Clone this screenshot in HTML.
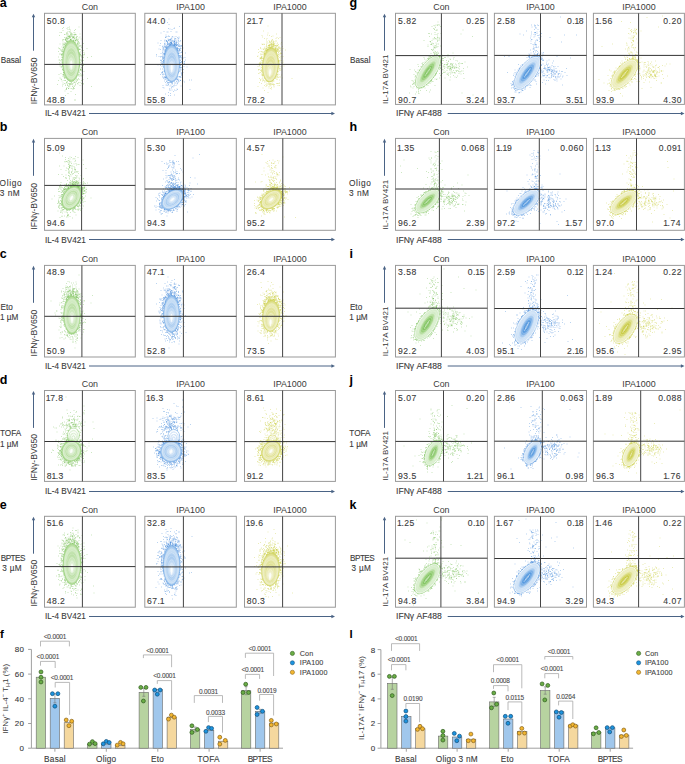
<!DOCTYPE html>
<html><head><meta charset="utf-8"><title>Figure</title>
<style>html,body{margin:0;padding:0;background:#fff;width:685px;height:764px;overflow:hidden;font-family:"Liberation Sans",sans-serif}svg{display:block}</style>
</head><body><svg width="685" height="764" viewBox="0 0 685 764" font-family='"Liberation Sans", sans-serif'><defs><radialGradient id="L0"><stop offset="0" stop-color="#ffffff"/><stop offset=".25" stop-color="#c9e7b8"/><stop offset=".55" stop-color="#a6d68a"/><stop offset="1" stop-color="#c9e7b8"/></radialGradient><radialGradient id="R0"><stop offset="0" stop-color="#7cc25a"/><stop offset=".35" stop-color="#7cc25a"/><stop offset=".7" stop-color="#a6d68a"/><stop offset="1" stop-color="#c9e7b8" stop-opacity="0"/></radialGradient><radialGradient id="L1"><stop offset="0" stop-color="#ffffff"/><stop offset=".25" stop-color="#bcd7f3"/><stop offset=".55" stop-color="#8ebbeb"/><stop offset="1" stop-color="#bcd7f3"/></radialGradient><radialGradient id="R1"><stop offset="0" stop-color="#4a92dc"/><stop offset=".35" stop-color="#4a92dc"/><stop offset=".7" stop-color="#8ebbeb"/><stop offset="1" stop-color="#bcd7f3" stop-opacity="0"/></radialGradient><radialGradient id="L2"><stop offset="0" stop-color="#ffffff"/><stop offset=".25" stop-color="#e6e7a6"/><stop offset=".55" stop-color="#d8da78"/><stop offset="1" stop-color="#e6e7a6"/></radialGradient><radialGradient id="R2"><stop offset="0" stop-color="#c6c83a"/><stop offset=".35" stop-color="#c6c83a"/><stop offset=".7" stop-color="#d8da78"/><stop offset="1" stop-color="#e6e7a6" stop-opacity="0"/></radialGradient><radialGradient id="g1" fx="0.500" fy="0.598"><stop offset="0" stop-color="#fafdf8"/><stop offset=".25" stop-color="#d9eecd"/><stop offset=".55" stop-color="#b8dea1"/><stop offset=".8" stop-color="#d4ecc6"/><stop offset="1" stop-color="#a6d68a"/></radialGradient><radialGradient id="g2" fx="0.500" fy="0.635"><stop offset="0" stop-color="#fafdf8"/><stop offset=".25" stop-color="#d0e3f7"/><stop offset=".55" stop-color="#a5c9ef"/><stop offset=".8" stop-color="#c9dff5"/><stop offset="1" stop-color="#8ebbeb"/></radialGradient><radialGradient id="g3" fx="0.500" fy="0.735"><stop offset="0" stop-color="#fafdf8"/><stop offset=".25" stop-color="#eeeec1"/><stop offset=".55" stop-color="#dfe08f"/><stop offset=".8" stop-color="#ebecb8"/><stop offset="1" stop-color="#d8da78"/></radialGradient><radialGradient id="g4" fx="0.500" fy="0.500"><stop offset="0" stop-color="#fafdf8"/><stop offset=".25" stop-color="#d9eecd"/><stop offset=".55" stop-color="#b8dea1"/><stop offset=".8" stop-color="#d4ecc6"/><stop offset="1" stop-color="#a6d68a"/></radialGradient><radialGradient id="g5" fx="0.500" fy="0.500"><stop offset="0" stop-color="#fafdf8"/><stop offset=".25" stop-color="#d0e3f7"/><stop offset=".55" stop-color="#a5c9ef"/><stop offset=".8" stop-color="#c9dff5"/><stop offset="1" stop-color="#8ebbeb"/></radialGradient><radialGradient id="g6" fx="0.500" fy="0.500"><stop offset="0" stop-color="#fafdf8"/><stop offset=".25" stop-color="#eeeec1"/><stop offset=".55" stop-color="#dfe08f"/><stop offset=".8" stop-color="#ebecb8"/><stop offset="1" stop-color="#d8da78"/></radialGradient><radialGradient id="g7" fx="0.500" fy="0.605"><stop offset="0" stop-color="#fafdf8"/><stop offset=".25" stop-color="#d9eecd"/><stop offset=".55" stop-color="#b8dea1"/><stop offset=".8" stop-color="#d4ecc6"/><stop offset="1" stop-color="#a6d68a"/></radialGradient><radialGradient id="g8" fx="0.500" fy="0.608"><stop offset="0" stop-color="#fafdf8"/><stop offset=".25" stop-color="#d0e3f7"/><stop offset=".55" stop-color="#a5c9ef"/><stop offset=".8" stop-color="#c9dff5"/><stop offset="1" stop-color="#8ebbeb"/></radialGradient><radialGradient id="g9" fx="0.500" fy="0.726"><stop offset="0" stop-color="#fafdf8"/><stop offset=".25" stop-color="#eeeec1"/><stop offset=".55" stop-color="#dfe08f"/><stop offset=".8" stop-color="#ebecb8"/><stop offset="1" stop-color="#d8da78"/></radialGradient><radialGradient id="g10" fx="0.500" fy="0.500"><stop offset="0" stop-color="#fafdf8"/><stop offset=".25" stop-color="#d9eecd"/><stop offset=".55" stop-color="#b8dea1"/><stop offset=".8" stop-color="#d4ecc6"/><stop offset="1" stop-color="#a6d68a"/></radialGradient><radialGradient id="g11" fx="0.500" fy="0.500"><stop offset="0" stop-color="#fafdf8"/><stop offset=".25" stop-color="#d0e3f7"/><stop offset=".55" stop-color="#a5c9ef"/><stop offset=".8" stop-color="#c9dff5"/><stop offset="1" stop-color="#8ebbeb"/></radialGradient><radialGradient id="g12" fx="0.500" fy="0.500"><stop offset="0" stop-color="#fafdf8"/><stop offset=".25" stop-color="#eeeec1"/><stop offset=".55" stop-color="#dfe08f"/><stop offset=".8" stop-color="#ebecb8"/><stop offset="1" stop-color="#d8da78"/></radialGradient><radialGradient id="g13" fx="0.500" fy="0.598"><stop offset="0" stop-color="#fafdf8"/><stop offset=".25" stop-color="#d9eecd"/><stop offset=".55" stop-color="#b8dea1"/><stop offset=".8" stop-color="#d4ecc6"/><stop offset="1" stop-color="#a6d68a"/></radialGradient><radialGradient id="g14" fx="0.500" fy="0.625"><stop offset="0" stop-color="#fafdf8"/><stop offset=".25" stop-color="#d0e3f7"/><stop offset=".55" stop-color="#a5c9ef"/><stop offset=".8" stop-color="#c9dff5"/><stop offset="1" stop-color="#8ebbeb"/></radialGradient><radialGradient id="g15" fx="0.500" fy="0.712"><stop offset="0" stop-color="#fafdf8"/><stop offset=".25" stop-color="#eeeec1"/><stop offset=".55" stop-color="#dfe08f"/><stop offset=".8" stop-color="#ebecb8"/><stop offset="1" stop-color="#d8da78"/></radialGradient></defs><text x="-0.3" y="6.6" font-size="12.50" text-anchor="start" fill="#000" font-weight="bold" >a</text><text x="349.6" y="6.6" font-size="12.50" text-anchor="start" fill="#000" font-weight="bold" >g</text><text x="0.7" y="62.8" font-size="8.20" text-anchor="start" fill="#3a3a3a" font-weight="normal" stroke="#3a3a3a" stroke-width=".1" letter-spacing="0.00">Basal</text><text x="350.0" y="62.8" font-size="8.20" text-anchor="start" fill="#3a3a3a" font-weight="normal" stroke="#3a3a3a" stroke-width=".1" letter-spacing="0.00">Basal</text><text x="89.9" y="9.6" font-size="8.90" text-anchor="middle" fill="#3a3a3a">Con</text><path transform="scale(.5)" d="M130 125h0M152 104h0M129 114h0M147 142h0M130 85h0M149 127h0M157 140h0M141 109h0M168 109h0M134 89h0M143 119h0M139 115h0M145 133h0M153 121h0M124 133h0M128 112h0M127 116h0M134 121h0M175 115h0M150 84h0M139 132h0M141 125h0M143 92h0M148 97h0M161 104h0M149 116h0M152 102h0M152 113h0M155 131h0M143 97h0M150 127h0M158 107h0M148 128h0M145 121h0M144 102h0M132 106h0M148 152h0M152 141h0M150 133h0M144 135h0M160 108h0M135 163h0M144 139h0M151 89h0M166 159h0M144 134h0M143 95h0M141 125h0M153 133h0M143 149h0M134 135h0M153 109h0M124 94h0M144 129h0M157 92h0M142 132h0M140 59h0M150 171h0M152 94h0M138 121h0M167 131h0M143 153h0M141 161h0M135 105h0M149 150h0M149 123h0M124 99h0M136 103h0M148 108h0M150 118h0M139 119h0M146 137h0M137 110h0M128 154h0M157 112h0M137 86h0M144 121h0M164 122h0M134 57h0M156 121h0M126 120h0M126 200h0M153 130h0M140 65h0M141 79h0M148 65h0M133 145h0M158 88h0M127 137h0M151 92h0M135 99h0M130 100h0M155 133h0M163 114h0M141 92h0M141 84h0M124 133h0M156 136h0M155 122h0M135 118h0M138 89h0M125 80h0M142 120h0M137 150h0M144 130h0M154 96h0M122 134h0M135 147h0M145 140h0M150 66h0M149 100h0M134 106h0M150 137h0M152 76h0M136 59h0M141 130h0M134 122h0M144 140h0M134 96h0M134 158h0M153 113h0M144 119h0M144 111h0M139 86h0M136 156h0M147 118h0M140 118h0M146 100h0M144 122h0M135 97h0M132 90h0M151 59h0M139 101h0M136 118h0M153 118h0M141 101h0M141 138h0M138 88h0M129 89h0M128 142h0M146 110h0M157 100h0M150 135h0M127 79h0M133 138h0M155 87h0M152 107h0M138 103h0M139 72h0M132 86h0M147 166h0M169 108h0M125 106h0M133 164h0M148 99h0M151 129h0M126 103h0M140 116h0M143 108h0M144 102h0M133 152h0M146 127h0M126 112h0M150 85h0M153 107h0M146 113h0M144 145h0M138 154h0M134 94h0M149 90h0M138 138h0M154 73h0M147 161h0M154 110h0M136 109h0M130 110h0M140 113h0M154 110h0M127 141h0M131 105h0M141 108h0M132 110h0M164 101h0M141 143h0M149 134h0M151 69h0M133 119h0M147 147h0M147 110h0M142 111h0M144 132h0M139 96h0M133 142h0M155 140h0M151 136h0M142 132h0M131 111h0M135 133h0M136 113h0M146 149h0M134 93h0M150 89h0M147 102h0M141 72h0M149 104h0M133 166h0M149 200h0M146 108h0M143 155h0M142 127h0M147 94h0M143 104h0M130 137h0M149 118h0M133 68h0M147 114h0M125 115h0M127 115h0M143 125h0M144 120h0M131 107h0M137 110h0M145 131h0M158 54h0M146 111h0M165 138h0M125 126h0M137 140h0M131 114h0M141 114h0M136 72h0M147 140h0M141 92h0M144 130h0M140 116h0M156 89h0M136 70h0M135 98h0M132 99h0M160 111h0M141 169h0M141 74h0M146 94h0M158 86h0M136 77h0M143 92h0M141 107h0M136 139h0M151 117h0M133 90h0M145 173h0M137 97h0M135 90h0M132 111h0M156 116h0M137 77h0M144 115h0M130 90h0M142 140h0M148 121h0M139 124h0M142 168h0M131 107h0M155 110h0M156 115h0M143 107h0M128 93h0M164 131h0M148 139h0M148 141h0M139 111h0M152 108h0M129 111h0M137 131h0M135 91h0M139 153h0M142 120h0M142 123h0M151 149h0M126 149h0M142 108h0M166 112h0M161 139h0M132 128h0M149 113h0M119 108h0M140 89h0M160 110h0M138 109h0M134 97h0M143 124h0M137 114h0M128 129h0M135 121h0M133 104h0M144 87h0M167 115h0M141 98h0M158 149h0M145 83h0M137 131h0M137 88h0M130 97h0M142 100h0M142 183h0M160 91h0M145 118h0M141 141h0M139 108h0M138 114h0M155 135h0M129 105h0M134 136h0M144 137h0M141 70h0M147 121h0M147 85h0M143 99h0M135 124h0M146 95h0M125 57h0M136 143h0M141 62h0M133 126h0M159 144h0M146 121h0M131 105h0M139 97h0M143 107h0M145 150h0M117 96h0M168 143h0M133 77h0M139 147h0M139 74h0M167 128h0M183 173h0M183 113h0M174 97h0M135 108h0M157 106h0M128 161h0M127 149h0M149 69h0M153 80h0M163 95h0M126 111h0M159 113h0M125 109h0M139 54h0M162 149h0M157 95h0M117 114h0M123 159h0M124 124h0M138 72h0M151 81h0M156 79h0M168 105h0M124 115h0M131 90h0M127 145h0M137 173h0M164 142h0M156 80h0M126 99h0M146 75h0M144 169h0M137 74h0M133 177h0M149 85h0M167 87h0M123 108h0M158 134h0M150 69h0M140 163h0M154 94h0M130 153h0M128 96h0M156 86h0M131 91h0M156 168h0M165 122h0M128 103h0M124 128h0M161 109h0M147 75h0M147 76h0M121 108h0M133 178h0M165 150h0M131 156h0M167 168h0M152 80h0M160 125h0M124 103h0M160 125h0M133 76h0M136 171h0M130 147h0M140 74h0M159 108h0M132 87h0M134 83h0M151 166h0M129 92h0M149 72h0M123 119h0M145 74h0M152 70h0M164 116h0M131 79h0M133 156h0M163 161h0M150 86h0M155 167h0M130 161h0M157 165h0M139 83h0M149 165h0M134 67h0M133 165h0M125 172h0M160 171h0M123 109h0M158 99h0M152 69h0M137 177h0M143 165h0M135 78h0M159 119h0M131 80h0M124 162h0M148 70h0M155 159h0M139 72h0M138 81h0M161 110h0M120 132h0M144 68h0M120 127h0M120 156h0M121 100h0M126 139h0M136 55h0M141 83h0M131 81h0M122 121h0M162 138h0M136 160h0M167 121h0M129 69h0M146 172h0M120 98h0M158 159h0M143 71h0M162 93h0M128 148h0M159 130h0M131 191h0M128 88h0M162 120h0M126 61h0M151 189h0M149 164h0M140 81h0M156 98h0M136 78h0M145 72h0M147 75h0M131 76h0M159 86h0M146 179h0M139 169h0M162 151h0M149 76h0M142 168h0M143 73h0M139 172h0M168 110h0M128 151h0M127 95h0M131 155h0M119 120h0M134 79h0M140 75h0M125 139h0M146 83h0M147 176h0M125 90h0M126 103h0M162 127h0M127 138h0M166 150h0M127 105h0M155 161h0M163 135h0M140 172h0M158 145h0M153 163h0M153 76h0M147 81h0M126 125h0M125 102h0M148 80h0M138 82h0M159 131h0M124 101h0M125 132h0M126 166h0M159 132h0M129 75h0M156 84h0M126 153h0M130 150h0M151 169h0M146 69h0M133 178h0M142 79h0M136 82h0M147 74h0M129 148h0M131 78h0M144 78h0M136 73h0M161 147h0M160 99h0M148 82h0M136 160h0M139 73h0M140 78h0M139 168h0M127 148h0M137 167h0M157 98h0M123 102h0M134 86h0M147 177h0M124 119h0M126 141h0M161 139h0M157 83h0M152 164h0M134 75h0M153 158h0M127 89h0M161 140h0M163 140h0M134 74h0M156 96h0M141 167h0M126 87h0M126 169h0M129 88h0M127 145h0M162 78h0M154 78h0M135 166h0M141 79h0M163 122h0M128 101h0M117 103h0M162 113h0M131 161h0M134 66h0M163 111h0M119 125h0M142 66h0M139 76h0M147 82h0M159 152h0M145 74h0M152 158h0M142 164h0M147 83h0M138 74h0M131 168h0M119 97h0M137 73h0M160 165h0M143 81h0M126 98h0M136 85h0M120 65h0M165 139h0M136 63h0M141 80h0M123 109h0M149 77h0M137 177h0M165 115h0M136 83h0M135 77h0M139 83h0M145 76h0M145 168h0M146 83h0M158 93h0M124 126h0M149 173h0M148 84h0M162 140h0M138 176h0M160 74h0M151 80h0M144 68h0M134 175h0M144 83h0M124 114h0M122 158h0M151 82h0M158 110h0M145 82h0M133 81h0M130 79h0M156 86h0M158 148h0M142 66h0M148 80h0M129 167h0M129 145h0M123 111h0M130 182h0M166 167h0M147 175h0M139 63h0M160 108h0M154 82h0M130 69h0M158 76h0M118 120h0M134 70h0M133 82h0M127 95h0M132 79h0M126 96h0M125 130h0M141 80h0M115 169h0M157 157h0M151 89h0M159 105h0M126 84h0M142 177h0M124 135h0M139 167h0M158 141h0M144 177h0M160 68h0M134 83h0M160 132h0M155 88h0M128 151h0M119 71h0M149 177h0M156 90h0M158 97h0M154 73h0M131 87h0M126 80h0M134 65h0M141 83h0M135 169h0M122 147h0M117 161h0M133 155h0M144 167h0M136 187h0M133 76h0M142 78h0M134 83h0M125 138h0M159 99h0M147 73h0M151 81h0M120 88h0M162 152h0M129 154h0M159 92h0M164 130h0M125 131h0M127 55h0M162 120h0M153 75h0M175 157h0M126 150h0M151 200h0M153 153h0M152 161h0M131 94h0M139 58h0M163 167h0M159 108h0M166 130h0M156 150h0M135 171h0M155 81h0M142 79h0M146 162h0M126 107h0M136 68h0M128 145h0M154 91h0M152 155h0M140 74h0M156 84h0M123 65h0M162 136h0M157 150h0M131 171h0M167 101h0M122 122h0M150 76h0M122 129h0M118 149h0M161 140h0M126 110h0M129 155h0M142 67h0M159 124h0M129 100h0M129 157h0M127 92h0M132 179h0M140 83h0M148 74h0M154 88h0M164 152h0M153 79h0M149 61h0M165 142h0M125 108h0M160 99h0M141 69h0M135 82h0M146 81h0M143 69h0M156 152h0M162 91h0M133 84h0" stroke="#72bf52" stroke-opacity=".42" stroke-width="1.7" stroke-linecap="square"/><g transform="translate(71.2 61.0) rotate(0.0)"><ellipse rx="8.6" ry="20.5" fill="url(#g1)" stroke="#8fcd72" stroke-width=".6" stroke-opacity=".8"/><ellipse cx="0.00" cy="0.57" rx="7.37" ry="17.57" fill="none" stroke="#fff" stroke-width=".4" stroke-opacity=".6"/><ellipse cx="0.00" cy="1.14" rx="6.14" ry="14.64" fill="none" stroke="#fff" stroke-width=".4" stroke-opacity=".6"/><ellipse cx="0.00" cy="1.71" rx="4.91" ry="11.71" fill="none" stroke="#fff" stroke-width=".4" stroke-opacity=".6"/><ellipse cx="0.00" cy="2.29" rx="3.69" ry="8.79" fill="none" stroke="#fff" stroke-width=".4" stroke-opacity=".6"/><ellipse cx="0.00" cy="2.86" rx="2.46" ry="5.86" fill="none" stroke="#fff" stroke-width=".4" stroke-opacity=".6"/><ellipse cx="0.00" cy="3.43" rx="1.23" ry="2.93" fill="none" stroke="#fff" stroke-width=".4" stroke-opacity=".6"/><ellipse cx="0.00" cy="4.00" rx="0.86" ry="4.51" fill="#fff" fill-opacity=".75"/></g><rect x="44.5" y="13.3" width="90.8" height="91.6" fill="none" stroke="#999999" stroke-width="1"/><line x1="82.4" y1="13.3" x2="82.4" y2="104.9" stroke="#444" stroke-width="1"/><line x1="44.5" y1="64.4" x2="135.3" y2="64.4" stroke="#333333" stroke-width="1"/><text x="46.8" y="24.0" font-size="8.60" text-anchor="start" fill="#3a3a3a" font-weight="normal" stroke="#3a3a3a" stroke-width=".1" letter-spacing=".45">50.8</text><text x="46.8" y="102.6" font-size="8.60" text-anchor="start" fill="#3a3a3a" font-weight="normal" stroke="#3a3a3a" stroke-width=".1" letter-spacing=".45">48.8</text><text x="190.6" y="9.6" font-size="8.90" text-anchor="middle" fill="#3a3a3a">IPA100</text><path transform="scale(.5)" d="M345 96h0M365 68h0M334 124h0M352 73h0M338 153h0M356 112h0M342 97h0M346 93h0M322 81h0M343 86h0M353 149h0M352 134h0M353 125h0M351 129h0M350 94h0M335 94h0M350 130h0M334 94h0M336 139h0M341 112h0M335 115h0M358 102h0M339 159h0M349 91h0M353 88h0M348 57h0M332 140h0M336 101h0M343 118h0M337 102h0M360 154h0M345 90h0M337 111h0M347 157h0M337 122h0M338 122h0M335 127h0M354 109h0M339 121h0M329 162h0M329 109h0M333 154h0M337 106h0M361 115h0M334 118h0M344 100h0M340 113h0M349 137h0M350 115h0M350 113h0M354 128h0M338 148h0M327 95h0M334 115h0M330 89h0M323 121h0M334 171h0M350 91h0M355 121h0M353 91h0M354 145h0M338 98h0M338 125h0M366 162h0M357 113h0M339 127h0M339 107h0M340 139h0M341 124h0M339 113h0M339 149h0M344 154h0M340 144h0M328 108h0M341 103h0M341 96h0M340 102h0M342 111h0M332 108h0M342 87h0M343 148h0M340 131h0M348 99h0M355 179h0M332 170h0M335 153h0M324 146h0M343 87h0M334 93h0M333 127h0M340 58h0M339 129h0M343 159h0M324 124h0M342 136h0M329 87h0M340 120h0M324 127h0M342 136h0M316 130h0M333 107h0M350 159h0M344 116h0M355 97h0M341 106h0M332 123h0M363 124h0M347 117h0M353 123h0M333 121h0M357 116h0M354 116h0M362 125h0M349 111h0M350 113h0M327 125h0M330 154h0M350 119h0M349 56h0M358 102h0M349 180h0M326 108h0M346 128h0M325 96h0M357 104h0M348 85h0M333 74h0M345 146h0M343 112h0M345 129h0M339 132h0M362 172h0M336 88h0M361 142h0M354 133h0M340 142h0M353 147h0M331 143h0M339 110h0M346 110h0M365 132h0M345 114h0M345 113h0M348 139h0M351 88h0M339 120h0M330 127h0M341 120h0M346 103h0M358 143h0M337 129h0M350 100h0M339 135h0M316 86h0M345 133h0M333 139h0M364 123h0M342 120h0M332 132h0M344 136h0M356 119h0M344 126h0M360 83h0M342 103h0M343 138h0M343 136h0M344 101h0M335 85h0M344 109h0M351 142h0M333 92h0M348 97h0M344 133h0M338 161h0M334 129h0M338 49h0M340 114h0M348 115h0M335 106h0M339 137h0M339 148h0M351 100h0M352 64h0M342 95h0M341 146h0M342 114h0M355 100h0M334 142h0M348 84h0M344 137h0M340 109h0M343 123h0M335 138h0M326 116h0M364 93h0M342 63h0M334 91h0M343 106h0M361 96h0M342 124h0M349 140h0M326 171h0M339 101h0M326 108h0M324 123h0M336 126h0M334 120h0M364 146h0M344 95h0M357 77h0M328 149h0M336 151h0M348 171h0M360 132h0M336 132h0M356 122h0M313 109h0M338 117h0M339 146h0M329 129h0M322 66h0M332 100h0M333 101h0M348 132h0M343 123h0M335 94h0M328 108h0M331 110h0M349 131h0M355 96h0M320 91h0M362 135h0M338 150h0M338 158h0M338 108h0M349 91h0M340 165h0M346 92h0M339 117h0M334 128h0M355 119h0M351 125h0M343 100h0M352 151h0M337 97h0M347 120h0M353 130h0M341 85h0M348 120h0M329 82h0M324 133h0M338 38h0M333 103h0M341 119h0M339 136h0M352 113h0M358 115h0M333 122h0M328 111h0M331 108h0M344 59h0M346 124h0M340 135h0M345 109h0M332 136h0M350 82h0M335 89h0M350 104h0M329 154h0M347 124h0M344 114h0M342 139h0M346 107h0M343 163h0M336 86h0M343 90h0M368 133h0M348 127h0M362 93h0M341 78h0M354 116h0M360 111h0M331 101h0M350 98h0M345 100h0M335 104h0M358 92h0M345 137h0M334 82h0M357 160h0M339 89h0M351 117h0M334 108h0M318 98h0M330 86h0M348 124h0M359 53h0M335 97h0M355 143h0M343 120h0M334 105h0M337 57h0M361 135h0M363 148h0M347 138h0M325 93h0M350 108h0M326 117h0M329 118h0M358 90h0M337 131h0M342 122h0M333 109h0M318 113h0M355 90h0M340 135h0M354 146h0M333 107h0M360 106h0M345 97h0M335 45h0M336 64h0M332 94h0M355 136h0M346 105h0M328 129h0M333 115h0M351 113h0M341 93h0M352 130h0M349 157h0M325 118h0M348 126h0M345 129h0M326 115h0M354 116h0M340 138h0M324 127h0M357 111h0M333 130h0M337 97h0M343 77h0M349 88h0M336 135h0M341 124h0M356 154h0M363 104h0M351 77h0M350 149h0M334 129h0M350 113h0M335 154h0M328 121h0M351 123h0M358 153h0M346 161h0M349 87h0M338 124h0M344 76h0M365 79h0M330 128h0M344 155h0M344 127h0M349 100h0M329 106h0M352 111h0M354 104h0M349 118h0M350 118h0M344 106h0M354 117h0M347 133h0M333 97h0M341 148h0M331 93h0M332 108h0M331 98h0M347 91h0M342 89h0M340 130h0M328 63h0M334 64h0M374 134h0M333 83h0M379 160h0M365 143h0M370 115h0M342 126h0M380 179h0M383 160h0M322 120h0M327 123h0M355 96h0M343 84h0M358 74h0M325 145h0M328 104h0M360 99h0M348 172h0M329 109h0M339 86h0M363 150h0M361 125h0M351 88h0M360 113h0M350 93h0M327 134h0M353 86h0M330 92h0M339 91h0M325 128h0M359 100h0M344 82h0M356 82h0M332 100h0M339 79h0M330 154h0M353 98h0M322 113h0M354 178h0M343 84h0M364 152h0M327 117h0M332 102h0M366 145h0M346 92h0M355 100h0M353 96h0M351 89h0M350 77h0M333 97h0M356 165h0M343 86h0M337 81h0M328 156h0M328 94h0M332 154h0M342 92h0M336 73h0M352 171h0M361 161h0M342 81h0M364 115h0M321 99h0M335 98h0M354 159h0M341 85h0M335 165h0M352 181h0M341 191h0M348 87h0M329 115h0M359 127h0M341 165h0M339 73h0M353 98h0M327 148h0M342 85h0M354 64h0M348 162h0M346 90h0M333 81h0M355 99h0M355 75h0M337 93h0M341 90h0M348 74h0M330 95h0M361 92h0M325 102h0M337 191h0M329 90h0M342 163h0M326 125h0M331 104h0M360 125h0M322 125h0M327 156h0M328 132h0M340 90h0M352 85h0M328 100h0M332 156h0M354 90h0M360 97h0M359 142h0M357 93h0M354 158h0M335 85h0M356 106h0M330 104h0M338 165h0M364 150h0M361 113h0M362 97h0M362 138h0M363 112h0M344 165h0M343 85h0M334 163h0M328 107h0M351 92h0M333 95h0M361 121h0M358 163h0M346 82h0M359 92h0M330 159h0M331 158h0M354 90h0M334 83h0M343 174h0M359 153h0M338 82h0M354 102h0M347 183h0M333 158h0M351 97h0M333 98h0M347 89h0M349 80h0M331 106h0M367 139h0M326 175h0M358 89h0M362 155h0M338 90h0M369 124h0M345 73h0M327 134h0M326 119h0M326 123h0M349 78h0M350 93h0M364 115h0M348 91h0M355 89h0M368 127h0M355 101h0M332 82h0M335 95h0M349 87h0M313 112h0M351 96h0M353 163h0M344 91h0M349 89h0M346 174h0M356 158h0M344 166h0M321 149h0M321 138h0M339 88h0M354 97h0M354 94h0M362 111h0M332 154h0M355 159h0M330 80h0M345 164h0M348 83h0M345 88h0M331 165h0M358 76h0M329 102h0M341 90h0M338 166h0M353 91h0M361 81h0M339 80h0M358 114h0M344 167h0M347 91h0M326 152h0M352 92h0M324 129h0M340 82h0M341 92h0M359 93h0M348 90h0M321 129h0M344 86h0M363 91h0M333 81h0M327 121h0M344 74h0M326 99h0M331 155h0M354 168h0M321 131h0M337 168h0M342 92h0M359 101h0M356 98h0M360 135h0M356 100h0M355 154h0M361 161h0M325 154h0M360 112h0M357 107h0M325 138h0M328 98h0M343 87h0M357 111h0M348 84h0M361 138h0M340 92h0M322 107h0M336 161h0M353 157h0M362 116h0M362 105h0M329 108h0M321 114h0M325 130h0M362 124h0M336 78h0M359 98h0M349 90h0M335 83h0M336 90h0M328 100h0M366 96h0M331 103h0M331 102h0M348 81h0M331 75h0M351 80h0M324 146h0M357 91h0M353 82h0M364 123h0M366 124h0M359 99h0M334 156h0M341 87h0M336 171h0M325 149h0M334 161h0M357 97h0M337 185h0M340 92h0M354 78h0M337 80h0M332 104h0M369 123h0M355 167h0M357 162h0M353 99h0M357 142h0M337 169h0M331 188h0M362 91h0M343 176h0M352 91h0M340 91h0M369 127h0M352 86h0M342 89h0M327 121h0M340 87h0M334 168h0M337 88h0M328 176h0M358 135h0M344 88h0M341 79h0M334 98h0M353 84h0M333 153h0M337 165h0M359 134h0M341 84h0M337 93h0M354 164h0M358 107h0M333 154h0M361 120h0M338 87h0M328 143h0M337 72h0M342 170h0M344 162h0M329 115h0M340 90h0M349 168h0M339 178h0M357 80h0M357 82h0M328 156h0M358 104h0M357 145h0M327 97h0M357 87h0M350 84h0M356 161h0M363 135h0M332 70h0M352 95h0M341 89h0M345 82h0M329 142h0M367 116h0M340 181h0M363 146h0M354 158h0M362 146h0M351 89h0M354 96h0M347 91h0M340 92h0M338 91h0M353 86h0M332 92h0M330 88h0M325 112h0M358 115h0M328 113h0M344 90h0M360 134h0M361 131h0M344 180h0M340 172h0M340 162h0M332 73h0M333 163h0M333 95h0M336 89h0M360 155h0M340 178h0M364 105h0M321 87h0M331 99h0M356 85h0M325 105h0M329 142h0M324 113h0M335 87h0M353 89h0M356 101h0M321 121h0M351 166h0M347 91h0M349 83h0M329 93h0M329 107h0M349 190h0M326 92h0M334 88h0M341 80h0M371 120h0M360 126h0M360 131h0M340 90h0M342 79h0M331 95h0M361 153h0M337 80h0M352 160h0M349 89h0M331 155h0M369 164h0M357 107h0M332 96h0M325 143h0M360 160h0M348 90h0M335 166h0M326 115h0M362 140h0M344 80h0M349 83h0M349 84h0M345 173h0M343 165h0M329 141h0M341 187h0M324 145h0M326 114h0M371 106h0M359 111h0M331 75h0M344 88h0M337 160h0M363 118h0M361 101h0M345 168h0M357 111h0M349 164h0" stroke="#3b86d6" stroke-opacity=".42" stroke-width="1.7" stroke-linecap="square"/><g transform="translate(171.7 63.5) rotate(0.0)"><ellipse rx="8.0" ry="18.5" fill="url(#g2)" stroke="#6ea7e4" stroke-width=".6" stroke-opacity=".8"/><ellipse cx="0.00" cy="0.71" rx="6.86" ry="15.86" fill="none" stroke="#fff" stroke-width=".4" stroke-opacity=".6"/><ellipse cx="0.00" cy="1.43" rx="5.71" ry="13.21" fill="none" stroke="#fff" stroke-width=".4" stroke-opacity=".6"/><ellipse cx="0.00" cy="2.14" rx="4.57" ry="10.57" fill="none" stroke="#fff" stroke-width=".4" stroke-opacity=".6"/><ellipse cx="0.00" cy="2.86" rx="3.43" ry="7.93" fill="none" stroke="#fff" stroke-width=".4" stroke-opacity=".6"/><ellipse cx="0.00" cy="3.57" rx="2.29" ry="5.29" fill="none" stroke="#fff" stroke-width=".4" stroke-opacity=".6"/><ellipse cx="0.00" cy="4.29" rx="1.14" ry="2.64" fill="none" stroke="#fff" stroke-width=".4" stroke-opacity=".6"/><ellipse cx="0.00" cy="5.00" rx="0.80" ry="4.07" fill="#fff" fill-opacity=".75"/></g><rect x="144.8" y="13.3" width="91.5" height="91.6" fill="none" stroke="#999999" stroke-width="1"/><line x1="182.5" y1="13.3" x2="182.5" y2="104.9" stroke="#444" stroke-width="1"/><line x1="144.8" y1="64.4" x2="236.3" y2="64.4" stroke="#333333" stroke-width="1"/><text x="147.1" y="24.0" font-size="8.60" text-anchor="start" fill="#3a3a3a" font-weight="normal" stroke="#3a3a3a" stroke-width=".1" letter-spacing=".45">44.0</text><text x="147.1" y="102.6" font-size="8.60" text-anchor="start" fill="#3a3a3a" font-weight="normal" stroke="#3a3a3a" stroke-width=".1" letter-spacing=".45">55.8</text><text x="289.9" y="9.6" font-size="8.90" text-anchor="middle" fill="#3a3a3a">IPA1000</text><path transform="scale(.5)" d="M534 114h0M539 123h0M547 88h0M541 127h0M555 91h0M533 142h0M541 146h0M541 108h0M541 149h0M548 127h0M542 146h0M547 128h0M548 125h0M531 142h0M552 153h0M541 96h0M545 110h0M524 126h0M534 124h0M537 140h0M549 133h0M552 111h0M563 85h0M548 145h0M538 125h0M530 113h0M544 95h0M524 115h0M534 102h0M540 93h0M551 147h0M541 110h0M541 120h0M534 108h0M545 103h0M535 113h0M532 128h0M530 142h0M548 122h0M549 146h0M538 121h0M536 114h0M538 124h0M546 169h0M544 143h0M539 158h0M542 119h0M539 123h0M538 126h0M557 124h0M534 83h0M540 101h0M534 125h0M544 132h0M551 102h0M535 103h0M532 108h0M533 137h0M532 169h0M523 140h0M527 112h0M530 122h0M545 113h0M535 101h0M533 104h0M535 123h0M549 107h0M523 114h0M548 100h0M544 97h0M530 126h0M524 113h0M517 99h0M544 111h0M534 133h0M533 97h0M537 120h0M542 118h0M551 133h0M539 170h0M527 127h0M534 167h0M543 139h0M544 153h0M536 141h0M525 133h0M551 140h0M546 81h0M541 114h0M554 133h0M546 149h0M545 92h0M534 77h0M551 117h0M529 132h0M537 115h0M552 77h0M528 119h0M538 145h0M537 132h0M556 92h0M528 106h0M539 98h0M543 105h0M551 132h0M547 126h0M542 86h0M539 83h0M552 97h0M533 111h0M560 97h0M556 124h0M564 116h0M536 121h0M536 106h0M547 111h0M549 134h0M549 155h0M550 101h0M553 68h0M552 147h0M531 148h0M524 143h0M537 115h0M539 109h0M547 120h0M540 122h0M537 100h0M546 139h0M530 142h0M552 125h0M554 75h0M553 105h0M543 102h0M562 112h0M547 90h0M538 130h0M540 105h0M554 88h0M541 118h0M537 135h0M543 117h0M547 120h0M545 148h0M543 123h0M536 151h0M549 133h0M543 104h0M541 128h0M530 101h0M540 162h0M544 90h0M552 140h0M547 110h0M540 168h0M524 88h0M537 102h0M535 137h0M553 91h0M546 140h0M543 150h0M551 104h0M542 127h0M530 116h0M550 130h0M541 177h0M546 142h0M533 148h0M537 118h0M537 94h0M546 95h0M548 104h0M552 129h0M551 98h0M546 137h0M543 119h0M536 52h0M545 94h0M531 130h0M517 105h0M547 122h0M539 105h0M542 89h0M536 139h0M533 119h0M538 95h0M523 103h0M534 99h0M540 128h0M547 129h0M530 152h0M544 137h0M529 145h0M562 133h0M551 109h0M542 121h0M547 125h0M543 102h0M530 121h0M564 100h0M546 151h0M535 86h0M544 121h0M533 154h0M547 122h0M529 149h0M551 140h0M556 99h0M532 141h0M545 121h0M537 144h0M543 141h0M531 123h0M545 144h0M526 117h0M535 122h0M540 131h0M548 128h0M540 141h0M554 123h0M534 160h0M549 169h0M537 114h0M539 120h0M528 140h0M527 62h0M541 99h0M543 97h0M529 77h0M530 116h0M560 137h0M535 151h0M543 81h0M525 89h0M536 123h0M535 110h0M532 126h0M548 99h0M552 104h0M538 158h0M547 123h0M524 124h0M538 117h0M551 110h0M557 123h0M543 115h0M542 152h0M543 100h0M534 148h0M546 103h0M540 124h0M546 101h0M542 94h0M534 117h0M553 120h0M556 130h0M553 119h0M525 74h0M537 161h0M539 92h0M560 75h0M524 71h0M562 106h0M584 157h0M553 101h0M536 66h0M519 165h0M542 87h0M546 97h0M529 110h0M560 138h0M561 100h0M561 116h0M547 85h0M547 92h0M540 89h0M547 99h0M554 154h0M542 172h0M537 96h0M527 104h0M560 154h0M557 122h0M544 89h0M555 98h0M538 92h0M533 101h0M540 95h0M525 138h0M528 108h0M536 95h0M562 140h0M528 106h0M527 98h0M544 93h0M563 150h0M559 96h0M558 132h0M527 160h0M557 135h0M561 120h0M520 129h0M548 83h0M543 92h0M554 159h0M538 168h0M561 106h0M537 91h0M521 97h0M523 116h0M545 164h0M533 160h0M543 162h0M525 152h0M537 99h0M557 155h0M521 127h0M565 128h0M534 94h0M546 90h0M550 99h0M559 102h0M528 110h0M541 84h0M532 173h0M557 110h0M532 106h0M557 122h0M550 91h0M539 91h0M556 167h0M566 125h0M558 137h0M547 91h0M557 95h0M552 98h0M549 88h0M550 86h0M552 98h0M526 147h0M533 101h0M530 97h0M525 162h0M521 95h0M553 167h0M554 149h0M557 113h0M537 166h0M555 143h0M538 95h0M536 162h0M523 117h0M539 98h0M529 89h0M521 145h0M525 135h0M556 100h0M535 163h0M544 169h0M546 89h0M529 107h0M522 126h0M551 100h0M531 157h0M564 134h0M543 178h0M547 168h0M555 86h0M542 97h0M559 126h0M557 143h0M516 133h0M539 162h0M557 77h0M548 98h0M541 96h0M519 132h0M563 107h0M548 172h0M543 97h0M558 124h0M537 163h0M529 103h0M555 167h0M524 150h0M536 185h0M556 100h0M556 171h0M558 122h0M521 108h0M532 164h0M565 156h0M558 128h0M547 93h0M553 103h0M517 140h0M531 103h0M533 171h0M545 79h0M562 125h0M531 98h0M554 154h0M555 150h0M529 164h0M534 97h0M519 130h0M524 150h0M548 97h0M530 162h0M559 160h0M540 97h0M532 99h0M527 99h0M558 140h0M543 168h0M557 106h0M562 96h0M526 89h0M566 113h0M530 99h0M541 168h0M534 102h0M544 80h0M517 139h0M546 163h0M541 89h0M516 112h0M555 112h0M537 91h0M535 99h0M571 100h0M546 97h0M541 98h0M548 95h0M530 157h0M552 156h0M559 128h0M551 91h0M563 121h0M552 102h0M566 97h0M545 94h0M524 109h0M523 120h0M538 81h0M541 170h0M554 102h0M539 90h0M542 166h0M529 109h0M549 88h0M565 129h0M550 98h0M536 97h0M558 138h0M558 94h0M533 90h0M548 162h0M558 121h0M561 108h0M550 92h0M545 97h0M541 91h0M557 105h0M532 101h0M552 91h0M527 151h0M543 87h0M546 86h0M524 146h0M523 114h0M552 95h0M539 71h0M521 161h0M528 156h0M518 128h0M537 100h0M548 174h0M551 96h0M559 122h0M524 140h0M525 121h0M526 150h0M522 134h0M546 161h0M521 124h0M536 100h0M555 141h0M519 139h0M561 122h0M554 158h0M545 168h0M554 103h0M534 101h0M520 103h0M519 146h0M543 95h0M568 132h0M554 101h0M530 107h0M523 142h0M526 117h0M525 104h0M560 107h0M533 80h0M543 93h0M529 96h0M560 102h0M556 100h0M543 95h0M535 170h0M557 98h0M521 159h0M546 72h0M550 97h0M551 157h0M529 105h0M520 118h0M540 85h0M551 99h0M555 149h0M552 101h0M523 131h0M539 163h0M523 167h0M517 147h0M538 176h0M558 149h0M526 176h0M553 93h0M543 89h0M524 158h0M523 135h0M524 108h0M543 91h0M559 171h0M524 148h0M529 181h0M538 97h0M520 116h0M558 167h0M533 90h0M538 86h0M554 94h0M558 94h0M557 89h0M532 106h0M524 129h0M520 127h0M544 94h0M545 88h0M525 145h0M526 142h0M544 85h0M525 156h0M550 96h0M543 83h0M562 113h0M548 93h0M557 109h0M543 175h0M538 90h0M538 166h0M539 94h0M522 110h0M522 115h0M559 110h0M544 83h0M520 126h0M534 163h0M525 124h0M555 100h0M555 98h0M521 116h0M524 121h0M535 99h0M560 154h0M553 151h0M534 99h0M541 95h0M555 143h0M536 92h0M528 109h0M530 103h0M560 96h0M519 157h0M566 122h0M529 107h0M542 97h0M540 95h0M521 141h0M559 166h0M551 82h0M536 99h0M556 97h0M556 133h0M565 93h0M537 162h0M545 92h0M553 82h0M559 115h0M549 91h0M552 97h0M557 102h0M535 70h0M533 97h0M530 94h0M524 98h0M543 88h0M534 100h0M540 95h0M553 106h0M516 173h0M555 154h0M534 95h0M533 86h0M546 88h0M521 117h0M538 173h0M551 94h0M528 161h0M533 93h0M539 84h0M528 88h0M525 149h0M547 86h0M551 153h0M522 138h0M559 134h0M538 91h0M522 117h0M559 130h0M524 104h0M564 138h0M525 151h0M556 146h0M526 117h0M529 156h0M562 88h0M555 103h0M558 103h0M557 121h0M538 98h0M560 141h0M538 169h0M555 111h0M547 89h0M547 88h0M543 97h0M539 90h0M525 137h0M531 101h0M547 83h0M519 126h0M543 73h0M515 113h0M523 142h0M529 171h0M553 99h0M547 170h0M551 154h0M558 129h0M532 160h0M556 152h0M555 91h0M540 167h0M526 160h0" stroke="#c9cb3a" stroke-opacity=".42" stroke-width="1.7" stroke-linecap="square"/><g transform="translate(270.5 65.0) rotate(4.0)"><ellipse rx="8.0" ry="17.0" fill="url(#g3)" stroke="#cfd15a" stroke-width=".6" stroke-opacity=".8"/><ellipse cx="0.00" cy="1.14" rx="6.86" ry="14.57" fill="none" stroke="#fff" stroke-width=".4" stroke-opacity=".6"/><ellipse cx="0.00" cy="2.29" rx="5.71" ry="12.14" fill="none" stroke="#fff" stroke-width=".4" stroke-opacity=".6"/><ellipse cx="0.00" cy="3.43" rx="4.57" ry="9.71" fill="none" stroke="#fff" stroke-width=".4" stroke-opacity=".6"/><ellipse cx="0.00" cy="4.57" rx="3.43" ry="7.29" fill="none" stroke="#fff" stroke-width=".4" stroke-opacity=".6"/><ellipse cx="0.00" cy="5.71" rx="2.29" ry="4.86" fill="none" stroke="#fff" stroke-width=".4" stroke-opacity=".6"/><ellipse cx="0.00" cy="6.86" rx="1.14" ry="2.43" fill="none" stroke="#fff" stroke-width=".4" stroke-opacity=".6"/><ellipse cx="0.00" cy="8.00" rx="0.80" ry="3.74" fill="#fff" fill-opacity=".75"/></g><rect x="244.5" y="13.3" width="90.9" height="91.6" fill="none" stroke="#999999" stroke-width="1"/><line x1="282.0" y1="13.3" x2="282.0" y2="104.9" stroke="#444" stroke-width="1"/><line x1="244.5" y1="64.4" x2="335.4" y2="64.4" stroke="#333333" stroke-width="1"/><text x="246.8" y="24.0" font-size="8.60" text-anchor="start" fill="#3a3a3a" font-weight="normal" stroke="#3a3a3a" stroke-width=".1" letter-spacing=".45">2<tspan dx="-0.60">1</tspan><tspan dx="-0.90">.</tspan>7</text><text x="246.8" y="102.6" font-size="8.60" text-anchor="start" fill="#3a3a3a" font-weight="normal" stroke="#3a3a3a" stroke-width=".1" letter-spacing=".45">78.2</text><text x="441.4" y="9.6" font-size="8.90" text-anchor="middle" fill="#3a3a3a">Con</text><path transform="scale(.5)" d="M853 170h0M833 167h0M865 124h0M857 137h0M839 154h0M853 155h0M827 164h0M847 163h0M854 151h0M859 150h0M871 143h0M845 128h0M851 150h0M852 151h0M861 143h0M854 155h0M868 114h0M852 152h0M852 166h0M846 163h0M856 134h0M878 133h0M866 128h0M825 169h0M824 161h0M860 130h0M841 139h0M854 156h0M832 164h0M852 153h0M854 155h0M850 147h0M848 144h0M863 118h0M853 139h0M854 136h0M851 142h0M862 161h0M851 163h0M857 154h0M850 164h0M857 139h0M856 143h0M863 140h0M850 145h0M860 145h0M847 133h0M864 145h0M870 143h0M846 154h0M867 145h0M864 154h0M840 172h0M864 145h0M864 130h0M860 155h0M856 171h0M862 135h0M840 161h0M843 160h0M849 172h0M850 156h0M843 143h0M846 158h0M846 131h0M870 158h0M851 143h0M858 138h0M857 151h0M838 187h0M857 153h0M880 131h0M880 136h0M852 143h0M852 128h0M852 151h0M876 93h0M877 123h0M853 153h0M867 140h0M819 186h0M865 129h0M849 134h0M861 163h0M863 119h0M851 141h0M853 153h0M877 130h0M845 135h0M865 139h0M858 144h0M866 147h0M847 149h0M869 139h0M862 133h0M822 174h0M855 136h0M862 130h0M856 142h0M864 138h0M847 135h0M848 166h0M858 140h0M835 162h0M857 133h0M858 140h0M852 151h0M863 160h0M874 124h0M866 163h0M865 144h0M859 138h0M858 137h0M850 164h0M858 139h0M864 145h0M866 137h0M870 144h0M842 172h0M861 142h0M845 170h0M844 127h0M846 156h0M836 148h0M850 153h0M835 158h0M873 159h0M871 132h0M836 129h0M847 153h0M870 125h0M828 149h0M864 147h0M847 153h0M865 122h0M879 130h0M839 161h0M848 163h0M864 155h0M863 111h0M832 144h0M846 135h0M853 150h0M842 163h0M847 162h0M855 144h0M852 152h0M866 141h0M831 188h0M829 140h0M857 140h0M863 124h0M865 135h0M864 157h0M867 155h0M841 143h0M848 158h0M837 133h0M865 153h0M836 140h0M844 167h0M870 132h0M857 161h0M866 148h0M885 118h0M839 146h0M861 161h0M858 143h0M841 159h0M840 139h0M884 127h0M849 118h0M850 152h0M843 153h0M869 117h0M863 149h0M868 116h0M848 115h0M870 134h0M854 125h0M854 156h0M874 137h0M850 176h0M848 162h0M864 159h0M844 148h0M851 157h0M874 158h0M841 162h0M869 126h0M847 161h0M826 162h0M881 137h0M853 152h0M857 151h0M869 136h0M855 142h0M838 176h0M873 133h0M838 175h0M853 181h0M848 156h0M869 128h0M860 139h0M848 136h0M855 139h0M872 132h0M852 150h0M855 150h0M873 121h0M846 125h0M862 128h0M854 134h0M869 152h0M854 159h0M847 160h0M853 139h0M848 136h0M871 136h0M858 140h0M859 138h0M871 127h0M839 170h0M839 151h0M856 132h0M862 164h0M843 172h0M861 146h0M831 143h0M873 146h0M865 112h0M885 111h0M850 159h0M863 126h0M837 166h0M855 126h0M866 137h0M873 140h0M862 115h0M842 160h0M862 135h0M842 140h0M826 176h0M861 117h0M844 140h0M857 150h0M857 161h0M833 166h0M848 143h0M844 162h0M852 149h0M842 133h0M841 168h0M855 117h0M837 183h0M879 113h0M846 129h0M844 147h0M855 161h0M856 129h0M850 149h0M864 141h0M856 160h0M851 146h0M860 162h0M857 138h0M859 155h0M864 134h0M852 145h0M882 134h0M866 131h0M821 172h0M833 156h0M858 157h0M856 144h0M855 153h0M853 157h0M857 116h0M856 143h0M836 151h0M856 151h0M857 159h0M861 134h0M869 143h0M860 126h0M858 152h0M844 158h0M841 152h0M853 139h0M852 146h0M872 142h0M850 168h0M861 133h0M848 137h0M879 156h0M866 131h0M856 150h0M841 181h0M872 137h0M868 124h0M868 102h0M857 67h0M875 72h0M876 78h0M879 50h0M876 67h0M872 118h0M878 81h0M864 81h0M870 91h0M863 68h0M862 114h0M872 117h0M873 90h0M869 75h0M883 76h0M860 83h0M864 87h0M872 86h0M873 105h0M863 99h0M868 93h0M859 67h0M871 77h0M871 115h0M868 116h0M870 96h0M859 73h0M875 104h0M870 96h0M874 88h0M874 115h0M875 75h0M872 50h0M875 51h0M877 88h0M848 81h0M884 110h0M869 118h0M868 51h0M867 96h0M872 107h0M864 116h0M869 59h0M874 78h0M865 115h0M866 115h0M870 52h0M869 58h0M875 83h0M861 113h0M876 107h0M881 53h0M862 89h0M856 93h0M867 99h0M889 115h0M871 113h0M869 112h0M871 92h0M877 117h0M875 81h0M873 116h0M872 78h0M878 117h0M863 89h0M882 113h0M872 108h0M869 95h0M870 95h0M874 94h0M876 117h0M871 103h0M869 110h0M864 86h0M867 87h0M856 90h0M868 78h0M870 65h0M881 92h0M873 94h0M864 53h0M874 59h0M871 55h0M864 99h0M876 75h0M866 78h0M866 90h0M869 108h0M872 110h0M870 111h0M874 112h0M862 107h0M866 116h0M861 83h0M869 76h0M870 69h0M874 61h0M876 49h0M876 50h0M860 114h0M872 61h0M867 57h0M882 67h0M864 116h0M872 114h0M867 105h0M874 69h0M865 101h0M879 78h0M870 105h0M874 110h0M879 76h0M870 111h0M862 89h0M888 134h0M917 136h0M887 117h0M919 133h0M915 152h0M872 148h0M906 134h0M905 136h0M894 125h0M893 129h0M896 133h0M907 151h0M902 140h0M879 112h0M925 127h0M900 134h0M910 146h0M877 131h0M919 138h0M920 143h0M914 141h0M906 106h0M907 118h0M895 149h0M886 132h0M889 129h0M885 147h0M879 114h0M922 127h0M913 143h0M878 136h0M908 132h0M927 137h0M912 134h0M890 129h0M887 145h0M891 115h0M891 144h0M865 144h0M872 133h0M904 135h0M902 130h0M882 135h0M916 141h0M896 127h0M888 133h0M907 141h0M918 130h0M878 131h0M912 121h0M888 142h0M899 138h0M906 133h0M883 149h0M890 156h0M908 136h0M883 140h0M908 115h0M904 129h0M905 135h0M889 137h0M909 136h0M935 134h0M870 171h0M901 133h0M894 131h0M897 151h0M904 144h0M912 136h0M899 140h0M912 141h0M927 147h0M900 145h0M923 142h0M903 139h0M881 151h0M913 130h0M896 133h0M919 126h0M901 154h0M909 145h0M897 148h0M901 148h0M901 137h0M918 147h0M886 139h0M895 129h0M906 145h0M901 119h0M884 139h0M900 160h0M886 121h0M889 145h0M897 123h0M901 127h0M903 127h0M894 135h0M879 147h0M909 136h0M882 131h0M893 121h0M897 122h0M910 146h0M901 136h0M866 134h0M879 139h0M898 133h0M864 126h0M895 128h0M917 127h0M924 127h0M888 130h0M890 134h0M905 131h0M913 135h0M884 140h0M894 148h0M926 142h0M922 148h0M915 122h0M901 129h0M897 134h0M900 118h0M904 146h0M917 143h0M899 132h0M881 122h0M913 155h0M900 137h0M920 144h0M910 154h0M896 137h0M906 127h0M902 136h0M896 146h0M884 136h0M902 136h0M911 128h0M896 114h0M883 126h0M902 142h0M863 133h0M910 134h0M894 129h0M894 141h0M914 135h0M895 136h0M904 132h0M905 129h0M901 138h0M859 184h0M861 84h0M922 68h0M924 186h0M940 38h0M928 157h0M930 124h0M820 139h0M896 109h0M926 60h0M863 132h0M946 190h0M945 73h0M870 115h0M876 44h0M861 180h0M830 160h0M878 135h0M867 154h0M832 161h0M881 128h0M879 131h0M850 124h0M868 106h0M854 169h0M838 175h0M837 175h0M835 173h0M852 169h0M878 115h0M886 121h0M843 136h0M845 172h0M863 115h0M837 146h0M881 123h0M834 172h0M852 120h0M834 174h0M868 115h0M839 141h0M846 133h0M884 127h0M826 168h0M832 158h0M885 117h0M845 133h0M858 117h0M884 113h0M849 172h0M881 130h0M879 129h0M878 117h0M832 163h0M873 145h0M884 116h0M860 167h0M857 119h0M847 173h0M843 175h0M839 174h0M843 134h0M831 153h0M878 136h0M839 141h0M873 109h0M830 154h0M834 174h0M831 170h0M877 112h0M859 164h0M840 143h0M846 174h0M870 113h0M833 173h0M842 174h0M867 153h0M862 161h0M875 115h0M864 163h0M883 120h0M871 151h0M840 176h0M833 165h0M879 111h0M880 122h0M863 160h0M873 147h0M880 121h0M876 137h0M875 143h0M868 150h0M833 156h0M837 178h0M880 113h0M872 113h0M829 166h0M834 146h0M846 174h0M849 172h0M833 184h0M879 113h0M873 112h0M874 141h0M828 168h0M852 167h0M871 149h0M833 160h0M840 141h0M869 150h0M831 162h0M841 175h0M828 173h0M838 147h0M839 176h0M831 168h0M832 163h0M833 160h0M860 119h0M844 176h0M838 176h0M877 114h0M830 165h0M871 148h0M880 127h0M875 109h0M874 112h0M883 112h0M837 186h0M865 115h0M859 114h0M881 125h0M867 113h0M862 157h0M871 147h0M837 180h0M884 111h0M873 113h0M846 171h0M842 176h0M843 174h0M852 169h0M831 165h0M857 166h0M862 161h0M847 174h0M871 147h0M843 174h0M855 166h0M831 151h0M827 167h0M837 147h0M858 118h0M881 114h0M860 117h0M868 114h0M857 166h0M859 164h0M858 113h0M837 146h0M856 120h0M871 148h0M852 125h0M881 125h0M879 130h0M856 165h0M879 125h0M841 173h0M836 145h0M857 118h0M847 130h0M877 106h0M869 108h0M834 176h0M840 175h0M866 154h0" stroke="#72bf52" stroke-opacity=".42" stroke-width="1.7" stroke-linecap="square"/><g transform="translate(427.8 71.8) rotate(35.0)"><ellipse rx="7.2" ry="18.3" fill="#d6edca" stroke="#fff" stroke-width=".9" stroke-opacity=".85"/><ellipse rx="7.8" ry="18.9" fill="none" stroke="#8fcd72" stroke-width=".5" stroke-opacity=".8"/><ellipse rx="4.46" ry="14.64" fill="url(#R0)"/><ellipse rx="6.17" ry="15.69" fill="none" stroke="#fff" stroke-width=".3" stroke-opacity=".55"/><ellipse rx="5.14" ry="13.07" fill="none" stroke="#fff" stroke-width=".3" stroke-opacity=".55"/><ellipse rx="4.11" ry="10.46" fill="none" stroke="#fff" stroke-width=".3" stroke-opacity=".55"/><ellipse rx="3.09" ry="7.84" fill="none" stroke="#fff" stroke-width=".3" stroke-opacity=".55"/><ellipse rx="2.06" ry="5.23" fill="none" stroke="#fff" stroke-width=".3" stroke-opacity=".55"/><ellipse rx="1.03" ry="2.61" fill="none" stroke="#fff" stroke-width=".3" stroke-opacity=".55"/><ellipse rx="0.50" ry="5.49" fill="#fff" fill-opacity=".55"/></g><rect x="395.5" y="13.3" width="91.9" height="91.1" fill="none" stroke="#999999" stroke-width="1"/><line x1="441.4" y1="13.3" x2="441.4" y2="104.4" stroke="#444" stroke-width="1"/><line x1="395.5" y1="55.6" x2="487.4" y2="55.6" stroke="#333333" stroke-width="1"/><text x="398.1" y="24.0" font-size="8.60" text-anchor="start" fill="#3a3a3a" font-weight="normal" stroke="#3a3a3a" stroke-width=".1" letter-spacing=".45">5.82</text><text x="484.9" y="24.0" font-size="8.60" text-anchor="end" fill="#3a3a3a" font-weight="normal" stroke="#3a3a3a" stroke-width=".1" letter-spacing=".45">0.25</text><text x="398.1" y="102.6" font-size="8.60" text-anchor="start" fill="#3a3a3a" font-weight="normal" stroke="#3a3a3a" stroke-width=".1" letter-spacing=".45">90.7</text><text x="484.9" y="102.6" font-size="8.60" text-anchor="end" fill="#3a3a3a" font-weight="normal" stroke="#3a3a3a" stroke-width=".1" letter-spacing=".45">3.24</text><text x="540.5" y="9.6" font-size="8.90" text-anchor="middle" fill="#3a3a3a">IPA100</text><path transform="scale(.5)" d="M1058 114h0M1060 153h0M1051 178h0M1062 139h0M1040 141h0M1057 129h0M1051 139h0M1057 152h0M1050 142h0M1066 141h0M1065 156h0M1063 119h0M1030 145h0M1069 108h0M1065 135h0M1046 147h0M1057 131h0M1045 144h0M1046 167h0M1064 131h0M1051 167h0M1057 127h0M1087 121h0M1070 126h0M1070 145h0M1050 141h0M1042 156h0M1045 157h0M1051 153h0M1051 134h0M1076 126h0M1081 143h0M1053 167h0M1060 145h0M1054 149h0M1039 185h0M1062 142h0M1058 149h0M1067 139h0M1052 135h0M1037 149h0M1059 146h0M1035 149h0M1072 127h0M1052 149h0M1042 166h0M1072 139h0M1054 133h0M1084 106h0M1041 141h0M1050 139h0M1060 144h0M1027 151h0M1052 134h0M1046 161h0M1071 123h0M1059 110h0M1044 152h0M1059 112h0M1071 114h0M1057 144h0M1057 134h0M1066 117h0M1063 138h0M1047 150h0M1076 129h0M1050 132h0M1066 129h0M1038 186h0M1069 129h0M1052 138h0M1051 151h0M1064 116h0M1047 155h0M1045 147h0M1063 135h0M1043 161h0M1076 133h0M1054 154h0M1061 161h0M1057 136h0M1030 173h0M1062 162h0M1074 130h0M1033 165h0M1070 143h0M1057 126h0M1087 142h0M1061 127h0M1052 163h0M1036 149h0M1048 142h0M1041 173h0M1050 126h0M1046 163h0M1054 155h0M1044 153h0M1060 146h0M1051 143h0M1061 143h0M1066 139h0M1048 150h0M1055 140h0M1062 126h0M1037 166h0M1058 140h0M1080 140h0M1084 117h0M1047 151h0M1028 148h0M1058 138h0M1075 118h0M1039 143h0M1069 138h0M1071 128h0M1079 120h0M1052 156h0M1054 134h0M1054 146h0M1015 145h0M1046 148h0M1036 155h0M1058 151h0M1049 138h0M1059 137h0M1062 171h0M1071 124h0M1055 137h0M1050 163h0M1062 128h0M1051 143h0M1063 146h0M1031 155h0M1065 146h0M1034 144h0M1050 143h0M1046 160h0M1057 148h0M1079 137h0M1066 137h0M1022 167h0M1059 157h0M1032 158h0M1077 94h0M1068 149h0M1071 142h0M1045 165h0M1029 177h0M1061 140h0M1061 123h0M1061 138h0M1054 140h0M1043 147h0M1041 154h0M1051 142h0M1052 143h0M1057 141h0M1054 145h0M1084 113h0M1067 129h0M1037 142h0M1056 157h0M1049 143h0M1045 144h0M1050 166h0M1049 146h0M1051 139h0M1052 136h0M1067 124h0M1062 151h0M1065 132h0M1078 117h0M1075 143h0M1041 148h0M1056 157h0M1034 172h0M1072 127h0M1067 130h0M1058 131h0M1063 154h0M1070 138h0M1067 142h0M1048 155h0M1044 147h0M1054 158h0M1074 148h0M1046 147h0M1047 141h0M1056 134h0M1058 121h0M1046 156h0M1051 131h0M1079 135h0M1042 143h0M1071 128h0M1053 160h0M1053 167h0M1072 126h0M1059 157h0M1065 157h0M1062 136h0M1057 141h0M1046 181h0M1041 169h0M1075 145h0M1043 144h0M1047 148h0M1070 129h0M1068 129h0M1047 158h0M1052 169h0M1047 140h0M1064 149h0M1045 152h0M1045 156h0M1047 139h0M1036 140h0M1036 158h0M1037 129h0M1054 115h0M1046 151h0M1039 176h0M1054 158h0M1060 143h0M1063 130h0M1032 184h0M1064 140h0M1051 165h0M1060 175h0M1043 155h0M1059 158h0M1053 140h0M1064 126h0M1085 121h0M1069 138h0M1035 159h0M1041 150h0M1048 154h0M1054 165h0M1090 137h0M1047 156h0M1055 152h0M1067 135h0M1046 151h0M1060 135h0M1057 146h0M1067 144h0M1041 146h0M1031 181h0M1046 136h0M1074 136h0M1061 141h0M1046 155h0M1049 140h0M1064 143h0M1041 151h0M1034 164h0M1039 137h0M1029 162h0M1068 135h0M1081 145h0M1042 166h0M1064 141h0M1066 140h0M1068 135h0M1078 146h0M1052 147h0M1057 127h0M1026 175h0M1039 149h0M1039 172h0M1052 141h0M1064 146h0M1050 170h0M1032 150h0M1039 148h0M1074 113h0M1052 154h0M1049 144h0M1066 134h0M1049 149h0M1043 159h0M1046 156h0M1035 168h0M1052 163h0M1055 142h0M1077 127h0M1051 151h0M1059 170h0M1061 159h0M1053 127h0M1042 145h0M1037 142h0M1055 157h0M1046 140h0M1056 132h0M1062 148h0M1057 145h0M1061 140h0M1041 160h0M1076 59h0M1076 71h0M1067 97h0M1047 70h0M1067 112h0M1078 75h0M1077 51h0M1062 87h0M1079 78h0M1063 115h0M1057 113h0M1080 108h0M1068 69h0M1080 63h0M1063 50h0M1067 115h0M1071 65h0M1074 64h0M1067 94h0M1072 57h0M1075 81h0M1066 98h0M1072 95h0M1071 89h0M1077 106h0M1062 82h0M1071 90h0M1079 83h0M1068 111h0M1071 82h0M1073 101h0M1080 70h0M1079 113h0M1071 54h0M1073 118h0M1063 79h0M1069 119h0M1072 55h0M1069 50h0M1062 72h0M1077 117h0M1070 101h0M1083 119h0M1078 114h0M1069 96h0M1061 100h0M1073 80h0M1067 104h0M1068 90h0M1063 119h0M1063 112h0M1081 87h0M1066 111h0M1069 52h0M1075 80h0M1066 117h0M1076 71h0M1082 73h0M1063 64h0M1067 119h0M1072 110h0M1072 94h0M1067 119h0M1071 115h0M1080 70h0M1070 87h0M1059 115h0M1077 118h0M1071 104h0M1075 116h0M1061 76h0M1086 108h0M1064 79h0M1079 119h0M1071 51h0M1081 108h0M1068 119h0M1070 72h0M1078 113h0M1073 89h0M1070 85h0M1069 59h0M1071 69h0M1070 110h0M1074 114h0M1067 103h0M1070 114h0M1068 99h0M1068 74h0M1074 95h0M1069 114h0M1059 112h0M1070 119h0M1071 65h0M1064 54h0M1066 89h0M1062 106h0M1069 65h0M1075 109h0M1076 119h0M1058 108h0M1070 89h0M1075 50h0M1053 62h0M1075 107h0M1080 76h0M1075 103h0M1063 68h0M1078 119h0M1060 112h0M1070 66h0M1083 67h0M1074 67h0M1073 92h0M1059 112h0M1122 148h0M1095 151h0M1119 142h0M1098 149h0M1097 161h0M1113 145h0M1094 122h0M1085 165h0M1098 155h0M1073 130h0M1111 154h0M1080 127h0M1085 144h0M1070 160h0M1084 146h0M1110 142h0M1099 139h0M1125 154h0M1097 138h0M1098 120h0M1092 138h0M1117 147h0M1086 128h0M1108 147h0M1110 143h0M1104 144h0M1124 143h0M1086 152h0M1109 140h0M1117 149h0M1089 134h0M1121 152h0M1083 131h0M1125 170h0M1114 142h0M1094 151h0M1119 147h0M1097 128h0M1082 131h0M1073 147h0M1093 161h0M1113 143h0M1126 152h0M1096 144h0M1090 138h0M1099 139h0M1094 141h0M1100 156h0M1097 139h0M1107 145h0M1084 140h0M1097 135h0M1110 146h0M1092 155h0M1104 143h0M1103 152h0M1108 136h0M1104 142h0M1095 140h0M1114 144h0M1133 137h0M1111 154h0M1094 144h0M1114 162h0M1098 141h0M1104 150h0M1094 152h0M1106 144h0M1087 151h0M1070 133h0M1075 139h0M1096 139h0M1090 150h0M1073 128h0M1103 155h0M1104 131h0M1074 149h0M1103 144h0M1081 117h0M1110 161h0M1110 148h0M1105 141h0M1095 144h0M1088 147h0M1082 142h0M1122 158h0M1088 152h0M1107 153h0M1105 140h0M1115 154h0M1083 144h0M1095 132h0M1100 140h0M1072 163h0M1100 142h0M1102 134h0M1088 160h0M1093 126h0M1103 152h0M1089 137h0M1116 152h0M1082 138h0M1094 141h0M1082 141h0M1085 150h0M1101 138h0M1095 138h0M1111 148h0M1107 122h0M1108 142h0M1093 129h0M1114 158h0M1099 141h0M1089 151h0M1100 136h0M1116 148h0M1103 142h0M1095 135h0M1092 138h0M1110 133h0M1118 154h0M1090 135h0M1076 152h0M1108 159h0M1103 147h0M1095 130h0M1107 140h0M1098 135h0M1105 126h0M1082 154h0M1107 133h0M1102 147h0M1112 154h0M1112 137h0M1124 143h0M1108 149h0M1118 154h0M1077 129h0M1097 135h0M1112 158h0M1116 133h0M1106 152h0M1108 152h0M1134 151h0M1104 149h0M1103 139h0M1099 134h0M1086 144h0M1087 137h0M1090 131h0M1030 140h0M1129 70h0M1009 113h0M1083 129h0M1123 84h0M1130 145h0M1040 68h0M1073 168h0M1141 116h0M1086 110h0M1121 34h0M1114 113h0M1091 168h0M1018 113h0M1153 70h0M1100 75h0M1087 105h0M1046 177h0M1082 117h0M1040 138h0M1056 168h0M1078 137h0M1030 153h0M1036 177h0M1041 138h0M1031 158h0M1071 152h0M1029 173h0M1028 168h0M1080 123h0M1072 153h0M1039 138h0M1074 144h0M1034 181h0M1068 116h0M1060 119h0M1064 117h0M1070 113h0M1081 134h0M1066 111h0M1033 151h0M1030 172h0M1065 112h0M1038 142h0M1032 154h0M1027 166h0M1056 167h0M1036 145h0M1062 163h0M1030 168h0M1031 172h0M1039 141h0M1075 115h0M1060 110h0M1084 119h0M1025 163h0M1072 151h0M1042 184h0M1029 170h0M1074 109h0M1080 112h0M1075 114h0M1028 168h0M1080 127h0M1061 170h0M1075 109h0M1032 180h0M1030 184h0M1038 177h0M1077 150h0M1084 118h0M1044 130h0M1045 180h0M1040 135h0M1071 153h0M1023 176h0M1078 111h0M1026 164h0M1042 178h0M1048 173h0M1030 158h0M1039 177h0M1062 118h0M1066 112h0M1084 116h0M1077 147h0M1060 116h0M1079 131h0M1076 138h0M1075 108h0M1073 114h0M1079 127h0M1079 136h0M1078 112h0M1074 143h0M1081 112h0M1028 161h0M1038 178h0M1064 116h0M1079 110h0M1080 134h0M1033 148h0M1031 177h0M1033 175h0M1081 110h0M1076 141h0M1066 160h0M1024 169h0M1036 179h0M1066 157h0M1071 150h0M1028 172h0M1059 164h0M1080 122h0M1059 166h0M1054 172h0M1038 185h0M1035 147h0M1041 132h0M1045 129h0M1036 177h0M1030 167h0M1027 176h0M1053 125h0M1029 179h0M1073 113h0M1032 177h0M1060 164h0M1043 180h0M1032 173h0M1046 131h0M1067 115h0M1036 177h0M1082 115h0M1068 108h0M1025 170h0M1026 168h0M1081 113h0M1059 119h0M1041 177h0M1051 174h0M1032 146h0M1064 114h0M1045 132h0M1045 181h0M1031 172h0M1075 113h0M1030 165h0M1047 175h0M1070 160h0M1023 171h0M1038 138h0M1056 171h0M1080 136h0M1087 120h0M1029 171h0M1058 114h0M1068 112h0M1051 172h0M1026 164h0M1072 110h0M1043 135h0M1033 149h0M1049 178h0M1070 113h0M1079 133h0M1079 120h0M1081 120h0M1053 171h0M1051 174h0M1070 113h0M1066 114h0M1054 170h0M1074 115h0M1052 171h0M1026 169h0" stroke="#3b86d6" stroke-opacity=".42" stroke-width="1.7" stroke-linecap="square"/><g transform="translate(527.3 72.9) rotate(36.0)"><ellipse rx="8.0" ry="18.8" fill="#cde1f6" stroke="#fff" stroke-width=".9" stroke-opacity=".85"/><ellipse rx="8.6" ry="19.4" fill="none" stroke="#6ea7e4" stroke-width=".5" stroke-opacity=".8"/><ellipse rx="4.96" ry="15.04" fill="url(#R1)"/><ellipse rx="6.86" ry="16.11" fill="none" stroke="#fff" stroke-width=".3" stroke-opacity=".55"/><ellipse rx="5.71" ry="13.43" fill="none" stroke="#fff" stroke-width=".3" stroke-opacity=".55"/><ellipse rx="4.57" ry="10.74" fill="none" stroke="#fff" stroke-width=".3" stroke-opacity=".55"/><ellipse rx="3.43" ry="8.06" fill="none" stroke="#fff" stroke-width=".3" stroke-opacity=".55"/><ellipse rx="2.29" ry="5.37" fill="none" stroke="#fff" stroke-width=".3" stroke-opacity=".55"/><ellipse rx="1.14" ry="2.69" fill="none" stroke="#fff" stroke-width=".3" stroke-opacity=".55"/><ellipse rx="0.56" ry="5.64" fill="#fff" fill-opacity=".55"/></g><rect x="494.4" y="13.3" width="92.1" height="91.1" fill="none" stroke="#999999" stroke-width="1"/><line x1="540.5" y1="13.3" x2="540.5" y2="104.4" stroke="#444" stroke-width="1"/><line x1="494.4" y1="55.4" x2="586.5" y2="55.4" stroke="#333333" stroke-width="1"/><text x="497.0" y="24.0" font-size="8.60" text-anchor="start" fill="#3a3a3a" font-weight="normal" stroke="#3a3a3a" stroke-width=".1" letter-spacing=".45">2.58</text><text x="584.0" y="24.0" font-size="8.60" text-anchor="end" fill="#3a3a3a" font-weight="normal" stroke="#3a3a3a" stroke-width=".1" letter-spacing=".45">0.<tspan dx="-0.60">1</tspan><tspan dx="-0.90">8</tspan></text><text x="497.0" y="102.6" font-size="8.60" text-anchor="start" fill="#3a3a3a" font-weight="normal" stroke="#3a3a3a" stroke-width=".1" letter-spacing=".45">93.7</text><text x="584.0" y="102.6" font-size="8.60" text-anchor="end" fill="#3a3a3a" font-weight="normal" stroke="#3a3a3a" stroke-width=".1" letter-spacing=".45">3.5<tspan dx="-0.60">1</tspan></text><text x="638.9" y="9.6" font-size="8.90" text-anchor="middle" fill="#3a3a3a">IPA1000</text><path transform="scale(.5)" d="M1261 136h0M1269 144h0M1263 144h0M1231 159h0M1252 151h0M1262 121h0M1247 143h0M1256 154h0M1262 147h0M1246 165h0M1238 158h0M1277 141h0M1246 131h0M1255 132h0M1265 131h0M1263 159h0M1252 147h0M1243 146h0M1244 152h0M1263 142h0M1243 128h0M1273 123h0M1251 152h0M1236 143h0M1257 153h0M1246 159h0M1245 171h0M1246 141h0M1260 135h0M1246 154h0M1272 126h0M1271 112h0M1250 149h0M1245 165h0M1243 141h0M1242 159h0M1260 153h0M1229 149h0M1267 123h0M1260 138h0M1236 164h0M1257 137h0M1255 147h0M1239 162h0M1245 156h0M1247 149h0M1249 132h0M1242 172h0M1233 150h0M1264 143h0M1248 160h0M1239 179h0M1245 153h0M1239 146h0M1251 146h0M1240 160h0M1248 164h0M1278 141h0M1249 146h0M1251 140h0M1242 135h0M1263 150h0M1244 154h0M1259 136h0M1232 160h0M1257 128h0M1262 162h0M1260 119h0M1258 127h0M1238 160h0M1259 149h0M1258 147h0M1222 142h0M1253 131h0M1256 155h0M1245 166h0M1256 152h0M1275 148h0M1236 179h0M1254 139h0M1243 168h0M1260 144h0M1266 131h0M1245 170h0M1241 155h0M1246 147h0M1252 147h0M1274 163h0M1266 143h0M1251 150h0M1234 154h0M1240 170h0M1263 138h0M1252 158h0M1288 130h0M1247 149h0M1270 140h0M1254 159h0M1208 166h0M1244 122h0M1238 149h0M1246 144h0M1238 150h0M1236 176h0M1246 130h0M1249 139h0M1241 156h0M1251 136h0M1243 174h0M1241 187h0M1229 161h0M1255 152h0M1261 144h0M1243 138h0M1242 134h0M1260 136h0M1265 118h0M1241 140h0M1242 146h0M1250 138h0M1218 160h0M1237 158h0M1256 128h0M1256 145h0M1242 156h0M1245 163h0M1271 125h0M1236 171h0M1241 164h0M1247 158h0M1270 133h0M1232 136h0M1248 159h0M1252 140h0M1237 146h0M1244 160h0M1234 164h0M1231 158h0M1227 162h0M1267 142h0M1264 139h0M1251 174h0M1246 154h0M1254 142h0M1242 141h0M1253 159h0M1246 169h0M1263 140h0M1246 137h0M1249 114h0M1235 167h0M1264 165h0M1252 159h0M1232 155h0M1242 157h0M1239 133h0M1259 152h0M1239 160h0M1245 176h0M1256 143h0M1263 146h0M1249 130h0M1256 139h0M1232 156h0M1254 126h0M1242 158h0M1256 133h0M1272 159h0M1277 156h0M1272 141h0M1255 167h0M1257 143h0M1246 177h0M1247 153h0M1236 154h0M1240 155h0M1229 143h0M1255 159h0M1269 150h0M1256 159h0M1244 157h0M1278 136h0M1250 149h0M1255 155h0M1242 151h0M1263 147h0M1251 150h0M1244 147h0M1269 157h0M1247 161h0M1261 154h0M1231 152h0M1230 141h0M1249 165h0M1252 148h0M1235 159h0M1249 124h0M1247 144h0M1256 150h0M1255 143h0M1248 168h0M1224 153h0M1250 153h0M1250 161h0M1245 157h0M1231 144h0M1262 137h0M1238 154h0M1256 134h0M1253 141h0M1237 166h0M1264 163h0M1263 140h0M1248 161h0M1236 155h0M1243 148h0M1250 153h0M1246 158h0M1242 149h0M1243 167h0M1247 139h0M1259 130h0M1231 177h0M1248 142h0M1246 146h0M1221 169h0M1234 152h0M1254 158h0M1278 137h0M1219 140h0M1253 150h0M1259 141h0M1250 133h0M1242 158h0M1266 159h0M1226 151h0M1257 134h0M1274 130h0M1219 166h0M1239 153h0M1272 142h0M1237 166h0M1240 173h0M1245 192h0M1261 146h0M1262 146h0M1251 119h0M1250 149h0M1232 160h0M1256 139h0M1249 149h0M1254 153h0M1260 150h0M1241 156h0M1240 147h0M1239 164h0M1216 151h0M1245 148h0M1254 165h0M1241 137h0M1257 150h0M1242 163h0M1271 153h0M1245 130h0M1234 160h0M1237 168h0M1265 133h0M1259 144h0M1269 131h0M1266 141h0M1236 158h0M1257 136h0M1263 155h0M1257 155h0M1237 136h0M1253 150h0M1280 138h0M1236 153h0M1248 168h0M1238 148h0M1233 176h0M1260 170h0M1245 163h0M1245 153h0M1250 154h0M1254 154h0M1232 161h0M1264 146h0M1263 142h0M1259 142h0M1239 151h0M1233 154h0M1263 157h0M1239 150h0M1263 128h0M1270 157h0M1253 173h0M1249 159h0M1239 156h0M1240 151h0M1264 105h0M1273 59h0M1268 125h0M1267 120h0M1268 61h0M1258 57h0M1269 125h0M1266 77h0M1258 76h0M1276 110h0M1267 96h0M1255 98h0M1268 114h0M1271 61h0M1272 58h0M1258 126h0M1273 104h0M1264 91h0M1257 95h0M1262 103h0M1271 109h0M1263 94h0M1264 62h0M1268 126h0M1266 124h0M1272 126h0M1257 67h0M1261 61h0M1251 116h0M1273 67h0M1262 78h0M1278 126h0M1263 124h0M1265 124h0M1263 59h0M1268 71h0M1269 121h0M1260 118h0M1267 75h0M1281 125h0M1275 125h0M1277 117h0M1264 119h0M1266 95h0M1272 109h0M1255 102h0M1271 95h0M1263 63h0M1269 100h0M1267 81h0M1269 58h0M1266 80h0M1269 73h0M1270 96h0M1258 97h0M1270 63h0M1260 68h0M1282 116h0M1254 114h0M1270 125h0M1267 66h0M1258 107h0M1267 82h0M1257 125h0M1262 106h0M1272 68h0M1271 121h0M1263 85h0M1266 89h0M1255 119h0M1254 91h0M1277 123h0M1266 124h0M1266 124h0M1259 109h0M1261 125h0M1274 123h0M1267 116h0M1258 100h0M1276 105h0M1267 119h0M1258 94h0M1270 65h0M1268 113h0M1271 116h0M1267 83h0M1273 59h0M1255 121h0M1251 125h0M1256 125h0M1258 106h0M1273 78h0M1265 81h0M1264 86h0M1264 72h0M1267 74h0M1273 68h0M1266 116h0M1253 86h0M1266 75h0M1262 121h0M1263 124h0M1254 88h0M1272 65h0M1262 76h0M1266 114h0M1254 126h0M1264 125h0M1282 62h0M1265 115h0M1271 118h0M1262 105h0M1267 65h0M1265 90h0M1259 124h0M1294 145h0M1279 133h0M1280 136h0M1304 154h0M1305 144h0M1297 138h0M1340 128h0M1326 142h0M1292 143h0M1323 141h0M1290 129h0M1298 135h0M1279 125h0M1316 135h0M1287 157h0M1296 141h0M1299 164h0M1310 134h0M1299 147h0M1307 135h0M1309 141h0M1294 146h0M1312 156h0M1307 156h0M1276 139h0M1293 155h0M1291 147h0M1293 149h0M1302 156h0M1303 124h0M1298 136h0M1288 165h0M1303 141h0M1301 127h0M1283 158h0M1307 144h0M1300 144h0M1306 133h0M1303 139h0M1319 145h0M1298 138h0M1306 134h0M1298 142h0M1287 153h0M1319 142h0M1313 146h0M1288 150h0M1311 153h0M1311 150h0M1301 149h0M1284 124h0M1309 150h0M1307 142h0M1322 142h0M1302 142h0M1304 152h0M1309 152h0M1293 135h0M1291 125h0M1300 146h0M1306 145h0M1312 142h0M1309 148h0M1317 135h0M1314 148h0M1311 150h0M1323 143h0M1311 153h0M1312 142h0M1319 133h0M1311 122h0M1295 144h0M1325 149h0M1315 143h0M1298 140h0M1312 153h0M1318 152h0M1309 150h0M1319 138h0M1278 131h0M1297 153h0M1292 152h0M1297 126h0M1314 153h0M1308 142h0M1283 154h0M1302 149h0M1288 140h0M1309 144h0M1296 144h0M1289 125h0M1303 149h0M1279 147h0M1306 153h0M1288 142h0M1313 130h0M1316 145h0M1286 144h0M1277 143h0M1308 141h0M1300 143h0M1288 126h0M1314 145h0M1307 145h0M1299 155h0M1291 160h0M1307 143h0M1312 148h0M1297 131h0M1325 131h0M1302 175h0M1311 131h0M1280 148h0M1305 142h0M1322 166h0M1310 151h0M1292 133h0M1311 138h0M1296 140h0M1303 151h0M1299 152h0M1288 134h0M1301 151h0M1290 150h0M1311 151h0M1306 143h0M1333 128h0M1305 153h0M1302 148h0M1283 154h0M1297 148h0M1294 132h0M1296 123h0M1309 157h0M1294 152h0M1296 129h0M1330 132h0M1335 152h0M1304 130h0M1281 151h0M1301 150h0M1301 137h0M1299 155h0M1313 161h0M1327 157h0M1279 163h0M1286 150h0M1293 148h0M1300 153h0M1300 130h0M1261 45h0M1262 139h0M1294 35h0M1265 146h0M1225 88h0M1323 166h0M1243 43h0M1234 154h0M1317 54h0M1251 98h0M1276 86h0M1204 93h0M1284 177h0M1198 159h0M1263 64h0M1325 32h0M1229 178h0M1220 172h0M1272 125h0M1242 175h0M1261 157h0M1224 157h0M1272 119h0M1228 178h0M1237 176h0M1228 152h0M1265 120h0M1248 128h0M1227 153h0M1223 162h0M1251 169h0M1276 125h0M1226 153h0M1245 126h0M1273 135h0M1268 150h0M1218 181h0M1266 118h0M1226 146h0M1273 134h0M1261 121h0M1274 120h0M1234 176h0M1274 124h0M1258 167h0M1230 181h0M1250 171h0M1267 121h0M1237 176h0M1226 150h0M1245 129h0M1237 138h0M1236 138h0M1250 125h0M1229 148h0M1227 174h0M1259 117h0M1215 168h0M1238 134h0M1265 117h0M1263 117h0M1258 122h0M1240 178h0M1241 126h0M1274 126h0M1224 175h0M1262 157h0M1268 149h0M1255 123h0M1227 154h0M1270 150h0M1271 115h0M1228 143h0M1239 134h0M1218 167h0M1268 147h0M1223 178h0M1239 176h0M1244 131h0M1267 150h0M1224 151h0M1256 121h0M1255 115h0M1277 134h0M1278 138h0M1265 118h0M1271 149h0M1239 134h0M1245 130h0M1272 141h0M1274 122h0M1263 159h0M1269 119h0M1274 127h0M1274 120h0M1225 172h0M1224 168h0M1224 165h0M1225 169h0M1267 117h0M1226 150h0M1236 137h0M1223 183h0M1274 137h0M1243 131h0M1221 170h0M1275 138h0M1275 120h0M1248 128h0M1222 173h0M1236 178h0M1276 124h0M1275 135h0M1272 119h0M1271 145h0M1277 116h0M1265 113h0M1262 119h0M1256 165h0M1240 175h0M1277 136h0M1250 125h0M1241 133h0M1274 129h0M1272 125h0M1274 124h0M1226 155h0M1279 132h0M1259 117h0M1276 129h0M1241 131h0M1240 135h0M1224 160h0M1264 121h0M1269 116h0M1265 118h0M1227 173h0M1252 169h0M1248 174h0M1275 132h0M1271 122h0M1242 134h0M1236 177h0M1243 173h0M1226 159h0M1233 179h0M1270 143h0M1265 154h0M1221 157h0M1241 133h0M1273 132h0M1244 173h0M1259 121h0M1268 147h0M1229 145h0M1265 108h0M1267 149h0M1249 172h0M1239 132h0M1223 177h0M1255 119h0M1274 130h0M1229 180h0M1272 137h0M1275 122h0M1274 128h0M1274 121h0M1228 145h0M1230 180h0M1229 147h0M1230 147h0M1262 158h0M1233 176h0M1271 146h0M1226 181h0M1232 145h0" stroke="#c9cb3a" stroke-opacity=".42" stroke-width="1.7" stroke-linecap="square"/><g transform="translate(624.4 74.1) rotate(40.0)"><ellipse rx="8.0" ry="17.3" fill="#ecedbc" stroke="#fff" stroke-width=".9" stroke-opacity=".85"/><ellipse rx="8.6" ry="17.9" fill="none" stroke="#cfd15a" stroke-width=".5" stroke-opacity=".8"/><ellipse rx="4.96" ry="13.84" fill="url(#R2)"/><ellipse rx="6.86" ry="14.83" fill="none" stroke="#fff" stroke-width=".3" stroke-opacity=".55"/><ellipse rx="5.71" ry="12.36" fill="none" stroke="#fff" stroke-width=".3" stroke-opacity=".55"/><ellipse rx="4.57" ry="9.89" fill="none" stroke="#fff" stroke-width=".3" stroke-opacity=".55"/><ellipse rx="3.43" ry="7.41" fill="none" stroke="#fff" stroke-width=".3" stroke-opacity=".55"/><ellipse rx="2.29" ry="4.94" fill="none" stroke="#fff" stroke-width=".3" stroke-opacity=".55"/><ellipse rx="1.14" ry="2.47" fill="none" stroke="#fff" stroke-width=".3" stroke-opacity=".55"/><ellipse rx="0.56" ry="5.19" fill="#fff" fill-opacity=".55"/></g><rect x="593.4" y="13.3" width="91.0" height="91.1" fill="none" stroke="#999999" stroke-width="1"/><line x1="638.6" y1="13.3" x2="638.6" y2="104.4" stroke="#444" stroke-width="1"/><line x1="593.4" y1="55.4" x2="684.4" y2="55.4" stroke="#333333" stroke-width="1"/><text x="596.0" y="24.0" font-size="8.60" text-anchor="start" fill="#3a3a3a" font-weight="normal" stroke="#3a3a3a" stroke-width=".1" letter-spacing=".45"><tspan dx="-1.00">1</tspan><tspan dx="-0.90">.</tspan>56</text><text x="681.9" y="24.0" font-size="8.60" text-anchor="end" fill="#3a3a3a" font-weight="normal" stroke="#3a3a3a" stroke-width=".1" letter-spacing=".45">0.20</text><text x="596.0" y="102.6" font-size="8.60" text-anchor="start" fill="#3a3a3a" font-weight="normal" stroke="#3a3a3a" stroke-width=".1" letter-spacing=".45">93.9</text><text x="681.9" y="102.6" font-size="8.60" text-anchor="end" fill="#3a3a3a" font-weight="normal" stroke="#3a3a3a" stroke-width=".1" letter-spacing=".45">4.30</text><text transform="translate(36.8 104.3) rotate(-90)" font-size="8.6" fill="#3a3a3a">IFNγ-BV650</text><line x1="33.5" y1="50.7" x2="33.5" y2="15.8" stroke="#4a6385" stroke-width="1"/><path d="M33.5 13.7l-1.7 3.6h3.4z" fill="#4a6385"/><text x="44.9" y="115.9" font-size="8.20" text-anchor="start" fill="#3a3a3a" font-weight="normal" stroke="#3a3a3a" stroke-width=".1" >IL-4 BV421</text><line x1="89.0" y1="113.5" x2="332" y2="113.5" stroke="#4a6385" stroke-width="1"/><path d="M335 113.5l-3.6 -1.7v3.4z" fill="#4a6385"/><text transform="translate(387.5 104.1) rotate(-90)" font-size="8.05" fill="#3a3a3a">IL-17A BV421</text><line x1="384.5" y1="50.7" x2="384.5" y2="15.8" stroke="#4a6385" stroke-width="1"/><path d="M384.5 13.7l-1.7 3.6h3.4z" fill="#4a6385"/><text x="396.0" y="115.9" font-size="8.60" text-anchor="start" fill="#3a3a3a" font-weight="normal" stroke="#3a3a3a" stroke-width=".1" >IFNγ AF488</text><line x1="447.7" y1="113.5" x2="681" y2="113.5" stroke="#4a6385" stroke-width="1"/><path d="M684.5 113.5l-3.6 -1.7v3.4z" fill="#4a6385"/><text x="-0.3" y="130.6" font-size="12.50" text-anchor="start" fill="#000" font-weight="bold" >b</text><text x="349.6" y="130.6" font-size="12.50" text-anchor="start" fill="#000" font-weight="bold" >h</text><text x="-0.4" y="185.7" font-size="8.30" text-anchor="start" fill="#3a3a3a" font-weight="normal" stroke="#3a3a3a" stroke-width=".1" letter-spacing="0.65">Oligo</text><text x="348.9" y="185.7" font-size="8.30" text-anchor="start" fill="#3a3a3a" font-weight="normal" stroke="#3a3a3a" stroke-width=".1" letter-spacing="0.65">Oligo</text><text x="-0.2" y="195.8" font-size="8.30" text-anchor="start" fill="#3a3a3a" font-weight="normal" stroke="#3a3a3a" stroke-width=".1" letter-spacing="0.45">3 nM</text><text x="349.1" y="195.8" font-size="8.30" text-anchor="start" fill="#3a3a3a" font-weight="normal" stroke="#3a3a3a" stroke-width=".1" letter-spacing="0.45">3 nM</text><text x="89.9" y="134.8" font-size="8.90" text-anchor="middle" fill="#3a3a3a">Con</text><path transform="scale(.5)" d="M120 375h0M133 369h0M133 371h0M132 341h0M124 349h0M143 327h0M147 377h0M148 317h0M148 371h0M137 374h0M160 369h0M147 347h0M131 373h0M151 321h0M138 347h0M141 349h0M148 328h0M136 379h0M156 375h0M137 317h0M143 345h0M156 343h0M150 355h0M140 365h0M136 325h0M151 339h0M144 372h0M130 324h0M143 344h0M167 357h0M130 380h0M158 378h0M129 379h0M139 342h0M136 378h0M121 369h0M146 318h0M151 366h0M138 333h0M140 324h0M149 380h0M133 336h0M166 358h0M128 378h0M141 331h0M141 370h0M148 378h0M147 379h0M134 371h0M149 344h0M146 356h0M141 361h0M143 315h0M147 356h0M137 351h0M142 324h0M139 346h0M139 334h0M149 339h0M137 378h0M140 331h0M137 345h0M152 370h0M162 351h0M144 343h0M145 332h0M151 351h0M140 318h0M129 375h0M152 343h0M129 376h0M139 378h0M150 336h0M137 376h0M137 380h0M139 334h0M140 366h0M132 350h0M147 370h0M148 359h0M157 373h0M122 339h0M155 344h0M148 378h0M127 377h0M154 351h0M128 379h0M144 348h0M166 320h0M141 379h0M156 315h0M123 380h0M137 338h0M163 378h0M132 357h0M140 314h0M124 375h0M145 340h0M146 379h0M138 327h0M136 322h0M148 376h0M153 330h0M131 319h0M157 366h0M153 354h0M145 367h0M131 355h0M150 340h0M157 379h0M139 378h0M156 362h0M153 344h0M157 347h0M139 353h0M151 313h0M152 378h0M143 372h0M139 335h0M146 364h0M137 369h0M150 356h0M166 380h0M150 318h0M140 364h0M151 379h0M154 367h0M122 373h0M149 359h0M154 363h0M135 361h0M128 379h0M158 329h0M137 339h0M155 374h0M138 351h0M138 374h0M137 321h0M134 323h0M130 323h0M150 345h0M157 374h0M137 329h0M167 329h0M149 336h0M139 324h0M152 327h0M128 332h0M119 332h0M147 366h0M144 336h0M137 376h0M139 322h0M136 337h0M139 358h0M133 323h0M156 329h0M154 354h0M133 379h0M158 362h0M138 376h0M143 378h0M154 372h0M143 332h0M139 336h0M125 312h0M130 369h0M137 374h0M138 344h0M147 369h0M131 315h0M151 340h0M155 371h0M163 380h0M153 365h0M137 342h0M139 356h0M140 334h0M138 372h0M117 379h0M148 333h0M145 348h0M139 331h0M138 329h0M119 373h0M150 364h0M141 373h0M150 323h0M145 370h0M144 337h0M130 387h0M147 418h0M175 366h0M141 418h0M132 408h0M141 403h0M145 386h0M150 396h0M141 403h0M134 390h0M129 407h0M148 392h0M136 407h0M126 392h0M160 402h0M164 417h0M131 399h0M130 404h0M127 397h0M138 413h0M141 380h0M145 372h0M129 406h0M143 383h0M145 368h0M138 398h0M140 416h0M155 382h0M136 378h0M125 410h0M157 365h0M153 381h0M133 388h0M134 376h0M154 393h0M132 408h0M137 396h0M138 382h0M129 379h0M167 412h0M162 377h0M139 417h0M142 391h0M162 418h0M156 368h0M132 386h0M118 377h0M138 403h0M144 394h0M139 384h0M153 372h0M151 407h0M139 394h0M149 382h0M134 406h0M156 420h0M164 388h0M160 413h0M151 404h0M143 376h0M145 401h0M119 383h0M132 393h0M142 417h0M127 390h0M127 394h0M141 383h0M130 407h0M125 401h0M130 405h0M104 398h0M148 408h0M148 372h0M157 397h0M141 393h0M146 386h0M162 370h0M125 393h0M128 382h0M146 423h0M122 410h0M140 382h0M151 384h0M139 398h0M145 401h0M125 383h0M182 396h0M137 392h0M130 397h0M136 429h0M164 394h0M157 386h0M144 399h0M154 410h0M149 375h0M144 411h0M151 399h0M137 391h0M151 403h0M141 393h0M132 398h0M147 400h0M136 385h0M124 406h0M144 408h0M135 432h0M148 382h0M155 412h0M124 376h0M139 380h0M151 400h0M142 416h0M146 364h0M154 400h0M126 381h0M142 387h0M158 418h0M129 406h0M165 401h0M131 414h0M159 406h0M140 405h0M116 422h0M141 395h0M162 405h0M130 397h0M168 378h0M146 395h0M127 419h0M143 386h0M161 373h0M162 389h0M146 398h0M152 387h0M131 415h0M133 389h0M132 405h0M148 394h0M129 400h0M154 381h0M145 381h0M139 406h0M149 394h0M144 392h0M143 406h0M160 391h0M109 392h0M158 411h0M129 388h0M140 410h0M119 306h0M163 424h0M122 365h0M161 405h0M127 353h0M145 436h0M123 416h0M172 337h0M158 356h0M117 349h0M149 414h0M122 402h0M137 369h0M158 377h0M161 371h0M121 378h0M156 366h0M119 407h0M165 375h0M136 421h0M125 396h0M145 373h0M153 374h0M151 369h0M167 387h0M155 375h0M169 371h0M162 365h0M150 371h0M136 434h0M164 410h0M156 366h0M162 406h0M135 431h0M152 411h0M149 414h0M161 378h0M149 369h0M166 396h0M147 416h0M117 404h0M161 421h0M163 394h0M141 376h0M123 402h0M150 366h0M141 373h0M160 398h0M133 356h0M125 426h0M124 416h0M134 425h0M171 367h0M157 378h0M162 389h0M160 402h0M145 421h0M121 401h0M162 375h0M147 370h0M127 385h0M156 413h0M137 377h0M125 390h0M139 421h0M137 378h0M151 366h0M123 385h0M157 414h0M154 363h0M142 374h0M169 387h0M165 381h0M124 391h0M164 382h0M141 419h0M172 379h0M165 384h0M140 375h0M124 420h0M168 374h0M148 371h0M166 381h0M161 404h0M157 374h0M159 358h0M161 376h0M120 395h0M168 383h0M126 414h0M142 368h0M162 390h0M117 413h0M152 411h0M146 373h0M123 389h0M136 430h0M162 404h0M142 373h0M124 408h0M140 372h0M164 383h0M149 371h0M169 372h0M131 417h0M120 394h0M150 425h0M136 374h0M117 415h0M162 383h0M163 383h0M173 384h0M145 369h0M131 382h0M145 362h0M139 370h0M147 420h0M160 381h0M149 368h0M125 382h0M147 365h0M162 411h0M148 374h0M164 376h0M152 371h0M149 417h0M133 419h0M150 356h0M129 418h0M118 396h0M167 363h0M126 419h0M163 391h0M161 396h0M135 426h0M165 398h0M133 367h0M132 380h0M164 379h0M159 375h0M122 416h0M145 419h0M165 377h0M133 369h0M160 418h0M156 375h0M162 391h0M129 432h0M134 373h0M173 379h0M145 368h0M163 382h0M141 425h0M161 397h0M159 374h0M119 417h0M163 394h0M125 389h0M123 403h0M166 369h0M158 373h0M165 384h0M136 377h0M168 375h0M123 398h0M141 375h0M127 387h0M155 373h0M124 389h0M168 383h0M121 407h0M148 415h0M133 422h0M119 410h0M160 380h0M139 373h0M123 408h0M117 383h0M167 376h0M163 380h0M166 389h0M150 413h0M149 363h0M151 416h0M132 418h0M125 395h0M166 405h0M170 382h0M159 376h0M123 396h0M132 374h0M127 415h0M156 375h0M169 381h0M154 374h0M155 369h0M127 414h0M157 377h0M127 380h0M124 421h0M159 411h0M150 368h0M165 377h0M147 372h0M161 386h0M118 391h0M123 392h0M157 372h0M129 374h0M118 403h0M149 371h0M161 378h0M166 403h0M129 383h0M148 418h0M162 400h0M130 424h0M144 368h0M151 371h0M121 425h0M157 404h0M166 366h0M165 378h0M124 432h0M167 378h0M152 430h0M142 352h0M165 379h0M165 375h0M149 372h0M143 373h0M148 416h0M119 414h0M165 394h0M133 420h0M167 366h0M145 369h0M149 374h0M126 382h0M156 407h0M141 373h0M149 372h0M117 400h0M157 373h0M121 407h0M143 372h0M131 377h0M123 410h0M150 371h0M130 386h0M156 375h0M149 416h0M165 398h0M125 415h0M123 410h0M154 374h0M152 371h0M154 412h0M172 376h0M159 379h0M144 364h0M171 392h0M163 397h0M137 375h0M156 407h0M167 368h0M167 387h0M169 376h0M154 368h0M147 370h0M156 412h0M155 373h0M132 380h0M147 368h0M162 374h0M164 379h0M156 409h0M145 360h0M135 377h0M126 419h0M164 400h0M152 364h0M166 386h0M162 384h0M159 373h0M168 395h0M160 380h0M161 371h0M143 373h0M161 397h0M151 371h0M168 398h0M115 407h0M148 366h0M160 381h0M163 396h0M164 374h0M154 364h0M138 377h0M130 377h0M131 378h0M160 380h0M163 395h0M118 411h0M170 372h0M126 385h0M156 413h0M151 416h0M126 444h0M156 407h0M133 434h0M162 366h0M156 418h0M146 371h0M133 377h0M136 431h0M169 375h0M128 383h0M161 388h0M159 373h0M136 378h0M158 404h0M152 374h0M169 376h0M160 374h0M159 378h0M132 379h0M157 420h0M162 375h0M135 374h0M154 419h0M156 372h0M170 382h0M161 395h0M162 380h0M124 433h0M162 377h0M122 384h0M148 373h0M152 357h0M164 387h0M165 388h0M163 358h0M162 394h0M129 386h0M120 374h0M159 409h0M155 374h0M129 388h0M161 407h0M157 376h0M159 366h0M169 381h0M128 386h0M121 392h0M131 384h0M137 376h0M167 397h0M156 376h0M140 419h0M163 366h0M161 407h0M157 376h0M151 419h0M151 369h0M134 373h0M148 424h0M151 365h0M126 389h0M140 433h0M154 373h0M158 377h0M121 422h0M164 400h0M155 372h0M152 373h0M124 402h0M120 410h0M163 379h0M171 386h0M152 361h0M168 376h0M142 368h0M132 373h0M132 379h0M169 366h0M147 370h0M123 393h0M170 403h0M135 421h0M165 393h0M129 380h0M123 424h0M129 417h0M118 405h0M117 402h0M167 387h0M153 362h0M152 365h0M157 374h0M137 430h0M142 371h0M120 435h0M123 405h0M164 386h0M126 422h0M157 368h0M117 406h0M155 366h0M149 372h0" stroke="#72bf52" stroke-opacity=".42" stroke-width="1.7" stroke-linecap="square"/><g transform="translate(73.4 184.0) rotate(0.0)"><ellipse rx="3.50" ry="2.50" fill="none" stroke="#8fcd72" stroke-width=".45" stroke-opacity=".8"/><ellipse rx="1.75" ry="1.25" fill="none" stroke="#8fcd72" stroke-width=".45" stroke-opacity=".8"/></g><g transform="translate(71.5 198.0) rotate(30.0)"><ellipse rx="8.5" ry="12.5" fill="url(#g4)" stroke="#8fcd72" stroke-width=".6" stroke-opacity=".8"/><ellipse cx="0.00" cy="0.00" rx="7.08" ry="10.42" fill="none" stroke="#fff" stroke-width=".4" stroke-opacity=".6"/><ellipse cx="0.00" cy="0.00" rx="5.67" ry="8.33" fill="none" stroke="#fff" stroke-width=".4" stroke-opacity=".6"/><ellipse cx="0.00" cy="0.00" rx="4.25" ry="6.25" fill="none" stroke="#fff" stroke-width=".4" stroke-opacity=".6"/><ellipse cx="0.00" cy="0.00" rx="2.83" ry="4.17" fill="none" stroke="#fff" stroke-width=".4" stroke-opacity=".6"/><ellipse cx="0.00" cy="0.00" rx="1.42" ry="2.08" fill="none" stroke="#fff" stroke-width=".4" stroke-opacity=".6"/><ellipse cx="0.00" cy="0.00" rx="0.85" ry="2.75" fill="#fff" fill-opacity=".75"/></g><rect x="44.5" y="138.4" width="90.8" height="91.9" fill="none" stroke="#999999" stroke-width="1"/><line x1="81.6" y1="138.4" x2="81.6" y2="230.3" stroke="#444" stroke-width="1"/><line x1="44.5" y1="185.4" x2="135.3" y2="185.4" stroke="#333333" stroke-width="1"/><text x="46.8" y="150.7" font-size="8.60" text-anchor="start" fill="#3a3a3a" font-weight="normal" stroke="#3a3a3a" stroke-width=".1" letter-spacing=".45">5.09</text><text x="46.8" y="225.9" font-size="8.60" text-anchor="start" fill="#3a3a3a" font-weight="normal" stroke="#3a3a3a" stroke-width=".1" letter-spacing=".45">94.6</text><text x="190.6" y="134.8" font-size="8.90" text-anchor="middle" fill="#3a3a3a">IPA100</text><path transform="scale(.5)" d="M347 372h0M336 351h0M344 375h0M344 380h0M346 370h0M342 352h0M345 351h0M348 333h0M346 378h0M354 360h0M355 371h0M326 341h0M354 372h0M339 332h0M340 330h0M344 380h0M342 344h0M347 378h0M348 336h0M334 362h0M345 340h0M344 371h0M367 368h0M330 374h0M344 378h0M342 372h0M340 380h0M350 374h0M350 359h0M340 380h0M337 334h0M355 379h0M347 327h0M351 340h0M345 323h0M344 380h0M331 376h0M349 379h0M332 351h0M345 328h0M349 328h0M350 375h0M361 366h0M333 376h0M341 376h0M348 326h0M347 346h0M338 380h0M346 352h0M346 378h0M366 344h0M343 358h0M339 363h0M354 347h0M351 377h0M325 371h0M324 323h0M361 337h0M349 373h0M351 344h0M358 376h0M343 334h0M344 349h0M349 351h0M332 341h0M351 373h0M340 375h0M348 330h0M346 335h0M334 361h0M342 358h0M331 374h0M337 374h0M354 376h0M352 375h0M363 376h0M343 371h0M334 329h0M347 375h0M347 370h0M345 379h0M337 335h0M339 322h0M346 321h0M355 372h0M339 370h0M341 374h0M350 356h0M337 371h0M334 354h0M347 355h0M349 354h0M341 371h0M347 379h0M343 348h0M340 351h0M346 356h0M340 368h0M341 378h0M355 347h0M340 354h0M342 325h0M363 340h0M346 380h0M333 375h0M337 332h0M338 359h0M347 324h0M352 361h0M350 373h0M345 325h0M337 351h0M340 356h0M349 326h0M359 374h0M336 375h0M352 348h0M342 379h0M357 380h0M357 356h0M344 379h0M341 357h0M359 360h0M352 369h0M345 380h0M352 376h0M340 321h0M346 375h0M354 379h0M347 359h0M346 330h0M341 368h0M331 364h0M343 365h0M338 375h0M350 353h0M340 376h0M333 371h0M337 366h0M343 377h0M349 378h0M339 363h0M332 346h0M354 343h0M345 369h0M342 350h0M345 353h0M343 378h0M339 351h0M357 359h0M329 327h0M351 357h0M334 371h0M353 347h0M363 380h0M347 325h0M354 378h0M327 358h0M349 376h0M340 325h0M351 380h0M356 380h0M346 336h0M358 329h0M344 373h0M335 337h0M353 378h0M344 360h0M344 357h0M359 347h0M347 343h0M348 373h0M357 323h0M345 374h0M342 350h0M357 370h0M336 372h0M345 368h0M338 369h0M337 364h0M346 357h0M351 366h0M335 369h0M350 368h0M336 380h0M340 355h0M358 380h0M349 368h0M347 359h0M354 379h0M346 359h0M332 356h0M333 326h0M351 362h0M347 366h0M358 374h0M344 367h0M343 365h0M347 352h0M346 372h0M350 345h0M345 361h0M343 360h0M338 365h0M339 377h0M353 323h0M342 374h0M340 365h0M353 365h0M347 367h0M344 395h0M345 407h0M326 396h0M366 409h0M359 405h0M343 410h0M363 383h0M331 401h0M318 387h0M357 387h0M341 382h0M350 388h0M323 406h0M333 408h0M347 393h0M356 405h0M351 399h0M336 380h0M329 392h0M353 416h0M349 397h0M323 417h0M360 415h0M358 383h0M346 374h0M349 387h0M358 385h0M343 416h0M340 399h0M340 401h0M346 401h0M341 396h0M345 399h0M340 396h0M362 396h0M339 378h0M325 404h0M332 412h0M341 413h0M339 385h0M336 409h0M335 393h0M332 395h0M355 401h0M344 397h0M336 394h0M331 378h0M356 403h0M344 399h0M355 401h0M368 410h0M369 401h0M348 388h0M347 407h0M337 405h0M351 381h0M342 378h0M353 397h0M334 402h0M369 412h0M337 398h0M337 390h0M350 388h0M337 396h0M353 400h0M338 405h0M327 398h0M327 403h0M360 389h0M351 400h0M349 396h0M321 406h0M342 404h0M343 373h0M320 386h0M357 408h0M356 405h0M352 399h0M337 395h0M344 405h0M319 391h0M343 393h0M355 384h0M328 400h0M345 393h0M337 387h0M359 395h0M338 391h0M334 402h0M351 401h0M345 392h0M345 387h0M343 409h0M354 423h0M354 387h0M312 395h0M356 412h0M356 398h0M338 385h0M331 388h0M340 410h0M333 374h0M350 414h0M342 387h0M329 415h0M332 386h0M338 389h0M335 389h0M349 404h0M332 387h0M343 404h0M331 408h0M324 415h0M353 408h0M352 400h0M347 415h0M327 398h0M358 394h0M354 402h0M336 398h0M334 387h0M341 410h0M339 383h0M340 422h0M345 376h0M341 396h0M332 399h0M318 401h0M316 399h0M347 405h0M312 415h0M319 401h0M341 406h0M335 402h0M337 385h0M353 392h0M354 414h0M332 401h0M343 381h0M375 424h0M341 402h0M356 409h0M344 384h0M359 406h0M340 393h0M348 390h0M327 378h0M335 364h0M351 395h0M340 395h0M350 311h0M324 395h0M381 355h0M390 356h0M336 374h0M386 316h0M399 309h0M336 327h0M395 368h0M355 402h0M375 380h0M335 387h0M364 377h0M382 382h0M362 408h0M347 420h0M328 395h0M376 392h0M326 385h0M339 382h0M365 392h0M374 375h0M387 389h0M341 377h0M344 381h0M368 383h0M364 379h0M369 386h0M325 390h0M378 390h0M328 423h0M358 378h0M344 381h0M352 413h0M353 376h0M363 371h0M324 399h0M365 396h0M366 374h0M364 384h0M312 420h0M366 396h0M356 375h0M382 383h0M348 379h0M343 377h0M339 382h0M360 379h0M371 388h0M384 394h0M344 366h0M363 382h0M367 397h0M356 374h0M329 419h0M354 371h0M359 378h0M360 374h0M350 376h0M335 420h0M320 410h0M369 388h0M350 380h0M370 370h0M360 373h0M355 370h0M379 371h0M376 396h0M335 377h0M372 393h0M367 388h0M377 378h0M367 387h0M352 418h0M309 412h0M376 389h0M371 402h0M358 380h0M352 379h0M367 396h0M378 386h0M378 381h0M347 379h0M324 404h0M319 407h0M330 390h0M353 380h0M342 380h0M358 379h0M357 379h0M377 384h0M327 392h0M338 421h0M342 374h0M322 428h0M351 379h0M370 381h0M349 377h0M356 369h0M329 419h0M375 385h0M325 415h0M368 386h0M347 378h0M370 394h0M371 372h0M330 418h0M375 393h0M363 401h0M370 386h0M358 409h0M364 371h0M320 413h0M351 375h0M369 394h0M359 376h0M349 415h0M330 387h0M368 396h0M339 421h0M335 379h0M351 377h0M359 413h0M334 383h0M331 388h0M321 415h0M367 380h0M354 412h0M359 378h0M340 382h0M362 376h0M353 377h0M322 415h0M333 383h0M369 380h0M371 409h0M353 379h0M368 383h0M330 392h0M323 397h0M366 378h0M373 396h0M376 389h0M319 406h0M367 386h0M349 376h0M372 386h0M339 384h0M359 374h0M360 376h0M382 377h0M358 375h0M364 372h0M365 399h0M357 377h0M366 374h0M367 367h0M315 397h0M332 425h0M324 401h0M366 386h0M377 381h0M325 417h0M363 405h0M367 407h0M321 412h0M366 395h0M337 384h0M371 390h0M337 420h0M334 419h0M329 389h0M323 414h0M369 394h0M368 381h0M359 376h0M336 421h0M368 376h0M347 379h0M358 379h0M381 389h0M338 379h0M366 386h0M365 394h0M328 420h0M328 417h0M322 416h0M323 389h0M331 387h0M326 384h0M320 410h0M353 413h0M357 408h0M328 393h0M362 382h0M357 380h0M351 417h0M355 376h0M366 383h0M343 421h0M324 399h0M336 378h0M366 393h0M342 367h0M361 381h0M333 422h0M358 373h0M367 388h0M340 382h0M339 384h0M363 380h0M329 422h0M372 391h0M328 386h0M326 396h0M336 422h0M367 392h0M357 412h0M370 382h0M338 380h0M371 403h0M370 380h0M347 378h0M334 432h0M362 406h0M362 381h0M317 390h0M368 405h0M329 418h0M365 379h0M353 377h0M349 377h0M363 371h0M356 374h0M368 393h0M366 398h0M348 421h0M367 375h0M361 377h0M345 425h0M364 385h0M365 405h0M356 374h0M348 369h0M325 382h0M366 397h0M347 377h0M347 375h0M364 405h0M319 408h0M371 387h0M351 380h0M368 393h0M366 394h0M355 378h0M354 420h0M351 371h0M380 396h0M331 420h0M336 384h0M377 378h0M336 426h0M319 414h0M378 381h0M364 379h0M319 394h0M360 374h0M338 375h0M364 381h0M361 379h0M336 419h0M343 380h0M348 375h0M366 381h0M322 412h0M353 378h0M327 393h0M348 420h0M364 400h0M324 398h0M341 382h0M369 402h0M371 384h0M324 404h0M366 392h0M365 378h0M372 405h0M366 383h0M361 380h0M339 383h0M380 366h0M356 365h0M320 424h0M350 376h0M353 371h0M332 386h0M323 410h0M364 399h0M366 405h0M325 427h0M370 394h0M342 418h0M331 384h0M367 390h0M316 413h0M349 377h0M326 389h0M337 382h0M359 377h0M370 386h0M360 408h0M366 397h0M363 412h0M312 412h0M325 391h0M366 394h0M364 383h0M361 370h0M378 391h0M365 378h0M353 377h0M372 389h0M356 379h0M356 416h0M319 409h0M360 412h0M371 379h0M367 381h0M329 382h0M366 394h0M329 390h0M358 377h0M344 425h0M369 386h0M347 371h0M367 396h0M370 379h0M345 422h0M340 418h0M368 397h0M355 374h0M323 421h0M332 424h0M341 421h0M323 412h0M361 377h0M359 373h0M329 391h0M328 392h0M372 393h0M346 379h0M364 400h0M362 364h0M355 413h0M327 397h0M369 399h0M358 373h0M326 395h0M368 382h0M373 391h0M350 374h0M360 378h0M370 374h0M320 424h0M373 391h0M320 412h0M356 414h0M373 402h0M355 379h0M370 376h0M337 422h0M339 419h0M321 421h0M365 409h0M353 378h0M366 409h0M341 422h0M370 376h0M341 382h0M330 385h0M351 367h0M336 422h0M323 428h0M321 406h0M377 394h0M328 388h0M369 383h0M332 418h0M338 381h0M369 388h0M358 376h0M313 402h0M319 414h0M327 393h0M357 410h0M367 386h0M366 382h0M366 403h0M368 398h0M363 384h0M367 376h0M355 419h0M368 392h0M366 398h0M347 420h0M364 409h0M333 419h0M346 380h0M331 387h0M318 419h0" stroke="#3b86d6" stroke-opacity=".42" stroke-width="1.7" stroke-linecap="square"/><g transform="translate(172.4 199.5) rotate(50.0)"><ellipse rx="8.0" ry="12.5" fill="url(#g5)" stroke="#6ea7e4" stroke-width=".6" stroke-opacity=".8"/><ellipse cx="0.00" cy="0.00" rx="6.67" ry="10.42" fill="none" stroke="#fff" stroke-width=".4" stroke-opacity=".6"/><ellipse cx="0.00" cy="0.00" rx="5.33" ry="8.33" fill="none" stroke="#fff" stroke-width=".4" stroke-opacity=".6"/><ellipse cx="0.00" cy="0.00" rx="4.00" ry="6.25" fill="none" stroke="#fff" stroke-width=".4" stroke-opacity=".6"/><ellipse cx="0.00" cy="0.00" rx="2.67" ry="4.17" fill="none" stroke="#fff" stroke-width=".4" stroke-opacity=".6"/><ellipse cx="0.00" cy="0.00" rx="1.33" ry="2.08" fill="none" stroke="#fff" stroke-width=".4" stroke-opacity=".6"/><ellipse cx="0.00" cy="0.00" rx="0.80" ry="2.75" fill="#fff" fill-opacity=".75"/></g><rect x="144.8" y="138.4" width="91.5" height="91.9" fill="none" stroke="#999999" stroke-width="1"/><line x1="183.4" y1="138.4" x2="183.4" y2="230.3" stroke="#444" stroke-width="1"/><line x1="144.8" y1="189.0" x2="236.3" y2="189.0" stroke="#333333" stroke-width="1"/><text x="147.1" y="150.7" font-size="8.60" text-anchor="start" fill="#3a3a3a" font-weight="normal" stroke="#3a3a3a" stroke-width=".1" letter-spacing=".45">5.30</text><text x="147.1" y="225.9" font-size="8.60" text-anchor="start" fill="#3a3a3a" font-weight="normal" stroke="#3a3a3a" stroke-width=".1" letter-spacing=".45">94.3</text><text x="289.9" y="134.8" font-size="8.90" text-anchor="middle" fill="#3a3a3a">IPA1000</text><path transform="scale(.5)" d="M543 336h0M546 341h0M537 378h0M539 334h0M554 374h0M555 321h0M546 320h0M542 355h0M559 364h0M546 360h0M540 372h0M539 379h0M540 362h0M545 337h0M543 327h0M553 345h0M553 359h0M543 331h0M559 345h0M541 378h0M543 359h0M543 380h0M549 361h0M540 340h0M542 379h0M553 380h0M538 355h0M560 373h0M532 370h0M539 369h0M542 378h0M547 362h0M547 327h0M550 335h0M556 350h0M528 336h0M539 379h0M540 377h0M542 374h0M543 342h0M538 359h0M527 380h0M551 332h0M539 380h0M542 377h0M546 327h0M542 354h0M554 352h0M544 368h0M538 378h0M547 355h0M561 362h0M553 348h0M542 375h0M547 344h0M550 368h0M539 361h0M550 369h0M549 326h0M546 373h0M540 365h0M544 356h0M542 367h0M548 374h0M528 378h0M542 345h0M549 377h0M551 354h0M545 380h0M539 321h0M555 369h0M555 349h0M555 374h0M542 372h0M531 350h0M547 357h0M550 376h0M545 378h0M552 336h0M546 355h0M550 378h0M528 342h0M536 348h0M540 360h0M547 380h0M537 353h0M553 372h0M542 377h0M548 353h0M552 357h0M540 364h0M524 363h0M545 348h0M535 373h0M550 369h0M532 325h0M555 348h0M548 378h0M554 348h0M543 367h0M554 377h0M546 369h0M542 365h0M553 365h0M549 347h0M550 357h0M542 338h0M543 378h0M543 335h0M543 325h0M546 376h0M561 360h0M536 333h0M543 376h0M537 379h0M524 349h0M559 366h0M540 370h0M547 363h0M558 322h0M537 377h0M542 371h0M546 375h0M536 328h0M545 377h0M549 343h0M543 367h0M545 346h0M542 352h0M557 378h0M550 374h0M550 369h0M554 375h0M550 323h0M556 377h0M534 327h0M538 331h0M549 334h0M545 379h0M547 376h0M531 378h0M541 369h0M535 323h0M552 331h0M540 374h0M536 377h0M542 377h0M557 326h0M553 378h0M563 372h0M545 392h0M548 410h0M544 405h0M550 402h0M551 411h0M550 411h0M553 403h0M538 407h0M537 395h0M555 416h0M535 391h0M543 387h0M536 416h0M552 381h0M536 411h0M533 387h0M555 391h0M542 417h0M544 416h0M544 387h0M576 399h0M534 386h0M550 375h0M526 396h0M548 390h0M545 361h0M534 392h0M541 391h0M524 390h0M541 396h0M559 398h0M535 395h0M546 414h0M543 408h0M564 409h0M538 397h0M542 401h0M553 422h0M560 413h0M546 378h0M569 434h0M540 405h0M541 404h0M554 394h0M565 381h0M537 373h0M554 394h0M546 382h0M543 398h0M554 415h0M529 398h0M549 407h0M562 395h0M542 398h0M546 386h0M533 399h0M529 390h0M535 420h0M553 405h0M538 389h0M525 419h0M548 392h0M546 376h0M533 370h0M546 405h0M562 412h0M566 406h0M537 397h0M534 401h0M543 397h0M539 385h0M538 408h0M554 393h0M565 402h0M556 415h0M528 401h0M560 409h0M568 401h0M546 384h0M544 387h0M547 418h0M544 391h0M535 404h0M533 402h0M547 416h0M546 404h0M543 399h0M523 407h0M548 422h0M538 381h0M546 410h0M535 379h0M539 379h0M568 384h0M538 390h0M536 405h0M542 402h0M536 373h0M542 394h0M527 398h0M554 401h0M555 396h0M539 405h0M570 406h0M537 391h0M521 403h0M529 413h0M549 386h0M545 396h0M532 374h0M554 395h0M521 399h0M555 374h0M551 390h0M545 405h0M537 403h0M549 390h0M552 396h0M562 396h0M535 410h0M515 414h0M558 350h0M591 435h0M519 421h0M511 364h0M524 309h0M566 314h0M522 364h0M515 394h0M547 422h0M546 372h0M526 389h0M531 418h0M549 413h0M517 410h0M572 383h0M575 388h0M569 377h0M560 402h0M522 403h0M534 387h0M567 400h0M568 396h0M560 377h0M522 397h0M564 371h0M562 383h0M547 378h0M539 417h0M553 377h0M539 425h0M564 392h0M562 397h0M544 418h0M552 376h0M532 386h0M558 372h0M520 395h0M560 383h0M564 383h0M521 395h0M573 384h0M557 404h0M575 383h0M547 374h0M571 398h0M520 410h0M543 375h0M539 421h0M562 386h0M523 413h0M567 369h0M549 375h0M549 417h0M565 394h0M554 409h0M550 413h0M546 377h0M559 410h0M523 418h0M534 385h0M565 399h0M566 398h0M566 389h0M563 383h0M552 410h0M533 421h0M523 412h0M561 370h0M529 423h0M532 420h0M527 421h0M570 382h0M541 417h0M522 400h0M552 376h0M566 375h0M547 378h0M558 380h0M563 395h0M512 413h0M519 405h0M563 401h0M556 415h0M538 420h0M521 413h0M565 397h0M563 404h0M559 380h0M523 412h0M534 385h0M572 383h0M530 388h0M521 421h0M533 382h0M566 406h0M556 413h0M521 405h0M561 408h0M557 380h0M526 422h0M547 380h0M533 423h0M525 393h0M516 395h0M509 411h0M536 382h0M545 417h0M524 396h0M567 389h0M552 379h0M556 376h0M554 375h0M562 385h0M520 397h0M566 386h0M519 409h0M533 421h0M545 419h0M548 379h0M568 407h0M552 380h0M536 384h0M561 382h0M523 403h0M549 379h0M509 407h0M567 387h0M514 400h0M567 398h0M556 377h0M516 418h0M528 390h0M567 391h0M550 375h0M544 420h0M565 389h0M520 419h0M562 386h0M523 421h0M545 374h0M522 396h0M556 408h0M541 422h0M545 377h0M564 384h0M547 380h0M562 382h0M563 391h0M566 398h0M564 388h0M519 415h0M525 419h0M561 405h0M559 406h0M563 387h0M525 424h0M519 408h0M571 377h0M528 388h0M558 374h0M522 404h0M563 395h0M527 422h0M549 372h0M563 392h0M528 428h0M562 394h0M560 382h0M567 411h0M540 426h0M569 372h0M526 416h0M549 420h0M545 419h0M541 421h0M561 402h0M534 420h0M546 379h0M523 419h0M562 394h0M547 418h0M568 405h0M569 390h0M528 378h0M568 388h0M522 392h0M555 381h0M565 399h0M541 382h0M560 380h0M559 383h0M565 385h0M558 413h0M555 380h0M553 381h0M523 395h0M534 387h0M564 388h0M520 406h0M518 415h0M534 425h0M554 414h0M555 381h0M549 366h0M550 380h0M566 392h0M516 412h0M554 369h0M512 426h0M567 391h0M524 414h0M527 421h0M547 377h0M528 382h0M540 380h0M560 376h0M547 376h0M553 381h0M525 391h0M519 394h0M558 381h0M565 389h0M546 381h0M513 417h0M552 375h0M549 372h0M572 385h0M528 426h0M533 388h0M554 408h0M545 374h0M564 375h0M556 407h0M533 419h0M551 379h0M542 380h0M527 420h0M535 419h0M558 412h0M528 426h0M524 388h0M552 380h0M558 406h0M562 376h0M535 383h0M548 378h0M522 404h0M556 409h0M549 417h0M553 380h0M521 396h0M556 379h0M579 375h0M560 405h0M559 378h0M521 406h0M557 381h0M522 412h0M573 396h0M510 416h0M535 379h0M536 422h0M569 395h0M541 380h0M558 380h0M516 411h0M563 383h0M509 401h0M558 409h0M562 385h0M561 380h0M562 396h0M522 404h0M534 383h0M522 415h0M526 418h0M562 393h0M518 397h0M554 377h0M553 376h0M559 381h0M564 382h0M524 398h0M559 381h0M563 367h0M552 371h0M517 403h0M557 379h0M517 401h0M548 377h0M571 385h0M538 422h0M560 380h0M512 427h0M545 377h0M530 429h0M558 408h0M558 409h0M519 410h0M544 377h0M551 379h0M569 404h0M563 406h0M560 377h0M566 376h0M548 417h0M555 381h0M555 379h0M513 416h0M571 373h0M566 396h0M532 421h0M566 387h0M546 416h0M555 372h0M564 383h0M518 415h0M557 409h0M518 400h0M532 417h0M536 383h0M526 393h0M546 373h0M564 383h0M552 378h0M527 417h0M533 388h0M533 378h0M564 399h0M552 378h0M544 420h0M560 400h0M571 380h0M575 385h0M564 377h0M551 378h0M563 396h0M570 395h0M544 417h0M560 402h0M565 384h0M533 383h0M564 384h0M569 397h0M522 404h0M538 383h0M533 419h0M561 398h0M540 382h0M562 394h0M539 379h0M563 407h0M563 386h0M567 372h0M564 401h0M545 378h0M537 383h0M537 422h0M561 373h0M527 392h0M555 376h0M549 371h0M531 386h0M557 406h0M528 420h0M568 379h0M554 411h0M560 384h0M567 405h0M562 396h0M563 387h0M558 376h0M523 432h0M561 400h0M579 382h0M543 415h0M571 386h0M570 381h0M557 381h0M562 402h0M560 405h0M563 390h0M511 425h0M568 392h0M570 383h0M557 405h0M521 399h0M566 405h0M535 425h0M519 400h0M563 377h0M524 391h0M522 411h0M562 379h0M516 402h0M530 385h0M546 418h0M573 384h0M522 406h0M563 388h0M557 407h0M525 395h0M527 388h0M563 389h0M527 382h0M517 417h0M557 406h0" stroke="#c9cb3a" stroke-opacity=".42" stroke-width="1.7" stroke-linecap="square"/><g transform="translate(271.2 199.5) rotate(50.0)"><ellipse rx="7.5" ry="12.0" fill="url(#g6)" stroke="#cfd15a" stroke-width=".6" stroke-opacity=".8"/><ellipse cx="0.00" cy="0.00" rx="6.25" ry="10.00" fill="none" stroke="#fff" stroke-width=".4" stroke-opacity=".6"/><ellipse cx="0.00" cy="0.00" rx="5.00" ry="8.00" fill="none" stroke="#fff" stroke-width=".4" stroke-opacity=".6"/><ellipse cx="0.00" cy="0.00" rx="3.75" ry="6.00" fill="none" stroke="#fff" stroke-width=".4" stroke-opacity=".6"/><ellipse cx="0.00" cy="0.00" rx="2.50" ry="4.00" fill="none" stroke="#fff" stroke-width=".4" stroke-opacity=".6"/><ellipse cx="0.00" cy="0.00" rx="1.25" ry="2.00" fill="none" stroke="#fff" stroke-width=".4" stroke-opacity=".6"/><ellipse cx="0.00" cy="0.00" rx="0.75" ry="2.64" fill="#fff" fill-opacity=".75"/></g><rect x="244.5" y="138.4" width="90.9" height="91.9" fill="none" stroke="#999999" stroke-width="1"/><line x1="282.8" y1="138.4" x2="282.8" y2="230.3" stroke="#444" stroke-width="1"/><line x1="244.5" y1="189.0" x2="335.4" y2="189.0" stroke="#333333" stroke-width="1"/><text x="246.8" y="150.7" font-size="8.60" text-anchor="start" fill="#3a3a3a" font-weight="normal" stroke="#3a3a3a" stroke-width=".1" letter-spacing=".45">4.57</text><text x="246.8" y="225.9" font-size="8.60" text-anchor="start" fill="#3a3a3a" font-weight="normal" stroke="#3a3a3a" stroke-width=".1" letter-spacing=".45">95.2</text><text x="441.4" y="134.8" font-size="8.90" text-anchor="middle" fill="#3a3a3a">Con</text><path transform="scale(.5)" d="M835 416h0M851 399h0M858 386h0M867 421h0M881 398h0M853 388h0M864 395h0M837 421h0M856 397h0M859 410h0M871 391h0M849 409h0M867 397h0M849 424h0M857 416h0M857 389h0M855 406h0M849 418h0M842 400h0M851 386h0M839 408h0M862 409h0M867 384h0M833 416h0M859 398h0M826 433h0M875 405h0M822 409h0M840 408h0M844 421h0M851 395h0M834 414h0M844 418h0M869 390h0M869 385h0M868 369h0M854 402h0M853 388h0M855 403h0M833 419h0M850 411h0M846 416h0M860 382h0M880 386h0M857 401h0M863 391h0M841 401h0M859 408h0M862 406h0M864 402h0M844 393h0M855 410h0M841 423h0M855 377h0M846 400h0M841 398h0M845 409h0M856 410h0M856 386h0M869 387h0M884 384h0M860 390h0M838 424h0M843 411h0M850 402h0M840 403h0M848 417h0M850 417h0M861 383h0M866 398h0M851 399h0M856 396h0M850 421h0M870 383h0M851 402h0M865 405h0M849 412h0M860 386h0M864 398h0M851 393h0M859 385h0M877 379h0M839 426h0M867 384h0M855 391h0M845 391h0M839 410h0M866 391h0M860 386h0M859 388h0M849 408h0M842 409h0M871 406h0M861 382h0M864 416h0M851 387h0M851 402h0M866 407h0M866 384h0M858 397h0M872 380h0M867 396h0M874 386h0M890 389h0M865 385h0M838 407h0M844 424h0M841 408h0M855 413h0M859 402h0M864 377h0M856 410h0M851 397h0M835 404h0M861 397h0M849 385h0M852 383h0M841 422h0M862 382h0M853 406h0M847 395h0M857 381h0M864 420h0M864 388h0M854 385h0M868 413h0M868 402h0M847 407h0M865 391h0M863 397h0M875 386h0M850 415h0M853 395h0M873 372h0M853 404h0M856 412h0M864 414h0M842 414h0M853 392h0M828 431h0M862 403h0M850 408h0M852 409h0M860 402h0M843 410h0M845 403h0M859 396h0M858 384h0M853 397h0M857 400h0M861 388h0M858 407h0M864 410h0M877 412h0M853 425h0M841 421h0M860 404h0M847 389h0M874 384h0M835 413h0M858 395h0M861 398h0M860 404h0M867 395h0M852 410h0M859 419h0M847 376h0M834 407h0M855 411h0M847 386h0M834 418h0M853 406h0M854 402h0M874 406h0M865 404h0M860 409h0M852 403h0M863 408h0M839 403h0M853 410h0M862 411h0M852 413h0M847 407h0M844 410h0M830 430h0M856 408h0M884 387h0M850 415h0M843 408h0M844 392h0M846 399h0M862 390h0M870 389h0M856 414h0M848 404h0M848 405h0M838 427h0M849 399h0M851 403h0M849 413h0M848 407h0M849 421h0M843 419h0M853 393h0M876 396h0M853 392h0M852 430h0M855 402h0M867 397h0M843 419h0M859 405h0M842 390h0M847 401h0M871 382h0M855 412h0M858 405h0M874 395h0M849 403h0M857 396h0M857 427h0M866 396h0M868 396h0M858 403h0M837 422h0M845 410h0M861 381h0M852 405h0M844 402h0M858 389h0M859 404h0M866 398h0M864 402h0M822 428h0M838 403h0M857 392h0M877 393h0M878 391h0M852 391h0M874 384h0M848 409h0M838 398h0M879 394h0M845 404h0M865 395h0M841 416h0M847 399h0M860 386h0M852 392h0M869 399h0M874 403h0M850 394h0M862 406h0M840 408h0M836 431h0M847 397h0M849 416h0M886 375h0M850 419h0M854 422h0M835 402h0M856 399h0M852 369h0M873 417h0M858 388h0M872 394h0M865 403h0M860 400h0M866 396h0M843 425h0M849 409h0M856 399h0M848 408h0M858 407h0M861 397h0M866 402h0M856 384h0M864 402h0M861 400h0M836 431h0M843 395h0M847 398h0M848 408h0M866 398h0M854 423h0M849 407h0M846 402h0M862 383h0M847 413h0M852 417h0M851 393h0M858 411h0M860 400h0M838 399h0M854 409h0M855 384h0M853 390h0M879 386h0M860 411h0M863 407h0M876 397h0M857 345h0M878 360h0M874 318h0M872 322h0M870 381h0M876 331h0M863 377h0M866 330h0M884 339h0M871 366h0M867 380h0M872 386h0M872 311h0M869 362h0M871 382h0M859 374h0M870 364h0M876 303h0M871 381h0M867 342h0M868 327h0M876 354h0M872 382h0M862 322h0M865 382h0M878 381h0M873 341h0M864 342h0M869 384h0M863 316h0M863 376h0M878 347h0M869 332h0M872 357h0M870 366h0M870 331h0M867 329h0M873 383h0M862 368h0M870 381h0M882 384h0M862 326h0M864 364h0M877 342h0M875 382h0M879 385h0M869 367h0M867 385h0M869 368h0M870 314h0M861 338h0M879 338h0M870 337h0M885 361h0M874 369h0M874 376h0M875 377h0M867 362h0M873 336h0M884 322h0M877 366h0M861 380h0M866 380h0M867 376h0M868 373h0M881 327h0M875 303h0M866 377h0M865 353h0M882 364h0M870 375h0M863 316h0M865 375h0M870 326h0M872 361h0M871 329h0M866 357h0M874 349h0M871 378h0M870 304h0M863 383h0M875 360h0M862 303h0M864 364h0M868 348h0M867 362h0M853 343h0M877 385h0M872 305h0M868 351h0M855 355h0M869 348h0M869 368h0M871 359h0M869 371h0M863 353h0M872 367h0M864 379h0M865 385h0M864 359h0M858 316h0M871 337h0M863 345h0M873 338h0M857 385h0M876 313h0M877 381h0M876 362h0M887 384h0M878 324h0M868 359h0M872 380h0M860 319h0M875 378h0M867 356h0M912 386h0M932 387h0M904 392h0M896 401h0M902 397h0M896 393h0M894 395h0M882 403h0M903 401h0M930 386h0M905 392h0M903 378h0M926 401h0M900 408h0M903 406h0M927 382h0M897 387h0M907 400h0M911 410h0M894 392h0M918 408h0M890 399h0M888 401h0M905 406h0M898 393h0M879 419h0M918 388h0M898 392h0M887 403h0M909 385h0M926 409h0M897 399h0M887 389h0M913 395h0M889 409h0M893 395h0M918 391h0M908 397h0M899 403h0M938 391h0M875 414h0M903 376h0M904 396h0M906 410h0M874 405h0M916 395h0M893 394h0M910 392h0M876 414h0M902 404h0M883 393h0M909 391h0M898 406h0M926 393h0M872 400h0M900 410h0M904 388h0M907 397h0M905 403h0M899 395h0M907 400h0M917 377h0M918 392h0M898 417h0M904 390h0M899 402h0M882 391h0M900 406h0M895 407h0M925 398h0M907 401h0M892 398h0M909 403h0M888 406h0M886 393h0M883 396h0M906 400h0M906 398h0M912 403h0M915 397h0M906 390h0M929 422h0M916 389h0M878 400h0M874 408h0M908 413h0M932 404h0M877 405h0M911 408h0M888 404h0M884 393h0M907 383h0M900 404h0M899 399h0M903 397h0M897 393h0M895 389h0M916 408h0M897 406h0M915 393h0M886 413h0M888 403h0M901 397h0M888 404h0M912 415h0M890 402h0M914 386h0M868 392h0M909 411h0M888 398h0M890 370h0M898 400h0M915 409h0M898 385h0M889 417h0M912 398h0M906 394h0M877 413h0M919 392h0M910 399h0M900 397h0M897 384h0M884 383h0M905 403h0M900 394h0M904 406h0M884 418h0M883 399h0M906 393h0M904 393h0M930 391h0M902 405h0M908 393h0M911 399h0M913 405h0M904 392h0M884 380h0M898 403h0M901 417h0M893 409h0M890 393h0M911 395h0M907 391h0M898 406h0M897 396h0M900 409h0M894 397h0M911 393h0M895 396h0M917 409h0M834 395h0M835 337h0M915 366h0M931 410h0M924 370h0M849 399h0M863 338h0M801 332h0M868 350h0M917 391h0M808 320h0M803 345h0M925 409h0M907 373h0M825 442h0M936 350h0M873 381h0M848 426h0M836 403h0M852 423h0M874 402h0M855 421h0M880 390h0M871 405h0M829 422h0M883 382h0M861 382h0M879 391h0M860 382h0M849 385h0M832 409h0M864 415h0M853 387h0M831 419h0M885 384h0M877 373h0M883 382h0M880 387h0M844 392h0M852 425h0M841 425h0M832 425h0M857 422h0M832 403h0M836 435h0M844 424h0M877 394h0M882 388h0M866 380h0M838 397h0M857 383h0M867 413h0M830 409h0M873 401h0M858 418h0M836 424h0M874 379h0M830 411h0M830 417h0M866 413h0M883 390h0M870 405h0M878 383h0M879 385h0M838 426h0M881 390h0M876 380h0M840 429h0M838 426h0M842 431h0M824 423h0M837 426h0M828 421h0M835 423h0M830 416h0M826 421h0M881 378h0M842 390h0M881 392h0M868 379h0M870 380h0M843 394h0M860 381h0M835 406h0M839 425h0M864 376h0M857 382h0M824 417h0M878 391h0M836 424h0M833 428h0M851 386h0M837 402h0M874 375h0M834 404h0M847 425h0M830 415h0M867 380h0M871 409h0M877 398h0M877 384h0M850 430h0M873 401h0M870 405h0M875 382h0M876 403h0M862 382h0M873 401h0M831 410h0M838 398h0M880 375h0M834 429h0M843 425h0M866 415h0M852 387h0M871 409h0M832 414h0M883 380h0M847 389h0M878 388h0M843 396h0M877 398h0M856 419h0M846 391h0M852 383h0M846 426h0M873 372h0M861 379h0M877 383h0M884 392h0M835 424h0M826 418h0M879 388h0M886 375h0M847 423h0M852 426h0M878 386h0M872 377h0M878 390h0M830 416h0M832 420h0M879 393h0M859 418h0M877 400h0M846 390h0M854 385h0M840 398h0M885 379h0M882 386h0M826 416h0M833 408h0M830 418h0M871 380h0M877 391h0M858 382h0M832 424h0M866 411h0M837 393h0M841 424h0M880 386h0M878 391h0M880 380h0M846 424h0M831 430h0M840 430h0M869 407h0M859 383h0M872 378h0M869 379h0M831 429h0M865 381h0M877 397h0M867 414h0M877 393h0M870 406h0M837 425h0" stroke="#72bf52" stroke-opacity=".42" stroke-width="1.7" stroke-linecap="square"/><g transform="translate(427.5 201.1) rotate(46.0)"><ellipse rx="7.0" ry="14.8" fill="#d6edca" stroke="#fff" stroke-width=".9" stroke-opacity=".85"/><ellipse rx="7.6" ry="15.4" fill="none" stroke="#8fcd72" stroke-width=".5" stroke-opacity=".8"/><ellipse rx="4.34" ry="11.84" fill="url(#R0)"/><ellipse rx="6.00" ry="12.69" fill="none" stroke="#fff" stroke-width=".3" stroke-opacity=".55"/><ellipse rx="5.00" ry="10.57" fill="none" stroke="#fff" stroke-width=".3" stroke-opacity=".55"/><ellipse rx="4.00" ry="8.46" fill="none" stroke="#fff" stroke-width=".3" stroke-opacity=".55"/><ellipse rx="3.00" ry="6.34" fill="none" stroke="#fff" stroke-width=".3" stroke-opacity=".55"/><ellipse rx="2.00" ry="4.23" fill="none" stroke="#fff" stroke-width=".3" stroke-opacity=".55"/><ellipse rx="1.00" ry="2.11" fill="none" stroke="#fff" stroke-width=".3" stroke-opacity=".55"/><ellipse rx="0.49" ry="4.44" fill="#fff" fill-opacity=".55"/></g><rect x="395.5" y="138.4" width="91.9" height="91.9" fill="none" stroke="#999999" stroke-width="1"/><line x1="439.4" y1="138.4" x2="439.4" y2="230.3" stroke="#444" stroke-width="1"/><line x1="395.5" y1="189.0" x2="487.4" y2="189.0" stroke="#333333" stroke-width="1"/><text x="398.1" y="150.7" font-size="8.60" text-anchor="start" fill="#3a3a3a" font-weight="normal" stroke="#3a3a3a" stroke-width=".1" letter-spacing=".45"><tspan dx="-1.00">1</tspan><tspan dx="-0.90">.</tspan>35</text><text x="484.9" y="150.7" font-size="8.60" text-anchor="end" fill="#3a3a3a" font-weight="normal" stroke="#3a3a3a" stroke-width=".1" letter-spacing=".45">0.068</text><text x="398.1" y="225.9" font-size="8.60" text-anchor="start" fill="#3a3a3a" font-weight="normal" stroke="#3a3a3a" stroke-width=".1" letter-spacing=".45">96.2</text><text x="484.9" y="225.9" font-size="8.60" text-anchor="end" fill="#3a3a3a" font-weight="normal" stroke="#3a3a3a" stroke-width=".1" letter-spacing=".45">2.39</text><text x="540.5" y="134.8" font-size="8.90" text-anchor="middle" fill="#3a3a3a">IPA100</text><path transform="scale(.5)" d="M1037 423h0M1058 383h0M1023 424h0M1047 397h0M1043 405h0M1062 398h0M1042 412h0M1059 397h0M1019 424h0M1040 387h0M1058 400h0M1080 386h0M1065 390h0M1057 402h0M1075 387h0M1055 403h0M1057 396h0M1030 420h0M1059 410h0M1044 418h0M1064 388h0M1061 404h0M1054 412h0M1030 407h0M1037 416h0M1038 419h0M1064 391h0M1043 405h0M1069 420h0M1037 399h0M1054 410h0M1063 401h0M1059 398h0M1049 395h0M1063 384h0M1082 388h0M1033 409h0M1057 408h0M1046 426h0M1047 390h0M1062 395h0M1044 395h0M1049 384h0M1052 400h0M1060 407h0M1047 420h0M1072 397h0M1049 394h0M1048 428h0M1069 398h0M1057 400h0M1044 421h0M1056 380h0M1083 374h0M1052 399h0M1045 409h0M1029 417h0M1063 402h0M1051 409h0M1063 396h0M1058 416h0M1048 403h0M1059 408h0M1058 380h0M1054 409h0M1062 403h0M1028 416h0M1057 404h0M1074 403h0M1086 390h0M1062 405h0M1035 417h0M1043 416h0M1045 419h0M1068 418h0M1053 418h0M1054 398h0M1054 404h0M1072 414h0M1052 415h0M1060 389h0M1058 401h0M1058 407h0M1076 396h0M1060 407h0M1061 407h0M1056 411h0M1047 409h0M1045 403h0M1057 399h0M1074 369h0M1025 426h0M1046 402h0M1048 420h0M1054 396h0M1061 383h0M1042 405h0M1038 405h0M1040 419h0M1049 378h0M1056 395h0M1073 401h0M1045 413h0M1061 403h0M1049 398h0M1038 408h0M1030 411h0M1085 398h0M1090 390h0M1055 429h0M1039 407h0M1048 390h0M1028 417h0M1056 393h0M1043 394h0M1046 417h0M1047 408h0M1069 416h0M1054 399h0M1049 411h0M1055 400h0M1069 408h0M1060 394h0M1058 408h0M1068 389h0M1059 401h0M1051 389h0M1059 390h0M1069 409h0M1084 392h0M1032 407h0M1052 416h0M1054 420h0M1064 409h0M1060 405h0M1061 385h0M1031 416h0M1073 403h0M1046 406h0M1065 393h0M1063 405h0M1064 383h0M1057 409h0M1034 396h0M1058 390h0M1075 373h0M1043 421h0M1049 402h0M1047 408h0M1046 436h0M1025 423h0M1045 404h0M1038 419h0M1044 382h0M1065 403h0M1051 396h0M1043 406h0M1023 408h0M1044 430h0M1042 406h0M1034 413h0M1045 406h0M1073 421h0M1048 417h0M1058 397h0M1061 403h0M1062 391h0M1047 413h0M1071 391h0M1042 396h0M1047 408h0M1051 418h0M1058 390h0M1051 411h0M1052 416h0M1086 381h0M1085 376h0M1062 383h0M1041 398h0M1021 415h0M1051 402h0M1046 411h0M1026 423h0M1031 414h0M1059 388h0M1030 435h0M1037 402h0M1069 366h0M1053 410h0M1046 405h0M1056 401h0M1060 399h0M1043 413h0M1037 391h0M1049 431h0M1043 430h0M1068 400h0M1046 379h0M1047 408h0M1069 399h0M1086 373h0M1055 416h0M1054 403h0M1068 402h0M1061 399h0M1044 421h0M1059 380h0M1058 395h0M1053 408h0M1035 414h0M1064 402h0M1045 409h0M1055 420h0M1052 395h0M1055 417h0M1066 405h0M1047 400h0M1048 413h0M1033 417h0M1067 391h0M1056 399h0M1074 409h0M1042 401h0M1059 404h0M1054 398h0M1054 413h0M1079 377h0M1070 378h0M1063 392h0M1055 393h0M1043 422h0M1062 390h0M1053 411h0M1059 379h0M1057 415h0M1034 407h0M1039 417h0M1074 393h0M1042 387h0M1039 400h0M1055 416h0M1057 411h0M1036 443h0M1050 394h0M1072 407h0M1040 399h0M1059 419h0M1080 396h0M1068 393h0M1064 414h0M1065 412h0M1053 418h0M1044 404h0M1047 403h0M1053 410h0M1050 422h0M1064 394h0M1079 397h0M1057 407h0M1058 384h0M1036 412h0M1041 421h0M1056 397h0M1044 413h0M1064 409h0M1049 424h0M1062 420h0M1048 403h0M1051 418h0M1068 387h0M1036 400h0M1036 416h0M1046 399h0M1057 420h0M1038 416h0M1061 427h0M1047 407h0M1030 409h0M1046 375h0M1052 414h0M1070 387h0M1049 398h0M1059 408h0M1026 407h0M1052 419h0M1043 393h0M1058 399h0M1046 398h0M1050 411h0M1052 417h0M1063 385h0M1049 394h0M1055 402h0M1060 413h0M1045 404h0M1051 382h0M1049 400h0M1034 410h0M1057 405h0M1035 434h0M1071 353h0M1059 386h0M1065 379h0M1075 385h0M1072 321h0M1068 380h0M1069 314h0M1065 348h0M1071 352h0M1069 379h0M1074 345h0M1071 353h0M1065 327h0M1081 351h0M1073 353h0M1068 301h0M1076 305h0M1054 350h0M1065 386h0M1067 385h0M1073 368h0M1073 313h0M1068 318h0M1076 305h0M1076 302h0M1074 343h0M1067 306h0M1072 385h0M1072 381h0M1066 349h0M1062 333h0M1076 362h0M1069 373h0M1075 351h0M1079 328h0M1068 386h0M1079 386h0M1074 376h0M1077 306h0M1074 326h0M1070 339h0M1077 373h0M1064 375h0M1070 383h0M1067 310h0M1083 378h0M1076 381h0M1079 383h0M1056 363h0M1071 370h0M1076 386h0M1076 377h0M1065 383h0M1075 381h0M1069 377h0M1079 326h0M1071 368h0M1069 373h0M1080 318h0M1079 363h0M1073 384h0M1075 352h0M1069 340h0M1080 312h0M1066 381h0M1074 357h0M1075 382h0M1072 357h0M1064 350h0M1076 313h0M1065 340h0M1061 372h0M1076 316h0M1066 370h0M1076 386h0M1070 386h0M1075 340h0M1066 363h0M1070 342h0M1064 362h0M1068 383h0M1073 372h0M1079 356h0M1059 359h0M1071 332h0M1073 313h0M1063 336h0M1073 385h0M1082 375h0M1064 319h0M1064 313h0M1078 334h0M1061 383h0M1058 368h0M1072 355h0M1070 385h0M1076 386h0M1070 356h0M1073 362h0M1064 307h0M1071 379h0M1063 375h0M1076 385h0M1060 310h0M1072 363h0M1072 317h0M1063 373h0M1063 384h0M1070 337h0M1070 348h0M1071 380h0M1077 362h0M1070 353h0M1074 329h0M1084 370h0M1080 404h0M1097 401h0M1102 388h0M1094 408h0M1113 402h0M1113 413h0M1099 396h0M1101 408h0M1101 430h0M1113 403h0M1093 427h0M1100 407h0M1080 408h0M1083 404h0M1075 410h0M1098 403h0M1106 416h0M1105 403h0M1073 399h0M1097 391h0M1120 397h0M1088 394h0M1089 407h0M1092 416h0M1083 396h0M1098 393h0M1107 410h0M1085 399h0M1103 413h0M1065 403h0M1107 410h0M1106 398h0M1084 401h0M1116 384h0M1087 397h0M1107 400h0M1087 411h0M1090 413h0M1124 424h0M1115 415h0M1123 410h0M1112 412h0M1088 410h0M1086 424h0M1099 400h0M1119 403h0M1070 406h0M1088 398h0M1118 411h0M1091 428h0M1115 388h0M1108 414h0M1109 417h0M1087 417h0M1108 404h0M1115 395h0M1099 404h0M1102 411h0M1082 403h0M1115 416h0M1128 403h0M1082 410h0M1095 394h0M1097 382h0M1117 391h0M1090 417h0M1080 406h0M1117 408h0M1097 415h0M1100 396h0M1095 419h0M1087 412h0M1091 416h0M1090 394h0M1094 411h0M1102 385h0M1096 411h0M1090 416h0M1107 402h0M1102 396h0M1104 388h0M1075 407h0M1100 415h0M1107 412h0M1083 408h0M1098 398h0M1111 407h0M1102 411h0M1087 391h0M1090 388h0M1085 403h0M1120 412h0M1095 407h0M1107 405h0M1088 424h0M1132 398h0M1097 409h0M1106 408h0M1087 397h0M1098 421h0M1074 402h0M1112 394h0M1075 418h0M1090 407h0M1100 414h0M1084 395h0M1097 405h0M1105 391h0M1121 404h0M1102 391h0M1098 413h0M1115 398h0M1068 402h0M1097 409h0M1097 391h0M1101 429h0M1100 399h0M1097 400h0M1108 413h0M1104 400h0M1118 412h0M1111 410h0M1104 397h0M1095 402h0M1098 409h0M1097 412h0M1110 419h0M1096 400h0M1097 397h0M1116 418h0M1097 399h0M1109 402h0M1115 408h0M1106 413h0M1089 421h0M1097 414h0M1110 389h0M1099 392h0M1087 413h0M1098 395h0M1098 400h0M1111 408h0M1107 404h0M1083 404h0M1101 405h0M1098 407h0M1111 390h0M1110 411h0M1101 411h0M1097 384h0M1129 421h0M1077 423h0M1117 449h0M1040 435h0M1105 384h0M1097 300h0M1013 428h0M1043 420h0M1009 448h0M1014 382h0M1114 443h0M1148 440h0M1082 420h0M1032 400h0M1120 348h0M1080 447h0M1079 401h0M1079 387h0M1070 408h0M1019 428h0M1034 401h0M1039 428h0M1071 378h0M1037 399h0M1074 380h0M1054 383h0M1033 435h0M1033 431h0M1027 412h0M1073 403h0M1029 427h0M1047 429h0M1062 420h0M1074 379h0M1024 417h0M1074 383h0M1079 384h0M1065 381h0M1077 394h0M1027 417h0M1077 393h0M1076 380h0M1051 385h0M1037 400h0M1067 381h0M1034 400h0M1073 380h0M1046 390h0M1025 421h0M1083 389h0M1078 396h0M1029 417h0M1077 393h0M1064 417h0M1049 389h0M1068 380h0M1072 380h0M1053 426h0M1057 383h0M1046 427h0M1028 428h0M1073 377h0M1078 400h0M1030 429h0M1025 430h0M1032 442h0M1068 409h0M1080 390h0M1065 381h0M1079 379h0M1023 428h0M1041 428h0M1066 380h0M1042 392h0M1077 390h0M1076 383h0M1034 401h0M1031 404h0M1077 395h0M1069 378h0M1033 407h0M1030 402h0M1073 406h0M1043 430h0M1075 400h0M1071 408h0M1027 430h0M1074 378h0M1048 425h0M1079 389h0M1079 382h0M1074 401h0M1071 377h0M1063 416h0M1072 377h0M1058 383h0M1062 379h0M1034 406h0M1032 408h0M1066 378h0M1043 393h0M1069 380h0M1024 428h0M1077 394h0M1070 374h0M1018 426h0M1032 408h0M1029 429h0M1072 376h0M1080 398h0M1069 373h0M1035 429h0M1042 428h0M1080 382h0M1028 429h0M1059 382h0M1039 429h0M1080 391h0M1030 433h0M1026 415h0M1037 432h0M1072 404h0M1079 389h0M1036 430h0M1026 419h0M1063 380h0M1074 408h0M1070 408h0M1032 429h0M1070 413h0M1079 392h0M1051 424h0M1077 383h0M1067 379h0M1079 384h0M1042 429h0M1078 405h0M1024 420h0M1028 430h0M1027 424h0M1068 410h0M1076 398h0M1067 410h0M1064 380h0M1058 421h0M1067 380h0M1071 406h0M1059 419h0M1046 430h0M1076 396h0M1060 377h0M1074 378h0M1050 386h0M1045 430h0M1053 385h0M1046 426h0M1033 430h0M1067 374h0M1048 388h0M1056 423h0M1038 430h0M1063 420h0M1077 387h0M1034 402h0M1059 420h0M1046 437h0M1057 420h0M1074 380h0M1079 392h0M1027 425h0M1033 405h0M1026 419h0M1066 417h0M1052 384h0M1031 405h0M1040 429h0" stroke="#3b86d6" stroke-opacity=".42" stroke-width="1.7" stroke-linecap="square"/><g transform="translate(526.4 202.3) rotate(46.0)"><ellipse rx="7.5" ry="16.1" fill="#cde1f6" stroke="#fff" stroke-width=".9" stroke-opacity=".85"/><ellipse rx="8.1" ry="16.7" fill="none" stroke="#6ea7e4" stroke-width=".5" stroke-opacity=".8"/><ellipse rx="4.65" ry="12.88" fill="url(#R1)"/><ellipse rx="6.43" ry="13.80" fill="none" stroke="#fff" stroke-width=".3" stroke-opacity=".55"/><ellipse rx="5.36" ry="11.50" fill="none" stroke="#fff" stroke-width=".3" stroke-opacity=".55"/><ellipse rx="4.29" ry="9.20" fill="none" stroke="#fff" stroke-width=".3" stroke-opacity=".55"/><ellipse rx="3.21" ry="6.90" fill="none" stroke="#fff" stroke-width=".3" stroke-opacity=".55"/><ellipse rx="2.14" ry="4.60" fill="none" stroke="#fff" stroke-width=".3" stroke-opacity=".55"/><ellipse rx="1.07" ry="2.30" fill="none" stroke="#fff" stroke-width=".3" stroke-opacity=".55"/><ellipse rx="0.53" ry="4.83" fill="#fff" fill-opacity=".55"/></g><rect x="494.4" y="138.4" width="92.1" height="91.9" fill="none" stroke="#999999" stroke-width="1"/><line x1="539.3" y1="138.4" x2="539.3" y2="230.3" stroke="#444" stroke-width="1"/><line x1="494.4" y1="189.4" x2="586.5" y2="189.4" stroke="#333333" stroke-width="1"/><text x="497.0" y="150.7" font-size="8.60" text-anchor="start" fill="#3a3a3a" font-weight="normal" stroke="#3a3a3a" stroke-width=".1" letter-spacing=".45"><tspan dx="-1.00">1</tspan><tspan dx="-0.90">.</tspan><tspan dx="-0.60">1</tspan><tspan dx="-0.90">9</tspan></text><text x="584.0" y="150.7" font-size="8.60" text-anchor="end" fill="#3a3a3a" font-weight="normal" stroke="#3a3a3a" stroke-width=".1" letter-spacing=".45">0.060</text><text x="497.0" y="225.9" font-size="8.60" text-anchor="start" fill="#3a3a3a" font-weight="normal" stroke="#3a3a3a" stroke-width=".1" letter-spacing=".45">97.2</text><text x="584.0" y="225.9" font-size="8.60" text-anchor="end" fill="#3a3a3a" font-weight="normal" stroke="#3a3a3a" stroke-width=".1" letter-spacing=".45"><tspan dx="-1.00">1</tspan><tspan dx="-0.90">.</tspan>57</text><text x="638.9" y="134.8" font-size="8.90" text-anchor="middle" fill="#3a3a3a">IPA1000</text><path transform="scale(.5)" d="M1246 403h0M1246 426h0M1261 393h0M1262 397h0M1255 377h0M1257 394h0M1255 384h0M1251 405h0M1225 403h0M1243 437h0M1272 369h0M1263 401h0M1217 409h0M1238 404h0M1240 421h0M1276 397h0M1257 386h0M1263 382h0M1257 389h0M1238 399h0M1242 414h0M1276 398h0M1253 400h0M1249 402h0M1246 430h0M1253 401h0M1278 394h0M1245 392h0M1230 412h0M1234 389h0M1232 393h0M1260 389h0M1248 403h0M1262 372h0M1248 422h0M1234 424h0M1251 399h0M1260 391h0M1264 389h0M1236 429h0M1241 422h0M1269 394h0M1256 407h0M1255 410h0M1228 406h0M1239 410h0M1226 427h0M1278 387h0M1235 408h0M1241 411h0M1245 404h0M1226 437h0M1235 417h0M1268 404h0M1258 397h0M1247 414h0M1266 412h0M1267 384h0M1247 414h0M1223 433h0M1252 403h0M1251 428h0M1239 405h0M1259 398h0M1239 396h0M1254 399h0M1238 424h0M1229 409h0M1267 396h0M1238 400h0M1251 408h0M1237 410h0M1245 416h0M1241 409h0M1254 410h0M1247 427h0M1235 397h0M1254 394h0M1253 395h0M1263 422h0M1283 390h0M1224 409h0M1235 428h0M1254 393h0M1247 404h0M1266 396h0M1258 409h0M1243 406h0M1251 428h0M1268 395h0M1244 423h0M1240 427h0M1233 417h0M1254 401h0M1247 415h0M1246 422h0M1237 400h0M1261 408h0M1255 405h0M1253 397h0M1252 390h0M1245 394h0M1237 427h0M1258 384h0M1250 411h0M1262 408h0M1243 428h0M1262 409h0M1241 399h0M1247 415h0M1256 414h0M1233 410h0M1246 399h0M1254 410h0M1259 407h0M1232 407h0M1247 401h0M1277 382h0M1247 401h0M1250 423h0M1253 413h0M1261 401h0M1232 415h0M1250 395h0M1252 404h0M1244 420h0M1231 397h0M1233 421h0M1238 405h0M1249 383h0M1251 397h0M1265 403h0M1258 399h0M1247 404h0M1260 389h0M1238 400h0M1253 383h0M1224 435h0M1231 408h0M1231 398h0M1243 398h0M1248 418h0M1275 407h0M1235 422h0M1270 410h0M1245 423h0M1251 404h0M1235 414h0M1252 422h0M1253 388h0M1253 392h0M1245 406h0M1245 401h0M1225 422h0M1240 405h0M1244 394h0M1254 402h0M1242 419h0M1239 406h0M1248 383h0M1252 405h0M1255 402h0M1256 405h0M1231 412h0M1248 403h0M1241 427h0M1241 398h0M1251 383h0M1244 411h0M1256 397h0M1271 399h0M1219 413h0M1256 407h0M1248 414h0M1250 396h0M1233 397h0M1242 415h0M1242 407h0M1244 405h0M1258 400h0M1256 403h0M1258 396h0M1245 407h0M1252 395h0M1245 394h0M1244 421h0M1249 414h0M1261 396h0M1263 390h0M1233 418h0M1269 398h0M1270 395h0M1253 399h0M1242 409h0M1260 399h0M1241 391h0M1263 371h0M1242 402h0M1242 416h0M1246 384h0M1235 399h0M1233 396h0M1244 403h0M1255 408h0M1242 413h0M1244 419h0M1259 387h0M1250 413h0M1236 413h0M1257 406h0M1269 397h0M1257 393h0M1264 382h0M1259 404h0M1239 393h0M1246 405h0M1245 391h0M1271 402h0M1222 403h0M1255 401h0M1227 433h0M1240 419h0M1233 409h0M1251 408h0M1255 380h0M1246 397h0M1274 383h0M1224 422h0M1253 408h0M1243 384h0M1245 429h0M1256 402h0M1229 410h0M1274 380h0M1225 414h0M1238 401h0M1248 405h0M1235 404h0M1251 400h0M1266 395h0M1248 419h0M1247 411h0M1247 415h0M1244 390h0M1263 409h0M1259 381h0M1251 409h0M1247 400h0M1246 402h0M1231 403h0M1251 406h0M1259 385h0M1232 414h0M1264 376h0M1255 423h0M1240 417h0M1259 387h0M1248 396h0M1238 410h0M1258 405h0M1254 405h0M1247 399h0M1244 411h0M1213 406h0M1241 404h0M1248 417h0M1232 423h0M1265 398h0M1240 416h0M1229 400h0M1238 408h0M1264 391h0M1270 386h0M1228 408h0M1246 416h0M1250 411h0M1228 402h0M1219 430h0M1225 406h0M1244 415h0M1219 415h0M1257 393h0M1231 406h0M1277 397h0M1246 416h0M1237 416h0M1257 409h0M1243 411h0M1239 433h0M1215 418h0M1259 414h0M1263 390h0M1246 407h0M1242 410h0M1217 419h0M1250 395h0M1236 410h0M1249 420h0M1236 404h0M1243 413h0M1270 378h0M1261 343h0M1254 366h0M1265 326h0M1269 389h0M1260 366h0M1268 325h0M1255 382h0M1272 349h0M1268 342h0M1261 359h0M1263 353h0M1273 386h0M1272 370h0M1266 380h0M1254 323h0M1262 361h0M1267 352h0M1263 348h0M1271 310h0M1265 384h0M1267 388h0M1265 333h0M1271 311h0M1261 383h0M1271 348h0M1266 347h0M1261 387h0M1263 389h0M1271 384h0M1258 316h0M1269 346h0M1259 383h0M1262 345h0M1261 331h0M1267 381h0M1265 327h0M1262 369h0M1266 306h0M1274 335h0M1272 336h0M1272 387h0M1256 323h0M1260 378h0M1260 334h0M1271 388h0M1268 301h0M1273 375h0M1264 385h0M1262 371h0M1262 326h0M1274 388h0M1259 347h0M1261 336h0M1261 324h0M1261 312h0M1271 325h0M1257 335h0M1271 384h0M1263 389h0M1266 388h0M1266 384h0M1269 375h0M1270 386h0M1259 388h0M1269 354h0M1267 383h0M1261 360h0M1266 355h0M1258 328h0M1254 344h0M1264 314h0M1265 340h0M1266 310h0M1253 311h0M1273 306h0M1263 378h0M1258 389h0M1265 387h0M1257 369h0M1267 387h0M1267 342h0M1265 349h0M1271 333h0M1262 360h0M1272 338h0M1272 344h0M1277 373h0M1263 325h0M1259 381h0M1263 318h0M1261 349h0M1271 386h0M1256 340h0M1270 330h0M1262 368h0M1259 343h0M1271 335h0M1274 308h0M1254 322h0M1270 384h0M1262 332h0M1259 380h0M1266 339h0M1266 370h0M1263 384h0M1258 358h0M1267 379h0M1275 371h0M1262 372h0M1270 305h0M1263 372h0M1272 378h0M1264 389h0M1272 329h0M1292 411h0M1271 413h0M1312 411h0M1280 395h0M1327 400h0M1310 408h0M1298 402h0M1300 407h0M1303 427h0M1263 397h0M1291 403h0M1279 395h0M1274 385h0M1312 394h0M1294 394h0M1325 411h0M1320 403h0M1296 406h0M1291 410h0M1312 408h0M1285 414h0M1278 397h0M1318 404h0M1281 395h0M1284 412h0M1305 403h0M1292 402h0M1311 409h0M1319 398h0M1305 406h0M1277 418h0M1309 407h0M1298 387h0M1290 405h0M1327 414h0M1278 403h0M1308 398h0M1279 395h0M1272 406h0M1291 416h0M1297 403h0M1291 400h0M1321 411h0M1282 410h0M1292 398h0M1300 415h0M1289 404h0M1287 394h0M1261 418h0M1296 380h0M1301 399h0M1303 401h0M1314 416h0M1298 385h0M1262 404h0M1303 400h0M1304 403h0M1298 401h0M1305 388h0M1304 395h0M1283 409h0M1308 398h0M1274 413h0M1309 421h0M1286 396h0M1326 416h0M1283 403h0M1270 403h0M1308 396h0M1306 409h0M1306 411h0M1265 400h0M1282 410h0M1317 409h0M1334 409h0M1269 401h0M1298 407h0M1307 391h0M1296 408h0M1291 397h0M1285 373h0M1294 394h0M1307 387h0M1312 398h0M1308 414h0M1300 398h0M1320 404h0M1277 412h0M1281 395h0M1292 405h0M1297 390h0M1280 408h0M1311 397h0M1323 402h0M1290 395h0M1316 406h0M1288 393h0M1279 404h0M1289 409h0M1317 389h0M1314 412h0M1282 397h0M1290 410h0M1279 417h0M1315 410h0M1289 417h0M1300 418h0M1303 403h0M1297 413h0M1310 400h0M1325 405h0M1305 412h0M1320 393h0M1271 398h0M1284 413h0M1304 404h0M1281 406h0M1297 401h0M1290 407h0M1299 411h0M1301 416h0M1324 418h0M1310 395h0M1296 420h0M1313 405h0M1298 390h0M1293 397h0M1297 400h0M1312 406h0M1291 385h0M1299 404h0M1288 412h0M1309 410h0M1289 393h0M1325 412h0M1284 406h0M1276 376h0M1305 409h0M1287 419h0M1306 398h0M1297 391h0M1289 407h0M1307 406h0M1291 387h0M1283 414h0M1307 394h0M1298 396h0M1288 407h0M1310 397h0M1309 404h0M1345 421h0M1335 323h0M1348 358h0M1245 348h0M1336 335h0M1220 408h0M1305 444h0M1289 380h0M1340 436h0M1268 355h0M1283 394h0M1347 382h0M1248 328h0M1310 402h0M1328 429h0M1300 419h0M1239 391h0M1265 414h0M1229 404h0M1271 398h0M1269 406h0M1245 386h0M1274 386h0M1235 428h0M1233 428h0M1230 431h0M1274 389h0M1270 386h0M1273 386h0M1238 426h0M1243 388h0M1237 429h0M1279 387h0M1225 425h0M1272 384h0M1249 384h0M1275 388h0M1232 431h0M1250 422h0M1227 406h0M1240 392h0M1257 416h0M1224 425h0M1227 427h0M1221 416h0M1279 381h0M1224 407h0M1223 413h0M1266 413h0M1223 405h0M1268 383h0M1244 425h0M1231 429h0M1260 382h0M1264 380h0M1244 425h0M1247 387h0M1223 414h0M1267 410h0M1254 423h0M1264 382h0M1273 384h0M1274 393h0M1237 426h0M1237 392h0M1224 423h0M1277 397h0M1271 398h0M1219 423h0M1239 428h0M1248 384h0M1226 429h0M1257 418h0M1252 421h0M1272 377h0M1258 418h0M1221 413h0M1275 391h0M1225 424h0M1242 428h0M1274 382h0M1273 391h0M1246 387h0M1267 414h0M1248 423h0M1235 396h0M1266 380h0M1271 382h0M1255 384h0M1221 426h0M1266 379h0M1266 382h0M1221 425h0M1258 415h0M1268 374h0M1252 419h0M1244 390h0M1248 381h0M1225 428h0M1273 378h0M1267 405h0M1272 396h0M1273 379h0M1260 378h0M1268 384h0M1259 383h0M1239 393h0M1222 414h0M1242 387h0M1276 394h0M1250 421h0M1250 424h0M1277 387h0M1229 426h0M1265 380h0M1243 390h0M1239 426h0M1249 385h0M1222 413h0M1265 381h0M1268 405h0M1270 384h0M1275 385h0M1225 431h0M1282 384h0M1273 388h0M1249 381h0M1274 400h0M1243 386h0M1236 392h0M1262 382h0M1224 423h0M1270 385h0M1228 403h0M1253 420h0M1235 429h0M1267 408h0M1221 419h0M1267 405h0M1223 424h0M1257 380h0M1266 376h0M1249 422h0M1272 405h0M1244 389h0M1268 376h0M1235 427h0M1267 410h0M1249 423h0M1221 431h0M1228 428h0M1240 426h0M1250 423h0M1264 383h0M1277 392h0M1243 387h0M1253 380h0M1248 386h0M1270 375h0M1224 424h0M1273 394h0M1222 415h0M1225 402h0M1235 393h0M1248 387h0M1268 407h0M1226 427h0M1277 390h0M1262 381h0M1230 427h0M1264 383h0M1223 422h0M1245 383h0M1227 404h0M1228 402h0M1243 424h0" stroke="#c9cb3a" stroke-opacity=".42" stroke-width="1.7" stroke-linecap="square"/><g transform="translate(623.7 202.3) rotate(50.0)"><ellipse rx="7.5" ry="15.3" fill="#ecedbc" stroke="#fff" stroke-width=".9" stroke-opacity=".85"/><ellipse rx="8.1" ry="15.9" fill="none" stroke="#cfd15a" stroke-width=".5" stroke-opacity=".8"/><ellipse rx="4.65" ry="12.24" fill="url(#R2)"/><ellipse rx="6.43" ry="13.11" fill="none" stroke="#fff" stroke-width=".3" stroke-opacity=".55"/><ellipse rx="5.36" ry="10.93" fill="none" stroke="#fff" stroke-width=".3" stroke-opacity=".55"/><ellipse rx="4.29" ry="8.74" fill="none" stroke="#fff" stroke-width=".3" stroke-opacity=".55"/><ellipse rx="3.21" ry="6.56" fill="none" stroke="#fff" stroke-width=".3" stroke-opacity=".55"/><ellipse rx="2.14" ry="4.37" fill="none" stroke="#fff" stroke-width=".3" stroke-opacity=".55"/><ellipse rx="1.07" ry="2.19" fill="none" stroke="#fff" stroke-width=".3" stroke-opacity=".55"/><ellipse rx="0.53" ry="4.59" fill="#fff" fill-opacity=".55"/></g><rect x="593.4" y="138.4" width="91.0" height="91.9" fill="none" stroke="#999999" stroke-width="1"/><line x1="636.5" y1="138.4" x2="636.5" y2="230.3" stroke="#444" stroke-width="1"/><line x1="593.4" y1="189.4" x2="684.4" y2="189.4" stroke="#333333" stroke-width="1"/><text x="596.0" y="150.7" font-size="8.60" text-anchor="start" fill="#3a3a3a" font-weight="normal" stroke="#3a3a3a" stroke-width=".1" letter-spacing=".45"><tspan dx="-1.00">1</tspan><tspan dx="-0.90">.</tspan><tspan dx="-0.60">1</tspan><tspan dx="-0.90">3</tspan></text><text x="681.9" y="150.7" font-size="8.60" text-anchor="end" fill="#3a3a3a" font-weight="normal" stroke="#3a3a3a" stroke-width=".1" letter-spacing=".45">0.09<tspan dx="-0.60">1</tspan></text><text x="596.0" y="225.9" font-size="8.60" text-anchor="start" fill="#3a3a3a" font-weight="normal" stroke="#3a3a3a" stroke-width=".1" letter-spacing=".45">97.0</text><text x="681.9" y="225.9" font-size="8.60" text-anchor="end" fill="#3a3a3a" font-weight="normal" stroke="#3a3a3a" stroke-width=".1" letter-spacing=".45"><tspan dx="-1.00">1</tspan><tspan dx="-0.90">.</tspan>74</text><text transform="translate(36.8 229.7) rotate(-90)" font-size="8.6" fill="#3a3a3a">IFNγ-BV650</text><line x1="33.5" y1="175.8" x2="33.5" y2="140.9" stroke="#4a6385" stroke-width="1"/><path d="M33.5 138.8l-1.7 3.6h3.4z" fill="#4a6385"/><text x="44.9" y="242.7" font-size="8.20" text-anchor="start" fill="#3a3a3a" font-weight="normal" stroke="#3a3a3a" stroke-width=".1" >IL-4 BV421</text><line x1="89.0" y1="239.5" x2="332" y2="239.5" stroke="#4a6385" stroke-width="1"/><path d="M335 239.5l-3.6 -1.7v3.4z" fill="#4a6385"/><text transform="translate(387.5 229.5) rotate(-90)" font-size="8.05" fill="#3a3a3a">IL-17A BV421</text><line x1="384.5" y1="175.8" x2="384.5" y2="140.9" stroke="#4a6385" stroke-width="1"/><path d="M384.5 138.8l-1.7 3.6h3.4z" fill="#4a6385"/><text x="396.0" y="242.7" font-size="8.60" text-anchor="start" fill="#3a3a3a" font-weight="normal" stroke="#3a3a3a" stroke-width=".1" >IFNγ AF488</text><line x1="447.7" y1="239.5" x2="681" y2="239.5" stroke="#4a6385" stroke-width="1"/><path d="M684.5 239.5l-3.6 -1.7v3.4z" fill="#4a6385"/><text x="-0.3" y="258.2" font-size="12.50" text-anchor="start" fill="#000" font-weight="bold" >c</text><text x="349.6" y="258.2" font-size="12.50" text-anchor="start" fill="#000" font-weight="bold" >i</text><text x="0.6" y="309.9" font-size="8.20" text-anchor="start" fill="#3a3a3a" font-weight="normal" stroke="#3a3a3a" stroke-width=".1" letter-spacing="0.00">Eto</text><text x="349.9" y="309.9" font-size="8.20" text-anchor="start" fill="#3a3a3a" font-weight="normal" stroke="#3a3a3a" stroke-width=".1" letter-spacing="0.00">Eto</text><text x="0.0" y="319.9" font-size="8.20" text-anchor="start" fill="#3a3a3a" font-weight="normal" stroke="#3a3a3a" stroke-width=".1" letter-spacing="0.00">1 µM</text><text x="349.3" y="319.9" font-size="8.20" text-anchor="start" fill="#3a3a3a" font-weight="normal" stroke="#3a3a3a" stroke-width=".1" letter-spacing="0.00">1 µM</text><text x="89.9" y="261.7" font-size="8.90" text-anchor="middle" fill="#3a3a3a">Con</text><path transform="scale(.5)" d="M144 612h0M153 624h0M150 617h0M162 635h0M139 629h0M126 577h0M148 632h0M153 607h0M150 601h0M144 594h0M151 659h0M137 630h0M147 584h0M136 593h0M141 616h0M136 635h0M133 645h0M150 598h0M124 606h0M152 623h0M137 620h0M123 582h0M131 630h0M141 618h0M134 639h0M134 614h0M142 618h0M126 603h0M147 628h0M139 626h0M129 628h0M142 601h0M155 641h0M146 630h0M149 615h0M141 645h0M149 602h0M142 610h0M129 588h0M130 589h0M137 648h0M130 599h0M141 634h0M146 582h0M158 618h0M153 606h0M137 648h0M142 633h0M151 590h0M166 632h0M140 613h0M146 641h0M147 629h0M132 611h0M151 635h0M128 645h0M148 592h0M145 570h0M123 605h0M139 617h0M143 619h0M149 620h0M142 631h0M148 643h0M163 633h0M141 611h0M152 625h0M132 572h0M138 625h0M140 628h0M141 600h0M133 597h0M145 654h0M136 590h0M142 653h0M143 618h0M139 623h0M131 619h0M147 606h0M139 654h0M154 593h0M126 630h0M150 642h0M142 631h0M152 636h0M154 581h0M153 632h0M137 583h0M149 619h0M145 605h0M148 644h0M139 638h0M142 634h0M147 667h0M134 669h0M131 611h0M135 632h0M154 648h0M133 624h0M151 641h0M143 647h0M140 608h0M129 650h0M141 610h0M131 640h0M152 635h0M154 615h0M140 607h0M147 594h0M153 632h0M144 657h0M138 658h0M142 620h0M150 605h0M142 663h0M155 599h0M142 649h0M141 595h0M151 599h0M145 644h0M102 602h0M154 641h0M151 631h0M140 646h0M140 623h0M143 610h0M129 625h0M152 610h0M160 616h0M126 596h0M122 668h0M147 637h0M134 638h0M142 620h0M132 620h0M137 650h0M131 615h0M150 631h0M141 662h0M148 601h0M123 596h0M143 629h0M127 635h0M142 599h0M134 628h0M152 674h0M134 611h0M137 643h0M132 612h0M145 626h0M137 644h0M150 638h0M135 610h0M153 627h0M127 583h0M133 638h0M132 616h0M132 618h0M141 586h0M122 642h0M141 609h0M120 676h0M143 619h0M152 602h0M146 618h0M137 632h0M138 667h0M131 580h0M133 621h0M147 617h0M137 619h0M139 564h0M147 613h0M154 611h0M153 568h0M156 637h0M134 622h0M146 593h0M137 637h0M150 629h0M140 599h0M152 623h0M141 646h0M162 618h0M148 624h0M149 627h0M141 593h0M156 648h0M129 591h0M142 622h0M140 612h0M131 605h0M130 618h0M134 595h0M145 638h0M144 615h0M134 616h0M146 606h0M133 619h0M145 593h0M139 599h0M124 617h0M130 609h0M132 638h0M144 632h0M130 648h0M134 643h0M137 575h0M159 628h0M156 642h0M135 573h0M130 649h0M150 652h0M135 613h0M139 613h0M146 621h0M140 624h0M149 628h0M146 653h0M135 608h0M146 683h0M142 662h0M154 656h0M147 639h0M126 638h0M152 651h0M131 634h0M150 623h0M134 635h0M141 596h0M149 578h0M143 608h0M141 602h0M152 615h0M132 634h0M134 651h0M157 584h0M139 582h0M171 639h0M146 577h0M132 609h0M154 681h0M134 595h0M142 597h0M139 591h0M140 643h0M147 627h0M147 580h0M154 583h0M156 623h0M141 645h0M137 616h0M139 633h0M154 614h0M143 622h0M148 626h0M141 641h0M145 641h0M158 550h0M150 645h0M143 617h0M142 621h0M149 619h0M150 611h0M151 625h0M146 600h0M135 600h0M145 651h0M158 587h0M169 644h0M133 612h0M143 594h0M135 619h0M139 659h0M133 644h0M133 567h0M148 603h0M143 669h0M146 629h0M124 635h0M144 624h0M128 638h0M160 662h0M151 601h0M146 599h0M127 614h0M147 608h0M136 638h0M147 626h0M147 664h0M141 650h0M139 606h0M146 623h0M159 617h0M137 627h0M153 622h0M132 614h0M145 622h0M158 636h0M122 625h0M139 627h0M153 611h0M144 624h0M145 628h0M132 625h0M155 676h0M130 648h0M127 602h0M137 620h0M149 643h0M152 632h0M153 625h0M155 649h0M144 617h0M147 588h0M131 623h0M129 633h0M119 610h0M154 590h0M153 579h0M134 600h0M146 577h0M136 582h0M149 653h0M138 603h0M142 659h0M135 657h0M149 643h0M142 633h0M138 661h0M185 591h0M152 564h0M158 608h0M182 606h0M111 630h0M135 671h0M168 659h0M110 626h0M146 669h0M143 592h0M158 594h0M131 593h0M135 584h0M154 586h0M167 664h0M151 588h0M125 634h0M126 611h0M156 657h0M154 589h0M127 636h0M138 667h0M153 595h0M153 592h0M161 648h0M150 696h0M137 662h0M163 629h0M132 605h0M166 604h0M154 663h0M135 583h0M155 603h0M161 645h0M161 605h0M154 595h0M131 664h0M155 592h0M159 658h0M142 666h0M145 674h0M160 631h0M157 601h0M134 575h0M133 590h0M164 623h0M152 686h0M127 642h0M127 588h0M120 653h0M155 595h0M152 672h0M151 588h0M163 651h0M155 581h0M136 592h0M163 635h0M155 670h0M129 589h0M152 577h0M145 582h0M144 594h0M128 607h0M129 619h0M127 599h0M129 594h0M153 665h0M160 645h0M132 600h0M141 586h0M120 606h0M162 629h0M134 600h0M163 633h0M151 593h0M159 603h0M135 672h0M153 590h0M161 590h0M140 588h0M124 664h0M142 592h0M126 641h0M134 600h0M147 591h0M163 633h0M147 578h0M120 637h0M142 591h0M152 588h0M154 586h0M132 658h0M140 678h0M124 640h0M138 675h0M159 654h0M124 635h0M171 645h0M126 633h0M136 595h0M156 657h0M160 641h0M158 607h0M167 645h0M133 597h0M167 609h0M169 602h0M123 615h0M147 566h0M121 645h0M118 660h0M164 624h0M137 594h0M149 577h0M165 626h0M124 632h0M161 609h0M147 592h0M151 683h0M159 616h0M129 669h0M141 674h0M146 586h0M153 582h0M144 585h0M139 595h0M128 603h0M160 610h0M140 583h0M153 598h0M145 667h0M160 631h0M160 593h0M139 574h0M164 637h0M134 600h0M152 574h0M156 591h0M161 600h0M155 670h0M138 595h0M143 566h0M133 600h0M164 631h0M130 595h0M147 586h0M123 614h0M153 666h0M163 652h0M154 585h0M128 596h0M136 585h0M139 671h0M118 636h0M124 627h0M159 655h0M152 589h0M158 592h0M151 585h0M136 563h0M150 584h0M133 579h0M165 614h0M151 663h0M146 584h0M146 680h0M161 630h0M163 631h0M125 592h0M155 601h0M131 676h0M144 588h0M137 593h0M166 622h0M149 595h0M163 604h0M155 659h0M155 676h0M157 606h0M136 590h0M153 595h0M147 582h0M125 612h0M146 678h0M157 597h0M123 626h0M146 591h0M157 607h0M143 589h0M148 583h0M156 597h0M123 634h0M158 651h0M152 669h0M131 584h0M146 685h0M126 631h0M138 668h0M138 586h0M156 606h0M123 646h0M155 591h0M124 641h0M158 578h0M140 578h0M149 592h0M133 598h0M131 576h0M122 619h0M145 587h0M156 588h0M159 647h0M137 596h0M128 628h0M123 638h0M163 632h0M157 600h0M123 654h0M129 653h0M157 662h0M160 616h0M142 669h0M135 594h0M163 642h0M149 672h0M149 595h0M150 595h0M133 604h0M161 608h0M128 642h0M159 613h0M152 590h0M135 592h0M134 666h0M137 593h0M128 678h0M136 665h0M134 589h0M159 589h0M149 595h0M128 637h0M138 581h0M143 591h0M145 582h0M128 650h0M135 670h0M164 633h0M162 655h0M165 648h0M163 632h0M130 670h0M129 618h0M155 583h0M121 655h0M148 578h0M161 647h0M158 589h0M128 637h0M151 589h0M130 598h0M129 612h0M139 581h0M145 585h0M138 595h0M150 584h0M141 590h0M149 666h0M141 588h0M140 593h0M145 582h0M160 595h0M162 587h0M141 581h0M133 671h0M164 669h0M137 583h0M152 679h0M134 578h0M146 579h0M130 603h0M114 622h0M163 628h0M150 570h0M128 614h0M141 591h0M130 584h0M141 572h0M145 588h0M149 584h0M158 655h0M153 593h0M126 591h0M135 594h0M124 675h0M126 625h0M161 622h0M163 640h0M123 612h0M122 650h0M157 658h0M133 593h0M157 603h0M138 584h0M149 666h0M135 594h0M143 589h0M135 664h0M146 676h0M160 651h0M168 601h0M147 594h0M159 654h0M155 595h0M165 633h0M140 668h0M143 590h0M162 627h0M139 593h0M121 665h0M156 589h0M167 659h0M140 581h0M158 661h0M139 665h0M159 612h0M143 583h0M130 663h0M140 666h0M125 664h0M140 579h0M144 673h0M148 589h0M133 658h0M158 610h0M161 631h0M148 592h0M128 627h0M145 579h0M165 593h0M162 676h0M125 637h0M152 588h0M147 594h0M141 589h0M151 597h0M138 592h0M139 573h0M153 598h0M160 606h0M154 677h0M132 575h0M123 584h0M161 608h0M145 574h0M147 666h0M161 632h0M143 586h0M128 642h0M161 601h0M142 679h0M136 587h0M153 593h0M164 646h0M151 666h0M121 642h0M143 667h0M165 646h0M169 627h0M133 584h0M160 659h0M160 599h0M129 661h0M147 588h0M137 590h0M113 622h0M141 574h0M125 597h0M141 584h0M137 578h0M124 639h0M151 664h0M156 595h0M153 595h0M147 595h0M152 592h0M128 650h0M142 590h0M161 616h0M163 641h0M154 601h0M164 635h0M144 582h0M152 583h0M133 587h0M137 590h0M125 615h0M158 606h0M134 599h0M150 595h0M147 583h0M140 587h0M136 673h0M166 637h0M128 618h0M148 669h0M129 586h0M134 575h0M157 596h0M151 594h0M147 587h0" stroke="#72bf52" stroke-opacity=".42" stroke-width="1.7" stroke-linecap="square"/><g transform="translate(72.0 315.0) rotate(0.0)"><ellipse rx="8.4" ry="19.0" fill="url(#g7)" stroke="#8fcd72" stroke-width=".6" stroke-opacity=".8"/><ellipse cx="0.00" cy="0.57" rx="7.20" ry="16.29" fill="none" stroke="#fff" stroke-width=".4" stroke-opacity=".6"/><ellipse cx="0.00" cy="1.14" rx="6.00" ry="13.57" fill="none" stroke="#fff" stroke-width=".4" stroke-opacity=".6"/><ellipse cx="0.00" cy="1.71" rx="4.80" ry="10.86" fill="none" stroke="#fff" stroke-width=".4" stroke-opacity=".6"/><ellipse cx="0.00" cy="2.29" rx="3.60" ry="8.14" fill="none" stroke="#fff" stroke-width=".4" stroke-opacity=".6"/><ellipse cx="0.00" cy="2.86" rx="2.40" ry="5.43" fill="none" stroke="#fff" stroke-width=".4" stroke-opacity=".6"/><ellipse cx="0.00" cy="3.43" rx="1.20" ry="2.71" fill="none" stroke="#fff" stroke-width=".4" stroke-opacity=".6"/><ellipse cx="0.00" cy="4.00" rx="0.84" ry="4.18" fill="#fff" fill-opacity=".75"/></g><rect x="44.5" y="265.4" width="90.8" height="91.6" fill="none" stroke="#999999" stroke-width="1"/><line x1="81.9" y1="265.4" x2="81.9" y2="357.0" stroke="#444" stroke-width="1"/><line x1="44.5" y1="316.3" x2="135.3" y2="316.3" stroke="#333333" stroke-width="1"/><text x="46.8" y="274.8" font-size="8.60" text-anchor="start" fill="#3a3a3a" font-weight="normal" stroke="#3a3a3a" stroke-width=".1" letter-spacing=".45">48.9</text><text x="46.8" y="353.8" font-size="8.60" text-anchor="start" fill="#3a3a3a" font-weight="normal" stroke="#3a3a3a" stroke-width=".1" letter-spacing=".45">50.9</text><text x="190.6" y="261.7" font-size="8.90" text-anchor="middle" fill="#3a3a3a">IPA100</text><path transform="scale(.5)" d="M360 622h0M354 613h0M330 596h0M341 650h0M339 659h0M343 648h0M340 642h0M334 612h0M346 639h0M336 642h0M345 596h0M348 657h0M333 609h0M331 636h0M324 606h0M350 588h0M336 594h0M335 613h0M334 647h0M349 597h0M341 663h0M355 659h0M332 615h0M327 658h0M332 615h0M340 630h0M340 619h0M349 629h0M345 617h0M338 631h0M335 635h0M342 648h0M340 619h0M330 592h0M341 608h0M347 596h0M341 618h0M359 601h0M341 584h0M345 613h0M338 635h0M324 608h0M339 625h0M358 595h0M346 630h0M344 615h0M341 625h0M345 644h0M347 663h0M335 626h0M328 632h0M349 575h0M338 662h0M351 600h0M339 623h0M337 616h0M342 616h0M350 576h0M348 638h0M337 632h0M335 621h0M330 635h0M350 656h0M344 596h0M335 612h0M343 609h0M340 629h0M328 580h0M338 649h0M324 629h0M333 637h0M355 617h0M329 628h0M347 643h0M325 620h0M327 576h0M339 658h0M345 599h0M327 611h0M340 615h0M335 629h0M348 608h0M346 598h0M350 603h0M352 634h0M331 641h0M333 616h0M336 614h0M352 622h0M331 646h0M324 627h0M344 652h0M342 616h0M350 627h0M345 620h0M327 645h0M350 622h0M332 654h0M354 617h0M333 595h0M340 616h0M322 599h0M333 619h0M350 643h0M329 627h0M329 630h0M331 631h0M326 632h0M361 617h0M353 619h0M340 590h0M327 596h0M356 632h0M339 614h0M336 620h0M349 608h0M342 581h0M333 608h0M349 656h0M335 625h0M368 653h0M346 644h0M337 639h0M327 627h0M329 609h0M319 626h0M357 648h0M348 655h0M336 626h0M342 565h0M347 651h0M339 602h0M351 621h0M331 652h0M344 596h0M344 641h0M359 676h0M330 631h0M347 660h0M343 644h0M348 623h0M345 595h0M331 619h0M335 613h0M335 581h0M334 656h0M348 622h0M358 616h0M345 612h0M331 607h0M336 554h0M338 597h0M347 652h0M332 625h0M356 647h0M357 627h0M325 615h0M333 608h0M343 632h0M340 613h0M349 613h0M335 625h0M346 636h0M372 665h0M356 632h0M333 662h0M333 642h0M368 610h0M355 633h0M357 610h0M358 635h0M340 637h0M332 665h0M347 616h0M343 618h0M327 600h0M340 600h0M355 604h0M324 618h0M359 622h0M347 639h0M337 605h0M320 642h0M338 627h0M343 633h0M334 635h0M359 571h0M342 608h0M337 624h0M342 611h0M336 629h0M350 604h0M337 631h0M333 628h0M351 644h0M338 647h0M321 619h0M348 631h0M350 609h0M351 651h0M347 575h0M332 623h0M344 632h0M345 673h0M348 632h0M339 636h0M344 685h0M361 595h0M336 582h0M340 635h0M341 646h0M330 678h0M344 610h0M334 637h0M337 676h0M338 642h0M343 615h0M356 628h0M330 625h0M333 605h0M350 604h0M343 581h0M328 616h0M335 613h0M349 566h0M360 596h0M352 648h0M343 609h0M341 617h0M335 616h0M334 603h0M349 612h0M337 625h0M347 602h0M350 639h0M349 673h0M322 581h0M335 625h0M342 619h0M358 606h0M342 636h0M344 625h0M347 642h0M347 619h0M327 628h0M326 614h0M344 609h0M345 627h0M331 594h0M360 624h0M363 667h0M344 614h0M340 613h0M342 622h0M334 655h0M329 597h0M347 592h0M327 599h0M335 625h0M349 559h0M343 635h0M342 572h0M349 593h0M327 611h0M349 603h0M339 569h0M341 603h0M343 614h0M352 622h0M329 633h0M325 612h0M350 655h0M348 578h0M357 634h0M357 627h0M348 627h0M347 633h0M339 606h0M356 649h0M336 606h0M347 632h0M345 592h0M350 603h0M343 606h0M350 624h0M333 629h0M337 619h0M334 613h0M342 593h0M335 604h0M352 608h0M337 607h0M335 665h0M329 638h0M337 610h0M335 628h0M341 646h0M345 623h0M313 608h0M348 629h0M358 649h0M327 610h0M341 610h0M323 669h0M351 578h0M335 616h0M347 616h0M349 642h0M343 676h0M353 638h0M350 599h0M345 599h0M346 622h0M344 596h0M332 605h0M339 596h0M327 596h0M359 626h0M327 647h0M371 631h0M347 642h0M343 592h0M343 642h0M340 613h0M347 602h0M346 673h0M339 626h0M351 649h0M343 614h0M342 644h0M349 675h0M350 634h0M330 580h0M342 600h0M349 654h0M341 599h0M332 622h0M341 625h0M342 627h0M345 637h0M341 651h0M362 624h0M336 650h0M348 619h0M334 625h0M352 596h0M343 641h0M347 595h0M347 640h0M330 581h0M361 634h0M345 632h0M337 601h0M322 635h0M331 604h0M366 642h0M344 618h0M346 598h0M329 614h0M354 645h0M344 624h0M330 640h0M347 602h0M360 672h0M325 605h0M350 618h0M340 595h0M353 609h0M351 607h0M349 624h0M351 638h0M336 596h0M330 626h0M350 629h0M336 615h0M355 598h0M339 644h0M327 635h0M349 623h0M326 607h0M354 653h0M363 653h0M356 659h0M343 588h0M313 567h0M345 605h0M332 656h0M366 608h0M332 605h0M341 679h0M322 621h0M332 603h0M356 610h0M321 618h0M342 586h0M338 581h0M352 664h0M333 677h0M351 661h0M327 613h0M333 572h0M353 580h0M351 594h0M327 625h0M355 590h0M331 682h0M361 601h0M345 667h0M325 643h0M330 660h0M334 585h0M349 671h0M357 653h0M336 581h0M345 586h0M332 582h0M333 598h0M321 598h0M345 592h0M346 574h0M363 644h0M349 668h0M327 654h0M346 585h0M355 651h0M327 605h0M326 623h0M321 661h0M351 593h0M349 583h0M358 632h0M349 684h0M356 649h0M360 644h0M344 593h0M338 587h0M363 612h0M327 616h0M357 590h0M328 595h0M334 598h0M334 600h0M338 584h0M330 650h0M345 675h0M359 682h0M321 653h0M328 596h0M340 666h0M335 662h0M353 597h0M349 595h0M328 645h0M329 596h0M346 669h0M345 592h0M355 595h0M325 601h0M320 615h0M331 595h0M352 667h0M352 583h0M342 588h0M330 671h0M326 618h0M322 646h0M325 627h0M351 597h0M350 573h0M358 639h0M360 623h0M328 624h0M332 602h0M349 573h0M350 660h0M324 634h0M340 669h0M329 609h0M326 645h0M352 597h0M358 688h0M357 591h0M334 657h0M340 593h0M325 620h0M361 656h0M348 588h0M368 617h0M352 669h0M359 644h0M327 670h0M326 655h0M362 635h0M347 669h0M329 652h0M351 579h0M355 596h0M345 592h0M339 590h0M362 606h0M336 572h0M338 577h0M325 609h0M355 669h0M340 679h0M348 592h0M326 606h0M341 579h0M359 609h0M342 590h0M353 654h0M329 659h0M353 576h0M343 589h0M351 676h0M353 591h0M338 592h0M328 641h0M340 591h0M330 609h0M335 587h0M348 683h0M328 612h0M342 587h0M361 651h0M356 600h0M355 605h0M351 594h0M358 596h0M355 667h0M338 595h0M349 592h0M343 591h0M349 585h0M349 670h0M339 668h0M349 588h0M360 603h0M357 584h0M351 596h0M341 589h0M335 681h0M338 592h0M344 561h0M318 624h0M326 634h0M358 632h0M345 665h0M360 664h0M351 661h0M357 605h0M355 594h0M357 591h0M354 600h0M329 641h0M354 595h0M357 609h0M335 564h0M335 578h0M350 586h0M365 629h0M363 632h0M341 570h0M337 595h0M342 583h0M355 601h0M345 679h0M362 637h0M353 663h0M325 642h0M356 655h0M335 587h0M343 591h0M352 568h0M347 673h0M333 590h0M318 622h0M319 605h0M348 568h0M358 677h0M361 632h0M348 586h0M356 660h0M357 615h0M343 587h0M360 635h0M358 643h0M344 673h0M358 571h0M362 610h0M361 639h0M337 588h0M342 586h0M328 600h0M342 569h0M338 591h0M333 589h0M328 632h0M349 576h0M331 604h0M360 640h0M353 657h0M324 590h0M361 655h0M358 602h0M326 622h0M355 658h0M361 639h0M351 585h0M361 618h0M339 579h0M328 653h0M342 582h0M348 586h0M325 664h0M350 591h0M358 655h0M329 608h0M331 601h0M329 606h0M356 675h0M364 637h0M323 621h0M359 602h0M347 678h0M354 662h0M364 627h0M332 586h0M361 631h0M363 609h0M342 584h0M330 599h0M332 665h0M342 571h0M322 655h0M327 622h0M350 569h0M354 599h0M339 678h0M361 638h0M337 667h0M353 588h0M343 664h0M349 591h0M334 596h0M324 621h0M357 584h0M349 592h0M351 588h0M330 671h0M357 570h0M346 593h0M351 573h0M337 589h0M335 589h0M359 619h0M333 673h0M349 576h0M328 617h0M338 590h0M341 584h0M340 681h0M322 636h0M338 578h0M362 596h0M337 593h0M358 608h0M340 587h0M347 667h0M365 584h0M336 662h0M324 597h0M343 674h0M355 603h0M361 640h0M344 668h0M334 583h0M325 628h0M328 644h0M359 592h0M331 593h0M322 611h0M345 670h0M358 623h0M331 651h0M330 596h0M337 590h0M357 604h0M333 655h0M356 597h0M355 661h0M336 591h0M362 630h0M336 665h0M361 635h0M332 595h0M332 598h0M320 640h0M332 655h0M355 605h0M357 609h0M353 597h0M354 664h0M348 592h0M359 613h0M362 598h0M362 622h0M325 635h0M356 603h0M343 593h0M325 616h0M332 578h0M335 591h0M354 658h0M365 582h0M359 638h0M334 593h0M342 591h0M322 631h0M353 670h0M341 588h0M336 580h0M355 678h0M351 677h0M360 645h0M332 584h0M362 616h0M334 661h0M349 568h0M344 677h0M342 665h0M361 627h0M324 617h0M326 607h0M338 696h0M331 603h0M345 665h0M353 601h0M355 666h0M319 598h0M322 601h0M341 671h0M337 673h0M339 684h0M361 624h0M368 645h0M330 600h0M351 675h0M322 648h0M344 581h0M335 671h0M355 673h0M356 604h0M341 584h0M337 594h0M358 626h0M321 624h0M343 585h0M353 583h0M338 580h0M350 659h0M338 676h0M345 584h0M328 603h0M346 582h0M343 590h0M344 667h0M324 661h0M348 590h0M320 646h0M353 657h0M351 662h0M357 657h0M361 622h0M334 664h0M361 591h0M330 659h0M360 597h0M355 575h0M360 600h0M346 576h0M330 567h0M329 613h0M357 584h0M338 588h0M349 662h0M352 596h0M353 601h0M323 630h0M331 605h0" stroke="#3b86d6" stroke-opacity=".42" stroke-width="1.7" stroke-linecap="square"/><g transform="translate(171.5 314.0) rotate(0.0)"><ellipse rx="8.0" ry="18.5" fill="url(#g8)" stroke="#6ea7e4" stroke-width=".6" stroke-opacity=".8"/><ellipse cx="0.00" cy="0.57" rx="6.86" ry="15.86" fill="none" stroke="#fff" stroke-width=".4" stroke-opacity=".6"/><ellipse cx="0.00" cy="1.14" rx="5.71" ry="13.21" fill="none" stroke="#fff" stroke-width=".4" stroke-opacity=".6"/><ellipse cx="0.00" cy="1.71" rx="4.57" ry="10.57" fill="none" stroke="#fff" stroke-width=".4" stroke-opacity=".6"/><ellipse cx="0.00" cy="2.29" rx="3.43" ry="7.93" fill="none" stroke="#fff" stroke-width=".4" stroke-opacity=".6"/><ellipse cx="0.00" cy="2.86" rx="2.29" ry="5.29" fill="none" stroke="#fff" stroke-width=".4" stroke-opacity=".6"/><ellipse cx="0.00" cy="3.43" rx="1.14" ry="2.64" fill="none" stroke="#fff" stroke-width=".4" stroke-opacity=".6"/><ellipse cx="0.00" cy="4.00" rx="0.80" ry="4.07" fill="#fff" fill-opacity=".75"/></g><rect x="144.8" y="265.4" width="91.5" height="91.6" fill="none" stroke="#999999" stroke-width="1"/><line x1="183.4" y1="265.4" x2="183.4" y2="357.0" stroke="#444" stroke-width="1"/><line x1="144.8" y1="316.3" x2="236.3" y2="316.3" stroke="#333333" stroke-width="1"/><text x="147.1" y="274.8" font-size="8.60" text-anchor="start" fill="#3a3a3a" font-weight="normal" stroke="#3a3a3a" stroke-width=".1" letter-spacing=".45">47.<tspan dx="-0.60">1</tspan></text><text x="147.1" y="353.8" font-size="8.60" text-anchor="start" fill="#3a3a3a" font-weight="normal" stroke="#3a3a3a" stroke-width=".1" letter-spacing=".45">52.8</text><text x="289.9" y="261.7" font-size="8.90" text-anchor="middle" fill="#3a3a3a">IPA1000</text><path transform="scale(.5)" d="M548 645h0M544 658h0M549 622h0M527 649h0M534 623h0M531 633h0M557 616h0M525 625h0M533 610h0M539 602h0M551 635h0M528 607h0M535 604h0M556 620h0M556 602h0M556 612h0M532 634h0M540 634h0M521 590h0M541 614h0M545 604h0M536 626h0M542 609h0M555 620h0M547 612h0M542 629h0M549 609h0M550 599h0M537 645h0M538 604h0M544 607h0M532 601h0M534 618h0M546 604h0M526 610h0M535 622h0M546 641h0M558 625h0M536 563h0M526 586h0M540 619h0M538 650h0M539 610h0M542 655h0M552 633h0M557 597h0M531 624h0M534 586h0M533 608h0M547 644h0M543 635h0M542 604h0M535 623h0M531 641h0M530 611h0M552 643h0M528 622h0M545 655h0M549 625h0M550 627h0M543 608h0M538 608h0M549 625h0M543 635h0M548 640h0M534 621h0M547 649h0M545 616h0M553 621h0M533 613h0M546 618h0M544 628h0M546 640h0M547 600h0M540 646h0M527 619h0M533 595h0M534 581h0M538 630h0M551 595h0M545 617h0M527 618h0M539 631h0M540 622h0M540 620h0M553 651h0M538 587h0M550 610h0M539 637h0M542 612h0M540 604h0M539 628h0M547 585h0M535 653h0M556 627h0M533 626h0M543 625h0M562 646h0M558 629h0M529 593h0M533 595h0M544 649h0M551 654h0M557 672h0M544 639h0M543 626h0M552 584h0M549 626h0M546 587h0M547 660h0M553 644h0M531 593h0M550 636h0M547 629h0M529 588h0M536 609h0M542 639h0M545 623h0M521 615h0M551 626h0M539 651h0M540 646h0M554 628h0M542 609h0M548 628h0M538 630h0M543 605h0M533 582h0M545 638h0M532 621h0M540 617h0M548 649h0M556 651h0M555 623h0M543 654h0M540 601h0M537 645h0M533 620h0M556 593h0M540 633h0M537 578h0M533 619h0M528 601h0M544 644h0M557 610h0M527 603h0M543 647h0M541 607h0M529 622h0M548 636h0M530 603h0M533 631h0M529 609h0M531 620h0M544 614h0M540 605h0M545 584h0M545 610h0M530 606h0M535 628h0M555 627h0M549 650h0M562 637h0M534 591h0M529 650h0M543 651h0M554 605h0M534 598h0M527 631h0M530 638h0M533 626h0M529 631h0M547 655h0M548 643h0M536 618h0M550 593h0M544 616h0M550 635h0M549 593h0M539 618h0M555 608h0M541 635h0M538 580h0M541 586h0M544 607h0M545 636h0M544 628h0M544 640h0M551 648h0M549 601h0M553 620h0M536 624h0M556 611h0M549 651h0M541 607h0M543 623h0M538 634h0M541 646h0M540 581h0M557 599h0M548 647h0M533 613h0M536 659h0M540 595h0M533 625h0M545 605h0M540 592h0M552 664h0M548 630h0M546 616h0M539 617h0M538 637h0M543 565h0M541 615h0M532 608h0M539 639h0M534 607h0M541 622h0M551 617h0M551 678h0M551 626h0M539 587h0M549 614h0M542 622h0M540 645h0M544 602h0M538 618h0M547 618h0M542 601h0M527 615h0M543 582h0M540 609h0M547 625h0M557 597h0M541 629h0M562 626h0M524 611h0M546 569h0M535 647h0M533 625h0M548 618h0M554 603h0M533 656h0M542 599h0M538 634h0M557 616h0M545 614h0M536 643h0M521 617h0M546 611h0M550 622h0M553 637h0M550 642h0M553 594h0M535 625h0M539 624h0M553 607h0M537 602h0M535 618h0M534 642h0M567 584h0M522 565h0M543 600h0M542 580h0M560 574h0M539 642h0M536 631h0M567 615h0M532 595h0M554 653h0M523 625h0M537 600h0M534 662h0M548 591h0M559 599h0M543 663h0M539 595h0M526 615h0M526 625h0M548 600h0M560 632h0M552 590h0M534 597h0M569 623h0M550 601h0M521 627h0M553 605h0M554 609h0M527 664h0M523 652h0M522 630h0M549 593h0M558 656h0M566 643h0M561 624h0M536 605h0M545 588h0M546 592h0M528 610h0M526 618h0M546 577h0M555 653h0M561 614h0M550 596h0M557 655h0M565 600h0M515 609h0M522 667h0M555 593h0M528 656h0M563 624h0M561 620h0M526 644h0M542 601h0M531 609h0M560 605h0M560 599h0M532 606h0M558 620h0M557 596h0M542 596h0M562 611h0M554 661h0M525 649h0M548 589h0M535 602h0M564 622h0M520 635h0M559 615h0M540 666h0M557 617h0M540 602h0M530 599h0M537 594h0M545 663h0M544 593h0M558 634h0M535 680h0M532 598h0M530 662h0M555 649h0M533 583h0M526 601h0M528 657h0M530 607h0M545 599h0M551 600h0M524 648h0M558 611h0M562 603h0M563 633h0M548 594h0M538 674h0M535 594h0M547 599h0M547 599h0M558 608h0M533 659h0M533 591h0M543 601h0M559 612h0M568 607h0M523 649h0M548 673h0M560 655h0M560 621h0M533 608h0M550 597h0M548 664h0M530 671h0M534 598h0M516 643h0M530 602h0M553 602h0M556 668h0M523 619h0M563 602h0M535 671h0M538 602h0M534 604h0M528 607h0M541 572h0M525 613h0M551 585h0M541 589h0M520 665h0M551 662h0M541 594h0M523 575h0M559 647h0M535 663h0M528 589h0M528 673h0M554 679h0M561 637h0M529 607h0M559 599h0M529 607h0M524 633h0M534 592h0M538 598h0M542 602h0M547 602h0M535 598h0M558 649h0M547 599h0M522 620h0M563 606h0M542 671h0M527 652h0M528 656h0M544 602h0M524 622h0M561 620h0M559 624h0M531 612h0M542 599h0M556 653h0M526 657h0M564 625h0M540 599h0M542 665h0M568 636h0M566 615h0M544 594h0M548 586h0M539 602h0M554 601h0M558 633h0M543 668h0M561 611h0M545 587h0M552 666h0M523 641h0M532 662h0M570 610h0M553 599h0M543 594h0M529 609h0M551 593h0M565 602h0M560 619h0M565 654h0M523 642h0M555 605h0M548 665h0M549 602h0M525 622h0M552 662h0M545 669h0M552 605h0M556 613h0M540 597h0M525 638h0M550 665h0M557 608h0M561 634h0M545 602h0M546 598h0M528 614h0M533 666h0M537 601h0M528 605h0M541 598h0M546 600h0M535 676h0M547 603h0M536 589h0M545 661h0M559 634h0M538 600h0M528 660h0M549 583h0M550 594h0M562 610h0M553 658h0M554 591h0M549 602h0M558 633h0M528 654h0M564 643h0M525 622h0M557 616h0M567 631h0M540 594h0M555 650h0M554 606h0M528 651h0M551 661h0M545 598h0M519 608h0M540 600h0M537 687h0M539 598h0M529 654h0M528 616h0M525 621h0M521 612h0M525 625h0M558 650h0M527 606h0M542 601h0M565 612h0M540 588h0M519 642h0M527 621h0M530 659h0M533 598h0M531 602h0M564 616h0M549 594h0M562 608h0M545 601h0M529 603h0M559 602h0M545 670h0M546 601h0M520 634h0M558 610h0M538 597h0M535 664h0M544 595h0M540 598h0M529 616h0M564 612h0M559 624h0M518 646h0M533 599h0M566 627h0M532 607h0M526 643h0M524 653h0M516 662h0M522 661h0M557 642h0M560 620h0M537 598h0M556 612h0M530 668h0M557 619h0M549 595h0M563 650h0M539 594h0M535 596h0M548 598h0M537 602h0M542 601h0M518 627h0M549 602h0M540 663h0M516 652h0M550 605h0M565 635h0M553 597h0M537 595h0M544 667h0M546 588h0M549 598h0M546 602h0M535 605h0M542 672h0M519 629h0M524 591h0M555 603h0M530 665h0M558 615h0M569 617h0M526 651h0M527 619h0M547 659h0M546 663h0M552 586h0M561 604h0M521 641h0M565 592h0M522 666h0M528 667h0M551 591h0M549 671h0M536 602h0M540 668h0M545 592h0M537 594h0M561 614h0M544 585h0M531 657h0M525 629h0M541 601h0M565 641h0M551 600h0M546 600h0M535 674h0M563 638h0M543 598h0M523 662h0M531 611h0M530 603h0M524 620h0M545 662h0M549 658h0M562 619h0M560 603h0M541 600h0M556 608h0M528 654h0M549 599h0M560 600h0M549 668h0M566 611h0M559 640h0M566 600h0M552 606h0M530 664h0M537 604h0M549 662h0M563 607h0M538 599h0M526 623h0M556 591h0M538 593h0M541 672h0M572 631h0M537 603h0M544 594h0M557 597h0M543 671h0M524 657h0M532 583h0M551 598h0M547 595h0M529 660h0M556 606h0M551 663h0M558 643h0M552 600h0M563 616h0M550 605h0M531 606h0M554 600h0M542 682h0M559 657h0M527 618h0M535 664h0M560 641h0M531 672h0M540 663h0M530 656h0M562 627h0M528 608h0M521 626h0M562 620h0M557 603h0M529 611h0M530 599h0M524 622h0M553 592h0M559 603h0M525 652h0M561 652h0M559 604h0M559 626h0M563 638h0M568 642h0M557 659h0M560 629h0M563 651h0M537 600h0M546 672h0" stroke="#c9cb3a" stroke-opacity=".42" stroke-width="1.7" stroke-linecap="square"/><g transform="translate(271.0 316.0) rotate(4.0)"><ellipse rx="8.5" ry="15.5" fill="url(#g9)" stroke="#cfd15a" stroke-width=".6" stroke-opacity=".8"/><ellipse cx="0.00" cy="1.00" rx="7.29" ry="13.29" fill="none" stroke="#fff" stroke-width=".4" stroke-opacity=".6"/><ellipse cx="0.00" cy="2.00" rx="6.07" ry="11.07" fill="none" stroke="#fff" stroke-width=".4" stroke-opacity=".6"/><ellipse cx="0.00" cy="3.00" rx="4.86" ry="8.86" fill="none" stroke="#fff" stroke-width=".4" stroke-opacity=".6"/><ellipse cx="0.00" cy="4.00" rx="3.64" ry="6.64" fill="none" stroke="#fff" stroke-width=".4" stroke-opacity=".6"/><ellipse cx="0.00" cy="5.00" rx="2.43" ry="4.43" fill="none" stroke="#fff" stroke-width=".4" stroke-opacity=".6"/><ellipse cx="0.00" cy="6.00" rx="1.21" ry="2.21" fill="none" stroke="#fff" stroke-width=".4" stroke-opacity=".6"/><ellipse cx="0.00" cy="7.00" rx="0.85" ry="3.41" fill="#fff" fill-opacity=".75"/></g><rect x="244.5" y="265.4" width="90.9" height="91.6" fill="none" stroke="#999999" stroke-width="1"/><line x1="282.6" y1="265.4" x2="282.6" y2="357.0" stroke="#444" stroke-width="1"/><line x1="244.5" y1="316.3" x2="335.4" y2="316.3" stroke="#333333" stroke-width="1"/><text x="246.8" y="274.8" font-size="8.60" text-anchor="start" fill="#3a3a3a" font-weight="normal" stroke="#3a3a3a" stroke-width=".1" letter-spacing=".45">26.4</text><text x="246.8" y="353.8" font-size="8.60" text-anchor="start" fill="#3a3a3a" font-weight="normal" stroke="#3a3a3a" stroke-width=".1" letter-spacing=".45">73.5</text><text x="441.4" y="261.7" font-size="8.90" text-anchor="middle" fill="#3a3a3a">Con</text><path transform="scale(.5)" d="M866 652h0M874 636h0M870 619h0M861 663h0M853 659h0M838 673h0M847 640h0M842 643h0M859 651h0M882 626h0M865 658h0M831 679h0M840 660h0M848 646h0M855 627h0M860 643h0M853 643h0M855 648h0M857 668h0M838 651h0M857 673h0M859 659h0M833 671h0M835 662h0M854 659h0M880 627h0M845 669h0M853 669h0M875 619h0M852 650h0M858 655h0M843 656h0M863 643h0M854 648h0M868 634h0M861 653h0M845 647h0M873 669h0M841 676h0M842 669h0M879 612h0M869 656h0M880 616h0M839 650h0M850 664h0M851 651h0M864 650h0M868 635h0M852 644h0M858 635h0M865 666h0M875 633h0M878 607h0M856 642h0M848 663h0M831 657h0M842 634h0M868 624h0M838 653h0M860 654h0M841 679h0M872 640h0M855 640h0M864 630h0M866 624h0M848 639h0M835 653h0M876 644h0M835 660h0M855 645h0M852 656h0M849 668h0M857 656h0M841 664h0M853 627h0M859 660h0M846 661h0M841 691h0M854 635h0M847 664h0M861 633h0M849 651h0M867 623h0M839 644h0M830 657h0M872 644h0M847 648h0M867 633h0M852 628h0M855 655h0M854 644h0M856 653h0M862 640h0M870 647h0M862 632h0M843 682h0M865 646h0M855 647h0M856 642h0M849 663h0M858 653h0M854 664h0M846 657h0M857 651h0M860 670h0M888 624h0M865 644h0M841 669h0M872 653h0M824 662h0M846 676h0M845 652h0M850 642h0M867 632h0M886 636h0M863 665h0M850 656h0M850 641h0M855 635h0M845 654h0M846 647h0M883 637h0M861 654h0M861 639h0M850 658h0M862 654h0M876 632h0M853 647h0M852 640h0M844 647h0M857 644h0M841 673h0M838 673h0M830 679h0M865 634h0M857 646h0M864 661h0M848 664h0M839 656h0M848 660h0M832 673h0M863 644h0M850 665h0M846 642h0M866 620h0M864 659h0M856 654h0M874 648h0M857 648h0M831 653h0M865 627h0M851 654h0M858 641h0M826 658h0M843 631h0M838 677h0M845 654h0M875 628h0M847 648h0M868 634h0M845 634h0M859 635h0M821 655h0M826 663h0M850 655h0M846 667h0M837 648h0M846 669h0M886 624h0M855 656h0M838 649h0M853 647h0M840 646h0M835 665h0M851 650h0M844 675h0M839 666h0M857 651h0M848 640h0M868 640h0M867 677h0M847 663h0M867 661h0M860 642h0M850 646h0M848 681h0M841 647h0M864 641h0M863 639h0M880 628h0M860 657h0M848 659h0M859 657h0M858 647h0M857 665h0M847 648h0M852 662h0M883 625h0M864 632h0M859 644h0M856 672h0M861 626h0M870 617h0M870 665h0M850 636h0M845 643h0M850 647h0M848 654h0M852 651h0M849 654h0M862 633h0M863 669h0M858 649h0M856 633h0M842 633h0M824 651h0M869 627h0M850 645h0M852 637h0M862 653h0M848 673h0M862 636h0M852 635h0M859 651h0M865 651h0M836 647h0M833 700h0M859 637h0M822 676h0M840 627h0M856 634h0M839 656h0M857 659h0M839 618h0M870 634h0M868 644h0M866 652h0M859 650h0M866 661h0M847 654h0M854 654h0M833 656h0M834 671h0M859 644h0M840 668h0M859 632h0M845 641h0M847 652h0M864 635h0M856 661h0M867 663h0M873 624h0M850 655h0M852 635h0M857 627h0M849 654h0M842 672h0M873 634h0M857 650h0M850 677h0M828 697h0M862 648h0M857 616h0M836 652h0M859 661h0M852 627h0M862 643h0M837 643h0M846 657h0M840 656h0M868 656h0M843 677h0M860 653h0M854 649h0M851 633h0M823 671h0M863 656h0M865 640h0M853 643h0M874 647h0M858 664h0M845 660h0M864 643h0M848 649h0M843 648h0M858 652h0M857 656h0M875 637h0M852 649h0M853 639h0M866 632h0M860 643h0M838 641h0M861 638h0M870 647h0M847 639h0M837 652h0M862 618h0M867 643h0M853 672h0M869 618h0M874 610h0M877 604h0M864 606h0M860 611h0M873 615h0M868 621h0M872 590h0M860 604h0M871 560h0M865 581h0M868 569h0M862 575h0M861 605h0M869 586h0M864 615h0M865 604h0M866 597h0M865 572h0M858 581h0M869 570h0M876 597h0M871 601h0M865 608h0M867 608h0M862 568h0M874 573h0M866 557h0M873 576h0M865 565h0M871 620h0M867 568h0M867 601h0M873 585h0M885 614h0M855 557h0M867 598h0M865 611h0M873 605h0M856 622h0M871 600h0M870 586h0M868 609h0M870 592h0M874 622h0M872 614h0M867 589h0M857 614h0M875 557h0M873 615h0M865 606h0M885 599h0M850 606h0M866 618h0M860 613h0M864 563h0M866 617h0M872 576h0M865 596h0M876 565h0M874 589h0M866 592h0M876 565h0M853 595h0M880 622h0M868 606h0M864 618h0M862 575h0M861 620h0M872 614h0M875 607h0M867 584h0M868 562h0M869 584h0M860 586h0M869 622h0M860 586h0M866 606h0M865 573h0M871 577h0M870 606h0M876 594h0M860 623h0M870 604h0M859 567h0M885 587h0M864 594h0M874 620h0M861 582h0M865 622h0M866 605h0M862 610h0M867 582h0M875 589h0M867 597h0M871 565h0M865 561h0M873 587h0M867 616h0M875 623h0M855 604h0M859 593h0M862 602h0M853 576h0M863 561h0M865 598h0M867 597h0M865 618h0M864 609h0M867 614h0M860 566h0M878 617h0M867 597h0M873 613h0M863 609h0M908 633h0M895 660h0M899 639h0M869 624h0M900 638h0M921 647h0M918 626h0M913 635h0M878 638h0M920 642h0M905 644h0M904 632h0M895 618h0M910 626h0M925 633h0M900 619h0M914 661h0M903 650h0M877 634h0M903 651h0M896 634h0M896 629h0M902 633h0M922 644h0M923 654h0M892 628h0M933 652h0M907 614h0M910 620h0M908 632h0M932 636h0M896 634h0M916 629h0M898 638h0M900 652h0M897 626h0M891 625h0M899 618h0M889 648h0M894 650h0M907 628h0M906 637h0M906 627h0M904 650h0M930 662h0M892 646h0M915 637h0M914 648h0M913 649h0M911 638h0M900 642h0M903 636h0M907 633h0M909 630h0M887 636h0M915 624h0M906 633h0M900 619h0M911 639h0M915 659h0M878 619h0M906 634h0M882 643h0M894 640h0M906 631h0M896 632h0M906 636h0M907 644h0M911 624h0M889 620h0M874 649h0M920 625h0M895 655h0M920 638h0M907 638h0M904 620h0M887 634h0M906 642h0M944 634h0M906 632h0M915 645h0M908 637h0M904 648h0M939 637h0M908 642h0M900 648h0M912 623h0M904 622h0M906 622h0M887 643h0M913 657h0M924 638h0M927 636h0M896 661h0M913 626h0M909 657h0M906 635h0M897 653h0M913 628h0M901 643h0M890 630h0M923 649h0M912 639h0M906 631h0M881 647h0M907 664h0M913 631h0M919 639h0M888 642h0M888 627h0M881 635h0M903 639h0M885 660h0M895 614h0M897 651h0M900 632h0M922 648h0M910 637h0M900 643h0M905 630h0M911 647h0M916 631h0M894 638h0M917 639h0M925 646h0M902 642h0M912 636h0M908 638h0M889 649h0M902 641h0M889 636h0M902 650h0M896 650h0M908 647h0M916 642h0M915 629h0M926 633h0M912 636h0M907 624h0M904 651h0M894 626h0M928 633h0M905 638h0M887 629h0M882 640h0M904 652h0M923 645h0M913 638h0M910 634h0M923 643h0M833 624h0M928 577h0M888 538h0M884 592h0M868 554h0M840 588h0M942 672h0M954 539h0M928 630h0M862 559h0M902 585h0M816 624h0M917 554h0M822 630h0M952 580h0M884 571h0M872 616h0M829 659h0M834 681h0M866 614h0M831 656h0M837 643h0M866 615h0M834 647h0M882 622h0M877 633h0M860 668h0M832 661h0M874 619h0M831 670h0M876 634h0M834 648h0M879 638h0M854 618h0M874 621h0M874 643h0M876 637h0M855 624h0M850 625h0M878 617h0M848 681h0M829 668h0M833 648h0M863 620h0M864 618h0M878 621h0M832 676h0M880 621h0M874 645h0M844 679h0M835 678h0M871 651h0M846 678h0M839 637h0M830 658h0M865 615h0M859 619h0M837 678h0M868 656h0M888 617h0M851 674h0M879 619h0M872 647h0M879 618h0M871 656h0M863 668h0M849 626h0M880 631h0M847 677h0M858 622h0M829 662h0M828 672h0M856 622h0M827 680h0M837 684h0M850 626h0M833 681h0M852 673h0M875 639h0M874 621h0M864 667h0M872 612h0M872 651h0M865 619h0M865 619h0M868 616h0M875 618h0M868 659h0M873 613h0M874 646h0M874 611h0M830 657h0M839 641h0M878 625h0M831 661h0M838 644h0M860 668h0M834 648h0M880 623h0M837 642h0M878 628h0M835 646h0M866 619h0M878 623h0M852 674h0M850 627h0M877 635h0M838 645h0M865 618h0M872 619h0M861 618h0M872 617h0M876 632h0M831 658h0M869 659h0M857 622h0M880 626h0M880 629h0M875 644h0M865 618h0M838 645h0M873 616h0M833 647h0M865 610h0M827 675h0M876 634h0M830 664h0M845 631h0M862 670h0M870 614h0M836 648h0M835 678h0M869 618h0M872 650h0M877 633h0M831 673h0M869 614h0M877 642h0M874 653h0M873 611h0M831 663h0M859 674h0M862 614h0M842 638h0M878 636h0M839 680h0M876 626h0M832 686h0M827 670h0M869 618h0M856 671h0M877 617h0M875 639h0M847 628h0M834 652h0M830 679h0M873 647h0M858 670h0M876 630h0M833 678h0M834 678h0M859 614h0M824 675h0M880 634h0M844 633h0M827 676h0M837 645h0M878 635h0M858 622h0M832 653h0M834 679h0M855 676h0M860 620h0M878 629h0M861 672h0M876 639h0" stroke="#72bf52" stroke-opacity=".42" stroke-width="1.7" stroke-linecap="square"/><g transform="translate(426.9 324.2) rotate(33.0)"><ellipse rx="8.0" ry="17.8" fill="#d6edca" stroke="#fff" stroke-width=".9" stroke-opacity=".85"/><ellipse rx="8.6" ry="18.4" fill="none" stroke="#8fcd72" stroke-width=".5" stroke-opacity=".8"/><ellipse rx="4.96" ry="14.24" fill="url(#R0)"/><ellipse rx="6.86" ry="15.26" fill="none" stroke="#fff" stroke-width=".3" stroke-opacity=".55"/><ellipse rx="5.71" ry="12.71" fill="none" stroke="#fff" stroke-width=".3" stroke-opacity=".55"/><ellipse rx="4.57" ry="10.17" fill="none" stroke="#fff" stroke-width=".3" stroke-opacity=".55"/><ellipse rx="3.43" ry="7.63" fill="none" stroke="#fff" stroke-width=".3" stroke-opacity=".55"/><ellipse rx="2.29" ry="5.09" fill="none" stroke="#fff" stroke-width=".3" stroke-opacity=".55"/><ellipse rx="1.14" ry="2.54" fill="none" stroke="#fff" stroke-width=".3" stroke-opacity=".55"/><ellipse rx="0.56" ry="5.34" fill="#fff" fill-opacity=".55"/></g><rect x="395.5" y="265.4" width="91.9" height="91.6" fill="none" stroke="#999999" stroke-width="1"/><line x1="441.4" y1="265.4" x2="441.4" y2="357.0" stroke="#444" stroke-width="1"/><line x1="395.5" y1="308.2" x2="487.4" y2="308.2" stroke="#333333" stroke-width="1"/><text x="398.1" y="274.8" font-size="8.60" text-anchor="start" fill="#3a3a3a" font-weight="normal" stroke="#3a3a3a" stroke-width=".1" letter-spacing=".45">3.58</text><text x="484.9" y="274.8" font-size="8.60" text-anchor="end" fill="#3a3a3a" font-weight="normal" stroke="#3a3a3a" stroke-width=".1" letter-spacing=".45">0.<tspan dx="-0.60">1</tspan><tspan dx="-0.90">5</tspan></text><text x="398.1" y="353.8" font-size="8.60" text-anchor="start" fill="#3a3a3a" font-weight="normal" stroke="#3a3a3a" stroke-width=".1" letter-spacing=".45">92.2</text><text x="484.9" y="353.8" font-size="8.60" text-anchor="end" fill="#3a3a3a" font-weight="normal" stroke="#3a3a3a" stroke-width=".1" letter-spacing=".45">4.03</text><text x="540.5" y="261.7" font-size="8.90" text-anchor="middle" fill="#3a3a3a">IPA100</text><path transform="scale(.5)" d="M1037 681h0M1090 627h0M1087 623h0M1065 644h0M1049 678h0M1057 653h0M1048 637h0M1072 631h0M1048 643h0M1046 668h0M1056 637h0M1064 663h0M1079 628h0M1029 684h0M1062 669h0M1041 655h0M1071 617h0M1043 651h0M1051 646h0M1050 649h0M1025 686h0M1066 667h0M1056 644h0M1040 669h0M1051 651h0M1056 649h0M1048 682h0M1069 647h0M1061 645h0M1058 647h0M1075 646h0M1082 626h0M1035 653h0M1059 644h0M1052 642h0M1070 629h0M1053 674h0M1039 664h0M1061 643h0M1051 658h0M1055 664h0M1054 648h0M1060 640h0M1036 687h0M1053 653h0M1031 680h0M1072 632h0M1038 648h0M1068 643h0M1052 648h0M1061 645h0M1047 661h0M1052 627h0M1051 672h0M1049 630h0M1057 663h0M1054 668h0M1060 675h0M1077 622h0M1035 630h0M1053 673h0M1050 644h0M1047 664h0M1061 646h0M1065 646h0M1064 615h0M1050 664h0M1056 631h0M1063 623h0M1050 661h0M1056 617h0M1061 652h0M1061 640h0M1037 683h0M1054 656h0M1057 620h0M1075 658h0M1055 674h0M1069 660h0M1066 634h0M1079 626h0M1053 674h0M1044 660h0M1079 637h0M1051 642h0M1033 676h0M1062 650h0M1063 628h0M1043 662h0M1045 646h0M1064 636h0M1019 689h0M1071 646h0M1044 633h0M1035 680h0M1074 640h0M1068 609h0M1056 647h0M1058 658h0M1042 662h0M1021 691h0M1046 679h0M1067 656h0M1066 633h0M1066 624h0M1036 637h0M1062 636h0M1033 630h0M1063 661h0M1037 643h0M1047 642h0M1059 613h0M1083 633h0M1054 678h0M1034 678h0M1067 635h0M1064 681h0M1050 665h0M1027 675h0M1048 656h0M1078 642h0M1058 662h0M1040 645h0M1058 630h0M1047 659h0M1048 662h0M1067 647h0M1042 676h0M1057 628h0M1064 663h0M1050 668h0M1040 666h0M1048 658h0M1050 625h0M1063 634h0M1043 650h0M1046 664h0M1054 665h0M1076 654h0M1043 672h0M1051 638h0M1065 620h0M1063 674h0M1038 655h0M1069 638h0M1068 659h0M1032 666h0M1056 650h0M1053 676h0M1052 644h0M1050 664h0M1080 619h0M1034 678h0M1049 647h0M1062 643h0M1042 666h0M1030 648h0M1023 656h0M1062 639h0M1052 643h0M1044 654h0M1038 668h0M1084 640h0M1055 651h0M1058 620h0M1067 628h0M1047 634h0M1038 664h0M1042 649h0M1026 672h0M1044 660h0M1063 654h0M1065 622h0M1065 652h0M1037 668h0M1046 654h0M1054 651h0M1042 665h0M1047 652h0M1046 644h0M1036 669h0M1063 626h0M1036 672h0M1042 656h0M1047 659h0M1055 653h0M1047 638h0M1035 677h0M1044 664h0M1066 633h0M1039 652h0M1046 656h0M1062 635h0M1064 649h0M1054 673h0M1057 647h0M1044 636h0M1048 624h0M1050 669h0M1059 662h0M1054 640h0M1044 679h0M1057 669h0M1042 652h0M1052 649h0M1051 650h0M1060 629h0M1035 685h0M1067 626h0M1050 674h0M1040 645h0M1062 628h0M1040 682h0M1036 658h0M1070 638h0M1045 663h0M1048 663h0M1063 642h0M1049 626h0M1056 651h0M1056 663h0M1059 623h0M1051 651h0M1047 651h0M1052 667h0M1054 654h0M1042 663h0M1070 616h0M1066 644h0M1065 664h0M1055 622h0M1049 647h0M1059 653h0M1035 647h0M1034 649h0M1069 644h0M1057 665h0M1046 644h0M1058 659h0M1047 673h0M1054 657h0M1072 641h0M1042 637h0M1055 658h0M1055 641h0M1048 662h0M1047 636h0M1056 673h0M1062 644h0M1043 658h0M1028 669h0M1040 626h0M1048 654h0M1056 650h0M1049 641h0M1071 641h0M1053 679h0M1060 646h0M1056 640h0M1050 681h0M1064 635h0M1041 643h0M1045 662h0M1062 631h0M1056 670h0M1030 691h0M1047 649h0M1050 660h0M1066 655h0M1077 619h0M1036 667h0M1056 665h0M1032 663h0M1045 672h0M1044 665h0M1061 658h0M1066 657h0M1044 667h0M1047 651h0M1044 649h0M1077 633h0M1056 663h0M1039 679h0M1033 682h0M1027 646h0M1036 642h0M1052 631h0M1042 649h0M1047 668h0M1050 641h0M1065 658h0M1045 651h0M1049 642h0M1051 630h0M1039 692h0M1048 644h0M1056 650h0M1052 653h0M1061 629h0M1041 653h0M1062 567h0M1063 623h0M1069 568h0M1065 618h0M1057 623h0M1057 575h0M1068 572h0M1067 622h0M1064 582h0M1069 625h0M1066 604h0M1061 621h0M1068 560h0M1067 588h0M1070 561h0M1077 613h0M1068 611h0M1061 619h0M1058 616h0M1056 576h0M1066 614h0M1057 602h0M1065 578h0M1064 551h0M1063 580h0M1059 611h0M1072 600h0M1057 607h0M1073 560h0M1065 556h0M1054 566h0M1071 566h0M1076 625h0M1068 593h0M1067 619h0M1061 575h0M1066 586h0M1066 618h0M1070 598h0M1074 608h0M1056 589h0M1065 614h0M1066 618h0M1071 590h0M1072 600h0M1060 577h0M1066 625h0M1063 622h0M1057 601h0M1067 605h0M1060 606h0M1062 625h0M1066 553h0M1062 589h0M1055 561h0M1071 606h0M1070 604h0M1046 618h0M1057 625h0M1076 550h0M1076 609h0M1069 573h0M1065 569h0M1064 591h0M1056 596h0M1067 573h0M1060 596h0M1059 617h0M1063 563h0M1068 563h0M1047 615h0M1063 585h0M1057 621h0M1066 581h0M1062 576h0M1066 559h0M1062 585h0M1081 580h0M1068 620h0M1057 624h0M1071 579h0M1074 612h0M1075 625h0M1063 594h0M1058 554h0M1062 608h0M1069 625h0M1067 596h0M1069 581h0M1063 615h0M1063 563h0M1062 599h0M1061 586h0M1060 610h0M1063 597h0M1065 607h0M1063 625h0M1060 591h0M1074 607h0M1059 593h0M1063 600h0M1070 556h0M1065 612h0M1073 550h0M1050 586h0M1072 618h0M1051 563h0M1068 621h0M1070 566h0M1057 583h0M1061 623h0M1066 593h0M1062 626h0M1070 614h0M1070 617h0M1095 650h0M1088 663h0M1089 634h0M1105 629h0M1110 650h0M1108 640h0M1096 651h0M1094 677h0M1081 642h0M1102 654h0M1088 655h0M1081 650h0M1112 638h0M1100 648h0M1087 645h0M1096 646h0M1111 642h0M1106 643h0M1106 665h0M1088 641h0M1099 638h0M1095 654h0M1091 657h0M1105 651h0M1109 651h0M1082 633h0M1061 651h0M1097 653h0M1097 638h0M1092 646h0M1114 646h0M1090 651h0M1082 645h0M1099 641h0M1074 644h0M1102 665h0M1098 652h0M1098 642h0M1103 651h0M1104 646h0M1091 654h0M1109 646h0M1100 643h0M1110 643h0M1114 654h0M1107 673h0M1110 663h0M1107 628h0M1111 622h0M1100 659h0M1083 642h0M1104 641h0M1101 673h0M1129 648h0M1068 655h0M1104 654h0M1073 646h0M1096 652h0M1100 663h0M1110 632h0M1098 644h0M1111 646h0M1079 635h0M1110 670h0M1076 648h0M1108 648h0M1087 660h0M1094 664h0M1066 651h0M1108 646h0M1096 640h0M1087 657h0M1115 638h0M1125 640h0M1109 659h0M1100 651h0M1110 655h0M1098 667h0M1117 663h0M1089 665h0M1113 651h0M1088 654h0M1083 650h0M1088 651h0M1104 661h0M1099 642h0M1081 634h0M1102 647h0M1114 645h0M1068 647h0M1085 636h0M1096 656h0M1091 640h0M1103 650h0M1082 650h0M1095 636h0M1101 643h0M1092 658h0M1106 635h0M1102 659h0M1120 653h0M1099 647h0M1103 646h0M1125 645h0M1118 650h0M1118 647h0M1116 636h0M1096 638h0M1103 649h0M1085 645h0M1080 657h0M1096 657h0M1118 645h0M1103 647h0M1091 643h0M1108 645h0M1094 641h0M1111 646h0M1108 639h0M1107 654h0M1096 637h0M1079 675h0M1067 654h0M1089 639h0M1116 633h0M1103 645h0M1092 632h0M1116 650h0M1086 654h0M1091 659h0M1085 655h0M1094 645h0M1101 639h0M1118 656h0M1120 657h0M1100 654h0M1114 640h0M1091 628h0M1078 646h0M1086 650h0M1093 635h0M1103 641h0M1104 666h0M1088 640h0M1117 636h0M1092 637h0M1082 648h0M1095 646h0M1114 632h0M1090 660h0M1136 683h0M1005 686h0M1042 573h0M1090 639h0M1141 645h0M1152 544h0M1076 625h0M1082 599h0M1011 623h0M1018 558h0M1023 551h0M1090 685h0M1135 591h0M1082 621h0M1005 545h0M1145 679h0M1075 615h0M1051 622h0M1077 616h0M1075 617h0M1056 624h0M1066 616h0M1056 624h0M1057 624h0M1023 669h0M1066 668h0M1031 681h0M1070 617h0M1076 625h0M1033 660h0M1061 616h0M1058 620h0M1051 680h0M1051 687h0M1043 635h0M1049 692h0M1075 632h0M1058 678h0M1059 621h0M1044 633h0M1061 615h0M1029 688h0M1070 620h0M1049 622h0M1066 619h0M1038 645h0M1049 684h0M1075 642h0M1033 681h0M1052 627h0M1053 621h0M1076 636h0M1031 658h0M1032 662h0M1055 624h0M1066 671h0M1043 699h0M1073 650h0M1057 680h0M1066 622h0M1070 621h0M1036 644h0M1032 679h0M1071 666h0M1078 633h0M1039 640h0M1069 660h0M1031 669h0M1077 628h0M1067 622h0M1036 697h0M1047 632h0M1037 687h0M1026 672h0M1033 678h0M1075 612h0M1065 668h0M1078 617h0M1069 658h0M1065 617h0M1075 624h0M1046 687h0M1077 625h0M1078 635h0M1035 684h0M1056 620h0M1066 614h0M1064 675h0M1057 619h0M1073 648h0M1079 624h0M1058 621h0M1042 640h0M1035 684h0M1036 692h0M1074 629h0M1062 676h0M1029 672h0M1070 620h0M1066 620h0M1069 662h0M1042 689h0M1039 640h0M1029 663h0M1077 634h0M1077 617h0M1073 651h0M1042 684h0M1035 653h0M1077 633h0M1072 624h0M1044 633h0M1069 623h0M1046 631h0M1034 656h0M1054 679h0M1029 684h0M1072 615h0M1076 653h0M1061 617h0M1075 629h0M1030 671h0M1077 640h0M1032 681h0M1056 621h0M1035 686h0M1045 631h0M1074 620h0M1071 622h0M1042 640h0M1064 621h0M1075 629h0M1032 683h0M1040 642h0M1069 611h0M1065 618h0M1027 656h0M1027 669h0M1059 616h0M1075 646h0M1051 688h0M1077 640h0M1050 684h0M1051 625h0M1043 634h0M1073 622h0M1050 684h0M1037 644h0M1052 627h0M1079 637h0M1079 631h0M1050 685h0M1035 655h0M1031 664h0M1047 683h0M1055 684h0M1032 689h0M1064 674h0M1033 646h0M1058 620h0M1067 665h0M1075 640h0M1064 668h0M1070 621h0M1074 631h0M1045 636h0M1078 624h0M1075 615h0M1073 619h0M1076 632h0M1075 646h0M1065 621h0M1063 670h0M1043 639h0M1060 675h0M1066 667h0" stroke="#3b86d6" stroke-opacity=".42" stroke-width="1.7" stroke-linecap="square"/><g transform="translate(526.7 326.5) rotate(28.0)"><ellipse rx="8.5" ry="17.8" fill="#cde1f6" stroke="#fff" stroke-width=".9" stroke-opacity=".85"/><ellipse rx="9.1" ry="18.4" fill="none" stroke="#6ea7e4" stroke-width=".5" stroke-opacity=".8"/><ellipse rx="5.27" ry="14.24" fill="url(#R1)"/><ellipse rx="7.29" ry="15.26" fill="none" stroke="#fff" stroke-width=".3" stroke-opacity=".55"/><ellipse rx="6.07" ry="12.71" fill="none" stroke="#fff" stroke-width=".3" stroke-opacity=".55"/><ellipse rx="4.86" ry="10.17" fill="none" stroke="#fff" stroke-width=".3" stroke-opacity=".55"/><ellipse rx="3.64" ry="7.63" fill="none" stroke="#fff" stroke-width=".3" stroke-opacity=".55"/><ellipse rx="2.43" ry="5.09" fill="none" stroke="#fff" stroke-width=".3" stroke-opacity=".55"/><ellipse rx="1.21" ry="2.54" fill="none" stroke="#fff" stroke-width=".3" stroke-opacity=".55"/><ellipse rx="0.60" ry="5.34" fill="#fff" fill-opacity=".55"/></g><rect x="494.4" y="265.4" width="92.1" height="91.6" fill="none" stroke="#999999" stroke-width="1"/><line x1="540.5" y1="265.4" x2="540.5" y2="357.0" stroke="#444" stroke-width="1"/><line x1="494.4" y1="308.5" x2="586.5" y2="308.5" stroke="#333333" stroke-width="1"/><text x="497.0" y="274.8" font-size="8.60" text-anchor="start" fill="#3a3a3a" font-weight="normal" stroke="#3a3a3a" stroke-width=".1" letter-spacing=".45">2.59</text><text x="584.0" y="274.8" font-size="8.60" text-anchor="end" fill="#3a3a3a" font-weight="normal" stroke="#3a3a3a" stroke-width=".1" letter-spacing=".45">0.<tspan dx="-0.60">1</tspan><tspan dx="-0.90">2</tspan></text><text x="497.0" y="353.8" font-size="8.60" text-anchor="start" fill="#3a3a3a" font-weight="normal" stroke="#3a3a3a" stroke-width=".1" letter-spacing=".45">95.<tspan dx="-0.60">1</tspan></text><text x="584.0" y="353.8" font-size="8.60" text-anchor="end" fill="#3a3a3a" font-weight="normal" stroke="#3a3a3a" stroke-width=".1" letter-spacing=".45">2.<tspan dx="-0.60">1</tspan><tspan dx="-0.90">6</tspan></text><text x="638.9" y="261.7" font-size="8.90" text-anchor="middle" fill="#3a3a3a">IPA1000</text><path transform="scale(.5)" d="M1243 676h0M1248 666h0M1249 697h0M1261 669h0M1219 670h0M1257 663h0M1246 636h0M1239 674h0M1254 666h0M1261 656h0M1241 669h0M1265 666h0M1267 648h0M1250 677h0M1247 665h0M1263 668h0M1242 683h0M1255 639h0M1247 652h0M1227 652h0M1231 683h0M1266 650h0M1243 653h0M1251 640h0M1244 657h0M1238 652h0M1244 662h0M1260 672h0M1234 657h0M1236 661h0M1277 623h0M1263 663h0M1256 683h0M1250 645h0M1271 675h0M1236 677h0M1271 645h0M1247 660h0M1232 666h0M1256 679h0M1250 640h0M1266 635h0M1237 675h0M1266 640h0M1253 647h0M1257 637h0M1252 658h0M1241 642h0M1254 667h0M1252 642h0M1246 649h0M1243 660h0M1244 626h0M1248 655h0M1242 661h0M1247 649h0M1281 652h0M1248 630h0M1257 654h0M1260 637h0M1219 669h0M1262 660h0M1242 668h0M1249 673h0M1253 656h0M1254 650h0M1235 661h0M1235 659h0M1247 661h0M1263 671h0M1218 659h0M1240 667h0M1250 661h0M1268 672h0M1252 655h0M1253 647h0M1238 648h0M1233 676h0M1259 652h0M1247 667h0M1268 647h0M1248 655h0M1265 664h0M1250 657h0M1256 643h0M1254 644h0M1253 645h0M1257 638h0M1280 643h0M1238 667h0M1261 639h0M1256 643h0M1256 651h0M1241 651h0M1237 664h0M1268 652h0M1232 666h0M1273 653h0M1264 629h0M1238 662h0M1248 668h0M1235 704h0M1232 664h0M1245 662h0M1259 633h0M1262 657h0M1241 682h0M1257 669h0M1249 663h0M1239 679h0M1221 669h0M1244 644h0M1248 646h0M1230 697h0M1270 635h0M1241 650h0M1244 661h0M1244 663h0M1242 669h0M1239 688h0M1274 656h0M1261 642h0M1254 657h0M1228 645h0M1254 671h0M1252 647h0M1243 644h0M1243 656h0M1258 656h0M1232 652h0M1258 670h0M1267 661h0M1249 627h0M1253 645h0M1257 649h0M1263 660h0M1251 653h0M1236 659h0M1267 652h0M1227 667h0M1251 655h0M1255 637h0M1247 668h0M1238 646h0M1271 639h0M1271 638h0M1247 655h0M1243 654h0M1236 677h0M1241 674h0M1270 654h0M1243 678h0M1247 645h0M1253 637h0M1240 669h0M1258 636h0M1267 656h0M1249 655h0M1253 655h0M1260 653h0M1250 664h0M1242 666h0M1262 647h0M1261 648h0M1264 661h0M1253 647h0M1259 672h0M1251 656h0M1247 657h0M1255 646h0M1249 663h0M1237 670h0M1254 674h0M1228 683h0M1253 642h0M1252 672h0M1248 650h0M1247 665h0M1237 683h0M1270 623h0M1252 673h0M1262 652h0M1260 642h0M1255 656h0M1259 666h0M1256 641h0M1245 689h0M1242 678h0M1232 661h0M1239 666h0M1242 669h0M1242 663h0M1264 663h0M1224 671h0M1254 651h0M1234 654h0M1256 647h0M1251 640h0M1272 636h0M1241 666h0M1254 666h0M1258 659h0M1256 655h0M1232 662h0M1250 682h0M1255 659h0M1250 654h0M1271 657h0M1247 663h0M1240 663h0M1271 657h0M1244 660h0M1246 660h0M1267 644h0M1251 653h0M1236 659h0M1255 674h0M1249 651h0M1256 686h0M1266 647h0M1255 662h0M1238 661h0M1291 629h0M1242 678h0M1267 665h0M1255 657h0M1250 663h0M1248 665h0M1225 671h0M1210 673h0M1239 664h0M1253 630h0M1248 653h0M1239 637h0M1246 665h0M1248 654h0M1249 658h0M1270 634h0M1234 664h0M1238 670h0M1240 660h0M1258 656h0M1233 660h0M1247 637h0M1244 671h0M1250 668h0M1238 654h0M1229 675h0M1232 655h0M1256 661h0M1258 655h0M1233 671h0M1259 657h0M1257 658h0M1246 642h0M1253 666h0M1244 660h0M1259 650h0M1269 644h0M1246 686h0M1240 658h0M1246 661h0M1222 702h0M1243 652h0M1259 632h0M1260 670h0M1258 674h0M1250 640h0M1247 655h0M1262 668h0M1265 647h0M1264 669h0M1222 683h0M1245 659h0M1232 674h0M1234 652h0M1235 657h0M1255 692h0M1247 665h0M1287 642h0M1255 646h0M1247 660h0M1265 655h0M1254 657h0M1241 673h0M1257 673h0M1238 665h0M1255 642h0M1259 650h0M1257 671h0M1253 686h0M1252 652h0M1248 672h0M1256 666h0M1262 649h0M1250 709h0M1272 647h0M1239 665h0M1256 655h0M1251 654h0M1260 611h0M1272 631h0M1265 613h0M1265 589h0M1264 611h0M1257 591h0M1268 611h0M1247 630h0M1255 580h0M1254 635h0M1271 633h0M1259 622h0M1254 617h0M1271 616h0M1257 568h0M1264 619h0M1251 631h0M1250 630h0M1274 616h0M1263 590h0M1271 623h0M1254 598h0M1257 614h0M1270 575h0M1272 634h0M1255 629h0M1269 623h0M1257 631h0M1266 576h0M1253 634h0M1261 590h0M1265 563h0M1258 635h0M1251 604h0M1260 630h0M1276 628h0M1262 592h0M1260 588h0M1260 631h0M1261 631h0M1261 620h0M1274 634h0M1266 569h0M1272 572h0M1260 635h0M1261 633h0M1261 626h0M1266 615h0M1259 578h0M1264 578h0M1267 571h0M1267 632h0M1267 630h0M1259 627h0M1268 630h0M1260 627h0M1261 581h0M1266 613h0M1262 630h0M1262 602h0M1263 633h0M1277 577h0M1274 600h0M1268 570h0M1256 632h0M1258 621h0M1269 563h0M1267 621h0M1267 635h0M1255 570h0M1263 619h0M1274 585h0M1260 631h0M1267 577h0M1276 579h0M1269 634h0M1256 587h0M1249 621h0M1258 623h0M1266 598h0M1269 606h0M1257 605h0M1251 615h0M1268 593h0M1274 564h0M1253 605h0M1267 629h0M1262 607h0M1256 629h0M1265 577h0M1265 605h0M1262 610h0M1265 626h0M1272 602h0M1261 586h0M1255 629h0M1260 580h0M1258 576h0M1267 590h0M1252 574h0M1261 604h0M1248 592h0M1263 633h0M1268 568h0M1270 611h0M1264 565h0M1265 570h0M1263 604h0M1268 582h0M1256 631h0M1258 634h0M1262 585h0M1261 634h0M1269 629h0M1267 620h0M1290 643h0M1290 658h0M1293 652h0M1310 645h0M1286 662h0M1256 664h0M1282 659h0M1298 646h0M1306 655h0M1305 665h0M1266 649h0M1304 630h0M1277 663h0M1280 653h0M1285 664h0M1291 641h0M1288 622h0M1298 668h0M1305 634h0M1320 637h0M1284 664h0M1304 629h0M1297 655h0M1308 650h0M1295 644h0M1317 651h0M1292 648h0M1291 652h0M1302 631h0M1291 622h0M1284 654h0M1301 660h0M1285 643h0M1294 652h0M1277 646h0M1317 658h0M1286 634h0M1305 651h0M1304 641h0M1287 662h0M1297 642h0M1296 635h0M1272 629h0M1284 657h0M1299 635h0M1292 648h0M1312 645h0M1294 645h0M1301 652h0M1296 627h0M1313 647h0M1304 645h0M1286 656h0M1296 647h0M1310 654h0M1304 657h0M1331 659h0M1288 641h0M1279 646h0M1287 653h0M1258 643h0M1281 655h0M1320 654h0M1305 642h0M1322 647h0M1293 652h0M1301 659h0M1299 644h0M1312 651h0M1292 644h0M1280 631h0M1288 654h0M1314 658h0M1290 610h0M1324 644h0M1300 647h0M1291 670h0M1289 637h0M1296 659h0M1298 638h0M1287 657h0M1324 664h0M1319 634h0M1328 642h0M1288 638h0M1323 643h0M1296 650h0M1311 656h0M1275 657h0M1295 659h0M1308 641h0M1306 658h0M1325 644h0M1294 674h0M1278 651h0M1300 648h0M1294 639h0M1288 641h0M1283 656h0M1286 664h0M1296 647h0M1290 657h0M1324 666h0M1304 653h0M1329 636h0M1295 672h0M1287 653h0M1278 641h0M1288 637h0M1292 647h0M1301 653h0M1307 654h0M1304 651h0M1280 649h0M1276 656h0M1298 650h0M1335 641h0M1309 664h0M1320 637h0M1299 637h0M1301 663h0M1293 650h0M1301 656h0M1284 644h0M1289 644h0M1287 669h0M1308 654h0M1309 639h0M1299 645h0M1320 655h0M1288 652h0M1285 662h0M1305 657h0M1292 676h0M1313 632h0M1312 657h0M1297 644h0M1293 664h0M1298 660h0M1304 642h0M1288 654h0M1287 646h0M1297 650h0M1287 652h0M1291 672h0M1271 658h0M1277 651h0M1300 640h0M1283 653h0M1314 636h0M1344 616h0M1301 598h0M1256 568h0M1202 624h0M1253 618h0M1300 671h0M1315 619h0M1287 606h0M1323 599h0M1199 647h0M1235 639h0M1229 547h0M1222 604h0M1272 673h0M1326 547h0M1213 653h0M1268 663h0M1272 631h0M1277 630h0M1254 629h0M1280 635h0M1273 635h0M1230 658h0M1271 636h0M1237 693h0M1228 664h0M1275 636h0M1233 654h0M1259 631h0M1228 664h0M1232 654h0M1271 653h0M1267 630h0M1270 657h0M1230 663h0M1248 638h0M1249 637h0M1243 641h0M1270 655h0M1228 677h0M1255 632h0M1272 648h0M1271 652h0M1259 672h0M1231 649h0M1266 664h0M1258 630h0M1268 660h0M1265 629h0M1232 653h0M1248 683h0M1268 659h0M1242 686h0M1256 629h0M1261 675h0M1243 640h0M1229 694h0M1231 659h0M1229 654h0M1276 634h0M1244 686h0M1231 683h0M1260 628h0M1228 680h0M1261 629h0M1275 647h0M1254 630h0M1277 629h0M1251 685h0M1269 657h0M1273 637h0M1276 633h0M1244 641h0M1254 677h0M1259 675h0M1269 629h0M1258 678h0M1228 671h0M1249 635h0M1240 644h0M1257 676h0M1245 639h0M1251 632h0M1278 636h0M1236 650h0M1279 643h0M1226 666h0M1280 648h0M1230 657h0M1273 636h0M1272 654h0M1275 624h0M1239 639h0M1268 631h0M1274 650h0M1270 659h0M1236 687h0M1262 629h0M1267 660h0M1255 677h0M1272 637h0M1239 647h0M1261 674h0M1227 676h0M1239 687h0M1274 645h0M1227 666h0M1268 631h0M1224 680h0M1259 677h0M1252 633h0M1264 628h0M1238 688h0M1265 625h0M1229 656h0M1254 633h0M1229 681h0M1232 687h0M1273 644h0M1271 633h0M1264 665h0M1237 686h0M1258 674h0M1268 659h0M1259 676h0M1262 629h0M1228 679h0M1226 677h0M1265 669h0M1271 649h0M1271 634h0M1227 662h0M1257 628h0M1274 646h0M1272 639h0M1239 687h0M1234 648h0M1252 681h0M1258 673h0M1268 624h0M1272 646h0M1264 665h0M1233 691h0M1274 646h0M1277 635h0M1261 674h0M1258 674h0M1263 622h0M1227 686h0M1281 626h0M1230 658h0M1275 625h0M1271 656h0M1255 630h0M1231 657h0M1240 642h0M1263 672h0M1259 674h0M1266 630h0M1250 682h0M1264 630h0M1272 626h0M1263 622h0M1255 676h0M1269 630h0M1271 649h0M1272 652h0M1227 675h0M1273 637h0M1229 661h0M1265 628h0M1260 672h0M1255 677h0M1267 660h0M1223 681h0M1271 652h0" stroke="#c9cb3a" stroke-opacity=".42" stroke-width="1.7" stroke-linecap="square"/><g transform="translate(625.2 328.8) rotate(35.0)"><ellipse rx="8.0" ry="16.3" fill="#ecedbc" stroke="#fff" stroke-width=".9" stroke-opacity=".85"/><ellipse rx="8.6" ry="16.9" fill="none" stroke="#cfd15a" stroke-width=".5" stroke-opacity=".8"/><ellipse rx="4.96" ry="13.04" fill="url(#R2)"/><ellipse rx="6.86" ry="13.97" fill="none" stroke="#fff" stroke-width=".3" stroke-opacity=".55"/><ellipse rx="5.71" ry="11.64" fill="none" stroke="#fff" stroke-width=".3" stroke-opacity=".55"/><ellipse rx="4.57" ry="9.31" fill="none" stroke="#fff" stroke-width=".3" stroke-opacity=".55"/><ellipse rx="3.43" ry="6.99" fill="none" stroke="#fff" stroke-width=".3" stroke-opacity=".55"/><ellipse rx="2.29" ry="4.66" fill="none" stroke="#fff" stroke-width=".3" stroke-opacity=".55"/><ellipse rx="1.14" ry="2.33" fill="none" stroke="#fff" stroke-width=".3" stroke-opacity=".55"/><ellipse rx="0.56" ry="4.89" fill="#fff" fill-opacity=".55"/></g><rect x="593.4" y="265.4" width="91.0" height="91.6" fill="none" stroke="#999999" stroke-width="1"/><line x1="638.6" y1="265.4" x2="638.6" y2="357.0" stroke="#444" stroke-width="1"/><line x1="593.4" y1="308.5" x2="684.4" y2="308.5" stroke="#333333" stroke-width="1"/><text x="596.0" y="274.8" font-size="8.60" text-anchor="start" fill="#3a3a3a" font-weight="normal" stroke="#3a3a3a" stroke-width=".1" letter-spacing=".45"><tspan dx="-1.00">1</tspan><tspan dx="-0.90">.</tspan>24</text><text x="681.9" y="274.8" font-size="8.60" text-anchor="end" fill="#3a3a3a" font-weight="normal" stroke="#3a3a3a" stroke-width=".1" letter-spacing=".45">0.22</text><text x="596.0" y="353.8" font-size="8.60" text-anchor="start" fill="#3a3a3a" font-weight="normal" stroke="#3a3a3a" stroke-width=".1" letter-spacing=".45">95.6</text><text x="681.9" y="353.8" font-size="8.60" text-anchor="end" fill="#3a3a3a" font-weight="normal" stroke="#3a3a3a" stroke-width=".1" letter-spacing=".45">2.95</text><text transform="translate(36.8 356.4) rotate(-90)" font-size="8.6" fill="#3a3a3a">IFNγ-BV650</text><line x1="33.5" y1="302.8" x2="33.5" y2="267.9" stroke="#4a6385" stroke-width="1"/><path d="M33.5 265.8l-1.7 3.6h3.4z" fill="#4a6385"/><text x="44.9" y="368.6" font-size="8.20" text-anchor="start" fill="#3a3a3a" font-weight="normal" stroke="#3a3a3a" stroke-width=".1" >IL-4 BV421</text><line x1="89.0" y1="366.0" x2="332" y2="366.0" stroke="#4a6385" stroke-width="1"/><path d="M335 366.0l-3.6 -1.7v3.4z" fill="#4a6385"/><text transform="translate(387.5 356.2) rotate(-90)" font-size="8.05" fill="#3a3a3a">IL-17A BV421</text><line x1="384.5" y1="302.8" x2="384.5" y2="267.9" stroke="#4a6385" stroke-width="1"/><path d="M384.5 265.8l-1.7 3.6h3.4z" fill="#4a6385"/><text x="396.0" y="368.6" font-size="8.60" text-anchor="start" fill="#3a3a3a" font-weight="normal" stroke="#3a3a3a" stroke-width=".1" >IFNγ AF488</text><line x1="447.7" y1="366.0" x2="681" y2="366.0" stroke="#4a6385" stroke-width="1"/><path d="M684.5 366.0l-3.6 -1.7v3.4z" fill="#4a6385"/><text x="-0.3" y="383.7" font-size="12.50" text-anchor="start" fill="#000" font-weight="bold" >d</text><text x="349.6" y="383.7" font-size="12.50" text-anchor="start" fill="#000" font-weight="bold" >j</text><text x="0.0" y="436.2" font-size="8.20" text-anchor="start" fill="#3a3a3a" font-weight="normal" stroke="#3a3a3a" stroke-width=".1" letter-spacing="0.00">TOFA</text><text x="349.3" y="436.2" font-size="8.20" text-anchor="start" fill="#3a3a3a" font-weight="normal" stroke="#3a3a3a" stroke-width=".1" letter-spacing="0.00">TOFA</text><text x="0.0" y="446.5" font-size="8.20" text-anchor="start" fill="#3a3a3a" font-weight="normal" stroke="#3a3a3a" stroke-width=".1" letter-spacing="0.00">1 µM</text><text x="349.3" y="446.5" font-size="8.20" text-anchor="start" fill="#3a3a3a" font-weight="normal" stroke="#3a3a3a" stroke-width=".1" letter-spacing="0.00">1 µM</text><text x="89.9" y="386.8" font-size="8.90" text-anchor="middle" fill="#3a3a3a">Con</text><path transform="scale(.5)" d="M147 870h0M148 821h0M153 823h0M144 873h0M141 889h0M159 871h0M138 847h0M136 876h0M134 820h0M139 850h0M140 853h0M165 830h0M149 881h0M164 843h0M149 877h0M144 871h0M149 834h0M149 840h0M134 872h0M166 840h0M130 858h0M132 888h0M150 854h0M155 892h0M152 825h0M150 853h0M156 832h0M152 847h0M132 794h0M170 844h0M135 872h0M138 841h0M139 838h0M148 873h0M162 845h0M157 854h0M138 860h0M121 848h0M125 845h0M148 848h0M149 838h0M126 878h0M143 880h0M139 858h0M149 861h0M168 828h0M142 872h0M153 866h0M146 864h0M154 861h0M143 845h0M144 874h0M146 863h0M154 867h0M147 849h0M147 849h0M127 850h0M163 852h0M145 869h0M149 844h0M117 885h0M133 882h0M151 850h0M147 857h0M138 881h0M151 849h0M136 840h0M153 867h0M130 896h0M152 853h0M124 848h0M142 856h0M144 846h0M142 854h0M155 833h0M168 812h0M113 856h0M139 848h0M125 851h0M146 870h0M135 827h0M138 840h0M145 840h0M142 846h0M140 852h0M163 847h0M142 860h0M148 880h0M151 877h0M129 877h0M159 857h0M129 844h0M138 883h0M139 884h0M134 888h0M132 870h0M135 851h0M127 854h0M149 841h0M134 839h0M138 840h0M135 891h0M156 872h0M146 850h0M149 842h0M127 864h0M123 854h0M139 854h0M145 882h0M145 845h0M133 849h0M125 834h0M137 875h0M155 870h0M147 837h0M139 874h0M161 850h0M144 868h0M157 864h0M119 852h0M138 897h0M165 831h0M152 852h0M145 862h0M161 881h0M152 853h0M157 848h0M155 862h0M133 857h0M132 850h0M144 845h0M141 852h0M160 833h0M136 890h0M138 851h0M142 854h0M133 867h0M149 853h0M142 867h0M148 870h0M162 860h0M149 865h0M142 846h0M142 833h0M164 861h0M128 869h0M147 870h0M152 855h0M141 863h0M129 851h0M152 862h0M133 854h0M151 888h0M146 862h0M138 840h0M147 859h0M143 879h0M150 875h0M136 843h0M145 868h0M166 825h0M147 839h0M125 836h0M129 880h0M157 875h0M134 851h0M138 864h0M129 867h0M158 863h0M146 852h0M143 868h0M136 861h0M131 860h0M143 839h0M168 851h0M158 844h0M169 821h0M145 832h0M160 847h0M144 866h0M137 862h0M126 849h0M156 838h0M141 862h0M146 850h0M124 847h0M137 862h0M141 856h0M151 851h0M148 876h0M134 886h0M139 868h0M154 852h0M159 854h0M161 865h0M136 849h0M159 833h0M114 864h0M131 864h0M133 846h0M148 847h0M135 868h0M139 867h0M155 860h0M132 851h0M154 881h0M160 871h0M141 854h0M142 855h0M149 850h0M141 869h0M148 853h0M133 880h0M148 871h0M143 864h0M139 861h0M145 879h0M154 849h0M150 849h0M140 832h0M152 849h0M147 871h0M148 845h0M145 833h0M130 876h0M141 884h0M159 843h0M148 829h0M141 825h0M138 853h0M138 849h0M155 840h0M164 853h0M153 869h0M139 842h0M139 868h0M159 885h0M149 870h0M135 854h0M140 879h0M139 841h0M161 848h0M155 863h0M107 854h0M134 880h0M155 861h0M149 862h0M141 857h0M129 889h0M134 861h0M150 839h0M146 853h0M168 826h0M145 849h0M154 880h0M143 864h0M156 863h0M137 832h0M153 840h0M154 852h0M188 857h0M110 856h0M158 853h0M178 892h0M148 920h0M186 844h0M183 883h0M167 917h0M178 886h0M185 878h0M152 879h0M158 889h0M137 924h0M124 905h0M125 897h0M157 889h0M156 873h0M129 916h0M160 920h0M118 915h0M165 876h0M133 922h0M117 911h0M148 883h0M144 930h0M134 924h0M124 908h0M124 898h0M157 919h0M157 917h0M123 904h0M140 882h0M161 894h0M158 922h0M135 871h0M141 928h0M124 903h0M124 929h0M154 921h0M150 920h0M128 879h0M150 923h0M156 916h0M143 930h0M122 905h0M121 907h0M139 878h0M119 901h0M137 925h0M124 904h0M149 875h0M143 881h0M120 901h0M115 914h0M152 878h0M125 924h0M164 920h0M137 921h0M156 916h0M169 908h0M160 880h0M159 915h0M147 882h0M150 928h0M127 913h0M142 879h0M155 926h0M159 870h0M145 924h0M127 888h0M129 887h0M133 926h0M120 893h0M122 906h0M168 925h0M162 908h0M162 889h0M162 909h0M103 905h0M118 907h0M128 923h0M125 895h0M144 882h0M143 928h0M127 893h0M151 865h0M131 885h0M161 907h0M138 882h0M143 932h0M154 883h0M140 881h0M160 880h0M112 882h0M139 880h0M121 893h0M140 879h0M144 931h0M132 886h0M140 925h0M130 928h0M135 926h0M147 932h0M133 882h0M152 920h0M133 930h0M163 880h0M165 899h0M124 909h0M153 921h0M138 922h0M133 885h0M118 908h0M131 932h0M119 902h0M155 919h0M137 882h0M117 906h0M164 910h0M122 882h0M141 872h0M159 889h0M168 892h0M154 872h0M157 921h0M125 931h0M123 908h0M117 930h0M161 903h0M157 914h0M144 882h0M174 901h0M130 920h0M126 918h0M120 914h0M161 891h0M137 878h0M126 915h0M131 884h0M136 871h0M117 899h0M156 915h0M156 874h0M125 918h0M155 882h0M152 924h0M163 915h0M160 910h0M137 926h0M138 922h0M122 888h0M158 931h0M152 883h0M122 895h0M126 913h0M133 920h0M125 911h0M133 885h0M142 874h0M122 893h0M123 913h0M141 874h0M158 917h0M125 893h0M149 921h0M136 875h0M138 926h0M157 884h0M112 880h0M152 929h0M153 881h0M144 929h0M154 929h0M136 881h0M151 876h0M136 876h0M122 920h0M132 883h0M123 906h0M146 877h0M123 910h0M168 902h0M166 917h0M153 921h0M137 883h0M152 919h0M171 893h0M124 916h0M137 922h0M160 910h0M156 886h0M127 915h0M150 929h0M141 923h0M123 873h0M131 924h0M145 879h0M107 901h0M123 894h0M163 903h0M132 880h0M161 892h0M121 894h0M143 878h0M116 891h0M127 918h0M140 878h0M130 932h0M141 877h0M158 883h0M137 881h0M140 929h0M120 886h0M164 907h0M144 878h0M140 870h0M125 878h0M126 927h0M158 885h0M151 868h0M161 895h0M161 906h0M115 897h0M119 904h0M118 906h0M129 925h0M129 884h0M165 890h0M126 868h0M136 924h0M122 904h0M163 907h0M164 925h0M140 877h0M133 883h0M129 888h0M167 905h0M122 888h0M156 920h0M141 924h0M159 917h0M136 926h0M136 879h0M152 880h0M127 922h0M159 912h0M121 911h0M162 908h0M160 918h0M156 882h0M126 887h0M144 932h0M128 891h0M123 920h0M123 900h0M132 875h0M129 920h0M157 917h0M165 917h0M121 901h0M166 901h0M161 899h0M123 913h0M136 879h0M139 924h0M167 906h0M139 924h0M162 899h0M143 924h0M165 909h0M159 886h0M162 906h0M121 903h0M148 882h0M151 880h0M137 927h0M124 916h0M145 932h0M140 940h0M136 924h0M130 922h0M122 902h0M163 891h0M164 896h0M124 892h0M124 882h0M160 931h0M155 916h0M121 918h0M140 926h0M119 909h0M129 925h0M166 913h0M118 919h0M147 925h0M158 883h0M163 888h0M162 922h0M151 924h0M121 901h0M148 873h0M136 926h0M123 897h0M163 902h0M159 883h0M183 905h0M144 925h0M163 901h0M172 903h0M132 881h0M129 918h0M127 876h0M125 910h0M146 882h0M126 891h0M130 922h0M146 880h0M130 925h0M134 875h0M161 913h0M138 929h0M156 887h0M161 888h0M123 899h0M159 918h0M155 921h0M123 910h0M174 896h0M159 920h0M147 869h0M121 919h0M147 927h0M158 916h0M163 910h0M144 927h0M162 890h0M117 882h0M148 875h0M121 889h0M116 894h0M133 930h0M161 897h0M151 932h0M154 924h0M131 919h0M145 927h0M168 892h0M155 918h0M115 890h0M132 921h0M166 890h0M129 922h0M132 885h0M153 882h0M153 884h0M169 922h0M167 890h0M105 900h0M155 925h0M150 931h0M145 878h0M128 916h0M136 884h0M160 882h0M139 929h0M116 905h0M150 883h0M166 911h0M164 888h0M122 899h0M134 878h0M132 921h0M164 913h0M135 871h0M162 888h0M161 880h0M152 922h0M120 909h0M134 882h0M143 881h0M160 882h0M164 912h0M133 880h0M155 882h0M166 890h0M132 883h0M131 878h0M135 879h0M150 932h0M160 915h0M149 923h0M126 887h0M166 904h0M130 918h0M155 923h0M136 881h0M142 928h0M138 880h0M162 912h0M116 894h0M123 887h0M135 877h0M160 913h0M160 884h0M155 918h0M139 877h0M121 930h0M154 918h0M124 889h0M134 921h0" stroke="#72bf52" stroke-opacity=".42" stroke-width="1.7" stroke-linecap="square"/><g transform="translate(73.5 435.0)"><ellipse rx="6.00" ry="7.00" fill="#fff" fill-opacity=".85" stroke="#8fcd72" stroke-width=".6" stroke-opacity=".9"/><ellipse cy="0.88" rx="4.50" ry="5.25" fill="none" stroke="#8fcd72" stroke-width=".45" stroke-opacity=".7"/><ellipse cy="1.75" rx="3.00" ry="3.50" fill="none" stroke="#8fcd72" stroke-width=".45" stroke-opacity=".7"/><ellipse cy="2.62" rx="1.50" ry="1.75" fill="none" stroke="#8fcd72" stroke-width=".45" stroke-opacity=".7"/></g><g transform="translate(71.3 451.0) rotate(20.0)"><ellipse rx="9.5" ry="10.5" fill="url(#g10)" stroke="#8fcd72" stroke-width=".6" stroke-opacity=".8"/><ellipse cx="0.00" cy="0.00" rx="7.92" ry="8.75" fill="none" stroke="#fff" stroke-width=".4" stroke-opacity=".6"/><ellipse cx="0.00" cy="0.00" rx="6.33" ry="7.00" fill="none" stroke="#fff" stroke-width=".4" stroke-opacity=".6"/><ellipse cx="0.00" cy="0.00" rx="4.75" ry="5.25" fill="none" stroke="#fff" stroke-width=".4" stroke-opacity=".6"/><ellipse cx="0.00" cy="0.00" rx="3.17" ry="3.50" fill="none" stroke="#fff" stroke-width=".4" stroke-opacity=".6"/><ellipse cx="0.00" cy="0.00" rx="1.58" ry="1.75" fill="none" stroke="#fff" stroke-width=".4" stroke-opacity=".6"/><ellipse cx="0.00" cy="0.00" rx="0.95" ry="2.31" fill="#fff" fill-opacity=".75"/></g><rect x="44.5" y="390.5" width="90.8" height="90.9" fill="none" stroke="#999999" stroke-width="1"/><line x1="82.4" y1="390.5" x2="82.4" y2="481.4" stroke="#444" stroke-width="1"/><line x1="44.5" y1="441.5" x2="135.3" y2="441.5" stroke="#333333" stroke-width="1"/><text x="46.8" y="400.8" font-size="8.60" text-anchor="start" fill="#3a3a3a" font-weight="normal" stroke="#3a3a3a" stroke-width=".1" letter-spacing=".45"><tspan dx="-1.00">1</tspan><tspan dx="-0.90">7</tspan>.8</text><text x="46.8" y="478.8" font-size="8.60" text-anchor="start" fill="#3a3a3a" font-weight="normal" stroke="#3a3a3a" stroke-width=".1" letter-spacing=".45">8<tspan dx="-0.60">1</tspan><tspan dx="-0.90">.</tspan>3</text><text x="190.6" y="386.8" font-size="8.90" text-anchor="middle" fill="#3a3a3a">IPA100</text><path transform="scale(.5)" d="M346 876h0M345 882h0M326 855h0M356 866h0M336 846h0M348 864h0M359 835h0M369 824h0M347 857h0M328 854h0M323 847h0M347 873h0M334 871h0M368 863h0M334 858h0M336 825h0M366 856h0M347 849h0M363 827h0M345 845h0M345 865h0M327 860h0M336 847h0M339 848h0M340 877h0M343 860h0M352 838h0M353 845h0M331 872h0M363 891h0M365 814h0M361 834h0M337 855h0M347 837h0M352 861h0M329 849h0M343 858h0M321 868h0M339 844h0M352 856h0M347 854h0M331 840h0M339 872h0M344 850h0M352 856h0M354 875h0M341 848h0M325 859h0M345 873h0M329 876h0M368 847h0M341 849h0M339 871h0M358 839h0M350 836h0M359 870h0M349 846h0M331 858h0M332 881h0M348 884h0M343 847h0M333 843h0M338 850h0M349 851h0M351 880h0M349 845h0M343 838h0M351 869h0M366 859h0M344 884h0M326 817h0M343 855h0M358 835h0M343 858h0M350 853h0M338 855h0M353 857h0M314 842h0M348 845h0M346 873h0M340 832h0M336 840h0M352 861h0M350 838h0M330 835h0M329 860h0M337 864h0M351 885h0M341 855h0M348 882h0M362 856h0M326 872h0M361 852h0M339 854h0M332 888h0M331 871h0M366 872h0M357 836h0M318 855h0M348 843h0M344 860h0M326 862h0M339 871h0M338 852h0M347 882h0M353 879h0M335 819h0M334 864h0M348 862h0M366 878h0M340 853h0M337 881h0M361 855h0M356 851h0M376 854h0M349 839h0M323 852h0M350 866h0M325 837h0M337 876h0M323 859h0M348 845h0M344 853h0M341 854h0M338 864h0M336 834h0M314 836h0M349 869h0M348 852h0M338 851h0M353 812h0M342 834h0M335 849h0M360 847h0M358 872h0M355 856h0M327 868h0M331 856h0M339 842h0M358 887h0M365 800h0M336 840h0M345 851h0M352 883h0M341 833h0M362 874h0M346 853h0M350 861h0M329 857h0M346 840h0M335 855h0M334 853h0M340 854h0M333 829h0M332 852h0M334 854h0M336 841h0M328 837h0M332 854h0M355 854h0M343 832h0M349 873h0M325 874h0M348 843h0M353 840h0M328 845h0M338 856h0M343 862h0M338 878h0M336 877h0M344 848h0M322 838h0M348 836h0M329 849h0M355 862h0M344 862h0M332 858h0M327 851h0M335 838h0M350 859h0M334 843h0M338 862h0M328 844h0M329 872h0M326 834h0M342 897h0M351 825h0M366 846h0M362 857h0M351 854h0M342 851h0M315 863h0M344 910h0M362 832h0M355 892h0M317 894h0M352 836h0M320 839h0M343 836h0M338 863h0M346 839h0M345 838h0M333 864h0M341 852h0M356 813h0M342 873h0M347 854h0M345 838h0M332 877h0M337 826h0M342 830h0M344 847h0M353 844h0M367 862h0M329 823h0M343 867h0M336 857h0M343 878h0M333 839h0M324 855h0M334 834h0M338 849h0M342 854h0M333 855h0M343 850h0M353 866h0M363 881h0M336 840h0M327 823h0M348 834h0M326 841h0M349 854h0M363 873h0M345 871h0M342 847h0M356 834h0M337 844h0M350 835h0M340 861h0M346 838h0M323 853h0M332 853h0M351 851h0M331 856h0M340 831h0M306 837h0M336 836h0M362 861h0M339 847h0M342 864h0M340 853h0M315 859h0M329 860h0M333 845h0M356 854h0M339 832h0M343 868h0M339 850h0M340 845h0M348 862h0M339 859h0M359 879h0M358 853h0M336 863h0M342 843h0M339 820h0M346 843h0M348 807h0M319 853h0M340 857h0M354 856h0M348 853h0M346 870h0M363 855h0M337 840h0M343 856h0M333 825h0M368 850h0M350 844h0M352 853h0M364 894h0M342 857h0M340 840h0M344 868h0M341 855h0M354 844h0M339 833h0M355 861h0M355 859h0M354 839h0M332 853h0M333 843h0M341 883h0M348 865h0M327 868h0M334 846h0M323 867h0M363 847h0M345 872h0M321 854h0M381 849h0M365 896h0M358 895h0M313 864h0M313 910h0M343 858h0M354 827h0M317 907h0M325 864h0M325 916h0M327 888h0M335 882h0M365 880h0M328 887h0M318 892h0M332 883h0M337 929h0M341 924h0M318 881h0M370 911h0M348 924h0M331 882h0M362 906h0M356 885h0M311 897h0M358 881h0M333 876h0M342 876h0M357 888h0M312 901h0M359 918h0M343 930h0M357 917h0M361 887h0M351 925h0M327 885h0M349 870h0M365 929h0M360 912h0M321 904h0M358 886h0M326 883h0M363 901h0M363 895h0M326 916h0M329 927h0M361 922h0M372 910h0M328 932h0M327 888h0M373 887h0M335 877h0M331 933h0M369 906h0M352 882h0M321 904h0M377 909h0M367 903h0M311 897h0M320 912h0M352 870h0M359 924h0M357 888h0M329 878h0M365 883h0M343 928h0M319 902h0M319 903h0M349 923h0M315 912h0M360 892h0M319 899h0M348 929h0M323 931h0M328 920h0M318 906h0M333 881h0M325 883h0M322 915h0M353 880h0M319 934h0M363 886h0M348 925h0M331 878h0M369 910h0M360 914h0M339 926h0M327 876h0M359 916h0M361 912h0M350 881h0M330 926h0M320 906h0M370 896h0M350 876h0M353 872h0M321 912h0M346 923h0M337 883h0M315 915h0M358 887h0M328 878h0M344 930h0M333 864h0M342 926h0M358 878h0M315 883h0M327 886h0M367 896h0M313 914h0M352 885h0M353 932h0M329 881h0M358 923h0M361 933h0M343 934h0M318 895h0M372 894h0M376 908h0M323 915h0M365 901h0M328 924h0M314 901h0M355 932h0M338 925h0M361 915h0M341 924h0M315 894h0M324 888h0M340 925h0M326 883h0M358 923h0M356 881h0M363 905h0M348 933h0M332 922h0M368 909h0M360 926h0M336 924h0M318 905h0M368 912h0M331 885h0M324 919h0M313 907h0M356 869h0M329 874h0M360 917h0M322 914h0M367 906h0M366 909h0M359 888h0M362 894h0M341 929h0M325 918h0M324 912h0M365 907h0M361 894h0M369 897h0M339 881h0M318 904h0M336 873h0M326 918h0M366 918h0M356 886h0M349 926h0M341 871h0M360 912h0M362 911h0M354 876h0M324 912h0M358 888h0M345 878h0M325 889h0M360 882h0M342 928h0M334 940h0M318 910h0M318 889h0M321 915h0M330 884h0M339 881h0M338 878h0M346 939h0M318 907h0M366 915h0M335 926h0M319 904h0M317 910h0M339 882h0M329 887h0M362 936h0M349 877h0M319 894h0M356 884h0M324 917h0M328 885h0M364 906h0M357 922h0M322 896h0M325 884h0M324 895h0M364 895h0M345 929h0M351 876h0M352 922h0M344 924h0M339 931h0M366 892h0M326 886h0M333 922h0M317 900h0M316 911h0M332 929h0M354 921h0M363 920h0M359 891h0M356 882h0M360 887h0M373 911h0M366 921h0M358 922h0M313 900h0M365 890h0M364 910h0M329 887h0M370 899h0M309 906h0M331 884h0M369 894h0M324 873h0M358 884h0M368 885h0M363 907h0M359 881h0M363 898h0M352 921h0M346 878h0M370 913h0M316 924h0M315 900h0M340 882h0M307 894h0M317 902h0M330 927h0M332 921h0M353 931h0M357 881h0M371 923h0M321 896h0M360 916h0M320 906h0M317 884h0M356 888h0M315 899h0M321 891h0M365 926h0M335 926h0M368 880h0M326 917h0M341 878h0M363 918h0M360 918h0M376 902h0M343 881h0M326 884h0M340 935h0M362 916h0M373 905h0M321 916h0M352 880h0M313 896h0M322 916h0M363 885h0M361 888h0M363 907h0M363 889h0M327 922h0M358 920h0M328 928h0M358 927h0M323 891h0M335 924h0M321 919h0M341 873h0M341 881h0M352 925h0M316 888h0M367 887h0M326 931h0M318 903h0M364 909h0M351 934h0M346 876h0M311 902h0M334 928h0M358 887h0M332 921h0M329 923h0M331 925h0M342 876h0M339 928h0M334 880h0M352 870h0M340 883h0M360 888h0M345 935h0M362 910h0M367 909h0M325 882h0M349 930h0M353 885h0M362 878h0M355 926h0M322 898h0M322 907h0M359 925h0M363 908h0M357 888h0M353 931h0M353 871h0M362 898h0M318 923h0M351 884h0M358 917h0M316 902h0M358 890h0M359 887h0M347 924h0M363 891h0M325 915h0M339 924h0M352 870h0M314 908h0M360 915h0M367 898h0M370 909h0M322 890h0M366 895h0M341 882h0M360 920h0M357 872h0M325 920h0M363 889h0M364 916h0M353 923h0M348 927h0M350 926h0M323 914h0M317 911h0M332 883h0M357 881h0M348 936h0M320 909h0M325 921h0M342 936h0M319 923h0M333 925h0M334 937h0M346 880h0M319 917h0M354 927h0M319 890h0M342 882h0M338 881h0M317 907h0M328 923h0M315 901h0M367 900h0M327 886h0M333 885h0M367 908h0M364 899h0M365 903h0M369 903h0M342 927h0M364 899h0M336 883h0M315 929h0M313 902h0M373 902h0M353 882h0M324 889h0M334 883h0M367 913h0M348 925h0M364 884h0M366 917h0M360 889h0M354 886h0M366 918h0M335 935h0M366 885h0M344 875h0M347 882h0M322 924h0M320 896h0M325 922h0M321 883h0M315 921h0M322 908h0M333 885h0M318 906h0M329 884h0M365 913h0M341 877h0M335 931h0M354 929h0M362 904h0M320 904h0M354 885h0" stroke="#3b86d6" stroke-opacity=".42" stroke-width="1.7" stroke-linecap="square"/><g transform="translate(173.8 436.2)"><ellipse rx="5.80" ry="6.80" fill="#fff" fill-opacity=".85" stroke="#6ea7e4" stroke-width=".6" stroke-opacity=".9"/><ellipse cy="0.85" rx="4.35" ry="5.10" fill="none" stroke="#6ea7e4" stroke-width=".45" stroke-opacity=".7"/><ellipse cy="1.70" rx="2.90" ry="3.40" fill="none" stroke="#6ea7e4" stroke-width=".45" stroke-opacity=".7"/><ellipse cy="2.55" rx="1.45" ry="1.70" fill="none" stroke="#6ea7e4" stroke-width=".45" stroke-opacity=".7"/></g><g transform="translate(171.0 451.5) rotate(20.0)"><ellipse rx="10.5" ry="10.5" fill="url(#g11)" stroke="#6ea7e4" stroke-width=".6" stroke-opacity=".8"/><ellipse cx="0.00" cy="0.00" rx="8.75" ry="8.75" fill="none" stroke="#fff" stroke-width=".4" stroke-opacity=".6"/><ellipse cx="0.00" cy="0.00" rx="7.00" ry="7.00" fill="none" stroke="#fff" stroke-width=".4" stroke-opacity=".6"/><ellipse cx="0.00" cy="0.00" rx="5.25" ry="5.25" fill="none" stroke="#fff" stroke-width=".4" stroke-opacity=".6"/><ellipse cx="0.00" cy="0.00" rx="3.50" ry="3.50" fill="none" stroke="#fff" stroke-width=".4" stroke-opacity=".6"/><ellipse cx="0.00" cy="0.00" rx="1.75" ry="1.75" fill="none" stroke="#fff" stroke-width=".4" stroke-opacity=".6"/><ellipse cx="0.00" cy="0.00" rx="1.05" ry="2.31" fill="#fff" fill-opacity=".75"/></g><rect x="144.8" y="390.5" width="91.5" height="90.9" fill="none" stroke="#999999" stroke-width="1"/><line x1="183.4" y1="390.5" x2="183.4" y2="481.4" stroke="#444" stroke-width="1"/><line x1="144.8" y1="441.6" x2="236.3" y2="441.6" stroke="#333333" stroke-width="1"/><text x="147.1" y="400.8" font-size="8.60" text-anchor="start" fill="#3a3a3a" font-weight="normal" stroke="#3a3a3a" stroke-width=".1" letter-spacing=".45"><tspan dx="-1.00">1</tspan><tspan dx="-0.90">6</tspan>.3</text><text x="147.1" y="478.8" font-size="8.60" text-anchor="start" fill="#3a3a3a" font-weight="normal" stroke="#3a3a3a" stroke-width=".1" letter-spacing=".45">83.5</text><text x="289.9" y="386.8" font-size="8.90" text-anchor="middle" fill="#3a3a3a">IPA1000</text><path transform="scale(.5)" d="M559 841h0M530 836h0M550 863h0M522 862h0M541 851h0M558 853h0M559 842h0M547 851h0M545 839h0M550 851h0M535 870h0M556 865h0M536 850h0M547 842h0M529 859h0M545 837h0M544 873h0M560 845h0M522 889h0M537 907h0M557 877h0M539 856h0M531 845h0M567 830h0M544 863h0M541 845h0M532 871h0M535 845h0M551 849h0M550 847h0M553 833h0M559 861h0M530 868h0M563 866h0M556 870h0M547 859h0M570 849h0M543 839h0M552 855h0M547 854h0M551 864h0M554 835h0M555 859h0M569 870h0M543 870h0M549 865h0M526 835h0M550 860h0M531 849h0M538 860h0M560 853h0M554 834h0M539 850h0M549 833h0M524 908h0M545 888h0M553 848h0M547 882h0M552 827h0M554 861h0M542 876h0M558 831h0M552 882h0M537 856h0M567 886h0M546 887h0M538 875h0M538 861h0M542 857h0M541 870h0M537 851h0M550 847h0M543 874h0M540 831h0M535 862h0M552 857h0M533 851h0M547 838h0M568 859h0M539 858h0M538 848h0M546 874h0M533 858h0M561 878h0M551 831h0M549 876h0M537 875h0M541 838h0M549 845h0M555 858h0M539 883h0M533 829h0M530 856h0M539 859h0M546 860h0M536 881h0M544 867h0M553 866h0M563 840h0M556 843h0M545 851h0M546 861h0M560 864h0M551 866h0M553 827h0M556 874h0M541 819h0M551 881h0M536 843h0M567 856h0M546 880h0M562 861h0M553 818h0M548 841h0M540 846h0M538 859h0M548 881h0M553 863h0M554 877h0M539 883h0M546 827h0M532 827h0M558 856h0M562 842h0M546 842h0M533 857h0M536 858h0M519 886h0M536 879h0M554 845h0M532 851h0M540 864h0M535 837h0M549 840h0M545 829h0M543 853h0M536 875h0M551 852h0M538 848h0M545 861h0M530 846h0M551 848h0M540 858h0M554 846h0M550 847h0M542 852h0M556 866h0M548 867h0M521 842h0M548 840h0M542 854h0M551 859h0M538 874h0M550 872h0M539 834h0M555 843h0M541 878h0M528 860h0M552 848h0M519 863h0M559 850h0M545 873h0M568 875h0M542 861h0M545 854h0M544 857h0M541 845h0M549 853h0M545 894h0M544 858h0M554 852h0M548 867h0M564 871h0M550 842h0M549 895h0M541 845h0M543 851h0M546 849h0M548 866h0M541 837h0M536 852h0M552 840h0M545 875h0M551 870h0M550 847h0M542 848h0M530 821h0M539 854h0M534 864h0M535 860h0M547 829h0M548 843h0M528 879h0M553 854h0M525 835h0M545 836h0M561 821h0M536 861h0M552 849h0M549 853h0M550 862h0M543 848h0M540 854h0M544 836h0M532 856h0M555 842h0M552 858h0M528 886h0M536 847h0M544 844h0M521 865h0M539 849h0M552 847h0M531 848h0M544 845h0M534 858h0M533 875h0M557 870h0M549 862h0M544 825h0M511 898h0M528 913h0M559 917h0M550 884h0M540 840h0M568 829h0M545 910h0M527 816h0M541 928h0M528 883h0M563 909h0M561 894h0M563 902h0M545 876h0M519 918h0M546 924h0M528 920h0M553 915h0M559 891h0M529 923h0M548 881h0M526 898h0M536 928h0M553 915h0M565 896h0M569 884h0M538 877h0M520 926h0M557 882h0M556 879h0M518 899h0M554 882h0M536 929h0M548 925h0M562 902h0M526 888h0M567 914h0M520 892h0M553 868h0M560 885h0M522 916h0M545 930h0M570 900h0M525 892h0M517 911h0M526 886h0M562 904h0M523 888h0M561 908h0M530 875h0M562 875h0M520 919h0M522 902h0M565 900h0M515 903h0M560 884h0M562 909h0M559 918h0M540 882h0M553 877h0M524 918h0M520 915h0M564 903h0M521 899h0M525 898h0M539 878h0M550 920h0M518 930h0M553 920h0M537 926h0M560 913h0M559 884h0M522 911h0M517 900h0M548 880h0M524 897h0M530 887h0M521 915h0M539 928h0M561 893h0M529 924h0M521 911h0M547 923h0M564 899h0M515 895h0M527 918h0M565 893h0M529 891h0M531 920h0M560 887h0M547 882h0M558 916h0M529 891h0M518 895h0M535 883h0M558 887h0M536 928h0M552 928h0M525 888h0M530 920h0M561 886h0M559 882h0M555 921h0M548 870h0M521 912h0M566 884h0M550 925h0M539 880h0M523 882h0M534 880h0M557 882h0M559 908h0M561 894h0M528 890h0M521 898h0M548 879h0M559 889h0M564 918h0M524 923h0M552 881h0M573 900h0M567 895h0M558 868h0M521 899h0M530 890h0M528 888h0M536 883h0M544 923h0M526 892h0M561 913h0M571 894h0M517 898h0M525 914h0M528 930h0M565 887h0M568 896h0M547 924h0M539 926h0M538 882h0M537 882h0M547 877h0M524 890h0M521 917h0M560 880h0M567 900h0M522 900h0M560 904h0M524 893h0M538 923h0M522 906h0M521 881h0M550 882h0M569 897h0M562 891h0M541 875h0M548 920h0M524 915h0M548 920h0M523 919h0M562 899h0M554 880h0M557 886h0M563 907h0M524 907h0M524 897h0M535 884h0M527 895h0M525 921h0M563 899h0M558 912h0M570 892h0M566 884h0M535 879h0M527 896h0M560 882h0M521 920h0M516 924h0M538 924h0M519 921h0M555 919h0M567 894h0M534 881h0M542 875h0M533 924h0M554 930h0M528 924h0M564 917h0M520 901h0M522 889h0M569 905h0M523 919h0M523 911h0M518 907h0M556 883h0M561 912h0M555 876h0M550 874h0M542 865h0M571 911h0M517 902h0M558 876h0M560 904h0M522 896h0M547 879h0M533 882h0M532 923h0M541 922h0M519 893h0M525 885h0M510 913h0M532 887h0M537 879h0M545 925h0M554 918h0M521 921h0M537 879h0M566 911h0M575 893h0M565 891h0M556 921h0M518 902h0M561 882h0M538 872h0M530 887h0M546 921h0M545 872h0M528 927h0M526 896h0M564 899h0M548 883h0M561 900h0M521 910h0M561 896h0M521 911h0M524 902h0M554 913h0M562 893h0M517 905h0M559 889h0M536 885h0M518 925h0M548 873h0M523 905h0M524 889h0M526 929h0M552 923h0M562 905h0M524 894h0M561 914h0M565 914h0M565 889h0M563 919h0M533 922h0M521 887h0M540 922h0M557 908h0M532 934h0M566 883h0M573 886h0M521 912h0M544 929h0M553 880h0M574 910h0M515 908h0M574 896h0M556 913h0M518 891h0M551 919h0M548 880h0M566 882h0M527 927h0M548 925h0M561 901h0M539 924h0M526 895h0M523 924h0M517 905h0M554 919h0M566 905h0M565 903h0M515 911h0M530 919h0M544 921h0M558 885h0M562 899h0M531 926h0M536 883h0M548 921h0M532 880h0M550 880h0M532 926h0M556 883h0M556 913h0M558 917h0M548 880h0M551 881h0M556 911h0M559 913h0M551 883h0M545 883h0M523 897h0M537 877h0M558 881h0M523 909h0M563 907h0M541 878h0M520 900h0M554 924h0M542 867h0M548 921h0M541 871h0M564 897h0M556 916h0M525 899h0M561 868h0M518 910h0M562 895h0M553 921h0M518 918h0M555 913h0M528 893h0M524 902h0M540 922h0M534 884h0M517 894h0M559 932h0M549 928h0M546 920h0M518 915h0M522 911h0M536 931h0M561 898h0M544 880h0M524 903h0M535 881h0M560 903h0M561 908h0M541 922h0M537 926h0M532 881h0M528 920h0M535 924h0M539 880h0M526 882h0M518 920h0M557 920h0M566 899h0M552 880h0M534 878h0M547 923h0M536 881h0M520 897h0M554 878h0M564 916h0M515 897h0M551 916h0M553 920h0M521 931h0M533 886h0M518 901h0M524 893h0M563 892h0M520 915h0M560 891h0M553 880h0M563 905h0M553 916h0M562 906h0M560 902h0M538 929h0M522 896h0M536 883h0M541 883h0M564 909h0M556 914h0M565 899h0M536 924h0M515 923h0M568 900h0M560 925h0M514 896h0M523 886h0M536 886h0M539 877h0M566 902h0M552 876h0M524 903h0M522 888h0M531 930h0M555 880h0M554 878h0M555 917h0M549 881h0M560 887h0M569 897h0M565 908h0M534 883h0M556 913h0M572 903h0M564 900h0M558 890h0M541 925h0M525 913h0M561 897h0M528 883h0M560 924h0M555 926h0M522 892h0" stroke="#c9cb3a" stroke-opacity=".42" stroke-width="1.7" stroke-linecap="square"/><g transform="translate(272.5 438.5)"><ellipse rx="4.00" ry="3.50" fill="#fff" fill-opacity=".85" stroke="#cfd15a" stroke-width=".6" stroke-opacity=".9"/><ellipse cy="0.58" rx="2.67" ry="2.33" fill="none" stroke="#cfd15a" stroke-width=".45" stroke-opacity=".7"/><ellipse cy="1.17" rx="1.33" ry="1.17" fill="none" stroke="#cfd15a" stroke-width=".45" stroke-opacity=".7"/></g><g transform="translate(271.0 451.0) rotate(35.0)"><ellipse rx="8.5" ry="11.0" fill="url(#g12)" stroke="#cfd15a" stroke-width=".6" stroke-opacity=".8"/><ellipse cx="0.00" cy="0.00" rx="7.08" ry="9.17" fill="none" stroke="#fff" stroke-width=".4" stroke-opacity=".6"/><ellipse cx="0.00" cy="0.00" rx="5.67" ry="7.33" fill="none" stroke="#fff" stroke-width=".4" stroke-opacity=".6"/><ellipse cx="0.00" cy="0.00" rx="4.25" ry="5.50" fill="none" stroke="#fff" stroke-width=".4" stroke-opacity=".6"/><ellipse cx="0.00" cy="0.00" rx="2.83" ry="3.67" fill="none" stroke="#fff" stroke-width=".4" stroke-opacity=".6"/><ellipse cx="0.00" cy="0.00" rx="1.42" ry="1.83" fill="none" stroke="#fff" stroke-width=".4" stroke-opacity=".6"/><ellipse cx="0.00" cy="0.00" rx="0.85" ry="2.42" fill="#fff" fill-opacity=".75"/></g><rect x="244.5" y="390.5" width="90.9" height="90.9" fill="none" stroke="#999999" stroke-width="1"/><line x1="282.6" y1="390.5" x2="282.6" y2="481.4" stroke="#444" stroke-width="1"/><line x1="244.5" y1="441.6" x2="335.4" y2="441.6" stroke="#333333" stroke-width="1"/><text x="246.8" y="400.8" font-size="8.60" text-anchor="start" fill="#3a3a3a" font-weight="normal" stroke="#3a3a3a" stroke-width=".1" letter-spacing=".45">8.6<tspan dx="-0.60">1</tspan></text><text x="246.8" y="478.8" font-size="8.60" text-anchor="start" fill="#3a3a3a" font-weight="normal" stroke="#3a3a3a" stroke-width=".1" letter-spacing=".45">9<tspan dx="-0.60">1</tspan><tspan dx="-0.90">.</tspan>2</text><text x="441.4" y="386.8" font-size="8.90" text-anchor="middle" fill="#3a3a3a">Con</text><path transform="scale(.5)" d="M880 919h0M861 915h0M860 902h0M871 897h0M874 916h0M872 870h0M864 908h0M859 923h0M878 920h0M880 896h0M871 915h0M838 911h0M863 912h0M853 904h0M863 898h0M876 899h0M874 917h0M878 905h0M848 904h0M866 906h0M843 904h0M876 898h0M867 884h0M854 910h0M869 911h0M866 907h0M868 910h0M876 897h0M880 909h0M855 889h0M842 899h0M882 904h0M859 903h0M864 912h0M864 911h0M884 895h0M863 922h0M878 913h0M867 895h0M859 929h0M854 889h0M863 924h0M872 881h0M874 895h0M854 930h0M856 908h0M885 899h0M864 921h0M863 909h0M860 893h0M862 913h0M878 922h0M882 898h0M850 913h0M870 916h0M855 920h0M868 904h0M857 895h0M876 908h0M869 919h0M871 892h0M871 870h0M877 888h0M876 904h0M855 913h0M863 894h0M852 908h0M878 891h0M851 910h0M870 911h0M860 916h0M882 907h0M861 904h0M867 897h0M873 887h0M858 906h0M863 910h0M871 894h0M857 894h0M864 912h0M874 908h0M860 924h0M866 902h0M840 923h0M890 891h0M870 917h0M880 912h0M863 906h0M863 913h0M863 925h0M855 944h0M859 919h0M877 902h0M866 891h0M868 900h0M867 897h0M861 905h0M871 905h0M864 945h0M863 915h0M872 911h0M859 904h0M876 916h0M879 890h0M874 912h0M883 879h0M872 916h0M861 898h0M878 901h0M859 891h0M842 909h0M869 897h0M876 908h0M861 905h0M853 922h0M862 897h0M858 906h0M872 912h0M845 905h0M870 885h0M859 915h0M867 914h0M880 918h0M864 907h0M859 906h0M863 897h0M857 917h0M871 903h0M859 922h0M879 893h0M873 911h0M864 911h0M881 881h0M870 908h0M877 882h0M874 902h0M878 890h0M876 907h0M867 907h0M880 900h0M865 915h0M875 899h0M853 895h0M852 912h0M851 901h0M873 893h0M866 911h0M856 915h0M872 890h0M875 886h0M870 889h0M870 916h0M875 895h0M877 904h0M864 918h0M887 907h0M862 913h0M873 920h0M862 897h0M871 911h0M860 903h0M864 914h0M873 915h0M860 904h0M859 896h0M885 906h0M861 890h0M874 905h0M858 912h0M878 917h0M861 916h0M863 904h0M866 911h0M869 918h0M852 895h0M873 916h0M870 917h0M856 912h0M866 890h0M866 889h0M876 934h0M860 915h0M883 893h0M880 885h0M871 907h0M878 903h0M856 912h0M867 894h0M867 908h0M852 923h0M869 903h0M869 906h0M856 910h0M854 902h0M873 897h0M868 894h0M865 902h0M852 909h0M851 896h0M883 886h0M870 913h0M875 911h0M866 917h0M879 903h0M884 878h0M850 917h0M854 908h0M862 894h0M865 907h0M849 911h0M871 904h0M855 907h0M867 918h0M867 897h0M861 917h0M868 892h0M855 932h0M874 881h0M866 901h0M873 914h0M861 904h0M869 901h0M851 917h0M871 887h0M878 925h0M865 890h0M859 919h0M880 897h0M859 915h0M855 904h0M879 881h0M871 895h0M864 908h0M871 889h0M865 928h0M858 890h0M866 920h0M864 893h0M874 893h0M875 883h0M865 891h0M880 898h0M867 905h0M863 896h0M868 901h0M865 895h0M861 905h0M863 891h0M874 901h0M853 933h0M872 882h0M890 885h0M876 883h0M867 904h0M855 911h0M859 911h0M866 919h0M870 878h0M876 899h0M864 916h0M871 893h0M871 914h0M876 906h0M861 903h0M862 912h0M850 918h0M859 911h0M873 902h0M873 903h0M864 914h0M881 897h0M860 926h0M869 912h0M864 897h0M882 907h0M890 911h0M855 933h0M879 898h0M864 919h0M867 912h0M893 904h0M868 924h0M870 903h0M867 911h0M874 897h0M858 908h0M848 926h0M882 903h0M871 867h0M874 881h0M870 910h0M863 919h0M865 919h0M863 904h0M875 906h0M870 912h0M863 888h0M874 898h0M871 920h0M865 908h0M881 860h0M865 887h0M878 871h0M882 886h0M872 886h0M866 842h0M879 847h0M869 846h0M878 859h0M872 884h0M872 867h0M882 873h0M868 861h0M869 833h0M873 872h0M861 873h0M883 876h0M877 867h0M878 884h0M875 820h0M881 878h0M881 830h0M881 881h0M878 885h0M874 822h0M878 883h0M869 885h0M862 848h0M876 857h0M867 843h0M866 825h0M873 859h0M877 882h0M882 870h0M869 872h0M869 858h0M862 818h0M864 828h0M877 873h0M869 876h0M873 859h0M877 876h0M859 867h0M884 844h0M871 840h0M867 879h0M870 873h0M865 832h0M868 865h0M858 863h0M869 831h0M883 854h0M875 886h0M863 839h0M875 855h0M866 878h0M869 868h0M873 883h0M873 883h0M872 885h0M879 852h0M868 856h0M870 868h0M876 826h0M873 859h0M879 874h0M875 885h0M867 850h0M878 819h0M873 852h0M869 860h0M869 871h0M875 846h0M870 876h0M875 884h0M868 870h0M862 820h0M876 884h0M870 885h0M857 873h0M870 869h0M886 858h0M869 883h0M863 884h0M862 877h0M865 827h0M871 886h0M869 873h0M878 833h0M877 867h0M873 840h0M875 886h0M870 838h0M871 873h0M867 866h0M873 880h0M874 865h0M862 828h0M871 872h0M866 838h0M870 870h0M875 874h0M874 869h0M860 857h0M866 887h0M859 874h0M868 865h0M869 845h0M867 875h0M877 847h0M866 869h0M869 881h0M873 866h0M872 885h0M875 831h0M917 900h0M897 876h0M912 891h0M885 890h0M897 898h0M902 875h0M914 871h0M914 887h0M902 907h0M909 892h0M896 894h0M896 897h0M905 923h0M895 878h0M920 893h0M898 890h0M896 894h0M900 892h0M899 893h0M895 888h0M913 874h0M899 890h0M912 888h0M894 899h0M915 893h0M912 883h0M910 897h0M883 898h0M903 925h0M906 878h0M929 892h0M894 878h0M892 885h0M921 885h0M886 883h0M892 891h0M901 898h0M935 897h0M904 906h0M887 893h0M911 885h0M905 899h0M911 892h0M886 899h0M921 901h0M899 875h0M881 887h0M919 890h0M906 911h0M891 900h0M912 881h0M923 892h0M902 893h0M915 896h0M925 891h0M908 879h0M908 897h0M916 897h0M907 895h0M879 885h0M902 883h0M888 907h0M920 897h0M892 905h0M901 909h0M909 899h0M907 899h0M911 901h0M912 892h0M892 899h0M896 888h0M912 881h0M905 883h0M910 880h0M912 871h0M917 901h0M894 872h0M894 886h0M906 900h0M875 885h0M891 893h0M897 908h0M900 882h0M906 906h0M910 880h0M887 888h0M910 902h0M910 891h0M903 884h0M928 891h0M869 896h0M922 904h0M900 897h0M909 902h0M905 906h0M896 895h0M909 891h0M894 893h0M910 903h0M917 886h0M917 886h0M906 894h0M889 891h0M895 904h0M901 894h0M896 898h0M943 886h0M893 905h0M910 877h0M915 882h0M924 891h0M882 895h0M920 900h0M908 907h0M894 886h0M900 896h0M916 892h0M914 909h0M922 888h0M914 874h0M907 884h0M910 885h0M893 887h0M906 910h0M915 890h0M903 877h0M906 887h0M916 891h0M897 916h0M905 883h0M927 890h0M890 899h0M916 889h0M915 887h0M916 917h0M904 891h0M928 868h0M905 909h0M896 894h0M923 902h0M900 900h0M921 892h0M871 893h0M918 899h0M914 896h0M912 884h0M919 911h0M896 869h0M884 892h0M910 892h0M861 927h0M840 838h0M937 900h0M904 811h0M960 952h0M830 912h0M808 892h0M895 833h0M865 913h0M869 861h0M935 893h0M936 907h0M887 839h0M934 817h0M857 924h0M826 932h0M881 883h0M882 889h0M852 926h0M855 929h0M879 878h0M862 929h0M883 883h0M851 913h0M849 924h0M857 894h0M879 882h0M883 895h0M858 892h0M884 906h0M851 913h0M867 885h0M881 881h0M849 930h0M882 890h0M850 912h0M868 881h0M850 915h0M851 904h0M855 936h0M885 881h0M848 917h0M849 909h0M867 885h0M872 881h0M860 933h0M883 890h0M851 930h0M866 928h0M846 925h0M881 904h0M884 879h0M852 929h0M873 883h0M875 882h0M853 927h0M849 910h0M861 929h0M862 889h0M877 915h0M860 932h0M864 886h0M886 898h0M867 882h0M852 925h0M849 911h0M878 880h0M860 892h0M862 885h0M868 927h0M858 887h0M880 885h0M864 886h0M880 884h0M885 896h0M882 911h0M879 882h0M850 918h0M851 903h0M879 910h0M870 882h0M867 930h0M884 887h0M853 926h0M884 885h0M879 914h0M880 912h0M868 883h0M859 932h0M854 902h0M871 884h0M886 892h0M883 903h0M873 870h0M873 881h0M848 924h0M848 919h0M879 916h0M867 928h0M849 918h0M877 915h0M879 916h0M852 924h0M884 903h0M851 912h0M878 875h0M854 928h0M851 905h0M858 930h0M885 901h0M859 929h0M863 888h0M882 907h0M879 884h0M870 883h0M880 917h0M856 930h0M847 923h0M855 934h0M876 920h0M862 889h0M880 912h0M856 898h0M850 917h0M865 928h0M850 910h0M853 904h0M880 883h0M851 908h0M876 925h0M877 915h0M849 913h0M850 905h0M853 899h0M871 882h0M851 920h0M857 893h0M866 934h0M854 929h0M870 926h0M845 911h0M885 901h0M883 898h0M880 913h0M883 894h0M879 877h0M855 939h0M857 896h0M874 880h0M845 917h0M846 924h0M877 877h0M854 937h0M852 908h0M881 907h0M877 880h0M859 892h0M854 901h0M886 895h0M852 927h0M844 917h0M855 899h0M881 905h0M877 914h0M850 918h0M847 915h0M853 925h0M863 930h0M859 931h0M855 932h0M872 925h0M851 925h0M883 893h0M850 909h0M866 930h0M854 927h0" stroke="#72bf52" stroke-opacity=".42" stroke-width="1.7" stroke-linecap="square"/><g transform="translate(433.3 453.0) rotate(25.0)"><ellipse rx="6.8" ry="12.8" fill="#d6edca" stroke="#fff" stroke-width=".9" stroke-opacity=".85"/><ellipse rx="7.4" ry="13.4" fill="none" stroke="#8fcd72" stroke-width=".5" stroke-opacity=".8"/><ellipse rx="4.22" ry="10.24" fill="url(#R0)"/><ellipse rx="5.83" ry="10.97" fill="none" stroke="#fff" stroke-width=".3" stroke-opacity=".55"/><ellipse rx="4.86" ry="9.14" fill="none" stroke="#fff" stroke-width=".3" stroke-opacity=".55"/><ellipse rx="3.89" ry="7.31" fill="none" stroke="#fff" stroke-width=".3" stroke-opacity=".55"/><ellipse rx="2.91" ry="5.49" fill="none" stroke="#fff" stroke-width=".3" stroke-opacity=".55"/><ellipse rx="1.94" ry="3.66" fill="none" stroke="#fff" stroke-width=".3" stroke-opacity=".55"/><ellipse rx="0.97" ry="1.83" fill="none" stroke="#fff" stroke-width=".3" stroke-opacity=".55"/><ellipse rx="0.48" ry="3.84" fill="#fff" fill-opacity=".55"/></g><rect x="395.5" y="390.5" width="91.9" height="90.9" fill="none" stroke="#999999" stroke-width="1"/><line x1="443.5" y1="390.5" x2="443.5" y2="481.4" stroke="#444" stroke-width="1"/><line x1="395.5" y1="441.4" x2="487.4" y2="441.4" stroke="#333333" stroke-width="1"/><text x="398.1" y="400.8" font-size="8.60" text-anchor="start" fill="#3a3a3a" font-weight="normal" stroke="#3a3a3a" stroke-width=".1" letter-spacing=".45">5.07</text><text x="484.9" y="400.8" font-size="8.60" text-anchor="end" fill="#3a3a3a" font-weight="normal" stroke="#3a3a3a" stroke-width=".1" letter-spacing=".45">0.20</text><text x="398.1" y="478.8" font-size="8.60" text-anchor="start" fill="#3a3a3a" font-weight="normal" stroke="#3a3a3a" stroke-width=".1" letter-spacing=".45">93.5</text><text x="484.9" y="478.8" font-size="8.60" text-anchor="end" fill="#3a3a3a" font-weight="normal" stroke="#3a3a3a" stroke-width=".1" letter-spacing=".45"><tspan dx="-1.00">1</tspan><tspan dx="-0.90">.</tspan>2<tspan dx="-0.60">1</tspan></text><text x="540.5" y="386.8" font-size="8.90" text-anchor="middle" fill="#3a3a3a">IPA100</text><path transform="scale(.5)" d="M1070 903h0M1058 916h0M1058 907h0M1061 897h0M1054 917h0M1055 908h0M1061 904h0M1062 894h0M1070 905h0M1063 903h0M1067 925h0M1063 900h0M1050 901h0M1052 893h0M1068 924h0M1074 897h0M1057 936h0M1057 902h0M1067 876h0M1073 889h0M1055 922h0M1073 910h0M1074 908h0M1053 881h0M1061 918h0M1060 923h0M1042 915h0M1065 904h0M1058 899h0M1072 910h0M1062 913h0M1069 917h0M1069 886h0M1059 918h0M1060 896h0M1074 918h0M1059 902h0M1090 893h0M1077 904h0M1060 922h0M1073 918h0M1065 888h0M1067 905h0M1078 910h0M1073 897h0M1069 892h0M1073 907h0M1076 903h0M1071 889h0M1079 898h0M1069 923h0M1077 912h0M1063 912h0M1055 905h0M1049 914h0M1067 920h0M1057 891h0M1078 893h0M1068 911h0M1092 896h0M1055 896h0M1056 920h0M1058 914h0M1066 926h0M1059 895h0M1068 912h0M1066 890h0M1044 917h0M1054 915h0M1064 904h0M1065 919h0M1061 906h0M1068 896h0M1071 893h0M1053 914h0M1069 906h0M1064 914h0M1052 919h0M1075 896h0M1069 912h0M1050 911h0M1088 882h0M1048 899h0M1073 920h0M1064 891h0M1060 906h0M1053 917h0M1068 918h0M1037 916h0M1079 889h0M1063 883h0M1061 899h0M1061 909h0M1073 889h0M1064 898h0M1070 907h0M1064 906h0M1069 887h0M1085 897h0M1055 923h0M1067 919h0M1062 915h0M1060 904h0M1070 922h0M1063 906h0M1055 921h0M1067 896h0M1052 908h0M1066 881h0M1070 891h0M1055 895h0M1057 911h0M1085 905h0M1066 915h0M1056 891h0M1079 912h0M1056 905h0M1066 893h0M1061 913h0M1085 898h0M1065 909h0M1085 890h0M1052 909h0M1068 922h0M1055 915h0M1054 913h0M1075 888h0M1045 921h0M1054 889h0M1074 919h0M1065 913h0M1077 883h0M1066 914h0M1044 915h0M1064 901h0M1068 902h0M1061 895h0M1058 905h0M1056 896h0M1060 908h0M1074 915h0M1066 895h0M1076 908h0M1062 915h0M1068 902h0M1064 905h0M1062 900h0M1060 917h0M1077 897h0M1062 890h0M1057 897h0M1067 920h0M1066 921h0M1052 901h0M1065 909h0M1059 913h0M1044 919h0M1059 895h0M1061 911h0M1060 890h0M1055 915h0M1051 903h0M1064 903h0M1059 916h0M1053 902h0M1070 897h0M1063 901h0M1055 896h0M1045 919h0M1068 923h0M1080 893h0M1075 902h0M1079 892h0M1072 906h0M1081 898h0M1073 899h0M1081 915h0M1065 901h0M1064 909h0M1070 896h0M1064 908h0M1066 901h0M1065 895h0M1066 937h0M1072 881h0M1062 913h0M1072 891h0M1077 909h0M1057 907h0M1062 890h0M1057 922h0M1096 907h0M1067 913h0M1076 902h0M1051 903h0M1065 914h0M1084 916h0M1082 891h0M1074 905h0M1065 907h0M1071 890h0M1064 888h0M1046 922h0M1057 905h0M1071 904h0M1060 909h0M1066 918h0M1067 897h0M1066 901h0M1067 904h0M1074 903h0M1065 904h0M1079 899h0M1071 912h0M1053 930h0M1058 887h0M1057 909h0M1065 909h0M1057 917h0M1070 909h0M1072 903h0M1072 904h0M1065 916h0M1061 909h0M1050 902h0M1077 903h0M1067 897h0M1058 924h0M1058 923h0M1071 895h0M1055 910h0M1060 894h0M1065 922h0M1070 910h0M1063 899h0M1074 898h0M1068 904h0M1075 894h0M1077 875h0M1055 914h0M1073 884h0M1066 889h0M1062 880h0M1060 893h0M1062 902h0M1062 903h0M1078 887h0M1063 913h0M1065 932h0M1054 903h0M1060 887h0M1062 935h0M1056 922h0M1069 917h0M1063 898h0M1081 889h0M1064 908h0M1077 907h0M1061 927h0M1068 891h0M1058 904h0M1052 913h0M1067 910h0M1060 912h0M1072 909h0M1049 920h0M1069 903h0M1065 912h0M1056 909h0M1062 905h0M1063 902h0M1055 906h0M1066 897h0M1051 909h0M1059 903h0M1062 900h0M1071 923h0M1050 909h0M1062 890h0M1066 890h0M1056 902h0M1073 896h0M1052 898h0M1050 903h0M1071 912h0M1074 908h0M1070 906h0M1070 904h0M1061 912h0M1068 910h0M1064 893h0M1047 920h0M1060 914h0M1058 914h0M1065 902h0M1063 907h0M1056 888h0M1070 904h0M1051 886h0M1074 900h0M1073 828h0M1079 882h0M1077 833h0M1070 880h0M1083 885h0M1077 872h0M1077 857h0M1064 887h0M1079 821h0M1074 885h0M1066 823h0M1072 846h0M1071 881h0M1072 851h0M1071 879h0M1067 849h0M1084 824h0M1082 886h0M1081 881h0M1069 887h0M1069 880h0M1079 856h0M1083 882h0M1058 864h0M1064 874h0M1070 854h0M1062 872h0M1072 853h0M1073 837h0M1067 884h0M1070 838h0M1076 877h0M1068 873h0M1071 887h0M1082 839h0M1077 863h0M1076 851h0M1078 858h0M1071 832h0M1060 835h0M1079 834h0M1062 813h0M1067 829h0M1073 863h0M1082 854h0M1059 870h0M1075 884h0M1081 845h0M1073 872h0M1072 878h0M1069 885h0M1079 878h0M1078 816h0M1086 817h0M1065 884h0M1070 871h0M1068 842h0M1073 859h0M1080 882h0M1072 884h0M1088 865h0M1063 885h0M1073 828h0M1080 862h0M1066 841h0M1063 845h0M1066 831h0M1063 882h0M1075 860h0M1066 831h0M1068 872h0M1081 829h0M1085 885h0M1080 837h0M1071 867h0M1070 850h0M1065 842h0M1074 887h0M1078 856h0M1065 879h0M1076 872h0M1062 876h0M1072 875h0M1068 883h0M1059 853h0M1074 885h0M1079 814h0M1071 855h0M1071 880h0M1072 883h0M1066 852h0M1059 847h0M1078 866h0M1074 819h0M1081 887h0M1071 840h0M1064 842h0M1061 861h0M1066 884h0M1069 886h0M1069 840h0M1066 824h0M1073 872h0M1077 883h0M1073 884h0M1067 859h0M1075 828h0M1064 874h0M1073 823h0M1065 849h0M1072 887h0M1069 832h0M1076 875h0M1068 875h0M1064 832h0M1097 883h0M1073 886h0M1117 890h0M1105 875h0M1113 902h0M1090 900h0M1095 900h0M1110 888h0M1092 903h0M1114 883h0M1081 906h0M1095 905h0M1091 893h0M1120 898h0M1084 902h0M1097 894h0M1104 903h0M1124 889h0M1115 882h0M1098 892h0M1102 913h0M1110 899h0M1109 891h0M1114 901h0M1109 899h0M1120 901h0M1090 896h0M1113 911h0M1101 886h0M1111 889h0M1088 893h0M1095 891h0M1134 888h0M1107 916h0M1090 909h0M1099 899h0M1091 905h0M1101 911h0M1113 910h0M1109 890h0M1119 885h0M1104 893h0M1118 902h0M1092 910h0M1104 894h0M1106 891h0M1105 908h0M1118 898h0M1099 898h0M1109 893h0M1113 903h0M1113 908h0M1119 890h0M1109 912h0M1110 907h0M1109 892h0M1107 912h0M1128 908h0M1109 907h0M1106 895h0M1122 894h0M1105 891h0M1092 875h0M1087 895h0M1104 894h0M1103 915h0M1109 886h0M1094 904h0M1109 899h0M1126 899h0M1094 882h0M1105 898h0M1088 892h0M1089 884h0M1113 890h0M1114 885h0M1107 900h0M1101 917h0M1115 874h0M1114 892h0M1104 892h0M1128 887h0M1140 874h0M1093 896h0M1103 894h0M1105 897h0M1118 882h0M1107 889h0M1095 889h0M1103 891h0M1130 905h0M1094 897h0M1121 884h0M1112 891h0M1109 914h0M1100 890h0M1096 892h0M1117 905h0M1090 891h0M1104 906h0M1106 889h0M1096 910h0M1096 889h0M1101 896h0M1092 897h0M1088 918h0M1103 879h0M1113 870h0M1120 905h0M1122 877h0M1097 883h0M1118 879h0M1092 902h0M1092 891h0M1112 898h0M1120 898h0M1116 882h0M1109 888h0M1086 904h0M1112 889h0M1103 888h0M1100 909h0M1116 893h0M1113 916h0M1112 897h0M1105 882h0M1109 892h0M1117 892h0M1105 898h0M1080 908h0M1113 894h0M1111 912h0M1115 892h0M1126 898h0M1123 890h0M1103 901h0M1108 888h0M1095 909h0M1114 870h0M1111 908h0M1115 899h0M1109 896h0M1114 901h0M1099 898h0M1107 893h0M1104 886h0M1089 897h0M1099 890h0M1100 894h0M1095 905h0M1076 877h0M1096 850h0M1042 815h0M1156 914h0M1019 805h0M1009 896h0M1129 803h0M1158 906h0M1105 919h0M1115 909h0M1140 819h0M1089 819h0M1080 887h0M1022 938h0M1098 882h0M1051 923h0M1070 882h0M1049 909h0M1079 906h0M1080 903h0M1047 915h0M1081 886h0M1053 896h0M1047 915h0M1055 892h0M1046 908h0M1048 903h0M1086 893h0M1050 904h0M1085 887h0M1044 911h0M1080 878h0M1065 883h0M1048 908h0M1054 896h0M1085 892h0M1080 914h0M1062 883h0M1081 888h0M1083 893h0M1079 905h0M1052 896h0M1076 880h0M1059 927h0M1073 883h0M1082 883h0M1084 885h0M1081 882h0M1083 894h0M1050 906h0M1054 892h0M1064 926h0M1079 883h0M1063 927h0M1042 919h0M1071 881h0M1056 930h0M1050 898h0M1049 897h0M1081 885h0M1070 882h0M1046 914h0M1054 927h0M1054 930h0M1087 885h0M1053 925h0M1055 890h0M1074 881h0M1054 931h0M1079 916h0M1071 883h0M1051 924h0M1081 888h0M1054 933h0M1056 936h0M1062 930h0M1076 883h0M1064 878h0M1078 910h0M1086 894h0M1081 899h0M1073 918h0M1060 888h0M1048 901h0M1054 929h0M1047 912h0M1055 894h0M1064 925h0M1059 888h0M1068 921h0M1081 897h0M1080 907h0M1058 890h0M1070 919h0M1085 886h0M1081 898h0M1049 914h0M1078 910h0M1069 882h0M1060 930h0M1049 922h0M1047 908h0M1052 931h0M1072 879h0M1067 923h0M1051 904h0M1071 922h0M1062 886h0M1058 891h0M1079 908h0M1074 879h0M1081 878h0M1052 897h0M1053 932h0M1052 924h0M1077 914h0M1052 926h0M1079 908h0M1051 927h0M1049 916h0M1061 889h0M1054 893h0M1060 884h0M1072 881h0M1073 920h0M1078 884h0M1053 927h0M1061 929h0M1048 915h0M1071 877h0M1082 899h0M1069 921h0M1084 894h0M1060 926h0M1086 894h0M1074 882h0M1056 893h0M1084 894h0M1064 881h0M1063 883h0M1080 904h0M1072 923h0M1070 883h0M1081 898h0M1047 908h0M1080 910h0M1081 884h0M1081 908h0M1052 924h0M1079 883h0M1082 900h0M1051 925h0M1066 885h0M1051 903h0M1061 931h0M1073 881h0M1061 888h0M1069 882h0M1064 928h0M1046 909h0M1080 892h0M1083 893h0M1078 911h0M1075 917h0M1045 907h0M1080 886h0M1054 925h0M1080 905h0M1081 892h0M1064 881h0M1059 890h0M1051 925h0M1061 888h0M1065 928h0M1072 879h0" stroke="#3b86d6" stroke-opacity=".42" stroke-width="1.7" stroke-linecap="square"/><g transform="translate(532.4 452.3) rotate(28.0)"><ellipse rx="6.8" ry="12.3" fill="#cde1f6" stroke="#fff" stroke-width=".9" stroke-opacity=".85"/><ellipse rx="7.4" ry="12.9" fill="none" stroke="#6ea7e4" stroke-width=".5" stroke-opacity=".8"/><ellipse rx="4.22" ry="9.84" fill="url(#R1)"/><ellipse rx="5.83" ry="10.54" fill="none" stroke="#fff" stroke-width=".3" stroke-opacity=".55"/><ellipse rx="4.86" ry="8.79" fill="none" stroke="#fff" stroke-width=".3" stroke-opacity=".55"/><ellipse rx="3.89" ry="7.03" fill="none" stroke="#fff" stroke-width=".3" stroke-opacity=".55"/><ellipse rx="2.91" ry="5.27" fill="none" stroke="#fff" stroke-width=".3" stroke-opacity=".55"/><ellipse rx="1.94" ry="3.51" fill="none" stroke="#fff" stroke-width=".3" stroke-opacity=".55"/><ellipse rx="0.97" ry="1.76" fill="none" stroke="#fff" stroke-width=".3" stroke-opacity=".55"/><ellipse rx="0.48" ry="3.69" fill="#fff" fill-opacity=".55"/></g><rect x="494.4" y="390.5" width="92.1" height="90.9" fill="none" stroke="#999999" stroke-width="1"/><line x1="542.3" y1="390.5" x2="542.3" y2="481.4" stroke="#444" stroke-width="1"/><line x1="494.4" y1="441.2" x2="586.5" y2="441.2" stroke="#333333" stroke-width="1"/><text x="497.0" y="400.8" font-size="8.60" text-anchor="start" fill="#3a3a3a" font-weight="normal" stroke="#3a3a3a" stroke-width=".1" letter-spacing=".45">2.86</text><text x="584.0" y="400.8" font-size="8.60" text-anchor="end" fill="#3a3a3a" font-weight="normal" stroke="#3a3a3a" stroke-width=".1" letter-spacing=".45">0.063</text><text x="497.0" y="478.8" font-size="8.60" text-anchor="start" fill="#3a3a3a" font-weight="normal" stroke="#3a3a3a" stroke-width=".1" letter-spacing=".45">96.<tspan dx="-0.60">1</tspan></text><text x="584.0" y="478.8" font-size="8.60" text-anchor="end" fill="#3a3a3a" font-weight="normal" stroke="#3a3a3a" stroke-width=".1" letter-spacing=".45">0.98</text><text x="638.9" y="386.8" font-size="8.90" text-anchor="middle" fill="#3a3a3a">IPA1000</text><path transform="scale(.5)" d="M1252 889h0M1262 907h0M1243 930h0M1272 909h0M1273 908h0M1262 921h0M1249 925h0M1247 930h0M1260 917h0M1254 895h0M1264 915h0M1258 919h0M1257 912h0M1271 901h0M1277 908h0M1255 920h0M1268 911h0M1248 929h0M1236 912h0M1269 935h0M1255 916h0M1260 909h0M1256 914h0M1273 913h0M1254 913h0M1257 912h0M1253 930h0M1268 929h0M1249 910h0M1248 916h0M1256 914h0M1262 908h0M1267 902h0M1263 918h0M1268 918h0M1273 921h0M1271 903h0M1276 898h0M1259 900h0M1263 922h0M1267 889h0M1276 909h0M1264 920h0M1264 902h0M1274 915h0M1274 889h0M1278 901h0M1254 914h0M1258 899h0M1253 909h0M1260 917h0M1280 911h0M1262 905h0M1263 919h0M1261 916h0M1271 906h0M1257 877h0M1259 915h0M1266 906h0M1263 898h0M1266 919h0M1247 916h0M1263 909h0M1268 905h0M1266 909h0M1259 900h0M1262 896h0M1258 896h0M1272 911h0M1270 895h0M1263 880h0M1284 894h0M1279 895h0M1270 891h0M1263 917h0M1252 906h0M1245 901h0M1264 897h0M1252 920h0M1255 914h0M1262 912h0M1266 897h0M1248 908h0M1275 912h0M1260 935h0M1252 916h0M1265 906h0M1264 892h0M1262 932h0M1269 903h0M1263 906h0M1245 904h0M1253 908h0M1274 894h0M1252 900h0M1246 905h0M1277 903h0M1263 907h0M1274 907h0M1250 901h0M1245 914h0M1248 922h0M1248 931h0M1262 916h0M1242 897h0M1257 943h0M1250 902h0M1263 923h0M1268 914h0M1272 901h0M1276 911h0M1268 897h0M1259 933h0M1257 934h0M1266 913h0M1254 918h0M1250 910h0M1264 914h0M1270 914h0M1264 879h0M1260 914h0M1273 917h0M1254 928h0M1255 910h0M1251 918h0M1264 898h0M1275 901h0M1264 924h0M1239 929h0M1252 921h0M1252 919h0M1266 912h0M1253 925h0M1287 910h0M1251 916h0M1256 904h0M1262 909h0M1269 906h0M1263 910h0M1256 919h0M1265 911h0M1273 892h0M1282 904h0M1261 912h0M1269 889h0M1258 914h0M1254 911h0M1278 901h0M1268 909h0M1275 902h0M1255 912h0M1263 883h0M1273 901h0M1262 918h0M1271 894h0M1232 927h0M1258 911h0M1261 907h0M1252 908h0M1254 901h0M1250 910h0M1255 923h0M1268 897h0M1251 910h0M1258 920h0M1261 904h0M1282 894h0M1257 900h0M1267 905h0M1260 903h0M1254 917h0M1257 915h0M1277 894h0M1253 909h0M1271 897h0M1273 917h0M1270 920h0M1269 904h0M1261 907h0M1247 934h0M1251 900h0M1259 906h0M1267 904h0M1246 916h0M1278 913h0M1271 914h0M1252 902h0M1265 894h0M1255 910h0M1269 920h0M1260 896h0M1260 905h0M1259 914h0M1255 903h0M1258 897h0M1269 901h0M1259 910h0M1268 893h0M1240 905h0M1269 900h0M1272 921h0M1255 906h0M1271 919h0M1257 921h0M1263 907h0M1264 906h0M1275 897h0M1264 897h0M1270 932h0M1264 926h0M1265 930h0M1264 914h0M1260 915h0M1268 888h0M1265 912h0M1271 907h0M1252 927h0M1244 903h0M1254 909h0M1261 916h0M1264 907h0M1255 915h0M1260 897h0M1261 904h0M1267 915h0M1259 903h0M1263 889h0M1271 918h0M1273 906h0M1254 896h0M1274 914h0M1255 899h0M1261 880h0M1253 905h0M1270 893h0M1262 909h0M1265 906h0M1277 910h0M1255 905h0M1259 905h0M1274 898h0M1267 911h0M1261 913h0M1266 901h0M1269 908h0M1265 915h0M1273 907h0M1258 933h0M1250 932h0M1277 920h0M1266 928h0M1262 911h0M1259 919h0M1260 910h0M1251 901h0M1265 912h0M1252 914h0M1268 900h0M1265 918h0M1265 921h0M1259 902h0M1263 899h0M1272 898h0M1269 927h0M1269 898h0M1262 911h0M1265 906h0M1258 895h0M1256 912h0M1262 911h0M1271 906h0M1259 916h0M1268 889h0M1273 911h0M1262 922h0M1270 911h0M1269 919h0M1258 900h0M1260 908h0M1266 905h0M1261 914h0M1269 907h0M1253 913h0M1258 900h0M1248 900h0M1279 895h0M1269 900h0M1259 916h0M1260 912h0M1264 930h0M1270 922h0M1276 911h0M1277 877h0M1266 876h0M1265 909h0M1273 901h0M1260 914h0M1260 919h0M1267 913h0M1266 916h0M1263 870h0M1263 858h0M1268 855h0M1268 873h0M1270 871h0M1260 887h0M1262 885h0M1267 864h0M1271 852h0M1267 842h0M1269 833h0M1265 875h0M1274 846h0M1264 863h0M1266 835h0M1264 856h0M1271 875h0M1269 861h0M1251 826h0M1262 887h0M1252 888h0M1284 884h0M1266 891h0M1268 871h0M1265 883h0M1262 826h0M1264 882h0M1273 840h0M1272 865h0M1261 854h0M1260 874h0M1271 825h0M1263 890h0M1262 884h0M1261 870h0M1271 891h0M1262 883h0M1262 888h0M1268 891h0M1264 883h0M1269 826h0M1251 853h0M1267 845h0M1279 835h0M1268 859h0M1269 885h0M1274 881h0M1266 844h0M1268 888h0M1259 869h0M1274 879h0M1261 835h0M1269 851h0M1259 887h0M1274 882h0M1268 882h0M1266 832h0M1258 825h0M1263 875h0M1268 850h0M1265 888h0M1270 871h0M1273 869h0M1268 891h0M1268 886h0M1271 827h0M1264 850h0M1262 837h0M1261 892h0M1270 883h0M1265 828h0M1268 890h0M1256 866h0M1274 886h0M1266 885h0M1272 880h0M1270 843h0M1265 871h0M1281 838h0M1262 840h0M1271 858h0M1280 889h0M1271 859h0M1264 879h0M1265 826h0M1265 890h0M1268 871h0M1258 892h0M1273 841h0M1276 860h0M1266 892h0M1260 827h0M1262 886h0M1276 857h0M1264 829h0M1273 836h0M1264 889h0M1258 888h0M1263 891h0M1272 870h0M1268 851h0M1264 841h0M1267 890h0M1249 835h0M1266 886h0M1271 857h0M1263 876h0M1254 839h0M1274 857h0M1251 850h0M1269 837h0M1272 875h0M1278 860h0M1269 890h0M1263 861h0M1320 906h0M1294 906h0M1268 909h0M1309 908h0M1284 888h0M1299 908h0M1312 899h0M1285 899h0M1311 891h0M1321 896h0M1294 886h0M1333 898h0M1279 902h0M1298 898h0M1319 899h0M1295 895h0M1304 901h0M1287 899h0M1291 892h0M1305 898h0M1307 900h0M1307 900h0M1291 905h0M1316 903h0M1307 891h0M1317 898h0M1311 894h0M1283 904h0M1289 888h0M1300 878h0M1301 895h0M1318 889h0M1285 907h0M1302 897h0M1307 891h0M1310 906h0M1307 893h0M1311 879h0M1295 900h0M1292 901h0M1298 895h0M1295 891h0M1301 900h0M1289 872h0M1318 900h0M1316 895h0M1310 900h0M1315 895h0M1299 881h0M1307 888h0M1301 908h0M1315 894h0M1298 891h0M1289 892h0M1314 896h0M1303 899h0M1324 927h0M1297 891h0M1295 910h0M1304 911h0M1308 897h0M1258 879h0M1292 880h0M1297 894h0M1288 890h0M1307 895h0M1306 895h0M1313 891h0M1306 895h0M1316 907h0M1305 896h0M1312 894h0M1298 893h0M1313 915h0M1321 902h0M1314 883h0M1295 901h0M1310 910h0M1310 906h0M1279 895h0M1280 904h0M1295 890h0M1319 898h0M1285 891h0M1282 897h0M1303 892h0M1313 925h0M1307 912h0M1303 893h0M1289 907h0M1316 894h0M1297 887h0M1319 910h0M1306 899h0M1288 889h0M1312 905h0M1312 896h0M1297 892h0M1282 900h0M1298 899h0M1296 883h0M1312 892h0M1320 918h0M1308 890h0M1319 883h0M1309 908h0M1303 886h0M1294 879h0M1300 901h0M1305 904h0M1321 895h0M1276 912h0M1288 905h0M1303 902h0M1299 902h0M1294 882h0M1302 903h0M1317 902h0M1307 884h0M1298 901h0M1288 880h0M1290 896h0M1259 894h0M1289 903h0M1303 897h0M1327 904h0M1298 893h0M1309 927h0M1316 905h0M1277 911h0M1299 902h0M1297 896h0M1292 900h0M1286 890h0M1325 890h0M1314 899h0M1320 892h0M1295 880h0M1297 910h0M1323 898h0M1282 897h0M1309 890h0M1298 906h0M1287 908h0M1313 898h0M1287 889h0M1304 924h0M1283 891h0M1299 897h0M1305 881h0M1243 871h0M1251 930h0M1267 916h0M1272 827h0M1309 847h0M1226 870h0M1360 820h0M1273 946h0M1261 844h0M1263 861h0M1298 906h0M1268 865h0M1226 932h0M1278 830h0M1210 868h0M1258 891h0M1254 935h0M1275 889h0M1270 882h0M1257 933h0M1246 917h0M1276 890h0M1281 900h0M1266 884h0M1277 907h0M1279 895h0M1246 911h0M1265 929h0M1261 929h0M1278 894h0M1263 886h0M1256 931h0M1267 925h0M1254 895h0M1266 929h0M1250 904h0M1261 931h0M1273 927h0M1247 926h0M1257 893h0M1249 927h0M1279 905h0M1268 886h0M1278 902h0M1279 901h0M1261 887h0M1260 891h0M1276 891h0M1255 933h0M1249 932h0M1266 888h0M1268 888h0M1278 890h0M1265 929h0M1253 930h0M1250 898h0M1277 884h0M1248 905h0M1247 924h0M1256 894h0M1260 889h0M1279 910h0M1269 926h0M1275 913h0M1276 908h0M1279 912h0M1245 919h0M1262 930h0M1278 895h0M1278 898h0M1282 909h0M1269 887h0M1281 901h0M1261 932h0M1255 895h0M1263 886h0M1244 925h0M1247 921h0M1247 927h0M1278 895h0M1251 928h0M1270 884h0M1254 936h0M1256 934h0M1278 904h0M1267 888h0M1277 907h0M1248 907h0M1266 888h0M1249 906h0M1257 893h0M1248 930h0M1252 900h0M1276 889h0M1246 914h0M1247 927h0M1267 929h0M1274 884h0M1251 929h0M1272 924h0M1245 920h0M1246 929h0M1246 924h0M1261 890h0M1276 888h0M1262 885h0M1247 916h0M1270 884h0M1272 921h0M1275 889h0M1262 934h0M1249 936h0M1268 926h0M1247 899h0M1249 903h0M1275 889h0M1264 887h0M1242 919h0M1253 930h0M1279 909h0M1267 927h0M1278 897h0M1247 908h0M1259 937h0M1252 896h0M1255 932h0M1247 917h0M1279 894h0M1243 918h0M1248 930h0M1263 888h0M1273 886h0M1261 888h0M1274 920h0M1256 932h0M1276 891h0M1259 889h0M1262 929h0M1278 896h0M1275 889h0M1248 904h0M1273 886h0M1262 929h0M1252 936h0M1274 915h0M1246 910h0M1256 892h0M1246 913h0M1272 886h0M1280 901h0M1258 935h0M1246 924h0M1266 883h0M1276 913h0M1245 924h0M1247 916h0M1258 933h0M1250 903h0M1249 901h0M1269 886h0M1259 933h0M1246 907h0M1245 921h0M1264 931h0M1270 884h0M1270 922h0M1279 891h0M1246 912h0M1270 888h0M1258 933h0M1264 887h0M1269 923h0M1269 887h0M1276 887h0M1271 887h0" stroke="#c9cb3a" stroke-opacity=".42" stroke-width="1.7" stroke-linecap="square"/><g transform="translate(631.1 454.5) rotate(25.0)"><ellipse rx="6.8" ry="11.8" fill="#ecedbc" stroke="#fff" stroke-width=".9" stroke-opacity=".85"/><ellipse rx="7.4" ry="12.4" fill="none" stroke="#cfd15a" stroke-width=".5" stroke-opacity=".8"/><ellipse rx="4.22" ry="9.44" fill="url(#R2)"/><ellipse rx="5.83" ry="10.11" fill="none" stroke="#fff" stroke-width=".3" stroke-opacity=".55"/><ellipse rx="4.86" ry="8.43" fill="none" stroke="#fff" stroke-width=".3" stroke-opacity=".55"/><ellipse rx="3.89" ry="6.74" fill="none" stroke="#fff" stroke-width=".3" stroke-opacity=".55"/><ellipse rx="2.91" ry="5.06" fill="none" stroke="#fff" stroke-width=".3" stroke-opacity=".55"/><ellipse rx="1.94" ry="3.37" fill="none" stroke="#fff" stroke-width=".3" stroke-opacity=".55"/><ellipse rx="0.97" ry="1.69" fill="none" stroke="#fff" stroke-width=".3" stroke-opacity=".55"/><ellipse rx="0.48" ry="3.54" fill="#fff" fill-opacity=".55"/></g><rect x="593.4" y="390.5" width="91.0" height="90.9" fill="none" stroke="#999999" stroke-width="1"/><line x1="640.7" y1="390.5" x2="640.7" y2="481.4" stroke="#444" stroke-width="1"/><line x1="593.4" y1="441.2" x2="684.4" y2="441.2" stroke="#333333" stroke-width="1"/><text x="596.0" y="400.8" font-size="8.60" text-anchor="start" fill="#3a3a3a" font-weight="normal" stroke="#3a3a3a" stroke-width=".1" letter-spacing=".45"><tspan dx="-1.00">1</tspan><tspan dx="-0.90">.</tspan>89</text><text x="681.9" y="400.8" font-size="8.60" text-anchor="end" fill="#3a3a3a" font-weight="normal" stroke="#3a3a3a" stroke-width=".1" letter-spacing=".45">0.088</text><text x="596.0" y="478.8" font-size="8.60" text-anchor="start" fill="#3a3a3a" font-weight="normal" stroke="#3a3a3a" stroke-width=".1" letter-spacing=".45">96.3</text><text x="681.9" y="478.8" font-size="8.60" text-anchor="end" fill="#3a3a3a" font-weight="normal" stroke="#3a3a3a" stroke-width=".1" letter-spacing=".45"><tspan dx="-1.00">1</tspan><tspan dx="-0.90">.</tspan>76</text><text transform="translate(36.8 480.8) rotate(-90)" font-size="8.6" fill="#3a3a3a">IFNγ-BV650</text><line x1="33.5" y1="427.9" x2="33.5" y2="393.0" stroke="#4a6385" stroke-width="1"/><path d="M33.5 390.9l-1.7 3.6h3.4z" fill="#4a6385"/><text x="44.9" y="494.2" font-size="8.20" text-anchor="start" fill="#3a3a3a" font-weight="normal" stroke="#3a3a3a" stroke-width=".1" >IL-4 BV421</text><line x1="89.0" y1="491.5" x2="332" y2="491.5" stroke="#4a6385" stroke-width="1"/><path d="M335 491.5l-3.6 -1.7v3.4z" fill="#4a6385"/><text transform="translate(387.5 480.6) rotate(-90)" font-size="8.05" fill="#3a3a3a">IL-17A BV421</text><line x1="384.5" y1="427.9" x2="384.5" y2="393.0" stroke="#4a6385" stroke-width="1"/><path d="M384.5 390.9l-1.7 3.6h3.4z" fill="#4a6385"/><text x="396.0" y="494.2" font-size="8.60" text-anchor="start" fill="#3a3a3a" font-weight="normal" stroke="#3a3a3a" stroke-width=".1" >IFNγ AF488</text><line x1="447.7" y1="491.5" x2="681" y2="491.5" stroke="#4a6385" stroke-width="1"/><path d="M684.5 491.5l-3.6 -1.7v3.4z" fill="#4a6385"/><text x="-0.3" y="509.2" font-size="12.50" text-anchor="start" fill="#000" font-weight="bold" >e</text><text x="349.6" y="509.2" font-size="12.50" text-anchor="start" fill="#000" font-weight="bold" >k</text><text x="0.8" y="560.7" font-size="8.20" text-anchor="start" fill="#3a3a3a" font-weight="normal" stroke="#3a3a3a" stroke-width=".1" letter-spacing="-0.55">BPTES</text><text x="350.1" y="560.7" font-size="8.20" text-anchor="start" fill="#3a3a3a" font-weight="normal" stroke="#3a3a3a" stroke-width=".1" letter-spacing="-0.55">BPTES</text><text x="2.3" y="570.8" font-size="8.20" text-anchor="start" fill="#3a3a3a" font-weight="normal" stroke="#3a3a3a" stroke-width=".1" letter-spacing="0.30">3 µM</text><text x="351.6" y="570.8" font-size="8.20" text-anchor="start" fill="#3a3a3a" font-weight="normal" stroke="#3a3a3a" stroke-width=".1" letter-spacing="0.30">3 µM</text><text x="89.9" y="512.6" font-size="8.90" text-anchor="middle" fill="#3a3a3a">Con</text><path transform="scale(.5)" d="M142 1123h0M146 1067h0M144 1151h0M152 1135h0M126 1108h0M165 1093h0M139 1103h0M148 1117h0M140 1159h0M142 1143h0M152 1125h0M130 1124h0M150 1110h0M158 1163h0M141 1078h0M144 1111h0M130 1130h0M147 1099h0M152 1097h0M141 1113h0M148 1134h0M157 1142h0M141 1127h0M151 1177h0M130 1141h0M156 1122h0M128 1142h0M143 1106h0M138 1155h0M145 1158h0M140 1126h0M140 1143h0M133 1135h0M140 1076h0M158 1115h0M153 1108h0M152 1106h0M156 1120h0M138 1141h0M155 1131h0M134 1099h0M141 1100h0M136 1164h0M147 1106h0M137 1100h0M146 1154h0M161 1107h0M145 1125h0M145 1106h0M141 1116h0M151 1075h0M163 1097h0M144 1118h0M145 1112h0M132 1142h0M159 1116h0M156 1135h0M125 1134h0M159 1103h0M145 1144h0M151 1134h0M146 1132h0M163 1146h0M133 1166h0M144 1119h0M152 1103h0M128 1121h0M140 1103h0M131 1152h0M139 1150h0M147 1091h0M133 1111h0M129 1125h0M130 1161h0M141 1098h0M148 1132h0M136 1131h0M134 1116h0M149 1111h0M156 1090h0M148 1113h0M142 1119h0M140 1119h0M147 1111h0M128 1147h0M152 1141h0M150 1132h0M152 1091h0M148 1093h0M145 1130h0M143 1114h0M136 1117h0M129 1110h0M146 1093h0M130 1098h0M157 1087h0M131 1183h0M135 1142h0M149 1131h0M154 1196h0M136 1097h0M138 1155h0M137 1101h0M150 1096h0M148 1091h0M147 1138h0M143 1099h0M124 1134h0M117 1159h0M133 1111h0M133 1146h0M154 1083h0M149 1082h0M137 1115h0M150 1138h0M133 1148h0M134 1118h0M147 1113h0M140 1124h0M155 1152h0M147 1131h0M144 1103h0M145 1117h0M131 1109h0M148 1134h0M143 1154h0M130 1134h0M141 1119h0M163 1125h0M142 1140h0M149 1104h0M154 1127h0M140 1134h0M159 1134h0M141 1118h0M136 1125h0M139 1123h0M140 1139h0M162 1101h0M144 1137h0M156 1119h0M134 1135h0M141 1138h0M139 1108h0M130 1164h0M129 1066h0M148 1148h0M170 1160h0M135 1142h0M144 1093h0M141 1128h0M144 1112h0M135 1141h0M138 1130h0M142 1066h0M130 1077h0M127 1083h0M137 1164h0M139 1153h0M127 1103h0M118 1129h0M141 1176h0M134 1113h0M150 1104h0M156 1119h0M134 1116h0M145 1152h0M133 1116h0M127 1098h0M136 1132h0M140 1134h0M150 1124h0M133 1133h0M154 1125h0M168 1093h0M151 1103h0M148 1162h0M148 1120h0M138 1113h0M144 1121h0M128 1175h0M152 1098h0M148 1137h0M154 1145h0M140 1125h0M134 1085h0M152 1163h0M155 1168h0M155 1099h0M157 1165h0M142 1110h0M150 1109h0M148 1111h0M142 1111h0M131 1100h0M149 1116h0M132 1114h0M152 1091h0M139 1138h0M154 1126h0M143 1132h0M132 1133h0M128 1119h0M151 1127h0M147 1167h0M139 1113h0M143 1099h0M130 1093h0M126 1110h0M146 1124h0M140 1117h0M156 1084h0M155 1086h0M142 1147h0M145 1146h0M131 1162h0M144 1143h0M162 1127h0M142 1162h0M125 1100h0M142 1135h0M157 1120h0M146 1123h0M132 1084h0M138 1093h0M146 1056h0M137 1116h0M136 1145h0M146 1119h0M136 1185h0M142 1079h0M141 1152h0M141 1118h0M158 1156h0M136 1144h0M134 1140h0M139 1141h0M129 1124h0M140 1127h0M146 1121h0M128 1088h0M183 1070h0M154 1120h0M135 1145h0M147 1124h0M149 1104h0M150 1127h0M143 1118h0M131 1109h0M141 1116h0M140 1141h0M141 1112h0M138 1092h0M154 1134h0M148 1090h0M153 1146h0M155 1139h0M137 1137h0M147 1143h0M158 1094h0M156 1127h0M150 1133h0M154 1187h0M135 1135h0M152 1160h0M139 1111h0M124 1086h0M146 1147h0M144 1123h0M146 1088h0M148 1110h0M154 1112h0M139 1131h0M150 1149h0M156 1116h0M153 1142h0M131 1100h0M153 1126h0M136 1113h0M141 1122h0M148 1125h0M143 1134h0M138 1140h0M148 1111h0M136 1129h0M152 1132h0M153 1149h0M133 1125h0M142 1133h0M151 1101h0M165 1139h0M132 1151h0M143 1143h0M144 1121h0M123 1112h0M139 1141h0M142 1142h0M144 1114h0M161 1130h0M124 1120h0M134 1119h0M143 1133h0M132 1102h0M153 1087h0M145 1061h0M153 1087h0M138 1136h0M124 1080h0M143 1109h0M144 1150h0M149 1083h0M164 1138h0M131 1161h0M139 1118h0M128 1137h0M140 1102h0M136 1166h0M135 1157h0M126 1177h0M142 1123h0M141 1090h0M134 1109h0M156 1066h0M149 1072h0M137 1098h0M136 1110h0M150 1104h0M142 1139h0M166 1124h0M129 1118h0M170 1153h0M156 1064h0M113 1152h0M119 1170h0M138 1129h0M162 1144h0M168 1086h0M188 1186h0M187 1172h0M170 1117h0M158 1088h0M116 1140h0M135 1082h0M140 1086h0M153 1170h0M161 1188h0M148 1071h0M129 1165h0M119 1130h0M126 1070h0M140 1077h0M150 1086h0M130 1098h0M137 1085h0M138 1084h0M132 1097h0M143 1081h0M157 1093h0M165 1142h0M153 1093h0M132 1092h0M138 1088h0M131 1168h0M145 1078h0M146 1079h0M144 1173h0M122 1125h0M156 1093h0M162 1153h0M134 1174h0M117 1149h0M131 1100h0M147 1180h0M142 1182h0M159 1161h0M123 1143h0M118 1152h0M142 1069h0M124 1132h0M119 1096h0M134 1088h0M130 1157h0M138 1078h0M138 1166h0M124 1124h0M128 1093h0M136 1079h0M166 1142h0M125 1143h0M124 1136h0M140 1176h0M154 1074h0M137 1078h0M142 1072h0M128 1148h0M162 1111h0M128 1084h0M120 1107h0M139 1080h0M127 1119h0M131 1075h0M171 1142h0M125 1100h0M123 1162h0M134 1086h0M133 1091h0M120 1128h0M160 1076h0M148 1081h0M146 1077h0M149 1169h0M163 1106h0M160 1103h0M132 1092h0M125 1159h0M158 1081h0M124 1107h0M148 1084h0M141 1079h0M148 1088h0M144 1086h0M123 1122h0M129 1108h0M127 1150h0M140 1086h0M155 1090h0M162 1115h0M148 1086h0M163 1137h0M136 1174h0M161 1118h0M123 1129h0M123 1098h0M124 1122h0M148 1082h0M130 1155h0M127 1144h0M126 1138h0M146 1088h0M141 1087h0M152 1081h0M126 1144h0M139 1084h0M127 1109h0M148 1079h0M131 1087h0M157 1089h0M162 1101h0M151 1076h0M141 1065h0M129 1103h0M175 1145h0M169 1098h0M123 1161h0M153 1086h0M161 1128h0M151 1185h0M143 1188h0M135 1164h0M153 1061h0M168 1139h0M155 1072h0M127 1081h0M156 1087h0M142 1071h0M174 1109h0M142 1170h0M148 1074h0M140 1080h0M164 1092h0M152 1181h0M137 1171h0M155 1096h0M162 1141h0M152 1166h0M129 1161h0M151 1092h0M129 1145h0M155 1096h0M129 1159h0M165 1119h0M128 1148h0M142 1171h0M126 1098h0M157 1072h0M161 1108h0M150 1082h0M119 1102h0M164 1144h0M157 1094h0M164 1087h0M160 1157h0M144 1083h0M146 1177h0M136 1068h0M152 1177h0M149 1178h0M128 1112h0M169 1111h0M130 1094h0M156 1180h0M120 1132h0M163 1179h0M121 1143h0M120 1168h0M164 1177h0M125 1130h0M129 1151h0M151 1186h0M161 1159h0M140 1080h0M118 1154h0M123 1140h0M127 1131h0M150 1170h0M146 1066h0M145 1071h0M162 1119h0M116 1141h0M145 1087h0M153 1095h0M152 1173h0M138 1074h0M154 1095h0M144 1084h0M116 1092h0M160 1111h0M131 1100h0M130 1087h0M132 1081h0M159 1075h0M165 1123h0M158 1155h0M126 1099h0M133 1169h0M128 1069h0M145 1087h0M124 1134h0M144 1083h0M151 1082h0M157 1096h0M129 1092h0M135 1069h0M145 1087h0M165 1099h0M141 1089h0M145 1072h0M149 1085h0M150 1078h0M164 1140h0M164 1133h0M143 1183h0M147 1082h0M159 1153h0M157 1101h0M123 1119h0M163 1166h0M125 1121h0M140 1176h0M152 1091h0M126 1131h0M127 1114h0M161 1181h0M125 1094h0M130 1100h0M146 1079h0M123 1108h0M135 1092h0M122 1118h0M162 1160h0M132 1088h0M163 1117h0M125 1122h0M151 1165h0M128 1088h0M135 1093h0M146 1074h0M158 1093h0M168 1099h0M159 1105h0M133 1095h0M133 1080h0M166 1165h0M149 1087h0M144 1073h0M164 1155h0M144 1081h0M137 1085h0M153 1084h0M148 1084h0M159 1170h0M153 1167h0M152 1089h0M133 1094h0M119 1152h0M135 1092h0M159 1076h0M161 1122h0M124 1102h0M160 1107h0M164 1117h0M125 1157h0M158 1096h0M131 1100h0M129 1086h0M121 1131h0M133 1081h0M137 1083h0M147 1190h0M134 1076h0M145 1073h0M162 1089h0M131 1075h0M129 1071h0M127 1118h0M122 1116h0M151 1061h0M141 1086h0M131 1095h0M129 1101h0M149 1077h0M161 1145h0M141 1073h0M156 1072h0M166 1146h0M136 1163h0M163 1115h0M123 1117h0M166 1106h0M128 1154h0M155 1087h0M140 1090h0M151 1093h0M119 1149h0M163 1155h0M152 1164h0M117 1112h0M120 1161h0M137 1078h0M167 1114h0M144 1088h0M135 1082h0M136 1080h0M129 1171h0M128 1088h0M125 1113h0M147 1069h0M132 1159h0M162 1189h0M131 1186h0M161 1155h0M129 1090h0M156 1060h0M133 1082h0M149 1085h0M135 1087h0M160 1164h0M123 1140h0M163 1125h0M151 1171h0M148 1085h0M153 1088h0M152 1165h0M132 1090h0M131 1164h0M127 1090h0M130 1169h0M127 1140h0M139 1084h0M144 1089h0M154 1094h0M147 1088h0M126 1165h0M162 1101h0M130 1159h0M145 1177h0M155 1168h0M128 1142h0M151 1085h0M146 1088h0M131 1084h0M133 1159h0M126 1093h0M128 1104h0M137 1092h0M162 1123h0M160 1109h0M124 1152h0M155 1089h0M162 1135h0M158 1099h0M148 1081h0M155 1090h0M155 1085h0M153 1191h0M134 1094h0M157 1164h0M161 1141h0M124 1113h0M146 1173h0M120 1107h0M126 1116h0M126 1098h0M125 1141h0M129 1104h0M130 1168h0M153 1093h0M114 1127h0M122 1121h0M142 1173h0M156 1159h0M164 1082h0M143 1172h0M163 1135h0M136 1081h0M152 1069h0M122 1153h0M138 1088h0M126 1130h0M150 1091h0M138 1170h0M126 1109h0M144 1080h0M163 1110h0M132 1078h0M144 1168h0M140 1079h0M124 1111h0M164 1071h0M142 1084h0M167 1117h0M125 1081h0M145 1074h0M161 1152h0M124 1088h0M156 1091h0M159 1161h0M136 1091h0M161 1119h0M122 1092h0" stroke="#72bf52" stroke-opacity=".42" stroke-width="1.7" stroke-linecap="square"/><g transform="translate(72.0 564.0) rotate(0.0)"><ellipse rx="9.0" ry="20.5" fill="url(#g13)" stroke="#8fcd72" stroke-width=".6" stroke-opacity=".8"/><ellipse cx="0.00" cy="0.57" rx="7.71" ry="17.57" fill="none" stroke="#fff" stroke-width=".4" stroke-opacity=".6"/><ellipse cx="0.00" cy="1.14" rx="6.43" ry="14.64" fill="none" stroke="#fff" stroke-width=".4" stroke-opacity=".6"/><ellipse cx="0.00" cy="1.71" rx="5.14" ry="11.71" fill="none" stroke="#fff" stroke-width=".4" stroke-opacity=".6"/><ellipse cx="0.00" cy="2.29" rx="3.86" ry="8.79" fill="none" stroke="#fff" stroke-width=".4" stroke-opacity=".6"/><ellipse cx="0.00" cy="2.86" rx="2.57" ry="5.86" fill="none" stroke="#fff" stroke-width=".4" stroke-opacity=".6"/><ellipse cx="0.00" cy="3.43" rx="1.29" ry="2.93" fill="none" stroke="#fff" stroke-width=".4" stroke-opacity=".6"/><ellipse cx="0.00" cy="4.00" rx="0.90" ry="4.51" fill="#fff" fill-opacity=".75"/></g><rect x="44.5" y="516.3" width="90.8" height="90.9" fill="none" stroke="#999999" stroke-width="1"/><line x1="82.4" y1="516.3" x2="82.4" y2="607.2" stroke="#444" stroke-width="1"/><line x1="44.5" y1="566.6" x2="135.3" y2="566.6" stroke="#333333" stroke-width="1"/><text x="46.8" y="525.9" font-size="8.60" text-anchor="start" fill="#3a3a3a" font-weight="normal" stroke="#3a3a3a" stroke-width=".1" letter-spacing=".45">5<tspan dx="-0.60">1</tspan><tspan dx="-0.90">.</tspan>6</text><text x="46.8" y="604.0" font-size="8.60" text-anchor="start" fill="#3a3a3a" font-weight="normal" stroke="#3a3a3a" stroke-width=".1" letter-spacing=".45">48.2</text><text x="190.6" y="512.6" font-size="8.90" text-anchor="middle" fill="#3a3a3a">IPA100</text><path transform="scale(.5)" d="M328 1169h0M327 1134h0M323 1120h0M345 1136h0M343 1135h0M337 1111h0M349 1131h0M327 1125h0M342 1158h0M344 1115h0M333 1155h0M338 1133h0M332 1166h0M340 1102h0M321 1136h0M349 1111h0M349 1102h0M331 1142h0M357 1142h0M352 1109h0M356 1121h0M357 1149h0M347 1106h0M334 1102h0M326 1111h0M331 1151h0M338 1128h0M329 1121h0M356 1102h0M352 1114h0M333 1140h0M345 1117h0M343 1099h0M332 1110h0M351 1083h0M356 1130h0M334 1088h0M358 1113h0M340 1138h0M342 1170h0M334 1106h0M345 1118h0M349 1118h0M324 1106h0M338 1175h0M336 1154h0M354 1125h0M362 1110h0M346 1092h0M345 1118h0M340 1119h0M342 1119h0M319 1115h0M353 1087h0M360 1141h0M350 1107h0M349 1125h0M357 1131h0M336 1102h0M348 1138h0M344 1153h0M350 1118h0M341 1170h0M358 1146h0M341 1120h0M336 1063h0M345 1104h0M316 1105h0M341 1163h0M332 1145h0M338 1117h0M353 1149h0M341 1130h0M324 1067h0M344 1111h0M337 1135h0M357 1117h0M351 1132h0M343 1128h0M336 1115h0M344 1155h0M343 1123h0M333 1145h0M335 1124h0M346 1090h0M352 1135h0M349 1144h0M348 1125h0M336 1128h0M342 1139h0M330 1099h0M333 1113h0M333 1159h0M349 1110h0M343 1141h0M351 1089h0M351 1101h0M343 1109h0M337 1115h0M320 1159h0M344 1115h0M332 1142h0M332 1129h0M334 1078h0M365 1119h0M330 1132h0M342 1117h0M345 1108h0M343 1106h0M328 1122h0M327 1140h0M351 1095h0M341 1107h0M328 1140h0M353 1134h0M331 1144h0M328 1126h0M361 1105h0M344 1137h0M329 1180h0M329 1162h0M326 1109h0M331 1091h0M346 1117h0M331 1167h0M353 1105h0M338 1103h0M330 1120h0M337 1114h0M334 1120h0M346 1106h0M348 1147h0M350 1111h0M339 1098h0M330 1164h0M350 1147h0M333 1084h0M340 1109h0M326 1120h0M334 1108h0M345 1101h0M356 1109h0M338 1116h0M346 1138h0M349 1120h0M344 1107h0M341 1118h0M336 1117h0M346 1154h0M347 1113h0M328 1130h0M354 1135h0M357 1064h0M352 1182h0M346 1112h0M342 1127h0M348 1147h0M351 1119h0M334 1168h0M351 1117h0M333 1111h0M333 1160h0M356 1112h0M337 1099h0M358 1099h0M340 1074h0M337 1160h0M350 1133h0M354 1136h0M342 1089h0M336 1105h0M364 1153h0M345 1105h0M358 1134h0M343 1128h0M347 1149h0M347 1107h0M355 1136h0M343 1136h0M332 1059h0M359 1171h0M357 1139h0M352 1176h0M346 1101h0M342 1123h0M333 1104h0M346 1135h0M339 1154h0M340 1111h0M349 1126h0M333 1127h0M358 1136h0M336 1124h0M357 1155h0M342 1142h0M337 1139h0M347 1094h0M345 1122h0M343 1117h0M331 1094h0M339 1157h0M334 1128h0M344 1102h0M340 1149h0M333 1126h0M328 1108h0M350 1123h0M353 1101h0M347 1115h0M350 1164h0M343 1177h0M341 1086h0M344 1115h0M335 1157h0M347 1081h0M343 1135h0M338 1122h0M347 1130h0M336 1148h0M327 1099h0M328 1098h0M343 1139h0M343 1121h0M330 1127h0M349 1129h0M328 1129h0M342 1123h0M340 1152h0M336 1133h0M347 1113h0M350 1167h0M327 1079h0M323 1158h0M343 1119h0M328 1132h0M343 1103h0M340 1091h0M337 1093h0M344 1101h0M341 1130h0M346 1101h0M341 1119h0M336 1105h0M351 1098h0M332 1147h0M352 1122h0M345 1133h0M345 1126h0M335 1126h0M356 1134h0M333 1122h0M316 1143h0M351 1134h0M353 1117h0M336 1110h0M371 1136h0M328 1126h0M337 1133h0M341 1114h0M347 1121h0M340 1157h0M358 1124h0M332 1098h0M341 1136h0M343 1136h0M332 1157h0M343 1153h0M349 1127h0M351 1132h0M327 1125h0M336 1105h0M340 1110h0M336 1124h0M346 1110h0M345 1087h0M333 1117h0M336 1122h0M332 1123h0M352 1121h0M342 1113h0M332 1127h0M366 1158h0M351 1124h0M341 1132h0M341 1118h0M330 1102h0M337 1138h0M339 1125h0M341 1106h0M337 1101h0M344 1119h0M357 1120h0M343 1099h0M348 1160h0M353 1134h0M358 1123h0M346 1134h0M341 1107h0M339 1143h0M334 1142h0M340 1155h0M331 1106h0M344 1137h0M329 1119h0M328 1147h0M341 1108h0M353 1179h0M336 1093h0M337 1127h0M338 1133h0M352 1089h0M332 1105h0M341 1121h0M341 1146h0M351 1139h0M336 1115h0M331 1152h0M330 1118h0M334 1120h0M337 1170h0M350 1140h0M326 1140h0M358 1102h0M349 1122h0M337 1126h0M348 1101h0M348 1079h0M337 1095h0M338 1101h0M345 1151h0M356 1168h0M341 1143h0M336 1146h0M332 1147h0M334 1100h0M342 1057h0M342 1130h0M345 1097h0M329 1121h0M323 1116h0M350 1111h0M345 1125h0M347 1154h0M351 1108h0M339 1152h0M340 1152h0M346 1115h0M353 1156h0M329 1135h0M330 1115h0M339 1142h0M339 1138h0M334 1127h0M346 1114h0M335 1113h0M351 1127h0M353 1157h0M320 1115h0M322 1113h0M323 1120h0M335 1124h0M331 1187h0M344 1131h0M342 1097h0M335 1124h0M369 1116h0M341 1133h0M330 1130h0M348 1103h0M325 1128h0M331 1093h0M358 1142h0M330 1118h0M343 1151h0M339 1144h0M349 1189h0M344 1078h0M332 1121h0M343 1126h0M360 1093h0M361 1164h0M338 1159h0M383 1145h0M384 1073h0M336 1069h0M334 1063h0M315 1085h0M323 1174h0M349 1064h0M316 1164h0M335 1093h0M356 1080h0M323 1107h0M346 1175h0M357 1110h0M360 1100h0M359 1146h0M349 1074h0M334 1088h0M347 1094h0M322 1158h0M359 1119h0M327 1142h0M319 1102h0M353 1100h0M345 1087h0M362 1113h0M338 1082h0M315 1111h0M314 1117h0M319 1148h0M379 1146h0M332 1168h0M341 1085h0M318 1106h0M334 1075h0M335 1168h0M339 1091h0M326 1166h0M361 1131h0M349 1178h0M351 1089h0M322 1083h0M325 1132h0M355 1102h0M356 1166h0M335 1172h0M327 1117h0M330 1183h0M359 1117h0M328 1116h0M312 1175h0M323 1097h0M330 1098h0M357 1094h0M355 1090h0M326 1098h0M317 1151h0M349 1096h0M356 1082h0M334 1086h0M329 1107h0M328 1090h0M341 1071h0M360 1138h0M348 1088h0M352 1092h0M324 1159h0M329 1102h0M333 1164h0M348 1170h0M329 1115h0M360 1114h0M357 1093h0M361 1091h0M353 1089h0M359 1152h0M322 1158h0M360 1094h0M353 1091h0M340 1087h0M362 1137h0M350 1093h0M341 1086h0M358 1103h0M327 1109h0M325 1135h0M327 1111h0M330 1103h0M346 1089h0M333 1171h0M337 1181h0M323 1126h0M324 1114h0M334 1075h0M345 1090h0M326 1148h0M342 1084h0M322 1113h0M366 1094h0M342 1084h0M324 1122h0M340 1076h0M342 1082h0M347 1071h0M328 1152h0M357 1094h0M341 1172h0M342 1086h0M342 1084h0M356 1101h0M359 1115h0M330 1084h0M354 1093h0M323 1113h0M327 1167h0M358 1083h0M367 1111h0M351 1091h0M350 1170h0M317 1118h0M367 1111h0M356 1163h0M329 1163h0M345 1173h0M327 1144h0M338 1091h0M326 1141h0M332 1172h0M329 1114h0M324 1112h0M365 1104h0M352 1082h0M351 1079h0M363 1123h0M340 1076h0M335 1079h0M333 1086h0M325 1131h0M361 1114h0M326 1143h0M360 1090h0M363 1164h0M358 1091h0M328 1113h0M350 1091h0M340 1086h0M341 1063h0M353 1090h0M354 1096h0M359 1064h0M362 1125h0M344 1073h0M339 1078h0M339 1080h0M338 1090h0M333 1092h0M363 1094h0M326 1097h0M345 1171h0M365 1159h0M350 1090h0M334 1088h0M365 1153h0M323 1126h0M359 1162h0M332 1160h0M340 1084h0M323 1120h0M332 1160h0M361 1126h0M335 1182h0M364 1124h0M354 1173h0M345 1080h0M352 1098h0M358 1097h0M358 1155h0M334 1162h0M354 1167h0M337 1090h0M322 1103h0M325 1137h0M369 1102h0M351 1178h0M360 1101h0M353 1061h0M344 1091h0M337 1087h0M340 1170h0M322 1143h0M350 1186h0M361 1114h0M332 1170h0M324 1131h0M321 1108h0M335 1167h0M313 1128h0M353 1175h0M339 1183h0M357 1109h0M361 1122h0M355 1178h0M337 1089h0M362 1139h0M349 1078h0M349 1169h0M356 1104h0M323 1133h0M366 1121h0M331 1093h0M324 1135h0M359 1145h0M360 1121h0M360 1138h0M364 1160h0M338 1175h0M341 1086h0M356 1082h0M322 1083h0M344 1191h0M345 1085h0M358 1084h0M348 1076h0M350 1091h0M322 1139h0M346 1090h0M364 1145h0M324 1125h0M352 1177h0M324 1115h0M355 1094h0M340 1090h0M368 1156h0M323 1130h0M329 1159h0M338 1095h0M351 1086h0M331 1102h0M327 1124h0M327 1138h0M333 1096h0M358 1088h0M324 1126h0M347 1079h0M322 1157h0M337 1089h0M350 1190h0M354 1166h0M333 1189h0M362 1170h0M354 1101h0M355 1076h0M343 1172h0M357 1158h0M333 1163h0M349 1090h0M341 1089h0M338 1094h0M361 1110h0M346 1077h0M337 1095h0M325 1090h0M324 1125h0M322 1130h0M358 1096h0M353 1098h0M323 1105h0M333 1091h0M329 1105h0M344 1093h0M341 1076h0M338 1089h0M356 1100h0M353 1097h0M318 1103h0M317 1111h0M357 1164h0M359 1091h0M326 1114h0M355 1092h0M345 1176h0M322 1123h0M359 1134h0M328 1161h0M347 1177h0M345 1093h0M361 1117h0M352 1067h0M335 1094h0M332 1099h0M351 1175h0M342 1093h0M345 1174h0M346 1083h0M326 1092h0M356 1161h0M352 1068h0M334 1080h0M335 1093h0M351 1078h0M371 1116h0M334 1178h0M331 1106h0M352 1191h0M353 1168h0M358 1102h0M339 1185h0M368 1113h0M340 1093h0M350 1093h0M354 1075h0M363 1134h0M330 1075h0M354 1097h0M345 1171h0M344 1081h0M327 1073h0M348 1077h0M328 1084h0M351 1087h0M324 1088h0M324 1120h0M327 1094h0M332 1100h0M367 1168h0M347 1092h0M363 1117h0M353 1079h0M318 1168h0M333 1095h0M330 1157h0M335 1091h0M329 1111h0M345 1091h0M345 1198h0M332 1066h0M324 1126h0M345 1177h0M348 1086h0M365 1139h0M336 1088h0M330 1169h0M342 1091h0M341 1088h0M356 1084h0M362 1096h0M316 1123h0M362 1147h0M340 1171h0M358 1084h0M346 1090h0M324 1117h0M368 1114h0M355 1085h0M359 1149h0M348 1095h0M342 1085h0M329 1089h0M361 1150h0M367 1128h0M351 1097h0M354 1164h0M342 1073h0M358 1081h0M324 1096h0M314 1127h0M352 1090h0M341 1090h0M355 1105h0M322 1144h0M331 1159h0M338 1095h0M351 1091h0M360 1149h0M362 1135h0M322 1148h0M338 1072h0M353 1074h0M334 1094h0M351 1091h0M329 1109h0M356 1090h0M324 1133h0M333 1182h0M350 1082h0M342 1175h0M351 1094h0M335 1174h0M365 1144h0M358 1149h0M335 1092h0M339 1079h0M328 1142h0M358 1112h0M348 1088h0M353 1093h0M323 1111h0M331 1183h0M332 1074h0M319 1113h0M358 1105h0M327 1114h0M361 1089h0M338 1084h0M340 1175h0M355 1164h0M332 1172h0M337 1172h0M325 1112h0" stroke="#3b86d6" stroke-opacity=".42" stroke-width="1.7" stroke-linecap="square"/><g transform="translate(171.6 565.5) rotate(0.0)"><ellipse rx="8.5" ry="20.0" fill="url(#g14)" stroke="#6ea7e4" stroke-width=".6" stroke-opacity=".8"/><ellipse cx="0.00" cy="0.71" rx="7.29" ry="17.14" fill="none" stroke="#fff" stroke-width=".4" stroke-opacity=".6"/><ellipse cx="0.00" cy="1.43" rx="6.07" ry="14.29" fill="none" stroke="#fff" stroke-width=".4" stroke-opacity=".6"/><ellipse cx="0.00" cy="2.14" rx="4.86" ry="11.43" fill="none" stroke="#fff" stroke-width=".4" stroke-opacity=".6"/><ellipse cx="0.00" cy="2.86" rx="3.64" ry="8.57" fill="none" stroke="#fff" stroke-width=".4" stroke-opacity=".6"/><ellipse cx="0.00" cy="3.57" rx="2.43" ry="5.71" fill="none" stroke="#fff" stroke-width=".4" stroke-opacity=".6"/><ellipse cx="0.00" cy="4.29" rx="1.21" ry="2.86" fill="none" stroke="#fff" stroke-width=".4" stroke-opacity=".6"/><ellipse cx="0.00" cy="5.00" rx="0.85" ry="4.40" fill="#fff" fill-opacity=".75"/></g><rect x="144.8" y="516.3" width="91.5" height="90.9" fill="none" stroke="#999999" stroke-width="1"/><line x1="183.4" y1="516.3" x2="183.4" y2="607.2" stroke="#444" stroke-width="1"/><line x1="144.8" y1="566.9" x2="236.3" y2="566.9" stroke="#333333" stroke-width="1"/><text x="147.1" y="525.9" font-size="8.60" text-anchor="start" fill="#3a3a3a" font-weight="normal" stroke="#3a3a3a" stroke-width=".1" letter-spacing=".45">32.8</text><text x="147.1" y="604.0" font-size="8.60" text-anchor="start" fill="#3a3a3a" font-weight="normal" stroke="#3a3a3a" stroke-width=".1" letter-spacing=".45">67.<tspan dx="-0.60">1</tspan></text><text x="289.9" y="512.6" font-size="8.90" text-anchor="middle" fill="#3a3a3a">IPA1000</text><path transform="scale(.5)" d="M536 1116h0M534 1121h0M535 1098h0M523 1125h0M549 1134h0M530 1164h0M555 1147h0M544 1142h0M539 1105h0M551 1089h0M547 1101h0M543 1116h0M556 1167h0M525 1131h0M544 1106h0M514 1125h0M546 1149h0M536 1157h0M536 1118h0M554 1117h0M532 1121h0M543 1152h0M530 1119h0M559 1094h0M547 1099h0M540 1113h0M537 1129h0M542 1103h0M555 1176h0M544 1112h0M535 1119h0M528 1157h0M541 1126h0M530 1125h0M559 1110h0M553 1128h0M542 1150h0M541 1121h0M530 1123h0M532 1121h0M547 1136h0M523 1124h0M535 1151h0M554 1141h0M549 1134h0M531 1077h0M537 1108h0M550 1156h0M551 1117h0M537 1101h0M536 1148h0M541 1115h0M539 1108h0M534 1110h0M548 1135h0M542 1117h0M532 1165h0M543 1102h0M558 1104h0M526 1126h0M542 1127h0M548 1121h0M533 1117h0M535 1155h0M535 1126h0M545 1105h0M538 1145h0M533 1142h0M538 1137h0M542 1127h0M541 1117h0M534 1130h0M549 1126h0M553 1126h0M530 1160h0M548 1162h0M535 1156h0M547 1104h0M562 1109h0M536 1136h0M533 1147h0M552 1112h0M533 1110h0M564 1127h0M542 1175h0M546 1098h0M539 1148h0M540 1138h0M527 1133h0M549 1093h0M541 1133h0M543 1109h0M556 1126h0M543 1106h0M543 1118h0M523 1129h0M553 1099h0M545 1115h0M546 1119h0M545 1076h0M541 1138h0M538 1156h0M533 1127h0M540 1146h0M546 1171h0M521 1107h0M529 1136h0M547 1112h0M546 1101h0M550 1083h0M551 1145h0M538 1133h0M549 1106h0M549 1113h0M538 1087h0M538 1130h0M539 1156h0M551 1067h0M552 1124h0M527 1125h0M541 1119h0M528 1120h0M556 1086h0M525 1099h0M529 1109h0M536 1064h0M546 1106h0M526 1165h0M554 1126h0M551 1108h0M539 1140h0M534 1158h0M537 1194h0M548 1135h0M537 1153h0M544 1118h0M539 1140h0M545 1124h0M541 1100h0M542 1142h0M529 1132h0M561 1096h0M548 1132h0M543 1120h0M543 1137h0M546 1116h0M539 1085h0M546 1138h0M546 1111h0M522 1111h0M544 1115h0M550 1086h0M542 1148h0M548 1096h0M527 1097h0M543 1145h0M548 1059h0M538 1111h0M531 1124h0M549 1107h0M546 1138h0M532 1143h0M533 1099h0M542 1136h0M546 1105h0M540 1102h0M536 1119h0M550 1128h0M523 1122h0M546 1081h0M535 1105h0M548 1120h0M553 1099h0M541 1144h0M548 1152h0M553 1149h0M552 1120h0M556 1087h0M528 1102h0M544 1133h0M552 1118h0M535 1138h0M541 1165h0M521 1085h0M521 1100h0M532 1130h0M535 1157h0M532 1114h0M551 1123h0M544 1126h0M550 1160h0M542 1100h0M535 1112h0M550 1134h0M534 1121h0M551 1142h0M550 1131h0M537 1116h0M536 1110h0M551 1174h0M544 1130h0M541 1088h0M541 1136h0M540 1173h0M544 1152h0M548 1144h0M509 1115h0M518 1110h0M531 1127h0M535 1124h0M550 1137h0M551 1108h0M547 1108h0M531 1162h0M527 1103h0M535 1110h0M541 1142h0M538 1136h0M553 1119h0M533 1153h0M547 1121h0M539 1121h0M529 1099h0M538 1092h0M549 1155h0M548 1118h0M531 1146h0M552 1126h0M552 1100h0M544 1158h0M550 1111h0M533 1149h0M543 1137h0M545 1142h0M533 1094h0M532 1104h0M552 1167h0M537 1086h0M535 1154h0M552 1166h0M556 1098h0M541 1102h0M525 1111h0M545 1126h0M546 1124h0M562 1098h0M549 1094h0M551 1109h0M550 1123h0M539 1131h0M530 1127h0M524 1159h0M561 1119h0M534 1121h0M538 1104h0M543 1123h0M544 1141h0M561 1114h0M552 1166h0M547 1113h0M557 1109h0M531 1084h0M585 1186h0M526 1153h0M548 1095h0M541 1084h0M569 1111h0M544 1096h0M532 1193h0M567 1120h0M551 1097h0M523 1096h0M566 1152h0M541 1173h0M537 1105h0M527 1170h0M531 1171h0M550 1173h0M560 1157h0M520 1103h0M522 1147h0M525 1131h0M535 1107h0M522 1125h0M554 1113h0M537 1094h0M535 1177h0M546 1181h0M526 1117h0M519 1100h0M532 1185h0M524 1116h0M561 1124h0M557 1164h0M528 1110h0M519 1139h0M542 1090h0M535 1097h0M520 1147h0M557 1151h0M547 1101h0M553 1106h0M535 1170h0M565 1134h0M553 1101h0M520 1170h0M557 1108h0M522 1170h0M555 1174h0M554 1102h0M526 1114h0M531 1106h0M539 1172h0M556 1120h0M544 1106h0M551 1180h0M520 1116h0M561 1141h0M520 1130h0M556 1117h0M556 1120h0M561 1126h0M541 1177h0M548 1175h0M530 1110h0M534 1101h0M564 1124h0M534 1111h0M541 1105h0M547 1095h0M559 1118h0M518 1132h0M522 1165h0M524 1119h0M544 1078h0M565 1125h0M524 1128h0M561 1139h0M563 1131h0M548 1087h0M540 1103h0M531 1108h0M549 1104h0M551 1107h0M522 1176h0M548 1102h0M550 1109h0M565 1139h0M545 1090h0M554 1110h0M553 1105h0M548 1092h0M575 1092h0M555 1116h0M531 1189h0M533 1109h0M541 1185h0M513 1131h0M536 1105h0M558 1106h0M522 1129h0M557 1117h0M556 1173h0M535 1106h0M543 1095h0M557 1154h0M541 1082h0M538 1183h0M524 1133h0M555 1100h0M552 1161h0M544 1104h0M534 1110h0M560 1160h0M551 1172h0M526 1169h0M524 1154h0M539 1102h0M549 1177h0M550 1089h0M547 1107h0M545 1108h0M535 1104h0M525 1169h0M549 1106h0M554 1099h0M529 1188h0M521 1158h0M533 1091h0M554 1162h0M523 1164h0M529 1107h0M528 1107h0M548 1099h0M537 1105h0M532 1103h0M552 1171h0M547 1106h0M522 1166h0M516 1135h0M526 1195h0M556 1102h0M556 1115h0M554 1100h0M554 1111h0M545 1193h0M523 1129h0M553 1163h0M521 1131h0M519 1145h0M562 1107h0M516 1159h0M537 1178h0M558 1173h0M527 1121h0M548 1106h0M538 1099h0M553 1105h0M537 1092h0M560 1135h0M559 1132h0M530 1177h0M559 1126h0M542 1179h0M518 1121h0M557 1172h0M518 1120h0M526 1114h0M553 1164h0M530 1114h0M534 1101h0M549 1099h0M509 1133h0M529 1108h0M555 1118h0M568 1123h0M567 1119h0M560 1125h0M543 1177h0M558 1115h0M514 1145h0M562 1135h0M532 1101h0M520 1145h0M512 1148h0M562 1154h0M557 1115h0M529 1089h0M538 1103h0M528 1101h0M564 1140h0M554 1108h0M527 1110h0M553 1095h0M523 1148h0M534 1104h0M546 1108h0M562 1119h0M555 1172h0M528 1105h0M565 1136h0M542 1179h0M564 1126h0M518 1133h0M536 1105h0M536 1171h0M540 1170h0M552 1169h0M564 1145h0M561 1104h0M561 1140h0M566 1128h0M548 1108h0M547 1101h0M565 1147h0M552 1164h0M549 1101h0M557 1103h0M514 1179h0M540 1106h0M550 1102h0M562 1144h0M522 1098h0M556 1118h0M547 1180h0M525 1157h0M519 1111h0M550 1102h0M550 1109h0M544 1106h0M527 1178h0M553 1111h0M555 1170h0M567 1137h0M524 1159h0M531 1107h0M528 1112h0M553 1099h0M539 1090h0M527 1161h0M565 1084h0M544 1107h0M542 1090h0M527 1121h0M564 1144h0M547 1176h0M561 1132h0M557 1106h0M540 1091h0M559 1130h0M527 1114h0M554 1106h0M523 1136h0M547 1108h0M548 1103h0M560 1125h0M565 1153h0M553 1106h0M524 1113h0M534 1182h0M565 1127h0M527 1121h0M559 1113h0M524 1124h0M532 1181h0M523 1128h0M525 1120h0M558 1120h0M546 1102h0M545 1101h0M522 1141h0M556 1100h0M536 1098h0M551 1098h0M555 1161h0M528 1118h0M561 1127h0M539 1096h0M562 1101h0M561 1098h0M540 1105h0M555 1113h0M552 1105h0M542 1101h0M553 1111h0M560 1145h0M547 1098h0M528 1110h0M542 1101h0M535 1110h0M530 1168h0M517 1114h0M562 1137h0M560 1122h0M545 1098h0M552 1169h0M539 1107h0M543 1174h0M551 1169h0M520 1130h0M564 1121h0M548 1109h0M526 1169h0M561 1104h0M532 1095h0M537 1177h0M537 1099h0M548 1106h0M558 1121h0M546 1104h0M552 1185h0M532 1112h0M520 1145h0M557 1121h0M561 1126h0M559 1150h0M534 1091h0M558 1190h0M552 1166h0M534 1110h0M523 1163h0M561 1146h0M537 1102h0M518 1149h0M551 1111h0M556 1106h0M542 1097h0M523 1120h0M566 1168h0M554 1168h0M555 1102h0M547 1105h0M533 1110h0M561 1140h0M557 1122h0M527 1091h0M520 1164h0M551 1168h0M527 1113h0M566 1128h0M563 1148h0M543 1095h0M556 1121h0M557 1104h0M542 1177h0M523 1182h0M536 1108h0M565 1134h0M539 1095h0M562 1141h0M518 1135h0M553 1100h0M544 1104h0M570 1127h0M525 1130h0M525 1181h0M562 1150h0M517 1087h0M538 1179h0M542 1103h0M521 1139h0M557 1105h0M553 1104h0M545 1086h0M564 1123h0M568 1103h0M554 1115h0M528 1179h0M557 1118h0M549 1090h0M564 1130h0M530 1175h0M556 1110h0M559 1132h0M525 1119h0M569 1106h0M529 1090h0M525 1160h0M525 1128h0M550 1094h0M557 1161h0M520 1146h0M548 1101h0M557 1104h0M551 1105h0M538 1098h0M541 1094h0M524 1158h0M526 1108h0M532 1103h0M557 1151h0M558 1151h0M522 1138h0M529 1108h0M550 1104h0M524 1158h0M558 1161h0M560 1135h0M570 1128h0M526 1116h0M531 1093h0M525 1115h0M534 1111h0M540 1098h0M535 1170h0M549 1102h0M560 1125h0M539 1106h0" stroke="#c9cb3a" stroke-opacity=".42" stroke-width="1.7" stroke-linecap="square"/><g transform="translate(270.5 569.5) rotate(4.0)"><ellipse rx="9.0" ry="16.5" fill="url(#g15)" stroke="#cfd15a" stroke-width=".6" stroke-opacity=".8"/><ellipse cx="0.00" cy="1.00" rx="7.71" ry="14.14" fill="none" stroke="#fff" stroke-width=".4" stroke-opacity=".6"/><ellipse cx="0.00" cy="2.00" rx="6.43" ry="11.79" fill="none" stroke="#fff" stroke-width=".4" stroke-opacity=".6"/><ellipse cx="0.00" cy="3.00" rx="5.14" ry="9.43" fill="none" stroke="#fff" stroke-width=".4" stroke-opacity=".6"/><ellipse cx="0.00" cy="4.00" rx="3.86" ry="7.07" fill="none" stroke="#fff" stroke-width=".4" stroke-opacity=".6"/><ellipse cx="0.00" cy="5.00" rx="2.57" ry="4.71" fill="none" stroke="#fff" stroke-width=".4" stroke-opacity=".6"/><ellipse cx="0.00" cy="6.00" rx="1.29" ry="2.36" fill="none" stroke="#fff" stroke-width=".4" stroke-opacity=".6"/><ellipse cx="0.00" cy="7.00" rx="0.90" ry="3.63" fill="#fff" fill-opacity=".75"/></g><rect x="244.5" y="516.3" width="90.9" height="90.9" fill="none" stroke="#999999" stroke-width="1"/><line x1="282.6" y1="516.3" x2="282.6" y2="607.2" stroke="#444" stroke-width="1"/><line x1="244.5" y1="566.9" x2="335.4" y2="566.9" stroke="#333333" stroke-width="1"/><text x="246.8" y="525.9" font-size="8.60" text-anchor="start" fill="#3a3a3a" font-weight="normal" stroke="#3a3a3a" stroke-width=".1" letter-spacing=".45"><tspan dx="-1.00">1</tspan><tspan dx="-0.90">9</tspan>.6</text><text x="246.8" y="604.0" font-size="8.60" text-anchor="start" fill="#3a3a3a" font-weight="normal" stroke="#3a3a3a" stroke-width=".1" letter-spacing=".45">80.3</text><text x="441.4" y="512.6" font-size="8.90" text-anchor="middle" fill="#3a3a3a">Con</text><path transform="scale(.5)" d="M856 1153h0M865 1150h0M861 1153h0M863 1145h0M869 1128h0M816 1174h0M830 1182h0M857 1161h0M847 1176h0M827 1210h0M851 1167h0M854 1168h0M853 1161h0M853 1136h0M858 1155h0M845 1158h0M861 1178h0M874 1137h0M858 1161h0M879 1144h0M865 1124h0M848 1166h0M839 1140h0M843 1187h0M857 1156h0M885 1147h0M858 1182h0M853 1154h0M842 1143h0M864 1158h0M829 1181h0M852 1162h0M851 1141h0M874 1153h0M845 1145h0M860 1158h0M828 1157h0M840 1176h0M865 1151h0M844 1152h0M851 1164h0M857 1182h0M835 1176h0M860 1154h0M859 1152h0M848 1190h0M840 1159h0M838 1138h0M884 1118h0M852 1197h0M846 1172h0M823 1175h0M840 1145h0M852 1149h0M837 1172h0M847 1168h0M845 1165h0M833 1183h0M850 1156h0M831 1156h0M872 1134h0M862 1145h0M839 1152h0M839 1173h0M845 1157h0M847 1155h0M863 1162h0M838 1163h0M855 1166h0M862 1155h0M854 1166h0M847 1153h0M871 1170h0M866 1119h0M868 1167h0M865 1144h0M855 1157h0M852 1152h0M849 1166h0M862 1152h0M838 1165h0M865 1145h0M838 1157h0M877 1144h0M842 1170h0M840 1171h0M858 1167h0M853 1152h0M837 1163h0M852 1159h0M856 1165h0M838 1154h0M859 1169h0M845 1153h0M869 1151h0M845 1148h0M859 1153h0M845 1165h0M858 1175h0M846 1163h0M868 1147h0M862 1175h0M859 1156h0M863 1135h0M864 1145h0M855 1141h0M861 1152h0M853 1147h0M837 1179h0M856 1154h0M871 1141h0M849 1164h0M840 1181h0M829 1189h0M868 1133h0M871 1123h0M832 1160h0M852 1156h0M860 1149h0M861 1144h0M867 1141h0M850 1165h0M849 1148h0M848 1149h0M859 1145h0M846 1170h0M863 1150h0M848 1173h0M849 1141h0M835 1176h0M847 1178h0M860 1143h0M861 1146h0M841 1166h0M836 1170h0M866 1121h0M865 1131h0M871 1142h0M839 1139h0M828 1170h0M856 1164h0M848 1168h0M865 1144h0M847 1157h0M862 1152h0M854 1168h0M829 1181h0M861 1162h0M836 1161h0M846 1162h0M834 1167h0M863 1165h0M838 1172h0M859 1163h0M854 1160h0M840 1150h0M858 1147h0M877 1140h0M861 1130h0M861 1154h0M869 1151h0M847 1161h0M844 1153h0M863 1143h0M854 1148h0M854 1155h0M885 1148h0M863 1162h0M866 1154h0M856 1148h0M849 1164h0M884 1137h0M858 1160h0M849 1179h0M842 1183h0M841 1167h0M872 1150h0M869 1135h0M836 1168h0M865 1160h0M856 1155h0M874 1150h0M852 1174h0M858 1149h0M850 1157h0M869 1142h0M860 1156h0M863 1158h0M851 1165h0M842 1177h0M852 1149h0M849 1132h0M841 1164h0M852 1157h0M854 1163h0M837 1155h0M840 1161h0M846 1142h0M845 1169h0M842 1165h0M869 1143h0M877 1144h0M855 1158h0M859 1140h0M850 1170h0M830 1177h0M853 1146h0M856 1168h0M862 1145h0M825 1199h0M854 1149h0M846 1162h0M842 1192h0M845 1162h0M850 1134h0M841 1174h0M858 1141h0M838 1173h0M840 1164h0M852 1167h0M830 1182h0M840 1143h0M870 1125h0M863 1145h0M860 1142h0M849 1138h0M848 1146h0M817 1182h0M865 1156h0M852 1145h0M858 1146h0M851 1130h0M836 1181h0M848 1184h0M864 1172h0M849 1148h0M856 1156h0M855 1160h0M846 1167h0M845 1160h0M864 1145h0M852 1173h0M841 1160h0M847 1172h0M863 1162h0M879 1164h0M840 1179h0M845 1168h0M855 1162h0M851 1149h0M840 1177h0M872 1152h0M860 1139h0M855 1141h0M838 1166h0M857 1128h0M848 1160h0M840 1169h0M848 1152h0M872 1133h0M852 1156h0M846 1158h0M853 1136h0M880 1134h0M867 1141h0M856 1180h0M838 1145h0M861 1161h0M856 1145h0M852 1156h0M852 1157h0M839 1167h0M871 1148h0M862 1159h0M844 1149h0M863 1148h0M846 1162h0M852 1176h0M835 1172h0M849 1171h0M869 1135h0M824 1183h0M865 1145h0M860 1154h0M854 1158h0M876 1133h0M834 1164h0M878 1134h0M871 1137h0M875 1152h0M867 1160h0M878 1146h0M868 1167h0M864 1177h0M866 1153h0M834 1165h0M867 1139h0M863 1165h0M840 1173h0M869 1150h0M872 1126h0M873 1132h0M866 1131h0M852 1134h0M875 1120h0M859 1114h0M873 1089h0M876 1079h0M877 1119h0M869 1133h0M861 1133h0M867 1089h0M870 1090h0M868 1129h0M875 1105h0M870 1133h0M863 1107h0M876 1110h0M854 1102h0M876 1134h0M870 1134h0M883 1086h0M871 1133h0M859 1119h0M881 1118h0M866 1127h0M870 1124h0M864 1134h0M876 1081h0M874 1115h0M863 1067h0M874 1130h0M877 1120h0M868 1129h0M867 1134h0M867 1133h0M878 1115h0M872 1110h0M862 1112h0M872 1109h0M872 1134h0M875 1128h0M873 1131h0M861 1067h0M880 1062h0M866 1066h0M875 1130h0M860 1134h0M864 1092h0M872 1133h0M868 1077h0M873 1134h0M871 1119h0M875 1069h0M874 1129h0M868 1094h0M872 1103h0M868 1131h0M883 1081h0M868 1105h0M871 1133h0M871 1069h0M874 1133h0M875 1126h0M879 1074h0M864 1132h0M874 1078h0M863 1104h0M869 1104h0M870 1090h0M871 1120h0M858 1092h0M868 1078h0M870 1120h0M871 1098h0M867 1068h0M867 1075h0M869 1117h0M872 1085h0M879 1134h0M862 1099h0M866 1097h0M869 1089h0M866 1062h0M863 1065h0M862 1100h0M880 1096h0M871 1126h0M866 1078h0M868 1104h0M869 1075h0M867 1065h0M866 1098h0M867 1128h0M871 1111h0M878 1062h0M864 1134h0M871 1075h0M872 1119h0M868 1128h0M858 1122h0M864 1096h0M866 1080h0M869 1075h0M876 1108h0M868 1119h0M872 1064h0M871 1120h0M882 1134h0M880 1126h0M877 1134h0M871 1095h0M870 1134h0M871 1094h0M877 1100h0M893 1144h0M914 1147h0M890 1141h0M904 1137h0M898 1146h0M902 1154h0M907 1141h0M910 1146h0M893 1155h0M892 1131h0M915 1131h0M884 1156h0M885 1138h0M922 1131h0M905 1143h0M897 1123h0M908 1144h0M917 1144h0M893 1163h0M923 1150h0M913 1152h0M898 1158h0M903 1155h0M903 1164h0M913 1157h0M884 1127h0M918 1148h0M912 1140h0M887 1145h0M875 1131h0M905 1141h0M921 1132h0M878 1143h0M913 1157h0M899 1146h0M876 1148h0M926 1132h0M899 1154h0M922 1166h0M890 1161h0M899 1149h0M907 1150h0M924 1152h0M896 1149h0M895 1136h0M891 1145h0M915 1141h0M910 1140h0M905 1146h0M887 1151h0M890 1152h0M914 1150h0M905 1148h0M911 1138h0M916 1149h0M917 1128h0M895 1152h0M914 1144h0M899 1152h0M917 1145h0M891 1156h0M879 1131h0M908 1143h0M900 1155h0M900 1135h0M897 1150h0M907 1149h0M918 1144h0M901 1137h0M916 1134h0M927 1153h0M904 1129h0M906 1172h0M870 1130h0M917 1148h0M888 1135h0M927 1152h0M910 1153h0M921 1149h0M913 1138h0M936 1150h0M918 1153h0M872 1134h0M921 1163h0M908 1166h0M912 1149h0M934 1142h0M925 1149h0M901 1140h0M885 1149h0M884 1137h0M911 1143h0M925 1142h0M896 1151h0M907 1148h0M922 1150h0M885 1152h0M908 1154h0M908 1143h0M901 1128h0M900 1157h0M903 1129h0M910 1182h0M887 1153h0M930 1144h0M928 1141h0M913 1122h0M871 1136h0M908 1143h0M895 1144h0M898 1133h0M895 1142h0M913 1143h0M897 1167h0M918 1149h0M926 1146h0M895 1135h0M890 1150h0M889 1145h0M908 1154h0M904 1142h0M902 1159h0M902 1151h0M903 1155h0M903 1157h0M914 1132h0M903 1164h0M905 1159h0M913 1137h0M916 1141h0M895 1142h0M907 1135h0M912 1139h0M898 1156h0M897 1141h0M930 1163h0M930 1165h0M918 1153h0M904 1154h0M907 1160h0M925 1143h0M910 1152h0M899 1141h0M912 1126h0M919 1149h0M933 1147h0M920 1138h0M889 1135h0M910 1163h0M897 1134h0M957 1186h0M852 1119h0M883 1040h0M820 1085h0M854 1046h0M865 1154h0M833 1040h0M855 1094h0M922 1091h0M880 1054h0M810 1080h0M902 1089h0M886 1094h0M884 1036h0M890 1143h0M847 1102h0M862 1129h0M847 1138h0M836 1188h0M871 1168h0M889 1137h0M880 1136h0M878 1145h0M851 1135h0M828 1180h0M861 1174h0M875 1160h0M860 1178h0M879 1136h0M864 1129h0M827 1184h0M835 1160h0M879 1142h0M868 1165h0M882 1133h0M871 1127h0M884 1136h0M828 1175h0M835 1156h0M845 1186h0M885 1144h0M870 1128h0M872 1160h0M868 1130h0M836 1156h0M854 1179h0M835 1187h0M840 1150h0M873 1129h0M859 1133h0M844 1185h0M859 1175h0M832 1163h0M861 1174h0M853 1127h0M873 1127h0M853 1138h0M876 1152h0M865 1128h0M874 1160h0M878 1146h0M830 1179h0M839 1154h0M844 1142h0M850 1139h0M832 1183h0M861 1131h0M862 1173h0M863 1176h0M832 1186h0M882 1130h0M834 1156h0M828 1175h0M857 1132h0M865 1130h0M849 1140h0M868 1125h0M880 1155h0M827 1170h0M855 1132h0M839 1151h0M874 1159h0M831 1159h0M832 1167h0M846 1142h0M841 1185h0M860 1176h0M834 1192h0M857 1132h0M828 1170h0M870 1129h0M861 1130h0M854 1182h0M879 1135h0M844 1186h0M832 1191h0M874 1127h0M871 1128h0M828 1162h0M837 1149h0M871 1129h0M861 1174h0M827 1179h0M880 1138h0M843 1185h0M877 1133h0M886 1123h0M834 1161h0M870 1127h0M865 1173h0M883 1130h0M882 1151h0M831 1190h0M850 1183h0M849 1135h0M874 1158h0M841 1186h0M851 1181h0M856 1182h0M830 1167h0M879 1140h0M844 1142h0M880 1145h0M838 1151h0M869 1168h0M868 1166h0M879 1139h0M830 1171h0M876 1125h0M826 1179h0M879 1141h0M877 1126h0M863 1177h0M873 1128h0M880 1141h0M842 1142h0M881 1135h0M878 1137h0M866 1129h0M880 1132h0M833 1160h0M880 1133h0M880 1151h0M828 1178h0M823 1191h0M829 1162h0M849 1140h0M848 1184h0M875 1129h0M868 1172h0M868 1126h0M878 1144h0M849 1139h0M878 1143h0M833 1183h0M872 1129h0M860 1128h0M851 1182h0M878 1134h0M877 1148h0M853 1133h0M862 1175h0M830 1175h0M874 1131h0M873 1160h0M838 1150h0M856 1178h0M880 1143h0M842 1143h0M880 1154h0M832 1157h0M826 1188h0M862 1174h0M863 1130h0M838 1188h0M856 1130h0" stroke="#72bf52" stroke-opacity=".42" stroke-width="1.7" stroke-linecap="square"/><g transform="translate(427.3 578.7) rotate(38.0)"><ellipse rx="8.0" ry="17.1" fill="#d6edca" stroke="#fff" stroke-width=".9" stroke-opacity=".85"/><ellipse rx="8.6" ry="17.7" fill="none" stroke="#8fcd72" stroke-width=".5" stroke-opacity=".8"/><ellipse rx="4.96" ry="13.68" fill="url(#R0)"/><ellipse rx="6.86" ry="14.66" fill="none" stroke="#fff" stroke-width=".3" stroke-opacity=".55"/><ellipse rx="5.71" ry="12.21" fill="none" stroke="#fff" stroke-width=".3" stroke-opacity=".55"/><ellipse rx="4.57" ry="9.77" fill="none" stroke="#fff" stroke-width=".3" stroke-opacity=".55"/><ellipse rx="3.43" ry="7.33" fill="none" stroke="#fff" stroke-width=".3" stroke-opacity=".55"/><ellipse rx="2.29" ry="4.89" fill="none" stroke="#fff" stroke-width=".3" stroke-opacity=".55"/><ellipse rx="1.14" ry="2.44" fill="none" stroke="#fff" stroke-width=".3" stroke-opacity=".55"/><ellipse rx="0.56" ry="5.13" fill="#fff" fill-opacity=".55"/></g><rect x="395.5" y="516.3" width="91.9" height="90.9" fill="none" stroke="#999999" stroke-width="1"/><line x1="440.9" y1="516.3" x2="440.9" y2="607.2" stroke="#444" stroke-width="1"/><line x1="395.5" y1="558.2" x2="487.4" y2="558.2" stroke="#333333" stroke-width="1"/><text x="398.1" y="525.9" font-size="8.60" text-anchor="start" fill="#3a3a3a" font-weight="normal" stroke="#3a3a3a" stroke-width=".1" letter-spacing=".45"><tspan dx="-1.00">1</tspan><tspan dx="-0.90">.</tspan>25</text><text x="484.9" y="525.9" font-size="8.60" text-anchor="end" fill="#3a3a3a" font-weight="normal" stroke="#3a3a3a" stroke-width=".1" letter-spacing=".45">0.<tspan dx="-0.60">1</tspan><tspan dx="-0.90">0</tspan></text><text x="398.1" y="604.0" font-size="8.60" text-anchor="start" fill="#3a3a3a" font-weight="normal" stroke="#3a3a3a" stroke-width=".1" letter-spacing=".45">94.8</text><text x="484.9" y="604.0" font-size="8.60" text-anchor="end" fill="#3a3a3a" font-weight="normal" stroke="#3a3a3a" stroke-width=".1" letter-spacing=".45">3.84</text><text x="540.5" y="512.6" font-size="8.90" text-anchor="middle" fill="#3a3a3a">IPA100</text><path transform="scale(.5)" d="M1083 1127h0M1060 1161h0M1070 1167h0M1022 1174h0M1044 1160h0M1076 1154h0M1049 1135h0M1055 1154h0M1062 1164h0M1041 1154h0M1067 1151h0M1050 1144h0M1055 1146h0M1038 1176h0M1070 1121h0M1049 1146h0M1027 1164h0M1055 1169h0M1064 1139h0M1051 1133h0M1039 1142h0M1044 1167h0M1039 1161h0M1058 1151h0M1059 1184h0M1060 1140h0M1034 1165h0M1061 1165h0M1058 1159h0M1044 1149h0M1074 1135h0M1060 1133h0M1044 1164h0M1078 1160h0M1047 1147h0M1051 1176h0M1042 1172h0M1063 1140h0M1036 1187h0M1078 1144h0M1036 1187h0M1035 1155h0M1057 1165h0M1067 1157h0M1046 1187h0M1066 1147h0M1043 1149h0M1068 1153h0M1065 1162h0M1047 1171h0M1053 1144h0M1054 1162h0M1058 1170h0M1077 1139h0M1070 1170h0M1044 1180h0M1074 1164h0M1057 1145h0M1044 1172h0M1054 1164h0M1047 1172h0M1047 1152h0M1059 1140h0M1050 1165h0M1044 1162h0M1041 1157h0M1051 1154h0M1045 1168h0M1055 1142h0M1029 1179h0M1062 1145h0M1064 1169h0M1054 1144h0M1038 1162h0M1077 1154h0M1050 1139h0M1046 1178h0M1068 1139h0M1050 1146h0M1058 1148h0M1054 1163h0M1039 1176h0M1043 1164h0M1070 1154h0M1048 1179h0M1052 1151h0M1056 1156h0M1059 1142h0M1046 1179h0M1055 1176h0M1049 1138h0M1041 1137h0M1060 1157h0M1033 1151h0M1088 1141h0M1033 1169h0M1049 1176h0M1042 1157h0M1043 1166h0M1087 1112h0M1061 1184h0M1081 1116h0M1053 1146h0M1040 1150h0M1080 1141h0M1048 1175h0M1036 1176h0M1042 1155h0M1047 1175h0M1053 1136h0M1057 1153h0M1064 1141h0M1049 1168h0M1082 1154h0M1051 1167h0M1053 1165h0M1033 1172h0M1056 1184h0M1066 1135h0M1050 1146h0M1039 1168h0M1055 1175h0M1066 1146h0M1043 1155h0M1049 1154h0M1051 1156h0M1075 1182h0M1051 1145h0M1074 1165h0M1053 1159h0M1036 1178h0M1014 1207h0M1044 1171h0M1038 1186h0M1043 1192h0M1060 1153h0M1044 1134h0M1050 1158h0M1036 1170h0M1055 1166h0M1058 1154h0M1044 1156h0M1040 1178h0M1051 1135h0M1042 1151h0M1060 1142h0M1056 1162h0M1089 1125h0M1055 1168h0M1045 1162h0M1068 1149h0M1037 1175h0M1070 1134h0M1036 1161h0M1056 1124h0M1061 1150h0M1047 1163h0M1020 1186h0M1030 1169h0M1070 1145h0M1055 1169h0M1075 1177h0M1070 1147h0M1066 1149h0M1044 1162h0M1035 1184h0M1059 1187h0M1068 1138h0M1046 1136h0M1054 1142h0M1063 1150h0M1063 1159h0M1056 1151h0M1068 1172h0M1077 1141h0M1043 1167h0M1067 1138h0M1068 1166h0M1050 1145h0M1037 1141h0M1052 1156h0M1062 1174h0M1059 1165h0M1029 1187h0M1030 1170h0M1061 1152h0M1059 1144h0M1051 1151h0M1061 1144h0M1058 1159h0M1061 1145h0M1046 1152h0M1050 1165h0M1040 1152h0M1055 1161h0M1052 1154h0M1060 1152h0M1063 1167h0M1044 1149h0M1046 1159h0M1045 1148h0M1052 1158h0M1036 1166h0M1045 1166h0M1038 1187h0M1068 1152h0M1050 1147h0M1084 1136h0M1048 1165h0M1057 1148h0M1076 1126h0M1067 1118h0M1053 1157h0M1057 1170h0M1043 1170h0M1082 1162h0M1058 1148h0M1046 1157h0M1082 1140h0M1064 1146h0M1058 1140h0M1073 1158h0M1052 1155h0M1052 1154h0M1048 1171h0M1053 1172h0M1047 1134h0M1036 1166h0M1053 1141h0M1046 1182h0M1064 1153h0M1082 1149h0M1040 1155h0M1050 1177h0M1059 1152h0M1052 1151h0M1042 1189h0M1053 1154h0M1063 1168h0M1040 1155h0M1045 1150h0M1046 1147h0M1071 1169h0M1080 1140h0M1072 1123h0M1070 1150h0M1054 1162h0M1044 1156h0M1032 1162h0M1039 1166h0M1060 1136h0M1070 1163h0M1071 1159h0M1061 1174h0M1054 1165h0M1066 1177h0M1067 1173h0M1035 1180h0M1064 1169h0M1042 1162h0M1057 1162h0M1057 1138h0M1056 1156h0M1061 1161h0M1048 1141h0M1066 1150h0M1026 1163h0M1066 1157h0M1054 1157h0M1044 1166h0M1059 1161h0M1056 1159h0M1084 1140h0M1050 1156h0M1059 1152h0M1057 1163h0M1041 1143h0M1062 1168h0M1061 1155h0M1050 1145h0M1041 1150h0M1070 1166h0M1048 1145h0M1064 1131h0M1069 1145h0M1041 1170h0M1063 1171h0M1060 1149h0M1080 1157h0M1049 1170h0M1074 1147h0M1068 1147h0M1058 1176h0M1057 1130h0M1044 1150h0M1044 1182h0M1070 1159h0M1040 1173h0M1044 1174h0M1049 1161h0M1078 1133h0M1071 1123h0M1064 1126h0M1065 1104h0M1076 1069h0M1070 1097h0M1077 1121h0M1075 1131h0M1063 1064h0M1062 1075h0M1061 1096h0M1069 1115h0M1057 1097h0M1059 1103h0M1079 1097h0M1068 1133h0M1065 1095h0M1080 1131h0M1062 1107h0M1067 1091h0M1072 1081h0M1053 1068h0M1065 1093h0M1068 1123h0M1068 1111h0M1068 1129h0M1065 1090h0M1078 1121h0M1071 1097h0M1067 1065h0M1082 1081h0M1067 1105h0M1074 1103h0M1062 1062h0M1065 1075h0M1061 1125h0M1064 1066h0M1066 1077h0M1071 1060h0M1066 1131h0M1073 1068h0M1078 1130h0M1070 1088h0M1066 1096h0M1078 1131h0M1078 1084h0M1077 1098h0M1066 1114h0M1060 1060h0M1066 1124h0M1066 1072h0M1074 1117h0M1075 1060h0M1069 1132h0M1064 1096h0M1064 1073h0M1065 1077h0M1074 1085h0M1064 1065h0M1075 1127h0M1066 1070h0M1076 1114h0M1065 1092h0M1066 1104h0M1066 1060h0M1078 1093h0M1070 1132h0M1060 1078h0M1071 1119h0M1072 1130h0M1064 1072h0M1076 1081h0M1074 1085h0M1070 1066h0M1063 1063h0M1068 1084h0M1071 1112h0M1072 1133h0M1059 1086h0M1063 1133h0M1068 1091h0M1080 1114h0M1069 1102h0M1072 1132h0M1051 1122h0M1065 1132h0M1085 1070h0M1072 1115h0M1071 1089h0M1067 1106h0M1073 1131h0M1067 1132h0M1065 1065h0M1072 1132h0M1067 1131h0M1066 1093h0M1073 1088h0M1065 1124h0M1060 1088h0M1063 1113h0M1077 1108h0M1058 1079h0M1077 1111h0M1062 1120h0M1056 1101h0M1076 1124h0M1063 1113h0M1072 1071h0M1073 1131h0M1072 1063h0M1063 1118h0M1074 1079h0M1076 1118h0M1061 1133h0M1067 1093h0M1095 1148h0M1090 1125h0M1100 1148h0M1096 1155h0M1100 1143h0M1127 1139h0M1092 1158h0M1100 1147h0M1088 1137h0M1082 1153h0M1102 1134h0M1076 1158h0M1116 1151h0M1121 1141h0M1090 1154h0M1084 1150h0M1095 1131h0M1087 1149h0M1117 1153h0M1089 1164h0M1085 1154h0M1110 1152h0M1110 1155h0M1105 1150h0M1108 1144h0M1120 1148h0M1106 1137h0M1100 1164h0M1079 1135h0M1095 1151h0M1119 1126h0M1112 1150h0M1106 1153h0M1114 1140h0M1105 1152h0M1120 1160h0M1110 1142h0M1090 1144h0M1088 1143h0M1104 1153h0M1105 1146h0M1098 1142h0M1113 1161h0M1101 1163h0M1104 1149h0M1095 1153h0M1098 1150h0M1091 1146h0M1101 1143h0M1119 1152h0M1090 1140h0M1082 1157h0M1105 1141h0M1105 1137h0M1082 1136h0M1083 1151h0M1098 1154h0M1103 1147h0M1099 1133h0M1091 1152h0M1101 1149h0M1093 1134h0M1098 1166h0M1074 1161h0M1079 1146h0M1114 1149h0M1094 1158h0M1091 1135h0M1120 1149h0M1092 1158h0M1090 1149h0M1117 1131h0M1088 1149h0M1065 1147h0M1101 1152h0M1088 1149h0M1078 1148h0M1099 1135h0M1097 1141h0M1110 1147h0M1084 1155h0M1082 1133h0M1075 1149h0M1115 1124h0M1079 1139h0M1074 1137h0M1097 1145h0M1084 1139h0M1101 1163h0M1089 1147h0M1124 1155h0M1111 1146h0M1080 1152h0M1103 1146h0M1104 1153h0M1100 1135h0M1080 1153h0M1109 1146h0M1108 1137h0M1087 1163h0M1092 1149h0M1105 1158h0M1102 1169h0M1095 1151h0M1093 1169h0M1095 1136h0M1099 1138h0M1097 1139h0M1098 1128h0M1083 1146h0M1085 1146h0M1090 1157h0M1079 1137h0M1103 1159h0M1093 1142h0M1097 1131h0M1093 1147h0M1113 1147h0M1080 1144h0M1105 1159h0M1107 1161h0M1107 1157h0M1092 1155h0M1096 1146h0M1106 1151h0M1095 1158h0M1112 1155h0M1094 1138h0M1093 1143h0M1077 1132h0M1093 1147h0M1082 1138h0M1087 1157h0M1097 1142h0M1113 1150h0M1103 1139h0M1080 1149h0M1117 1144h0M1102 1132h0M1084 1158h0M1088 1137h0M1092 1150h0M1103 1154h0M1112 1139h0M1109 1146h0M1116 1148h0M1098 1163h0M1107 1160h0M1069 1160h0M1091 1151h0M1146 1174h0M1110 1083h0M1147 1096h0M1052 1038h0M1092 1094h0M1112 1045h0M1038 1041h0M1080 1175h0M1053 1140h0M1039 1085h0M1103 1076h0M1106 1138h0M1030 1128h0M1076 1062h0M1034 1077h0M1114 1074h0M1063 1172h0M1070 1169h0M1067 1167h0M1042 1186h0M1030 1184h0M1043 1189h0M1085 1146h0M1077 1131h0M1067 1124h0M1078 1133h0M1056 1129h0M1042 1190h0M1073 1166h0M1048 1136h0M1039 1190h0M1076 1153h0M1044 1139h0M1061 1173h0M1076 1150h0M1045 1139h0M1039 1186h0M1043 1142h0M1076 1128h0M1049 1182h0M1072 1129h0M1082 1144h0M1027 1169h0M1079 1127h0M1079 1136h0M1076 1124h0M1077 1125h0M1055 1177h0M1034 1144h0M1037 1151h0M1025 1184h0M1051 1182h0M1081 1130h0M1063 1123h0M1037 1150h0M1038 1147h0M1078 1159h0M1054 1179h0M1050 1135h0M1067 1167h0M1081 1134h0M1021 1168h0M1029 1167h0M1057 1128h0M1029 1179h0M1075 1130h0M1038 1185h0M1072 1162h0M1074 1160h0M1045 1139h0M1076 1128h0M1078 1142h0M1066 1125h0M1043 1186h0M1046 1183h0M1059 1174h0M1080 1136h0M1079 1146h0M1031 1182h0M1069 1120h0M1030 1181h0M1072 1127h0M1073 1128h0M1055 1130h0M1030 1168h0M1066 1124h0M1068 1168h0M1069 1122h0M1069 1122h0M1030 1168h0M1025 1157h0M1077 1156h0M1078 1130h0M1077 1150h0M1070 1162h0M1068 1171h0M1081 1150h0M1031 1182h0M1072 1128h0M1024 1174h0M1026 1175h0M1056 1180h0M1065 1173h0M1064 1124h0M1031 1182h0M1032 1186h0M1064 1124h0M1076 1155h0M1064 1123h0M1034 1153h0M1083 1129h0M1036 1187h0M1021 1176h0M1059 1129h0M1037 1184h0M1045 1183h0M1030 1161h0M1060 1173h0M1069 1117h0M1068 1169h0M1064 1126h0M1055 1132h0M1050 1133h0M1056 1185h0M1074 1157h0M1034 1153h0M1053 1179h0M1038 1188h0M1061 1176h0M1057 1178h0M1071 1126h0M1079 1125h0M1033 1153h0M1064 1125h0M1028 1177h0M1076 1155h0M1063 1124h0M1042 1144h0M1065 1125h0M1037 1147h0M1045 1183h0M1062 1172h0M1044 1140h0M1070 1126h0M1069 1128h0M1031 1166h0M1078 1152h0M1037 1144h0M1080 1129h0M1070 1128h0M1080 1151h0M1061 1124h0M1077 1151h0M1064 1170h0M1066 1128h0M1031 1182h0M1060 1126h0M1053 1185h0M1080 1143h0M1044 1184h0M1030 1161h0M1034 1152h0M1030 1163h0M1075 1131h0M1068 1128h0M1044 1139h0M1081 1135h0M1029 1163h0M1039 1147h0M1035 1187h0M1069 1115h0M1030 1187h0M1078 1151h0M1062 1125h0M1052 1132h0M1061 1178h0" stroke="#3b86d6" stroke-opacity=".42" stroke-width="1.7" stroke-linecap="square"/><g transform="translate(526.9 578.0) rotate(38.0)"><ellipse rx="8.5" ry="17.3" fill="#cde1f6" stroke="#fff" stroke-width=".9" stroke-opacity=".85"/><ellipse rx="9.1" ry="17.9" fill="none" stroke="#6ea7e4" stroke-width=".5" stroke-opacity=".8"/><ellipse rx="5.27" ry="13.84" fill="url(#R1)"/><ellipse rx="7.29" ry="14.83" fill="none" stroke="#fff" stroke-width=".3" stroke-opacity=".55"/><ellipse rx="6.07" ry="12.36" fill="none" stroke="#fff" stroke-width=".3" stroke-opacity=".55"/><ellipse rx="4.86" ry="9.89" fill="none" stroke="#fff" stroke-width=".3" stroke-opacity=".55"/><ellipse rx="3.64" ry="7.41" fill="none" stroke="#fff" stroke-width=".3" stroke-opacity=".55"/><ellipse rx="2.43" ry="4.94" fill="none" stroke="#fff" stroke-width=".3" stroke-opacity=".55"/><ellipse rx="1.21" ry="2.47" fill="none" stroke="#fff" stroke-width=".3" stroke-opacity=".55"/><ellipse rx="0.60" ry="5.19" fill="#fff" fill-opacity=".55"/></g><rect x="494.4" y="516.3" width="92.1" height="90.9" fill="none" stroke="#999999" stroke-width="1"/><line x1="540.5" y1="516.3" x2="540.5" y2="607.2" stroke="#444" stroke-width="1"/><line x1="494.4" y1="558.5" x2="586.5" y2="558.5" stroke="#333333" stroke-width="1"/><text x="497.0" y="525.9" font-size="8.60" text-anchor="start" fill="#3a3a3a" font-weight="normal" stroke="#3a3a3a" stroke-width=".1" letter-spacing=".45"><tspan dx="-1.00">1</tspan><tspan dx="-0.90">.</tspan>67</text><text x="584.0" y="525.9" font-size="8.60" text-anchor="end" fill="#3a3a3a" font-weight="normal" stroke="#3a3a3a" stroke-width=".1" letter-spacing=".45">0.<tspan dx="-0.60">1</tspan><tspan dx="-0.90">8</tspan></text><text x="497.0" y="604.0" font-size="8.60" text-anchor="start" fill="#3a3a3a" font-weight="normal" stroke="#3a3a3a" stroke-width=".1" letter-spacing=".45">94.9</text><text x="584.0" y="604.0" font-size="8.60" text-anchor="end" fill="#3a3a3a" font-weight="normal" stroke="#3a3a3a" stroke-width=".1" letter-spacing=".45">3.29</text><text x="638.9" y="512.6" font-size="8.90" text-anchor="middle" fill="#3a3a3a">IPA1000</text><path transform="scale(.5)" d="M1237 1162h0M1254 1157h0M1255 1145h0M1243 1163h0M1244 1160h0M1223 1183h0M1244 1158h0M1260 1132h0M1238 1155h0M1254 1166h0M1277 1145h0M1267 1168h0M1231 1158h0M1248 1168h0M1268 1122h0M1259 1175h0M1240 1173h0M1255 1174h0M1240 1166h0M1253 1173h0M1244 1177h0M1263 1150h0M1257 1149h0M1272 1159h0M1256 1178h0M1244 1165h0M1233 1173h0M1240 1157h0M1250 1167h0M1247 1177h0M1241 1175h0M1246 1153h0M1232 1171h0M1224 1188h0M1253 1158h0M1258 1143h0M1249 1145h0M1247 1166h0M1263 1145h0M1251 1148h0M1237 1165h0M1233 1159h0M1238 1139h0M1238 1152h0M1272 1160h0M1237 1169h0M1242 1176h0M1249 1140h0M1245 1158h0M1252 1165h0M1240 1175h0M1258 1151h0M1260 1165h0M1272 1132h0M1248 1168h0M1216 1175h0M1260 1134h0M1218 1173h0M1277 1155h0M1254 1163h0M1262 1141h0M1248 1150h0M1253 1147h0M1251 1167h0M1257 1182h0M1224 1159h0M1252 1162h0M1251 1160h0M1277 1147h0M1266 1161h0M1273 1158h0M1239 1170h0M1239 1157h0M1278 1146h0M1263 1152h0M1240 1139h0M1265 1151h0M1248 1144h0M1244 1167h0M1237 1145h0M1223 1173h0M1242 1183h0M1244 1148h0M1245 1152h0M1257 1144h0M1260 1162h0M1254 1164h0M1253 1146h0M1239 1145h0M1232 1174h0M1239 1190h0M1232 1154h0M1246 1168h0M1236 1168h0M1259 1164h0M1265 1166h0M1230 1177h0M1230 1169h0M1255 1144h0M1245 1139h0M1251 1164h0M1257 1141h0M1249 1182h0M1238 1168h0M1246 1162h0M1237 1178h0M1278 1170h0M1231 1177h0M1247 1160h0M1265 1163h0M1235 1168h0M1264 1149h0M1255 1160h0M1238 1180h0M1241 1177h0M1249 1162h0M1247 1161h0M1253 1172h0M1227 1153h0M1279 1132h0M1218 1162h0M1245 1142h0M1253 1161h0M1253 1164h0M1268 1143h0M1247 1149h0M1253 1160h0M1257 1156h0M1256 1161h0M1262 1130h0M1269 1145h0M1241 1176h0M1252 1159h0M1249 1165h0M1264 1159h0M1248 1173h0M1252 1177h0M1229 1174h0M1227 1170h0M1235 1193h0M1254 1121h0M1253 1166h0M1242 1151h0M1235 1180h0M1258 1171h0M1244 1145h0M1254 1155h0M1249 1148h0M1232 1172h0M1238 1175h0M1246 1162h0M1265 1156h0M1246 1157h0M1257 1151h0M1223 1174h0M1257 1151h0M1244 1183h0M1265 1162h0M1256 1157h0M1242 1167h0M1255 1132h0M1235 1191h0M1254 1162h0M1238 1165h0M1237 1176h0M1279 1160h0M1233 1170h0M1222 1169h0M1263 1145h0M1249 1152h0M1245 1153h0M1266 1162h0M1235 1145h0M1247 1166h0M1240 1178h0M1248 1189h0M1245 1176h0M1264 1149h0M1236 1155h0M1260 1159h0M1256 1165h0M1255 1144h0M1242 1155h0M1260 1130h0M1234 1178h0M1255 1153h0M1257 1154h0M1229 1172h0M1227 1174h0M1261 1149h0M1262 1167h0M1255 1140h0M1245 1173h0M1246 1163h0M1263 1146h0M1231 1147h0M1265 1142h0M1244 1156h0M1241 1174h0M1238 1159h0M1258 1178h0M1263 1154h0M1267 1139h0M1264 1158h0M1264 1153h0M1241 1159h0M1240 1173h0M1238 1173h0M1253 1178h0M1245 1151h0M1239 1179h0M1233 1179h0M1229 1181h0M1253 1152h0M1243 1154h0M1277 1144h0M1235 1177h0M1247 1159h0M1254 1152h0M1267 1150h0M1244 1154h0M1240 1168h0M1248 1143h0M1238 1158h0M1247 1153h0M1240 1164h0M1257 1148h0M1220 1185h0M1242 1175h0M1238 1163h0M1267 1166h0M1248 1158h0M1266 1142h0M1273 1172h0M1248 1177h0M1240 1172h0M1247 1151h0M1244 1166h0M1245 1156h0M1247 1157h0M1254 1168h0M1248 1180h0M1243 1167h0M1256 1165h0M1247 1165h0M1251 1157h0M1242 1168h0M1279 1141h0M1257 1146h0M1241 1151h0M1259 1165h0M1258 1139h0M1258 1155h0M1253 1174h0M1262 1171h0M1258 1171h0M1259 1151h0M1262 1146h0M1245 1166h0M1248 1175h0M1254 1156h0M1264 1150h0M1254 1148h0M1243 1158h0M1236 1162h0M1239 1172h0M1278 1144h0M1260 1154h0M1243 1166h0M1232 1182h0M1254 1156h0M1242 1179h0M1232 1164h0M1265 1164h0M1229 1180h0M1273 1165h0M1233 1140h0M1263 1148h0M1246 1175h0M1252 1144h0M1267 1168h0M1248 1170h0M1238 1180h0M1236 1152h0M1249 1168h0M1272 1142h0M1265 1151h0M1235 1167h0M1229 1175h0M1258 1158h0M1245 1146h0M1245 1165h0M1255 1150h0M1248 1162h0M1264 1132h0M1251 1168h0M1264 1165h0M1253 1148h0M1247 1160h0M1255 1147h0M1272 1140h0M1266 1079h0M1268 1134h0M1264 1138h0M1259 1083h0M1261 1134h0M1260 1128h0M1259 1106h0M1263 1117h0M1257 1119h0M1253 1126h0M1262 1138h0M1257 1114h0M1269 1067h0M1269 1109h0M1260 1124h0M1264 1105h0M1268 1089h0M1265 1137h0M1267 1097h0M1269 1139h0M1259 1138h0M1272 1135h0M1271 1133h0M1253 1131h0M1272 1138h0M1264 1065h0M1268 1117h0M1278 1077h0M1270 1136h0M1251 1110h0M1270 1118h0M1269 1094h0M1273 1131h0M1273 1132h0M1260 1101h0M1267 1111h0M1259 1141h0M1263 1133h0M1255 1121h0M1265 1063h0M1270 1073h0M1266 1131h0M1259 1137h0M1263 1136h0M1262 1111h0M1264 1093h0M1258 1068h0M1267 1070h0M1278 1124h0M1275 1111h0M1261 1134h0M1255 1100h0M1263 1111h0M1268 1102h0M1269 1102h0M1271 1131h0M1263 1136h0M1255 1135h0M1261 1111h0M1259 1092h0M1270 1141h0M1266 1065h0M1264 1089h0M1270 1127h0M1268 1074h0M1265 1137h0M1267 1140h0M1253 1135h0M1269 1117h0M1265 1075h0M1264 1091h0M1259 1111h0M1265 1140h0M1272 1140h0M1267 1138h0M1266 1101h0M1257 1081h0M1273 1101h0M1261 1126h0M1263 1137h0M1265 1121h0M1268 1076h0M1263 1140h0M1261 1070h0M1260 1110h0M1259 1136h0M1262 1134h0M1263 1102h0M1273 1117h0M1259 1139h0M1257 1110h0M1269 1132h0M1270 1117h0M1270 1074h0M1258 1077h0M1266 1082h0M1264 1118h0M1260 1121h0M1266 1135h0M1271 1141h0M1258 1120h0M1272 1073h0M1266 1081h0M1259 1139h0M1271 1118h0M1262 1130h0M1254 1113h0M1270 1128h0M1255 1085h0M1257 1129h0M1265 1072h0M1260 1130h0M1272 1089h0M1266 1126h0M1312 1165h0M1332 1150h0M1299 1138h0M1319 1146h0M1309 1138h0M1282 1161h0M1313 1135h0M1286 1168h0M1306 1154h0M1294 1148h0M1298 1145h0M1323 1146h0M1310 1154h0M1290 1154h0M1309 1164h0M1293 1151h0M1276 1140h0M1319 1175h0M1305 1141h0M1298 1155h0M1290 1160h0M1327 1137h0M1300 1147h0M1307 1152h0M1296 1153h0M1288 1146h0M1294 1139h0M1298 1133h0M1297 1143h0M1290 1145h0M1298 1152h0M1316 1140h0M1300 1151h0M1323 1151h0M1300 1162h0M1284 1173h0M1293 1139h0M1280 1145h0M1308 1151h0M1299 1168h0M1297 1157h0M1298 1159h0M1297 1158h0M1315 1152h0M1286 1129h0M1303 1169h0M1295 1156h0M1286 1170h0M1284 1147h0M1309 1168h0M1295 1146h0M1315 1173h0M1304 1175h0M1293 1160h0M1311 1146h0M1303 1155h0M1296 1168h0M1286 1164h0M1300 1162h0M1306 1168h0M1315 1147h0M1297 1149h0M1301 1158h0M1294 1157h0M1293 1146h0M1299 1140h0M1307 1170h0M1304 1165h0M1308 1146h0M1320 1143h0M1306 1139h0M1286 1155h0M1308 1145h0M1300 1151h0M1311 1134h0M1280 1141h0M1317 1152h0M1282 1155h0M1305 1136h0M1303 1156h0M1271 1157h0M1300 1152h0M1299 1173h0M1290 1127h0M1317 1119h0M1262 1154h0M1312 1149h0M1311 1149h0M1290 1147h0M1314 1144h0M1298 1162h0M1318 1138h0M1279 1140h0M1308 1161h0M1286 1149h0M1294 1160h0M1299 1151h0M1280 1157h0M1290 1167h0M1281 1162h0M1309 1160h0M1278 1156h0M1316 1143h0M1307 1149h0M1298 1142h0M1289 1155h0M1303 1154h0M1296 1153h0M1289 1152h0M1290 1145h0M1306 1141h0M1287 1158h0M1310 1146h0M1298 1143h0M1300 1152h0M1302 1148h0M1292 1140h0M1299 1161h0M1289 1149h0M1290 1139h0M1295 1152h0M1300 1165h0M1314 1154h0M1310 1145h0M1285 1151h0M1324 1150h0M1306 1161h0M1313 1146h0M1323 1148h0M1284 1142h0M1295 1160h0M1300 1149h0M1327 1168h0M1303 1159h0M1312 1160h0M1304 1168h0M1301 1156h0M1284 1152h0M1292 1135h0M1291 1154h0M1293 1154h0M1307 1154h0M1261 1131h0M1301 1164h0M1293 1160h0M1308 1139h0M1290 1145h0M1313 1137h0M1316 1153h0M1263 1164h0M1325 1166h0M1260 1061h0M1345 1178h0M1320 1076h0M1278 1161h0M1319 1093h0M1223 1104h0M1334 1042h0M1300 1112h0M1326 1189h0M1347 1112h0M1345 1135h0M1237 1166h0M1337 1161h0M1334 1115h0M1219 1139h0M1225 1158h0M1256 1131h0M1268 1167h0M1239 1146h0M1242 1186h0M1264 1134h0M1265 1134h0M1273 1151h0M1246 1138h0M1271 1156h0M1227 1183h0M1268 1132h0M1273 1148h0M1268 1131h0M1224 1173h0M1235 1150h0M1267 1136h0M1231 1185h0M1254 1137h0M1258 1136h0M1276 1141h0M1262 1135h0M1274 1151h0M1268 1134h0M1274 1146h0M1267 1133h0M1247 1182h0M1277 1148h0M1270 1132h0M1274 1151h0M1241 1188h0M1273 1136h0M1229 1164h0M1273 1154h0M1229 1159h0M1263 1127h0M1226 1183h0M1229 1184h0M1232 1189h0M1278 1145h0M1259 1132h0M1240 1191h0M1265 1132h0M1228 1157h0M1245 1137h0M1278 1145h0M1217 1182h0M1255 1137h0M1232 1188h0M1267 1135h0M1272 1152h0M1276 1144h0M1272 1140h0M1231 1157h0M1252 1180h0M1219 1192h0M1245 1140h0M1273 1149h0M1272 1154h0M1273 1158h0M1227 1163h0M1228 1194h0M1228 1165h0M1229 1158h0M1252 1136h0M1270 1158h0M1281 1147h0M1271 1133h0M1243 1184h0M1277 1134h0M1270 1137h0M1221 1171h0M1274 1136h0M1243 1186h0M1224 1173h0M1236 1151h0M1226 1156h0M1274 1140h0M1253 1185h0M1237 1148h0M1250 1138h0M1227 1164h0M1231 1190h0M1272 1149h0M1256 1137h0M1227 1153h0M1252 1180h0M1227 1185h0M1265 1134h0M1263 1172h0M1253 1134h0M1275 1142h0M1255 1182h0M1272 1137h0M1222 1164h0M1260 1135h0M1258 1136h0M1227 1166h0M1249 1183h0M1239 1149h0M1245 1188h0M1231 1158h0M1274 1142h0M1242 1184h0M1224 1170h0M1275 1139h0M1235 1153h0M1269 1157h0M1245 1184h0M1265 1133h0M1250 1138h0M1275 1141h0M1270 1157h0M1268 1165h0M1226 1189h0M1266 1168h0M1222 1176h0M1244 1143h0M1273 1147h0M1258 1127h0M1271 1154h0M1271 1141h0M1278 1137h0M1219 1187h0M1254 1178h0M1230 1159h0M1251 1180h0M1277 1155h0M1257 1136h0M1276 1135h0M1274 1151h0M1260 1132h0M1229 1184h0M1273 1143h0M1245 1185h0M1236 1144h0M1252 1137h0M1226 1183h0M1264 1133h0M1274 1142h0M1274 1144h0M1275 1149h0M1236 1190h0M1276 1154h0M1275 1143h0M1273 1133h0M1274 1141h0M1226 1186h0M1262 1171h0M1226 1166h0M1231 1186h0M1246 1184h0M1236 1189h0M1223 1188h0M1274 1147h0M1229 1190h0M1274 1141h0M1224 1171h0M1262 1172h0M1273 1135h0" stroke="#c9cb3a" stroke-opacity=".42" stroke-width="1.7" stroke-linecap="square"/><g transform="translate(624.4 580.3) rotate(42.0)"><ellipse rx="8.0" ry="15.8" fill="#ecedbc" stroke="#fff" stroke-width=".9" stroke-opacity=".85"/><ellipse rx="8.6" ry="16.4" fill="none" stroke="#cfd15a" stroke-width=".5" stroke-opacity=".8"/><ellipse rx="4.96" ry="12.64" fill="url(#R2)"/><ellipse rx="6.86" ry="13.54" fill="none" stroke="#fff" stroke-width=".3" stroke-opacity=".55"/><ellipse rx="5.71" ry="11.29" fill="none" stroke="#fff" stroke-width=".3" stroke-opacity=".55"/><ellipse rx="4.57" ry="9.03" fill="none" stroke="#fff" stroke-width=".3" stroke-opacity=".55"/><ellipse rx="3.43" ry="6.77" fill="none" stroke="#fff" stroke-width=".3" stroke-opacity=".55"/><ellipse rx="2.29" ry="4.51" fill="none" stroke="#fff" stroke-width=".3" stroke-opacity=".55"/><ellipse rx="1.14" ry="2.26" fill="none" stroke="#fff" stroke-width=".3" stroke-opacity=".55"/><ellipse rx="0.56" ry="4.74" fill="#fff" fill-opacity=".55"/></g><rect x="593.4" y="516.3" width="91.0" height="90.9" fill="none" stroke="#999999" stroke-width="1"/><line x1="638.6" y1="516.3" x2="638.6" y2="607.2" stroke="#444" stroke-width="1"/><line x1="593.4" y1="558.5" x2="684.4" y2="558.5" stroke="#333333" stroke-width="1"/><text x="596.0" y="525.9" font-size="8.60" text-anchor="start" fill="#3a3a3a" font-weight="normal" stroke="#3a3a3a" stroke-width=".1" letter-spacing=".45"><tspan dx="-1.00">1</tspan><tspan dx="-0.90">.</tspan>46</text><text x="681.9" y="525.9" font-size="8.60" text-anchor="end" fill="#3a3a3a" font-weight="normal" stroke="#3a3a3a" stroke-width=".1" letter-spacing=".45">0.22</text><text x="596.0" y="604.0" font-size="8.60" text-anchor="start" fill="#3a3a3a" font-weight="normal" stroke="#3a3a3a" stroke-width=".1" letter-spacing=".45">94.3</text><text x="681.9" y="604.0" font-size="8.60" text-anchor="end" fill="#3a3a3a" font-weight="normal" stroke="#3a3a3a" stroke-width=".1" letter-spacing=".45">4.07</text><text transform="translate(36.8 606.6) rotate(-90)" font-size="8.6" fill="#3a3a3a">IFNγ-BV650</text><line x1="33.5" y1="553.7" x2="33.5" y2="518.8" stroke="#4a6385" stroke-width="1"/><path d="M33.5 516.7l-1.7 3.6h3.4z" fill="#4a6385"/><text x="44.9" y="619.0" font-size="8.20" text-anchor="start" fill="#3a3a3a" font-weight="normal" stroke="#3a3a3a" stroke-width=".1" >IL-4 BV421</text><line x1="89.0" y1="616.5" x2="332" y2="616.5" stroke="#4a6385" stroke-width="1"/><path d="M335 616.5l-3.6 -1.7v3.4z" fill="#4a6385"/><text transform="translate(387.5 606.4) rotate(-90)" font-size="8.05" fill="#3a3a3a">IL-17A BV421</text><line x1="384.5" y1="553.7" x2="384.5" y2="518.8" stroke="#4a6385" stroke-width="1"/><path d="M384.5 516.7l-1.7 3.6h3.4z" fill="#4a6385"/><text x="396.0" y="619.0" font-size="8.60" text-anchor="start" fill="#3a3a3a" font-weight="normal" stroke="#3a3a3a" stroke-width=".1" >IFNγ AF488</text><line x1="447.7" y1="616.5" x2="681" y2="616.5" stroke="#4a6385" stroke-width="1"/><path d="M684.5 616.5l-3.6 -1.7v3.4z" fill="#4a6385"/><text x="0.0" y="638.0" font-size="11.50" text-anchor="start" fill="#000" font-weight="bold" >f</text><path d="M31.4 649.4V748.2H283.0" stroke="#a0a0a0" stroke-width="1" fill="none"/><line x1="28.1" y1="748.2" x2="31.4" y2="748.2" stroke="#a0a0a0" stroke-width="1"/><text x="24.4" y="751.1" font-size="8.00" text-anchor="end" fill="#3a3a3a" font-weight="normal" stroke="#3a3a3a" stroke-width=".1" letter-spacing=".35">0</text><line x1="28.1" y1="723.5" x2="31.4" y2="723.5" stroke="#a0a0a0" stroke-width="1"/><text x="24.4" y="726.4" font-size="8.00" text-anchor="end" fill="#3a3a3a" font-weight="normal" stroke="#3a3a3a" stroke-width=".1" letter-spacing=".35">20</text><line x1="28.1" y1="698.8" x2="31.4" y2="698.8" stroke="#a0a0a0" stroke-width="1"/><text x="24.4" y="701.7" font-size="8.00" text-anchor="end" fill="#3a3a3a" font-weight="normal" stroke="#3a3a3a" stroke-width=".1" letter-spacing=".35">40</text><line x1="28.1" y1="674.1" x2="31.4" y2="674.1" stroke="#a0a0a0" stroke-width="1"/><text x="24.4" y="677.0" font-size="8.00" text-anchor="end" fill="#3a3a3a" font-weight="normal" stroke="#3a3a3a" stroke-width=".1" letter-spacing=".35">60</text><line x1="28.1" y1="649.4" x2="31.4" y2="649.4" stroke="#a0a0a0" stroke-width="1"/><text x="24.4" y="652.3" font-size="8.00" text-anchor="end" fill="#3a3a3a" font-weight="normal" stroke="#3a3a3a" stroke-width=".1" letter-spacing=".35">80</text><rect x="36.2" y="677.2" width="9.4" height="71.0" fill="#b7d3a0" stroke="#6a6a6a" stroke-width=".6"/><circle cx="41.0" cy="671.9" r="1.95" fill="#6aad46" stroke="#2f5a1e" stroke-width=".7"/><circle cx="41.0" cy="677.2" r="1.95" fill="#6aad46" stroke="#2f5a1e" stroke-width=".7"/><circle cx="41.0" cy="682.0" r="1.95" fill="#6aad46" stroke="#2f5a1e" stroke-width=".7"/><rect x="50.2" y="698.3" width="9.4" height="49.9" fill="#a0c7ec" stroke="#6a6a6a" stroke-width=".6"/><path d="M54.9 693.8V702.8M53.4 693.8h3M53.4 702.8h3" stroke="#777" stroke-width=".6" fill="none"/><circle cx="52.4" cy="693.7" r="1.95" fill="#1c93de" stroke="#134f7a" stroke-width=".7"/><circle cx="57.9" cy="693.7" r="1.95" fill="#1c93de" stroke="#134f7a" stroke-width=".7"/><circle cx="54.9" cy="706.2" r="1.95" fill="#1c93de" stroke="#134f7a" stroke-width=".7"/><rect x="64.2" y="722.7" width="9.4" height="25.5" fill="#f5d89e" stroke="#6a6a6a" stroke-width=".6"/><circle cx="66.2" cy="720.0" r="1.95" fill="#f2b630" stroke="#86621a" stroke-width=".7"/><circle cx="71.7" cy="721.2" r="1.95" fill="#f2b630" stroke="#86621a" stroke-width=".7"/><circle cx="68.9" cy="725.7" r="1.95" fill="#f2b630" stroke="#86621a" stroke-width=".7"/><line x1="54.9" y1="748.2" x2="54.9" y2="751.7" stroke="#a0a0a0" stroke-width="1"/><text x="55.0" y="762.0" font-size="8.30" text-anchor="middle" fill="#3a3a3a" font-weight="normal" stroke="#3a3a3a" stroke-width=".1" letter-spacing=".2">Basal</text><rect x="87.6" y="744.3" width="9.4" height="3.9" fill="#b7d3a0" stroke="#6a6a6a" stroke-width=".6"/><circle cx="89.5" cy="744.1" r="1.95" fill="#6aad46" stroke="#2f5a1e" stroke-width=".7"/><circle cx="92.4" cy="741.6" r="1.95" fill="#6aad46" stroke="#2f5a1e" stroke-width=".7"/><circle cx="95.1" cy="743.6" r="1.95" fill="#6aad46" stroke="#2f5a1e" stroke-width=".7"/><rect x="101.6" y="744.1" width="9.4" height="4.1" fill="#a0c7ec" stroke="#6a6a6a" stroke-width=".6"/><circle cx="103.3" cy="743.8" r="1.95" fill="#1c93de" stroke="#134f7a" stroke-width=".7"/><circle cx="106.3" cy="741.4" r="1.95" fill="#1c93de" stroke="#134f7a" stroke-width=".7"/><circle cx="109.2" cy="742.5" r="1.95" fill="#1c93de" stroke="#134f7a" stroke-width=".7"/><rect x="115.6" y="745.6" width="9.4" height="2.6" fill="#f5d89e" stroke="#6a6a6a" stroke-width=".6"/><circle cx="117.2" cy="745.1" r="1.95" fill="#f2b630" stroke="#86621a" stroke-width=".7"/><circle cx="120.5" cy="742.4" r="1.95" fill="#f2b630" stroke="#86621a" stroke-width=".7"/><circle cx="123.1" cy="743.8" r="1.95" fill="#f2b630" stroke="#86621a" stroke-width=".7"/><line x1="106.3" y1="748.2" x2="106.3" y2="751.7" stroke="#a0a0a0" stroke-width="1"/><text x="106.2" y="762.0" font-size="8.30" text-anchor="middle" fill="#3a3a3a" font-weight="normal" stroke="#3a3a3a" stroke-width=".1" letter-spacing=".2">Oligo</text><rect x="139.1" y="692.3" width="9.4" height="55.9" fill="#b7d3a0" stroke="#6a6a6a" stroke-width=".6"/><path d="M143.8 688.3V696.3M142.3 688.3h3M142.3 696.3h3" stroke="#777" stroke-width=".6" fill="none"/><circle cx="140.8" cy="687.4" r="1.95" fill="#6aad46" stroke="#2f5a1e" stroke-width=".7"/><circle cx="146.0" cy="687.4" r="1.95" fill="#6aad46" stroke="#2f5a1e" stroke-width=".7"/><circle cx="143.4" cy="701.0" r="1.95" fill="#6aad46" stroke="#2f5a1e" stroke-width=".7"/><rect x="153.1" y="689.5" width="9.4" height="58.7" fill="#a0c7ec" stroke="#6a6a6a" stroke-width=".6"/><circle cx="154.7" cy="690.0" r="1.95" fill="#1c93de" stroke="#134f7a" stroke-width=".7"/><circle cx="160.1" cy="690.0" r="1.95" fill="#1c93de" stroke="#134f7a" stroke-width=".7"/><circle cx="157.3" cy="694.2" r="1.95" fill="#1c93de" stroke="#134f7a" stroke-width=".7"/><rect x="167.1" y="717.2" width="9.4" height="31.0" fill="#f5d89e" stroke="#6a6a6a" stroke-width=".6"/><circle cx="168.5" cy="719.1" r="1.95" fill="#f2b630" stroke="#86621a" stroke-width=".7"/><circle cx="171.4" cy="715.1" r="1.95" fill="#f2b630" stroke="#86621a" stroke-width=".7"/><circle cx="174.2" cy="717.2" r="1.95" fill="#f2b630" stroke="#86621a" stroke-width=".7"/><line x1="157.8" y1="748.2" x2="157.8" y2="751.7" stroke="#a0a0a0" stroke-width="1"/><text x="157.6" y="762.0" font-size="8.30" text-anchor="middle" fill="#3a3a3a" font-weight="normal" stroke="#3a3a3a" stroke-width=".1" letter-spacing=".2">Eto</text><rect x="190.4" y="729.5" width="9.4" height="18.7" fill="#b7d3a0" stroke="#6a6a6a" stroke-width=".6"/><path d="M195.1 727.0V732.0M193.6 727.0h3M193.6 732.0h3" stroke="#777" stroke-width=".6" fill="none"/><circle cx="191.9" cy="725.8" r="1.95" fill="#6aad46" stroke="#2f5a1e" stroke-width=".7"/><circle cx="197.4" cy="729.5" r="1.95" fill="#6aad46" stroke="#2f5a1e" stroke-width=".7"/><circle cx="191.9" cy="732.4" r="1.95" fill="#6aad46" stroke="#2f5a1e" stroke-width=".7"/><rect x="204.4" y="730.4" width="9.4" height="17.8" fill="#a0c7ec" stroke="#6a6a6a" stroke-width=".6"/><circle cx="205.9" cy="731.3" r="1.95" fill="#1c93de" stroke="#134f7a" stroke-width=".7"/><circle cx="208.6" cy="727.6" r="1.95" fill="#1c93de" stroke="#134f7a" stroke-width=".7"/><circle cx="211.6" cy="728.4" r="1.95" fill="#1c93de" stroke="#134f7a" stroke-width=".7"/><rect x="218.4" y="741.2" width="9.4" height="7.0" fill="#f5d89e" stroke="#6a6a6a" stroke-width=".6"/><circle cx="219.8" cy="737.2" r="1.95" fill="#f2b630" stroke="#86621a" stroke-width=".7"/><circle cx="225.3" cy="740.4" r="1.95" fill="#f2b630" stroke="#86621a" stroke-width=".7"/><circle cx="219.8" cy="744.1" r="1.95" fill="#f2b630" stroke="#86621a" stroke-width=".7"/><line x1="209.1" y1="748.2" x2="209.1" y2="751.7" stroke="#a0a0a0" stroke-width="1"/><text x="208.6" y="762.0" font-size="8.30" text-anchor="middle" fill="#3a3a3a" font-weight="normal" stroke="#3a3a3a" stroke-width=".1" letter-spacing=".2">TOFA</text><rect x="241.4" y="690.7" width="9.4" height="57.5" fill="#b7d3a0" stroke="#6a6a6a" stroke-width=".6"/><path d="M246.1 686.7V694.7M244.6 686.7h3M244.6 694.7h3" stroke="#777" stroke-width=".6" fill="none"/><circle cx="245.7" cy="684.2" r="1.95" fill="#6aad46" stroke="#2f5a1e" stroke-width=".7"/><circle cx="243.0" cy="692.5" r="1.95" fill="#6aad46" stroke="#2f5a1e" stroke-width=".7"/><circle cx="248.6" cy="692.5" r="1.95" fill="#6aad46" stroke="#2f5a1e" stroke-width=".7"/><rect x="255.4" y="711.3" width="9.4" height="36.9" fill="#a0c7ec" stroke="#6a6a6a" stroke-width=".6"/><path d="M260.1 709.3V713.3M258.6 709.3h3M258.6 713.3h3" stroke="#777" stroke-width=".6" fill="none"/><circle cx="257.1" cy="707.5" r="1.95" fill="#1c93de" stroke="#134f7a" stroke-width=".7"/><circle cx="262.5" cy="711.3" r="1.95" fill="#1c93de" stroke="#134f7a" stroke-width=".7"/><circle cx="257.1" cy="714.5" r="1.95" fill="#1c93de" stroke="#134f7a" stroke-width=".7"/><rect x="269.4" y="723.1" width="9.4" height="25.1" fill="#f5d89e" stroke="#6a6a6a" stroke-width=".6"/><circle cx="271.3" cy="720.4" r="1.95" fill="#f2b630" stroke="#86621a" stroke-width=".7"/><circle cx="276.3" cy="724.0" r="1.95" fill="#f2b630" stroke="#86621a" stroke-width=".7"/><circle cx="271.3" cy="724.9" r="1.95" fill="#f2b630" stroke="#86621a" stroke-width=".7"/><line x1="260.1" y1="748.2" x2="260.1" y2="751.7" stroke="#a0a0a0" stroke-width="1"/><text x="259.8" y="762.0" font-size="8.30" text-anchor="middle" fill="#3a3a3a" font-weight="normal" stroke="#3a3a3a" stroke-width=".1" letter-spacing="-.6">BPTES</text><path d="M40.5 646.4V641.2H69.4V646.4" stroke="#a8a8a8" stroke-width=".8" fill="none"/><text x="55.0" y="638.5" font-size="6.50" text-anchor="middle" fill="#4a4a4a" font-weight="normal" stroke="#4a4a4a" stroke-width=".1" letter-spacing="-.15">&lt;0.0001</text><path d="M40.5 665.7V661.4H55.2V668.0" stroke="#a8a8a8" stroke-width=".8" fill="none"/><text x="47.9" y="658.6" font-size="6.50" text-anchor="middle" fill="#4a4a4a" font-weight="normal" stroke="#4a4a4a" stroke-width=".1" letter-spacing="-.15">&lt;0.0001</text><path d="M55.2 687.5V682.4H69.6V714.8" stroke="#a8a8a8" stroke-width=".8" fill="none"/><text x="62.0" y="679.6" font-size="6.50" text-anchor="middle" fill="#4a4a4a" font-weight="normal" stroke="#4a4a4a" stroke-width=".1" letter-spacing="-.15">&lt;0.0001</text><path d="M143.4 658.1V654.9H171.6V667.2" stroke="#a8a8a8" stroke-width=".8" fill="none"/><text x="157.5" y="652.6" font-size="6.50" text-anchor="middle" fill="#4a4a4a" font-weight="normal" stroke="#4a4a4a" stroke-width=".1" letter-spacing="-.15">&lt;0.0001</text><path d="M157.3 683.9V680.6H171.6V709.9" stroke="#a8a8a8" stroke-width=".8" fill="none"/><text x="164.5" y="678.3" font-size="6.50" text-anchor="middle" fill="#4a4a4a" font-weight="normal" stroke="#4a4a4a" stroke-width=".1" letter-spacing="-.15">&lt;0.0001</text><path d="M194.3 702.9V695.6H222.5V702.9" stroke="#a8a8a8" stroke-width=".8" fill="none"/><text x="208.5" y="693.7" font-size="6.50" text-anchor="middle" fill="#4a4a4a" font-weight="normal" stroke="#4a4a4a" stroke-width=".1" letter-spacing="-.15">0.0031</text><path d="M208.4 722.1V716.4H222.5V732.7" stroke="#a8a8a8" stroke-width=".8" fill="none"/><text x="215.5" y="714.6" font-size="6.50" text-anchor="middle" fill="#4a4a4a" font-weight="normal" stroke="#4a4a4a" stroke-width=".1" letter-spacing="-.15">0.0033</text><path d="M245.4 657.9V653.2H273.6V676.0" stroke="#a8a8a8" stroke-width=".8" fill="none"/><text x="259.8" y="650.8" font-size="6.50" text-anchor="middle" fill="#4a4a4a" font-weight="normal" stroke="#4a4a4a" stroke-width=".1" letter-spacing="-.15">&lt;0.0001</text><path d="M245.4 678.9V674.4H259.6V678.9" stroke="#a8a8a8" stroke-width=".8" fill="none"/><text x="252.7" y="672.1" font-size="6.50" text-anchor="middle" fill="#4a4a4a" font-weight="normal" stroke="#4a4a4a" stroke-width=".1" letter-spacing="-.15">&lt;0.0001</text><path d="M259.6 700.7V694.5H273.6V715.5" stroke="#a8a8a8" stroke-width=".8" fill="none"/><text x="266.9" y="692.5" font-size="6.50" text-anchor="middle" fill="#4a4a4a" font-weight="normal" stroke="#4a4a4a" stroke-width=".1" letter-spacing="-.15">0.0019</text><circle cx="292.4" cy="653.4" r="2.1" fill="#6aad46" stroke="#2f5a1e" stroke-width=".55"/><text x="299.8" y="655.9" font-size="7.20" text-anchor="start" fill="#444" font-weight="normal" stroke="#444" stroke-width=".1" letter-spacing=".1">Con</text><circle cx="292.4" cy="662.8" r="2.1" fill="#1c93de" stroke="#134f7a" stroke-width=".55"/><text x="299.8" y="665.3" font-size="7.20" text-anchor="start" fill="#444" font-weight="normal" stroke="#444" stroke-width=".1" letter-spacing=".1">IPA100</text><circle cx="292.4" cy="672.3" r="2.1" fill="#f2b630" stroke="#86621a" stroke-width=".55"/><text x="299.8" y="674.8" font-size="7.20" text-anchor="start" fill="#444" font-weight="normal" stroke="#444" stroke-width=".1" letter-spacing=".1">IPA1000</text><text transform="translate(8.4 733.8) rotate(-90)" font-size="7.95" fill="#3a3a3a" letter-spacing=".05">IFNγ<tspan font-size="5.6" dy="-3.2">+</tspan><tspan dy="3.2"> IL-4</tspan><tspan font-size="5.6" dy="-3.2">−</tspan><tspan dy="3.2"> T</tspan><tspan font-size="5.6" dy="1.6">H</tspan><tspan dy="-1.6">1 (%)</tspan></text><text x="349.5" y="638.0" font-size="11.50" text-anchor="start" fill="#000" font-weight="bold" >l</text><path d="M380.9 649.6V748.2H633.1" stroke="#a0a0a0" stroke-width="1" fill="none"/><line x1="377.6" y1="748.2" x2="380.9" y2="748.2" stroke="#a0a0a0" stroke-width="1"/><text x="375.6" y="751.1" font-size="8.00" text-anchor="end" fill="#3a3a3a" font-weight="normal" stroke="#3a3a3a" stroke-width=".1" letter-spacing=".35">0</text><line x1="377.6" y1="723.5" x2="380.9" y2="723.5" stroke="#a0a0a0" stroke-width="1"/><text x="375.6" y="726.4" font-size="8.00" text-anchor="end" fill="#3a3a3a" font-weight="normal" stroke="#3a3a3a" stroke-width=".1" letter-spacing=".35">2</text><line x1="377.6" y1="698.9" x2="380.9" y2="698.9" stroke="#a0a0a0" stroke-width="1"/><text x="375.6" y="701.8" font-size="8.00" text-anchor="end" fill="#3a3a3a" font-weight="normal" stroke="#3a3a3a" stroke-width=".1" letter-spacing=".35">4</text><line x1="377.6" y1="674.2" x2="380.9" y2="674.2" stroke="#a0a0a0" stroke-width="1"/><text x="375.6" y="677.1" font-size="8.00" text-anchor="end" fill="#3a3a3a" font-weight="normal" stroke="#3a3a3a" stroke-width=".1" letter-spacing=".35">6</text><line x1="377.6" y1="649.6" x2="380.9" y2="649.6" stroke="#a0a0a0" stroke-width="1"/><text x="375.6" y="652.5" font-size="8.00" text-anchor="end" fill="#3a3a3a" font-weight="normal" stroke="#3a3a3a" stroke-width=".1" letter-spacing=".35">8</text><rect x="387.6" y="683.3" width="9.4" height="64.9" fill="#b7d3a0" stroke="#6a6a6a" stroke-width=".6"/><path d="M392.3 677.3V689.3M390.8 677.3h3M390.8 689.3h3" stroke="#777" stroke-width=".6" fill="none"/><circle cx="389.4" cy="676.4" r="1.95" fill="#6aad46" stroke="#2f5a1e" stroke-width=".7"/><circle cx="394.4" cy="676.4" r="1.95" fill="#6aad46" stroke="#2f5a1e" stroke-width=".7"/><circle cx="392.2" cy="695.6" r="1.95" fill="#6aad46" stroke="#2f5a1e" stroke-width=".7"/><rect x="401.6" y="716.5" width="9.4" height="31.7" fill="#a0c7ec" stroke="#6a6a6a" stroke-width=".6"/><circle cx="405.9" cy="711.0" r="1.95" fill="#1c93de" stroke="#134f7a" stroke-width=".7"/><circle cx="405.9" cy="716.5" r="1.95" fill="#1c93de" stroke="#134f7a" stroke-width=".7"/><circle cx="405.9" cy="721.1" r="1.95" fill="#1c93de" stroke="#134f7a" stroke-width=".7"/><rect x="415.6" y="728.7" width="9.4" height="19.5" fill="#f5d89e" stroke="#6a6a6a" stroke-width=".6"/><circle cx="417.5" cy="729.4" r="1.95" fill="#f2b630" stroke="#86621a" stroke-width=".7"/><circle cx="420.0" cy="726.3" r="1.95" fill="#f2b630" stroke="#86621a" stroke-width=".7"/><circle cx="422.5" cy="728.7" r="1.95" fill="#f2b630" stroke="#86621a" stroke-width=".7"/><line x1="406.3" y1="748.2" x2="406.3" y2="751.7" stroke="#a0a0a0" stroke-width="1"/><text x="406.0" y="762.0" font-size="8.30" text-anchor="middle" fill="#3a3a3a" font-weight="normal" stroke="#3a3a3a" stroke-width=".1" letter-spacing=".2">Basal</text><rect x="438.4" y="736.1" width="9.4" height="12.1" fill="#b7d3a0" stroke="#6a6a6a" stroke-width=".6"/><circle cx="442.9" cy="731.3" r="1.95" fill="#6aad46" stroke="#2f5a1e" stroke-width=".7"/><circle cx="442.9" cy="735.5" r="1.95" fill="#6aad46" stroke="#2f5a1e" stroke-width=".7"/><circle cx="442.9" cy="740.1" r="1.95" fill="#6aad46" stroke="#2f5a1e" stroke-width=".7"/><rect x="452.4" y="737.0" width="9.4" height="11.2" fill="#a0c7ec" stroke="#6a6a6a" stroke-width=".6"/><circle cx="454.3" cy="733.4" r="1.95" fill="#1c93de" stroke="#134f7a" stroke-width=".7"/><circle cx="459.5" cy="736.1" r="1.95" fill="#1c93de" stroke="#134f7a" stroke-width=".7"/><circle cx="456.8" cy="740.7" r="1.95" fill="#1c93de" stroke="#134f7a" stroke-width=".7"/><rect x="466.4" y="739.2" width="9.4" height="9.0" fill="#f5d89e" stroke="#6a6a6a" stroke-width=".6"/><circle cx="470.9" cy="734.1" r="1.95" fill="#f2b630" stroke="#86621a" stroke-width=".7"/><circle cx="468.3" cy="740.7" r="1.95" fill="#f2b630" stroke="#86621a" stroke-width=".7"/><circle cx="473.4" cy="740.7" r="1.95" fill="#f2b630" stroke="#86621a" stroke-width=".7"/><line x1="457.1" y1="748.2" x2="457.1" y2="751.7" stroke="#a0a0a0" stroke-width="1"/><text x="456.8" y="762.0" font-size="8.30" text-anchor="middle" fill="#3a3a3a" font-weight="normal" stroke="#3a3a3a" stroke-width=".1" letter-spacing=".2">Oligo 3 nM</text><rect x="489.5" y="701.9" width="9.4" height="46.3" fill="#b7d3a0" stroke="#6a6a6a" stroke-width=".6"/><path d="M494.2 697.3V706.5M492.7 697.3h3M492.7 706.5h3" stroke="#777" stroke-width=".6" fill="none"/><circle cx="493.8" cy="693.0" r="1.95" fill="#6aad46" stroke="#2f5a1e" stroke-width=".7"/><circle cx="496.6" cy="704.2" r="1.95" fill="#6aad46" stroke="#2f5a1e" stroke-width=".7"/><circle cx="491.5" cy="707.8" r="1.95" fill="#6aad46" stroke="#2f5a1e" stroke-width=".7"/><rect x="503.5" y="719.0" width="9.4" height="29.2" fill="#a0c7ec" stroke="#6a6a6a" stroke-width=".6"/><circle cx="505.3" cy="716.3" r="1.95" fill="#1c93de" stroke="#134f7a" stroke-width=".7"/><circle cx="510.7" cy="716.3" r="1.95" fill="#1c93de" stroke="#134f7a" stroke-width=".7"/><circle cx="508.0" cy="723.3" r="1.95" fill="#1c93de" stroke="#134f7a" stroke-width=".7"/><rect x="517.5" y="731.4" width="9.4" height="16.8" fill="#f5d89e" stroke="#6a6a6a" stroke-width=".6"/><circle cx="521.8" cy="728.4" r="1.95" fill="#f2b630" stroke="#86621a" stroke-width=".7"/><circle cx="519.2" cy="733.1" r="1.95" fill="#f2b630" stroke="#86621a" stroke-width=".7"/><circle cx="524.5" cy="733.1" r="1.95" fill="#f2b630" stroke="#86621a" stroke-width=".7"/><line x1="508.2" y1="748.2" x2="508.2" y2="751.7" stroke="#a0a0a0" stroke-width="1"/><text x="507.4" y="762.0" font-size="8.30" text-anchor="middle" fill="#3a3a3a" font-weight="normal" stroke="#3a3a3a" stroke-width=".1" letter-spacing=".2">Eto</text><rect x="540.5" y="690.5" width="9.4" height="57.7" fill="#b7d3a0" stroke="#6a6a6a" stroke-width=".6"/><path d="M545.2 686.8V694.2M543.7 686.8h3M543.7 694.2h3" stroke="#777" stroke-width=".6" fill="none"/><circle cx="542.1" cy="683.9" r="1.95" fill="#6aad46" stroke="#2f5a1e" stroke-width=".7"/><circle cx="547.8" cy="685.4" r="1.95" fill="#6aad46" stroke="#2f5a1e" stroke-width=".7"/><circle cx="544.8" cy="699.9" r="1.95" fill="#6aad46" stroke="#2f5a1e" stroke-width=".7"/><rect x="554.5" y="711.7" width="9.4" height="36.5" fill="#a0c7ec" stroke="#6a6a6a" stroke-width=".6"/><circle cx="556.3" cy="711.9" r="1.95" fill="#1c93de" stroke="#134f7a" stroke-width=".7"/><circle cx="561.4" cy="712.5" r="1.95" fill="#1c93de" stroke="#134f7a" stroke-width=".7"/><circle cx="559.0" cy="717.2" r="1.95" fill="#1c93de" stroke="#134f7a" stroke-width=".7"/><rect x="568.5" y="725.1" width="9.4" height="23.1" fill="#f5d89e" stroke="#6a6a6a" stroke-width=".6"/><circle cx="570.2" cy="726.1" r="1.95" fill="#f2b630" stroke="#86621a" stroke-width=".7"/><circle cx="572.8" cy="724.7" r="1.95" fill="#f2b630" stroke="#86621a" stroke-width=".7"/><circle cx="575.5" cy="726.1" r="1.95" fill="#f2b630" stroke="#86621a" stroke-width=".7"/><line x1="559.2" y1="748.2" x2="559.2" y2="751.7" stroke="#a0a0a0" stroke-width="1"/><text x="558.8" y="762.0" font-size="8.30" text-anchor="middle" fill="#3a3a3a" font-weight="normal" stroke="#3a3a3a" stroke-width=".1" letter-spacing=".2">TOFA</text><rect x="591.5" y="732.5" width="9.4" height="15.7" fill="#b7d3a0" stroke="#6a6a6a" stroke-width=".6"/><circle cx="596.1" cy="727.8" r="1.95" fill="#6aad46" stroke="#2f5a1e" stroke-width=".7"/><circle cx="593.4" cy="733.8" r="1.95" fill="#6aad46" stroke="#2f5a1e" stroke-width=".7"/><circle cx="598.8" cy="732.5" r="1.95" fill="#6aad46" stroke="#2f5a1e" stroke-width=".7"/><rect x="605.5" y="727.8" width="9.4" height="20.4" fill="#a0c7ec" stroke="#6a6a6a" stroke-width=".6"/><circle cx="607.2" cy="727.6" r="1.95" fill="#1c93de" stroke="#134f7a" stroke-width=".7"/><circle cx="612.4" cy="727.6" r="1.95" fill="#1c93de" stroke="#134f7a" stroke-width=".7"/><circle cx="609.7" cy="731.9" r="1.95" fill="#1c93de" stroke="#134f7a" stroke-width=".7"/><rect x="619.5" y="735.1" width="9.4" height="13.1" fill="#f5d89e" stroke="#6a6a6a" stroke-width=".6"/><circle cx="623.8" cy="730.0" r="1.95" fill="#f2b630" stroke="#86621a" stroke-width=".7"/><circle cx="621.4" cy="736.5" r="1.95" fill="#f2b630" stroke="#86621a" stroke-width=".7"/><circle cx="626.3" cy="735.4" r="1.95" fill="#f2b630" stroke="#86621a" stroke-width=".7"/><line x1="610.2" y1="748.2" x2="610.2" y2="751.7" stroke="#a0a0a0" stroke-width="1"/><text x="609.9" y="762.0" font-size="8.30" text-anchor="middle" fill="#3a3a3a" font-weight="normal" stroke="#3a3a3a" stroke-width=".1" letter-spacing="-.6">BPTES</text><path d="M391.5 650.9V643.7H419.6V650.9" stroke="#a8a8a8" stroke-width=".8" fill="none"/><text x="406.2" y="640.8" font-size="6.50" text-anchor="middle" fill="#4a4a4a" font-weight="normal" stroke="#4a4a4a" stroke-width=".1" letter-spacing="-.15">&lt;0.0001</text><path d="M391.5 670.3V664.6H405.9V670.3" stroke="#a8a8a8" stroke-width=".8" fill="none"/><text x="399.1" y="662.4" font-size="6.50" text-anchor="middle" fill="#4a4a4a" font-weight="normal" stroke="#4a4a4a" stroke-width=".1" letter-spacing="-.15">&lt;0.0001</text><path d="M405.9 707.8V703.5H419.6V722.2" stroke="#a8a8a8" stroke-width=".8" fill="none"/><text x="413.0" y="701.3" font-size="6.50" text-anchor="middle" fill="#4a4a4a" font-weight="normal" stroke="#4a4a4a" stroke-width=".1" letter-spacing="-.15">0.0190</text><path d="M493.5 672.2V664.7H521.8V688.3" stroke="#a8a8a8" stroke-width=".8" fill="none"/><text x="507.6" y="662.1" font-size="6.50" text-anchor="middle" fill="#4a4a4a" font-weight="normal" stroke="#4a4a4a" stroke-width=".1" letter-spacing="-.15">&lt;0.0001</text><path d="M493.5 688.9V685.6H508.0V691.3" stroke="#a8a8a8" stroke-width=".8" fill="none"/><text x="500.3" y="683.4" font-size="6.50" text-anchor="middle" fill="#4a4a4a" font-weight="normal" stroke="#4a4a4a" stroke-width=".1" letter-spacing="-.15">0.0008</text><path d="M508.0 710.1V701.9H521.8V723.7" stroke="#a8a8a8" stroke-width=".8" fill="none"/><text x="514.7" y="699.5" font-size="6.50" text-anchor="middle" fill="#4a4a4a" font-weight="normal" stroke="#4a4a4a" stroke-width=".1" letter-spacing="-.15">0.0115</text><path d="M544.8 659.5V656.5H572.8V659.5" stroke="#a8a8a8" stroke-width=".8" fill="none"/><text x="559.0" y="654.2" font-size="6.50" text-anchor="middle" fill="#4a4a4a" font-weight="normal" stroke="#4a4a4a" stroke-width=".1" letter-spacing="-.15">&lt;0.0001</text><path d="M544.8 678.3V673.6H558.6V678.3" stroke="#a8a8a8" stroke-width=".8" fill="none"/><text x="551.9" y="671.3" font-size="6.50" text-anchor="middle" fill="#4a4a4a" font-weight="normal" stroke="#4a4a4a" stroke-width=".1" letter-spacing="-.15">&lt;0.0001</text><path d="M558.6 705.4V701.1H572.8V719.0" stroke="#a8a8a8" stroke-width=".8" fill="none"/><text x="565.7" y="699.0" font-size="6.50" text-anchor="middle" fill="#4a4a4a" font-weight="normal" stroke="#4a4a4a" stroke-width=".1" letter-spacing="-.15">0.0264</text><circle cx="638.6" cy="653.4" r="2.1" fill="#6aad46" stroke="#2f5a1e" stroke-width=".55"/><text x="644.9" y="655.9" font-size="7.20" text-anchor="start" fill="#444" font-weight="normal" stroke="#444" stroke-width=".1" letter-spacing=".1">Con</text><circle cx="638.6" cy="662.8" r="2.1" fill="#1c93de" stroke="#134f7a" stroke-width=".55"/><text x="644.9" y="665.3" font-size="7.20" text-anchor="start" fill="#444" font-weight="normal" stroke="#444" stroke-width=".1" letter-spacing=".1">IPA100</text><circle cx="638.6" cy="672.3" r="2.1" fill="#f2b630" stroke="#86621a" stroke-width=".55"/><text x="644.9" y="674.8" font-size="7.20" text-anchor="start" fill="#444" font-weight="normal" stroke="#444" stroke-width=".1" letter-spacing=".1">IPA1000</text><text transform="translate(363.8 740.1) rotate(-90)" font-size="7.9" fill="#3a3a3a" letter-spacing=".05">IL-17A<tspan font-size="5.6" dy="-3.2">+</tspan><tspan dy="3.2"> IFNγ</tspan><tspan font-size="5.6" dy="-3.2">−</tspan><tspan dy="3.2"> T</tspan><tspan font-size="5.6" dy="1.6">H</tspan><tspan dy="-1.6">17 (%)</tspan></text></svg></body></html>
